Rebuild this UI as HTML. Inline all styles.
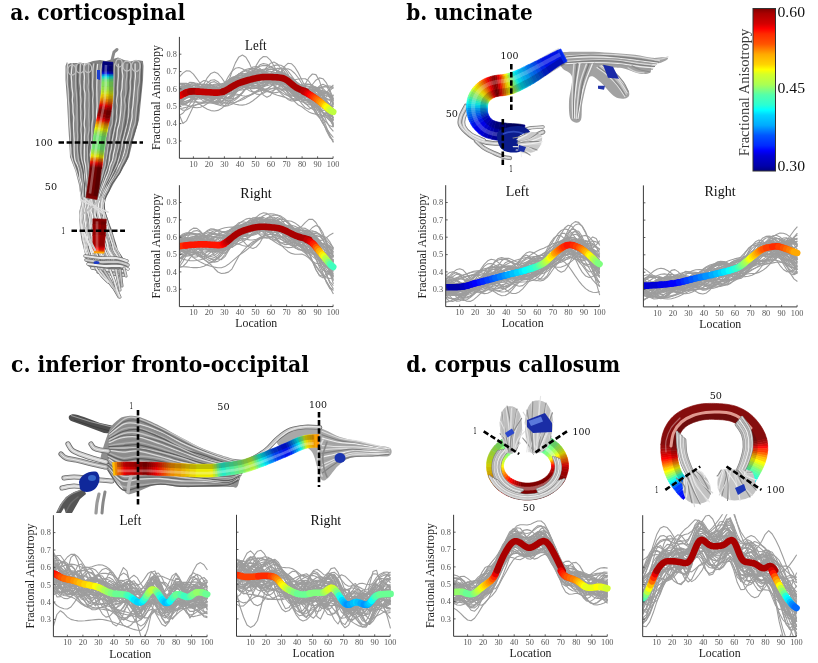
<!DOCTYPE html>
<html><head><meta charset="utf-8"><title>Fiber tract profiles</title>
<style>html,body{margin:0;padding:0;background:#fff;}svg{display:block;}</style></head>
<body><svg width="818" height="663" viewBox="0 0 818 663">
<rect width="818" height="663" fill="#fff"/>
<text x="10.2" y="20.0" font-family="'DejaVu Serif', serif" font-weight="bold" font-size="22" fill="#000" textLength="175.0" lengthAdjust="spacingAndGlyphs">a. corticospinal</text><text x="406.3" y="20.0" font-family="'DejaVu Serif', serif" font-weight="bold" font-size="22" fill="#000" textLength="126.4" lengthAdjust="spacingAndGlyphs">b. uncinate</text><text x="11.0" y="371.5" font-family="'DejaVu Serif', serif" font-weight="bold" font-size="22" fill="#000" textLength="298.0" lengthAdjust="spacingAndGlyphs">c. inferior fronto-occipital</text><text x="406.2" y="371.5" font-family="'DejaVu Serif', serif" font-weight="bold" font-size="22" fill="#000" textLength="214.0" lengthAdjust="spacingAndGlyphs">d. corpus callosum</text>
<path d="M67.0 62.0 L65.5 66.0 L65.5 80.0 L67.0 100.0 L68.0 120.0 L69.3 143.0 L70.0 157.0 L75.4 171.0 L78.8 184.0 L80.8 198.0 L81.0 205.0 L79.4 211.0 L79.4 220.0 L80.0 230.0 L81.5 240.0 L84.0 250.0 L86.0 258.0 L88.0 266.0 L96.0 271.0 L125.0 271.0 L127.0 266.0 L123.0 258.0 L118.0 250.0 L115.0 240.0 L112.0 230.0 L108.0 220.0 L105.2 211.0 L104.5 205.0 L105.9 198.0 L113.4 184.0 L121.5 171.0 L129.0 157.0 L132.4 143.0 L139.0 120.0 L141.0 100.0 L143.0 80.0 L143.5 66.0 L143.0 62.0 L143.0 61.0 L137.0 60.0 L130.0 61.5 L124.0 60.0 L118.0 57.5 L113.0 59.0 L106.0 61.0 L100.0 60.0 L93.0 61.0 L86.0 63.5 L80.0 63.0 L73.0 63.0 L68.0 64.0 Z" fill="#808080" /><path d="M112 60 L114 52 L117 49.5" stroke="#8a8a8a" stroke-width="3" fill="none" stroke-linecap="round"/><g fill="none" stroke-linecap="round"><path d="M67.7 63.7 C67.6 64.7 67.1 68.0 67.1 70.1 C67.1 72.2 67.4 74.1 67.4 76.0 C67.5 78.0 67.1 79.7 67.2 81.8 C67.2 83.9 67.7 86.4 67.9 88.4 C68.1 90.4 68.2 91.7 68.2 93.7 C68.3 95.7 68.3 98.4 68.4 100.4 C68.5 102.4 68.8 103.7 68.9 105.6 C69.1 107.5 69.1 109.7 69.2 111.7 C69.2 113.8 69.2 115.8 69.3 117.9 C69.4 119.9 69.5 122.1 69.6 124.1 C69.7 126.1 69.9 127.8 70.1 129.9 C70.2 131.9 70.5 134.2 70.5 136.2 C70.5 138.2 70.3 140.0 70.3 141.9 C70.3 143.9 70.6 145.9 70.7 148.0 C70.9 150.0 70.6 152.0 70.9 154.0 C71.2 156.0 71.9 157.9 72.5 159.9 C73.1 161.9 73.8 163.9 74.5 165.9 C75.2 167.9 75.9 169.7 76.6 171.7 C77.3 173.6 77.8 175.6 78.4 177.7 C79.0 179.8 79.9 182.1 80.2 184.2 C80.4 186.2 80.0 188.1 80.2 190.1 C80.3 192.0 80.9 194.1 81.2 196.0 C81.5 197.9 81.9 199.5 81.8 201.5 C81.8 203.5 81.3 205.9 81.1 207.9 C80.9 210.0 80.7 211.7 80.6 213.7 C80.5 215.7 80.5 217.7 80.6 219.7 C80.6 221.7 80.5 223.7 80.7 225.8 C80.9 227.9 81.3 230.1 81.7 232.1 C82.1 234.2 82.5 236.1 82.9 238.2 C83.2 240.2 83.4 242.2 83.8 244.2 C84.1 246.2 84.4 248.0 84.9 250.0 C85.4 251.9 86.4 253.9 86.9 255.9 C87.5 257.9 88.0 261.0 88.2 262.0" stroke="#cfcfcf" stroke-width="1.25"/><path d="M70.2 63.9 C70.0 64.9 69.4 68.1 69.3 70.1 C69.1 72.0 69.2 73.8 69.3 75.8 C69.4 77.7 69.6 79.7 69.6 81.7 C69.7 83.7 69.4 85.6 69.5 87.7 C69.7 89.7 70.3 91.9 70.5 93.9 C70.6 95.9 70.3 97.7 70.4 99.7 C70.5 101.7 70.9 103.7 71.0 105.7 C71.1 107.8 70.8 110.1 70.8 112.2 C70.9 114.2 71.0 116.0 71.1 117.9 C71.3 119.9 71.5 121.8 71.7 123.9 C71.8 126.0 71.9 128.4 71.9 130.3 C72.0 132.3 72.0 133.7 72.1 135.7 C72.1 137.6 71.9 139.9 72.0 141.9 C72.1 144.0 72.4 146.1 72.6 148.1 C72.7 150.1 72.6 151.9 72.8 153.9 C73.0 155.8 73.3 157.9 73.9 159.9 C74.4 161.9 75.5 163.8 76.2 165.9 C76.9 168.0 77.6 170.5 78.1 172.5 C78.7 174.4 79.0 175.7 79.6 177.6 C80.1 179.5 80.9 182.0 81.2 184.1 C81.5 186.2 81.1 188.3 81.2 190.2 C81.4 192.2 82.0 193.9 82.2 195.8 C82.3 197.8 82.4 199.7 82.3 201.8 C82.2 203.8 82.0 206.2 81.8 208.3 C81.6 210.3 81.0 212.2 81.0 214.1 C81.0 216.0 81.5 217.7 81.6 219.7 C81.7 221.7 81.6 223.9 81.7 225.9 C81.7 227.9 81.7 229.7 81.9 231.7 C82.2 233.8 82.7 236.1 83.1 238.1 C83.5 240.2 83.8 242.0 84.3 244.0 C84.8 246.0 85.6 248.1 86.1 250.1 C86.7 252.1 87.3 254.1 87.8 256.1 C88.3 258.2 89.0 261.4 89.3 262.5" stroke="#6c6c6c" stroke-width="1.25"/><path d="M72.3 64.0 C72.2 65.0 71.8 67.7 71.6 69.8 C71.4 71.8 71.3 74.1 71.3 76.2 C71.3 78.3 71.6 80.5 71.7 82.4 C71.8 84.3 71.7 85.7 71.9 87.6 C72.1 89.6 72.7 92.2 72.8 94.3 C72.8 96.4 72.4 98.5 72.4 100.3 C72.4 102.2 72.8 103.6 72.9 105.5 C73.0 107.5 72.9 109.8 73.0 111.9 C73.2 113.9 73.7 115.8 73.8 117.8 C73.8 119.8 73.5 121.9 73.5 123.9 C73.5 125.9 73.6 127.7 73.7 129.8 C73.8 131.8 73.9 134.3 74.0 136.3 C74.1 138.3 74.3 139.8 74.3 141.8 C74.3 143.7 74.1 146.0 74.1 148.0 C74.1 150.0 74.2 151.8 74.3 153.8 C74.5 155.9 74.6 158.5 75.2 160.5 C75.7 162.5 77.0 163.8 77.7 165.8 C78.5 167.7 79.2 170.3 79.5 172.3 C79.9 174.4 79.6 175.9 79.9 177.9 C80.3 179.8 81.2 182.1 81.6 184.2 C82.0 186.2 82.1 187.9 82.3 189.9 C82.5 192.0 82.6 194.5 82.9 196.5 C83.1 198.5 83.8 199.8 83.7 201.9 C83.5 203.9 82.6 206.7 82.2 208.7 C81.8 210.7 81.6 211.9 81.5 213.9 C81.5 215.8 81.7 218.1 81.9 220.1 C82.1 222.2 82.5 224.1 82.7 226.1 C82.8 228.1 82.6 230.1 82.8 232.1 C83.1 234.2 83.7 236.5 84.1 238.5 C84.5 240.4 84.9 241.7 85.4 243.7 C85.8 245.6 86.1 248.4 86.6 250.4 C87.1 252.3 87.8 253.5 88.4 255.5 C89.0 257.4 89.7 260.9 90.0 262.0" stroke="#e6e6e6" stroke-width="1.25"/><path d="M74.5 63.7 C74.4 64.8 73.9 68.2 73.7 70.2 C73.5 72.2 73.3 73.9 73.4 76.0 C73.4 78.0 73.9 80.4 74.1 82.4 C74.2 84.5 74.1 86.2 74.2 88.1 C74.3 90.0 74.5 92.0 74.6 94.0 C74.7 95.9 74.6 97.8 74.7 99.8 C74.7 101.8 74.7 104.0 74.9 106.0 C75.1 108.0 75.7 109.9 75.8 112.0 C75.9 114.0 75.7 116.3 75.6 118.3 C75.6 120.4 75.5 122.3 75.4 124.3 C75.3 126.2 75.0 128.2 75.1 130.0 C75.2 131.9 75.9 133.4 76.0 135.4 C76.1 137.4 75.6 140.2 75.6 142.3 C75.6 144.3 75.9 145.8 76.0 147.7 C76.0 149.7 75.8 151.8 76.1 153.9 C76.3 155.9 76.8 158.1 77.3 160.1 C77.7 162.1 78.3 163.8 78.8 165.8 C79.4 167.9 80.0 170.3 80.5 172.3 C81.0 174.4 81.3 176.3 81.7 178.2 C82.0 180.1 82.4 181.7 82.6 183.7 C82.8 185.7 82.8 188.1 82.9 190.2 C83.1 192.2 83.5 193.8 83.6 195.8 C83.7 197.8 83.4 200.0 83.3 202.0 C83.2 204.1 83.2 205.9 83.0 207.9 C82.8 209.9 82.4 212.0 82.4 214.1 C82.4 216.1 82.6 218.2 82.7 220.2 C82.9 222.3 83.2 224.4 83.5 226.3 C83.7 228.3 83.9 230.0 84.1 231.9 C84.4 233.9 84.6 236.1 84.9 238.1 C85.2 240.2 85.7 242.2 86.2 244.1 C86.7 246.1 87.6 247.8 88.1 249.8 C88.6 251.8 88.5 254.2 89.1 256.3 C89.6 258.4 90.8 261.2 91.2 262.2" stroke="#8c8c8c" stroke-width="1.25"/><path d="M76.0 64.4 C76.0 65.4 75.9 68.0 75.9 70.0 C75.8 71.9 75.6 74.0 75.6 76.0 C75.5 78.0 75.7 79.9 75.7 81.9 C75.7 84.0 75.7 86.3 75.8 88.3 C75.9 90.3 76.2 92.2 76.4 94.0 C76.5 95.9 76.6 97.4 76.7 99.4 C76.8 101.4 77.0 103.8 77.0 105.9 C77.1 108.0 77.0 110.0 77.0 112.0 C77.0 114.1 77.0 116.3 77.0 118.2 C77.1 120.2 77.2 121.8 77.2 123.8 C77.2 125.7 77.2 128.0 77.2 130.0 C77.3 132.1 77.7 133.8 77.7 135.9 C77.7 137.9 77.3 140.2 77.2 142.3 C77.2 144.3 77.4 146.4 77.4 148.3 C77.5 150.2 77.6 151.9 77.8 153.8 C77.9 155.8 78.0 158.1 78.5 160.1 C78.9 162.1 79.9 163.9 80.5 166.0 C81.1 168.0 81.6 170.6 82.0 172.5 C82.4 174.5 82.4 175.9 82.6 177.7 C82.8 179.6 83.1 181.6 83.3 183.7 C83.5 185.7 83.7 187.7 83.8 189.8 C83.9 191.9 83.9 194.2 83.9 196.1 C83.9 198.1 83.7 199.6 83.7 201.7 C83.8 203.7 84.3 206.2 84.2 208.3 C84.2 210.3 83.4 212.1 83.3 214.1 C83.3 216.1 83.7 218.2 83.9 220.1 C84.0 222.1 83.9 223.7 84.1 225.7 C84.2 227.6 84.5 229.8 84.8 231.8 C85.0 233.8 85.2 235.8 85.6 237.8 C86.0 239.8 86.6 241.9 87.2 243.9 C87.7 245.9 88.4 247.6 88.9 249.7 C89.5 251.8 89.9 254.4 90.4 256.5 C91.0 258.6 91.9 261.3 92.2 262.3" stroke="#b8b8b8" stroke-width="1.25"/><path d="M78.7 64.3 C78.6 65.2 78.2 67.7 78.0 69.7 C77.8 71.6 77.8 73.9 77.7 75.9 C77.6 77.9 77.4 79.9 77.5 81.9 C77.5 83.8 77.7 85.6 77.8 87.6 C78.0 89.6 78.4 92.0 78.5 94.0 C78.6 96.0 78.5 97.8 78.6 99.8 C78.6 101.7 78.7 103.9 78.7 105.9 C78.8 107.9 78.9 110.0 78.9 112.0 C79.0 114.0 79.0 116.1 79.1 118.1 C79.2 120.1 79.4 122.1 79.4 124.1 C79.4 126.0 79.1 127.9 79.1 129.8 C79.1 131.8 79.4 134.0 79.4 136.0 C79.5 137.9 79.5 139.4 79.3 141.4 C79.2 143.4 78.7 145.9 78.7 148.1 C78.7 150.2 79.2 152.4 79.5 154.3 C79.8 156.3 80.0 158.2 80.3 160.1 C80.7 161.9 81.2 163.7 81.6 165.6 C82.1 167.6 82.8 169.8 83.2 171.8 C83.6 173.9 83.6 176.0 83.9 178.1 C84.1 180.1 84.4 182.2 84.6 184.2 C84.7 186.2 84.6 188.0 84.6 189.9 C84.6 191.9 84.6 193.9 84.8 195.9 C84.9 197.9 85.5 199.9 85.4 201.9 C85.4 204.0 84.9 206.2 84.7 208.2 C84.5 210.3 84.2 212.2 84.1 214.2 C84.0 216.2 83.7 218.2 83.9 220.1 C84.1 222.0 85.0 223.9 85.3 225.8 C85.5 227.8 85.4 229.8 85.6 231.8 C85.9 233.8 86.3 235.7 86.8 237.7 C87.2 239.7 88.1 241.8 88.5 243.9 C88.9 246.0 88.7 248.4 89.2 250.4 C89.8 252.5 91.0 254.2 91.7 256.1 C92.4 258.0 93.1 260.9 93.4 261.9" stroke="#5f5f5f" stroke-width="1.25"/><path d="M80.5 64.2 C80.4 65.2 80.3 68.3 80.2 70.2 C80.1 72.2 80.0 73.9 80.0 75.9 C79.9 77.9 79.8 80.3 79.9 82.3 C80.0 84.3 80.5 85.9 80.6 87.9 C80.7 89.9 80.3 92.3 80.4 94.3 C80.4 96.4 80.9 98.2 80.9 100.2 C81.0 102.1 80.6 103.9 80.6 105.9 C80.5 107.9 80.9 110.0 80.9 112.1 C80.9 114.1 80.7 116.3 80.7 118.3 C80.8 120.3 81.2 122.2 81.3 124.1 C81.3 126.1 80.8 128.1 80.9 130.0 C80.9 131.9 81.4 133.6 81.4 135.6 C81.5 137.6 81.3 140.1 81.2 142.2 C81.1 144.3 80.9 146.2 80.9 148.2 C80.9 150.2 80.8 152.3 81.0 154.3 C81.1 156.3 81.4 158.1 81.8 160.1 C82.3 162.0 83.1 164.3 83.5 166.2 C84.0 168.1 84.3 169.7 84.5 171.7 C84.7 173.7 84.5 176.2 84.7 178.2 C84.8 180.3 85.5 182.1 85.7 184.0 C85.8 185.9 85.7 187.8 85.7 189.7 C85.8 191.7 85.7 193.7 85.7 195.7 C85.7 197.7 85.9 199.8 85.7 201.9 C85.6 203.9 85.0 206.0 84.9 208.0 C84.8 210.0 85.1 211.7 85.1 213.7 C85.1 215.8 84.7 218.2 84.8 220.3 C84.9 222.4 85.3 224.5 85.6 226.4 C85.9 228.4 86.2 230.0 86.6 232.0 C86.9 234.0 87.2 236.4 87.7 238.4 C88.1 240.5 88.6 242.3 89.1 244.1 C89.6 246.0 90.1 247.6 90.6 249.6 C91.1 251.6 91.6 254.3 92.2 256.4 C92.9 258.5 94.1 261.2 94.4 262.1" stroke="#cfcfcf" stroke-width="1.25"/><path d="M82.8 63.9 C82.7 64.8 82.3 67.8 82.2 69.8 C82.0 71.8 82.1 73.8 82.1 75.8 C82.1 77.9 82.0 80.1 82.0 82.1 C82.0 84.2 82.1 86.2 82.2 88.2 C82.3 90.2 82.5 92.2 82.6 94.1 C82.8 96.0 83.1 97.6 83.1 99.6 C83.1 101.6 82.5 104.0 82.5 106.2 C82.5 108.3 83.1 110.5 83.2 112.5 C83.4 114.5 83.4 116.3 83.3 118.2 C83.2 120.2 82.9 122.3 82.9 124.2 C82.8 126.1 83.2 127.8 83.2 129.7 C83.1 131.7 82.7 134.1 82.7 136.0 C82.6 137.9 82.9 139.2 82.9 141.3 C82.9 143.3 82.8 145.9 82.8 148.1 C82.7 150.2 82.5 152.1 82.6 154.1 C82.7 156.0 83.0 157.8 83.3 159.7 C83.6 161.7 84.2 163.9 84.5 165.9 C84.8 168.0 84.9 170.1 85.2 172.1 C85.5 174.0 86.1 175.7 86.3 177.6 C86.4 179.6 85.8 181.5 85.9 183.6 C86.0 185.6 86.8 187.9 86.9 189.9 C86.9 192.0 86.5 193.9 86.4 195.8 C86.2 197.7 86.2 199.4 86.1 201.5 C86.0 203.5 85.9 206.0 85.7 208.1 C85.5 210.1 84.9 211.8 84.8 213.7 C84.8 215.7 85.2 217.9 85.5 220.0 C85.8 222.1 86.2 224.2 86.6 226.3 C86.9 228.3 87.3 230.4 87.7 232.3 C88.1 234.2 88.5 235.7 88.8 237.7 C89.1 239.7 89.3 242.2 89.7 244.3 C90.2 246.3 91.0 248.1 91.5 250.0 C92.0 251.9 92.3 253.5 92.9 255.5 C93.6 257.5 95.0 261.0 95.4 262.1" stroke="#6c6c6c" stroke-width="1.25"/><path d="M84.7 63.9 C84.5 64.9 83.8 68.0 83.8 70.1 C83.7 72.2 84.3 74.4 84.4 76.4 C84.5 78.4 84.2 80.0 84.2 81.9 C84.1 83.9 84.0 86.3 84.1 88.3 C84.2 90.3 84.9 91.9 85.0 93.8 C85.1 95.8 84.9 98.1 84.9 100.0 C84.8 101.9 84.7 103.4 84.7 105.4 C84.7 107.4 84.9 110.1 84.9 112.2 C84.9 114.2 84.8 115.8 84.7 117.8 C84.6 119.8 84.1 122.3 84.2 124.3 C84.2 126.4 84.9 128.1 85.0 130.0 C85.0 131.9 84.7 133.9 84.6 135.8 C84.5 137.8 84.6 139.9 84.5 141.9 C84.5 143.9 84.4 145.9 84.4 148.0 C84.3 150.1 84.3 152.4 84.3 154.4 C84.3 156.4 84.2 158.2 84.4 160.1 C84.6 162.0 85.3 163.7 85.6 165.7 C85.9 167.7 85.9 170.1 86.1 172.2 C86.2 174.2 86.5 175.9 86.7 177.8 C86.9 179.7 87.3 181.7 87.4 183.7 C87.5 185.8 87.2 187.9 87.2 190.0 C87.2 192.1 87.4 194.2 87.3 196.3 C87.2 198.3 86.9 200.3 86.7 202.2 C86.6 204.2 86.4 206.0 86.3 208.0 C86.2 210.0 86.0 212.2 86.0 214.2 C85.9 216.2 85.9 218.1 86.2 220.1 C86.4 222.0 87.2 224.0 87.6 225.9 C88.0 227.9 88.4 229.8 88.7 231.8 C89.0 233.8 89.1 235.9 89.4 237.9 C89.7 239.9 90.1 241.7 90.6 243.7 C91.1 245.7 91.6 247.9 92.2 250.0 C92.8 252.1 93.4 254.3 94.2 256.2 C94.9 258.2 96.3 260.7 96.7 261.6" stroke="#e6e6e6" stroke-width="1.25"/><path d="M87.1 64.0 C86.9 65.1 86.5 68.6 86.4 70.6 C86.3 72.6 86.6 74.3 86.6 76.1 C86.6 77.9 86.3 79.5 86.3 81.5 C86.4 83.4 86.6 85.7 86.7 87.8 C86.7 89.9 86.6 91.9 86.7 94.0 C86.7 96.1 87.0 98.5 87.1 100.5 C87.1 102.6 87.1 104.4 87.1 106.3 C87.1 108.3 86.9 110.2 86.9 112.1 C86.9 114.0 87.1 115.7 87.2 117.6 C87.3 119.6 87.5 121.7 87.4 123.8 C87.3 125.9 86.4 128.4 86.4 130.4 C86.3 132.4 87.0 133.8 87.0 135.8 C87.0 137.9 86.3 140.8 86.1 142.8 C86.0 144.7 86.2 145.6 86.1 147.5 C86.1 149.5 85.7 152.4 85.8 154.5 C85.8 156.6 86.2 158.2 86.4 160.2 C86.7 162.1 87.2 164.3 87.4 166.2 C87.7 168.1 87.7 169.7 87.8 171.6 C87.9 173.5 88.1 175.6 88.2 177.7 C88.2 179.9 88.2 182.4 88.2 184.4 C88.2 186.5 88.2 188.1 88.1 190.0 C88.1 192.0 87.8 194.2 87.8 196.2 C87.7 198.1 87.9 199.6 87.8 201.7 C87.7 203.7 87.2 206.4 87.0 208.4 C86.9 210.5 86.9 212.0 86.9 213.8 C86.9 215.7 86.9 217.4 87.1 219.5 C87.2 221.6 87.6 224.4 87.9 226.4 C88.3 228.5 88.7 229.9 89.1 231.8 C89.5 233.7 89.7 236.0 90.1 238.0 C90.5 240.0 91.2 241.9 91.6 243.9 C92.1 245.9 92.4 248.2 93.1 250.2 C93.7 252.2 95.0 253.8 95.7 255.9 C96.4 257.9 96.9 261.2 97.2 262.3" stroke="#8c8c8c" stroke-width="1.25"/><path d="M88.6 63.9 C88.6 64.9 88.4 68.1 88.4 70.0 C88.3 72.0 88.3 73.8 88.3 75.8 C88.3 77.7 88.5 79.8 88.5 81.7 C88.4 83.7 88.0 85.5 88.1 87.5 C88.2 89.5 88.7 91.5 88.9 93.6 C89.0 95.7 88.9 98.1 88.9 100.2 C89.0 102.2 89.1 104.0 89.1 106.0 C89.0 107.9 88.8 110.1 88.8 112.0 C88.7 114.0 88.7 115.7 88.8 117.7 C88.9 119.6 89.1 121.7 89.1 123.8 C89.1 125.9 89.1 128.1 89.0 130.1 C88.8 132.2 88.3 134.2 88.1 136.1 C88.0 138.0 88.4 139.7 88.3 141.7 C88.2 143.6 87.7 145.7 87.5 147.7 C87.4 149.8 87.6 152.1 87.6 154.1 C87.7 156.1 87.7 157.8 87.8 159.8 C87.9 161.9 88.1 164.3 88.4 166.3 C88.6 168.3 89.3 170.1 89.4 172.0 C89.4 174.0 88.8 176.2 88.8 178.2 C88.8 180.2 89.1 182.1 89.2 184.1 C89.3 186.1 89.4 188.3 89.2 190.2 C89.1 192.2 88.4 193.8 88.2 195.8 C88.1 197.7 88.6 200.0 88.6 202.1 C88.5 204.1 88.1 206.0 87.9 208.0 C87.6 210.0 87.1 212.1 87.2 214.1 C87.3 216.1 88.2 218.1 88.4 220.1 C88.6 222.1 88.4 223.9 88.7 225.9 C88.9 227.9 89.4 230.0 89.9 232.1 C90.3 234.2 90.9 236.5 91.4 238.5 C91.9 240.5 92.2 242.0 92.7 243.9 C93.1 245.8 93.6 248.0 94.2 250.0 C94.8 252.0 95.5 254.1 96.2 256.0 C96.9 258.0 98.0 260.8 98.4 261.7" stroke="#b8b8b8" stroke-width="1.25"/><path d="M91.2 63.9 C91.1 65.0 90.5 68.1 90.4 70.1 C90.2 72.2 90.4 74.5 90.4 76.5 C90.5 78.4 90.6 80.1 90.7 82.0 C90.7 84.0 90.4 86.0 90.5 87.9 C90.5 89.9 90.9 91.9 91.0 93.8 C91.1 95.8 91.1 97.4 91.1 99.5 C91.1 101.6 91.0 104.1 90.9 106.2 C90.9 108.3 90.9 110.1 91.0 112.0 C91.0 113.9 91.3 115.8 91.2 117.8 C91.1 119.8 90.5 122.0 90.5 124.0 C90.4 126.1 90.8 128.1 90.7 130.1 C90.6 132.1 90.2 134.2 90.0 136.1 C89.9 138.0 90.1 139.8 89.9 141.7 C89.6 143.7 88.9 145.7 88.8 147.8 C88.6 149.8 88.8 151.9 88.8 153.9 C88.9 155.9 88.9 157.8 89.1 159.8 C89.3 161.8 89.8 163.9 90.0 166.0 C90.2 168.1 90.3 170.5 90.3 172.4 C90.3 174.4 90.1 176.0 90.1 177.9 C90.1 179.8 90.6 181.7 90.4 183.7 C90.3 185.8 89.4 188.3 89.2 190.3 C89.1 192.4 89.3 194.2 89.3 196.2 C89.3 198.2 89.2 200.3 89.0 202.3 C88.9 204.2 88.4 206.0 88.2 208.0 C88.0 210.0 87.8 212.1 87.9 214.1 C88.0 216.0 88.5 217.8 88.8 219.9 C89.2 222.0 89.7 224.7 90.0 226.8 C90.2 228.8 90.2 230.3 90.6 232.2 C91.0 234.2 91.8 236.3 92.3 238.3 C92.7 240.3 92.8 242.4 93.3 244.3 C93.8 246.3 94.6 248.0 95.3 250.0 C95.9 252.0 96.5 254.1 97.2 256.1 C98.0 258.1 99.2 261.2 99.6 262.3" stroke="#5f5f5f" stroke-width="1.25"/><path d="M93.8 63.9 C93.6 64.9 93.1 67.9 92.9 69.9 C92.8 72.0 92.9 74.1 92.9 76.1 C92.8 78.0 92.6 79.7 92.5 81.7 C92.5 83.7 92.4 86.0 92.6 88.1 C92.7 90.2 93.2 92.3 93.2 94.2 C93.2 96.2 92.7 98.0 92.6 99.9 C92.6 101.9 92.9 104.0 92.9 106.0 C93.0 108.1 92.9 110.2 92.9 112.2 C92.9 114.2 93.0 115.9 92.9 117.8 C92.8 119.8 92.3 121.9 92.1 123.9 C91.9 126.0 91.8 128.0 91.8 130.0 C91.8 131.9 92.0 133.7 91.9 135.7 C91.9 137.7 91.5 139.8 91.4 141.9 C91.4 144.0 91.8 146.1 91.6 148.1 C91.4 150.1 90.5 152.1 90.3 154.1 C90.2 156.1 90.8 157.9 91.0 159.9 C91.1 161.9 91.0 164.1 91.2 166.1 C91.3 168.2 91.7 170.1 91.7 172.1 C91.7 174.1 91.2 176.0 91.0 177.9 C90.8 179.8 90.7 181.6 90.6 183.6 C90.5 185.6 90.4 187.6 90.3 189.7 C90.1 191.9 89.9 194.6 89.8 196.6 C89.6 198.6 89.8 199.9 89.6 201.8 C89.4 203.6 88.6 205.8 88.4 207.8 C88.2 209.7 88.3 211.4 88.5 213.4 C88.7 215.4 89.3 217.6 89.7 219.8 C90.0 222.1 90.3 224.7 90.7 226.7 C91.0 228.8 91.4 230.1 91.7 232.0 C92.1 233.9 92.6 235.9 93.0 237.9 C93.4 239.9 93.6 241.9 94.1 243.9 C94.7 245.9 95.6 247.9 96.2 249.9 C96.9 251.9 97.3 253.6 97.9 255.7 C98.5 257.7 99.7 260.9 100.1 262.0" stroke="#cfcfcf" stroke-width="1.25"/><path d="M95.4 64.1 C95.3 65.1 95.2 67.9 95.1 69.9 C95.0 71.9 95.0 74.1 95.0 76.1 C94.9 78.0 94.9 79.6 94.9 81.5 C94.9 83.4 95.1 85.5 95.1 87.6 C95.0 89.7 94.6 92.0 94.5 94.2 C94.5 96.3 94.7 98.5 94.8 100.4 C94.8 102.4 94.9 103.8 94.9 105.7 C94.9 107.6 94.8 109.8 94.9 111.9 C94.9 114.0 95.2 116.4 95.2 118.4 C95.1 120.4 94.8 121.9 94.7 123.9 C94.5 125.9 94.3 128.3 94.1 130.3 C93.9 132.2 93.5 133.8 93.4 135.8 C93.3 137.8 93.5 140.2 93.4 142.2 C93.3 144.2 93.0 145.9 92.8 147.9 C92.5 149.9 92.0 152.3 92.0 154.3 C91.9 156.2 92.3 157.7 92.4 159.6 C92.4 161.6 92.2 163.7 92.4 165.8 C92.5 167.9 93.2 170.1 93.2 172.2 C93.1 174.3 92.2 176.5 92.0 178.5 C91.9 180.4 92.5 181.8 92.3 183.7 C92.0 185.7 90.9 188.2 90.6 190.2 C90.3 192.3 90.5 194.0 90.4 196.0 C90.3 198.0 90.1 200.3 90.0 202.3 C89.9 204.4 90.0 206.2 90.0 208.2 C89.9 210.2 89.5 212.2 89.5 214.1 C89.6 216.0 90.1 217.6 90.4 219.6 C90.8 221.6 91.3 223.8 91.7 225.9 C92.1 228.0 92.2 230.0 92.6 232.0 C93.0 234.1 93.5 236.3 94.0 238.3 C94.6 240.2 95.4 242.0 95.8 243.9 C96.3 245.9 96.1 248.0 96.7 250.0 C97.2 252.1 98.3 254.2 99.1 256.2 C99.8 258.2 100.8 261.1 101.2 262.0" stroke="#6c6c6c" stroke-width="1.25"/><path d="M97.6 64.3 C97.5 65.3 97.1 68.5 97.0 70.4 C97.0 72.2 97.2 73.6 97.2 75.6 C97.2 77.5 97.0 80.0 96.9 82.1 C96.9 84.1 96.8 85.8 96.8 87.8 C96.8 89.9 96.9 92.0 96.9 94.1 C96.9 96.2 97.0 98.4 97.0 100.3 C97.0 102.3 97.2 103.9 97.1 105.9 C97.1 107.8 96.7 110.2 96.6 112.2 C96.5 114.3 96.6 116.0 96.6 118.1 C96.6 120.1 96.6 122.2 96.5 124.3 C96.4 126.3 96.2 128.4 96.0 130.4 C95.8 132.4 95.5 134.2 95.3 136.2 C95.1 138.1 94.9 140.1 94.8 142.1 C94.6 144.0 94.8 145.7 94.5 147.8 C94.3 149.8 93.5 152.2 93.4 154.2 C93.4 156.3 94.0 158.1 94.0 160.0 C94.1 162.0 93.8 163.9 93.8 165.9 C93.9 167.9 94.1 170.0 94.1 172.0 C94.1 174.0 94.0 176.0 93.7 178.0 C93.5 180.1 93.0 182.2 92.7 184.2 C92.4 186.2 92.2 188.1 91.9 190.1 C91.6 192.0 91.0 194.0 90.8 195.9 C90.7 197.9 91.0 199.8 90.9 201.8 C90.8 203.9 90.3 206.1 90.2 208.2 C90.1 210.3 90.2 212.5 90.3 214.5 C90.4 216.4 90.7 218.1 91.0 220.0 C91.3 221.8 91.8 223.5 92.2 225.5 C92.5 227.5 92.6 230.0 93.0 232.1 C93.5 234.3 94.1 236.4 94.6 238.4 C95.1 240.3 95.6 242.0 96.2 244.0 C96.8 245.9 97.3 248.1 98.1 250.1 C98.8 252.0 99.9 253.7 100.6 255.7 C101.4 257.8 102.2 261.1 102.5 262.2" stroke="#e6e6e6" stroke-width="1.25"/><path d="M99.6 64.3 C99.6 65.2 99.5 68.0 99.4 70.0 C99.2 72.0 98.9 74.2 98.9 76.3 C98.8 78.3 98.9 80.3 99.0 82.3 C99.0 84.2 99.3 86.1 99.3 88.1 C99.3 90.0 98.8 92.0 98.7 94.0 C98.7 95.9 99.1 97.9 99.2 100.0 C99.2 102.0 99.2 104.0 99.2 106.0 C99.1 108.0 98.9 109.8 98.8 111.9 C98.7 113.9 98.8 116.3 98.7 118.3 C98.6 120.3 98.4 122.0 98.2 123.9 C98.0 125.9 97.8 128.2 97.6 130.2 C97.3 132.2 96.9 133.8 96.8 135.9 C96.7 137.9 97.0 140.3 96.9 142.4 C96.8 144.4 96.4 146.3 96.1 148.3 C95.9 150.2 95.3 152.3 95.2 154.2 C95.1 156.1 95.6 157.8 95.5 159.7 C95.5 161.7 95.0 163.8 95.0 165.9 C94.9 168.0 95.4 170.1 95.3 172.1 C95.2 174.2 94.8 176.3 94.5 178.2 C94.3 180.1 94.3 181.7 94.0 183.7 C93.7 185.6 93.1 187.8 92.8 189.9 C92.5 191.9 92.4 193.9 92.3 195.9 C92.1 197.9 91.8 200.0 91.7 202.0 C91.5 204.1 91.6 206.0 91.5 208.0 C91.4 210.0 90.9 211.9 91.0 214.0 C91.1 216.1 91.5 218.7 91.8 220.6 C92.2 222.6 92.5 223.9 92.9 225.8 C93.3 227.7 93.9 230.1 94.3 232.2 C94.7 234.3 94.8 236.2 95.3 238.2 C95.9 240.2 96.7 242.0 97.3 244.0 C97.9 245.9 98.0 247.8 98.7 249.8 C99.3 251.8 100.3 253.7 101.1 255.8 C102.0 257.9 103.3 261.3 103.8 262.4" stroke="#8c8c8c" stroke-width="1.25"/><path d="M101.5 64.0 C101.4 65.0 100.8 67.9 100.8 69.9 C100.7 71.9 101.2 74.0 101.2 76.1 C101.3 78.1 101.1 80.2 101.1 82.2 C101.1 84.2 101.0 86.0 101.1 87.9 C101.1 89.8 101.5 91.5 101.4 93.5 C101.3 95.5 100.8 97.8 100.7 99.8 C100.6 101.9 100.7 103.8 100.7 105.8 C100.7 107.8 100.7 109.8 100.7 111.8 C100.7 113.9 100.7 116.1 100.6 118.2 C100.5 120.2 100.4 122.1 100.2 124.0 C100.0 126.0 99.6 127.7 99.4 129.7 C99.1 131.8 99.1 134.1 98.9 136.2 C98.8 138.3 98.6 140.3 98.5 142.3 C98.3 144.3 98.3 146.3 98.1 148.3 C97.9 150.3 97.3 152.3 97.1 154.3 C97.0 156.4 97.2 158.6 97.2 160.5 C97.1 162.5 97.0 164.2 96.9 166.1 C96.8 168.0 96.7 170.1 96.4 172.0 C96.1 174.0 95.4 175.9 95.2 177.9 C94.9 180.0 95.0 182.2 94.7 184.2 C94.4 186.3 93.8 188.1 93.5 190.0 C93.3 192.0 93.4 193.9 93.1 195.9 C92.9 197.8 92.5 199.8 92.3 201.9 C92.0 203.9 91.6 206.1 91.5 208.1 C91.5 210.1 91.8 211.8 91.9 213.9 C92.1 215.9 92.0 218.3 92.3 220.4 C92.6 222.4 93.4 224.2 93.9 226.2 C94.4 228.2 95.0 230.2 95.4 232.2 C95.8 234.2 96.0 236.0 96.4 238.0 C96.8 239.9 97.1 242.0 97.6 244.0 C98.1 246.1 98.7 248.0 99.5 250.0 C100.4 252.0 101.8 254.2 102.6 256.2 C103.5 258.1 104.2 260.8 104.5 261.7" stroke="#b8b8b8" stroke-width="1.25"/><path d="M103.9 64.4 C103.8 65.3 103.3 68.2 103.2 70.1 C103.0 72.0 103.1 74.0 103.1 76.0 C103.1 77.9 103.1 79.7 103.1 81.6 C103.1 83.5 102.9 85.5 103.0 87.6 C103.0 89.7 103.4 92.2 103.4 94.3 C103.4 96.3 103.1 98.1 103.0 100.1 C102.9 102.0 102.9 104.1 102.9 106.1 C102.8 108.0 102.8 110.0 102.8 111.9 C102.7 113.9 102.7 115.7 102.5 117.7 C102.4 119.7 102.0 121.8 101.8 123.9 C101.7 125.9 101.6 127.9 101.5 129.9 C101.4 131.9 101.5 133.9 101.2 136.0 C101.0 138.0 100.3 140.0 100.0 142.1 C99.8 144.2 99.9 146.5 99.8 148.5 C99.7 150.4 99.4 151.9 99.2 153.9 C99.0 155.8 98.6 158.2 98.5 160.3 C98.3 162.3 98.3 164.2 98.2 166.2 C98.1 168.2 97.8 170.4 97.6 172.4 C97.4 174.4 97.3 176.4 97.0 178.3 C96.7 180.1 96.1 181.6 95.7 183.6 C95.2 185.6 94.5 188.1 94.2 190.1 C93.8 192.0 93.8 193.3 93.6 195.3 C93.3 197.3 92.8 200.2 92.6 202.3 C92.4 204.4 92.4 205.9 92.4 207.9 C92.4 209.8 92.4 211.9 92.6 214.0 C92.7 216.1 92.9 218.3 93.3 220.3 C93.7 222.3 94.5 224.0 95.0 225.9 C95.4 227.8 95.5 229.6 95.8 231.7 C96.1 233.8 96.4 236.3 97.0 238.3 C97.6 240.4 98.7 242.1 99.4 244.1 C100.0 246.0 100.2 247.8 100.8 249.8 C101.4 251.9 102.3 254.2 103.1 256.2 C103.9 258.3 105.2 261.0 105.6 262.0" stroke="#5f5f5f" stroke-width="1.25"/><path d="M105.4 63.7 C105.4 64.7 105.4 67.8 105.4 69.9 C105.4 71.9 105.4 73.8 105.4 75.9 C105.3 77.9 105.2 80.0 105.2 82.0 C105.2 84.1 105.4 86.0 105.3 88.0 C105.3 90.0 105.0 92.0 105.0 93.9 C105.0 95.9 105.3 98.0 105.2 100.0 C105.2 101.9 104.7 103.7 104.6 105.8 C104.5 107.8 104.7 110.1 104.8 112.1 C104.8 114.2 104.9 116.0 104.8 117.9 C104.8 119.9 104.6 121.9 104.3 123.9 C104.1 125.9 103.5 127.8 103.2 129.9 C102.9 131.9 102.9 134.3 102.7 136.3 C102.5 138.3 102.1 139.9 101.8 141.9 C101.5 143.8 101.1 146.0 100.8 148.0 C100.6 150.1 100.7 152.0 100.5 154.0 C100.4 155.9 100.1 157.8 99.9 159.8 C99.7 161.8 99.5 164.1 99.4 166.1 C99.3 168.1 99.4 170.0 99.1 172.0 C98.9 174.0 98.2 176.0 97.8 178.0 C97.4 179.9 96.9 181.6 96.5 183.7 C96.2 185.7 95.9 188.1 95.5 190.1 C95.2 192.2 94.8 193.9 94.5 195.9 C94.1 197.8 93.6 199.8 93.4 201.8 C93.1 203.8 92.9 205.9 92.9 208.0 C92.9 210.0 93.1 212.0 93.3 214.0 C93.5 216.0 93.9 217.9 94.2 219.9 C94.6 221.9 95.2 223.9 95.6 225.9 C96.1 228.0 96.3 230.1 96.8 232.0 C97.2 234.0 97.9 235.7 98.3 237.7 C98.8 239.7 98.9 242.1 99.4 244.1 C100.0 246.0 100.7 247.6 101.4 249.5 C102.2 251.5 102.8 253.7 103.7 255.8 C104.6 257.9 106.1 261.0 106.6 262.1" stroke="#cfcfcf" stroke-width="1.25"/><path d="M108.2 64.3 C108.2 65.2 108.3 67.7 108.2 69.7 C108.1 71.7 107.7 74.3 107.5 76.3 C107.3 78.3 107.1 79.7 107.1 81.7 C107.1 83.7 107.3 86.3 107.3 88.3 C107.4 90.3 107.6 91.6 107.5 93.6 C107.4 95.5 106.9 97.9 106.7 100.0 C106.6 102.1 106.7 104.0 106.7 106.1 C106.7 108.2 106.7 110.4 106.7 112.4 C106.7 114.4 106.6 116.1 106.5 118.1 C106.3 120.0 106.2 122.3 105.9 124.3 C105.6 126.3 105.1 128.2 104.9 130.1 C104.6 132.0 104.3 133.7 104.2 135.7 C104.0 137.7 104.0 140.1 103.9 142.1 C103.7 144.2 103.5 146.1 103.2 148.1 C103.0 150.1 102.7 152.1 102.4 154.0 C102.1 156.0 101.9 158.0 101.7 159.9 C101.5 161.9 101.5 163.8 101.3 165.8 C101.1 167.8 100.9 169.9 100.5 172.0 C100.1 174.0 99.5 176.0 99.0 178.0 C98.5 180.1 98.1 182.4 97.6 184.4 C97.1 186.3 96.6 187.8 96.2 189.8 C95.7 191.7 95.3 194.1 94.9 196.2 C94.4 198.2 93.6 200.3 93.4 202.3 C93.2 204.2 93.7 205.6 93.8 207.6 C93.9 209.6 93.7 212.2 93.8 214.2 C93.9 216.3 94.2 217.9 94.6 219.9 C95.0 221.9 95.7 224.1 96.2 226.2 C96.8 228.2 97.5 230.0 98.0 232.0 C98.5 234.0 98.7 236.2 99.2 238.2 C99.6 240.2 100.3 242.1 100.9 244.0 C101.4 245.9 102.0 247.7 102.7 249.7 C103.4 251.7 104.3 253.8 105.1 255.9 C105.9 258.0 107.0 261.0 107.4 262.1" stroke="#6c6c6c" stroke-width="1.25"/><path d="M110.0 64.6 C110.0 65.5 109.9 68.2 109.9 70.1 C109.9 72.0 110.2 74.3 110.0 76.3 C109.9 78.3 109.1 80.1 109.1 82.0 C109.0 84.0 109.5 85.9 109.5 87.9 C109.6 89.8 109.4 91.9 109.3 93.9 C109.2 95.9 109.3 97.6 109.2 99.6 C109.0 101.6 108.5 103.8 108.4 105.9 C108.3 108.0 108.7 110.3 108.7 112.3 C108.7 114.3 108.5 115.9 108.4 117.8 C108.2 119.8 108.2 122.0 108.0 124.0 C107.9 126.0 107.8 128.0 107.4 130.0 C107.0 132.0 106.0 133.9 105.7 135.8 C105.3 137.8 105.3 139.7 105.1 141.7 C104.8 143.7 104.6 145.8 104.4 147.8 C104.2 149.9 104.0 151.8 103.8 153.9 C103.6 155.9 103.5 158.1 103.2 160.1 C103.0 162.1 102.7 164.1 102.3 166.1 C101.9 168.0 101.3 169.6 100.9 171.6 C100.4 173.6 100.1 176.0 99.7 178.1 C99.2 180.1 98.5 181.8 98.1 183.9 C97.6 186.0 97.4 188.5 97.0 190.5 C96.6 192.5 95.9 193.9 95.6 195.9 C95.2 197.8 95.1 200.0 94.9 202.1 C94.6 204.1 94.2 206.3 94.1 208.3 C94.0 210.3 94.1 212.1 94.3 214.1 C94.6 216.0 95.2 218.3 95.6 220.2 C96.0 222.2 96.4 223.7 96.8 225.7 C97.3 227.6 98.0 229.9 98.5 231.9 C99.0 234.0 99.5 235.9 100.0 237.9 C100.6 239.9 101.2 242.2 101.7 244.2 C102.3 246.1 102.6 247.8 103.3 249.7 C104.1 251.6 105.5 253.5 106.3 255.6 C107.2 257.7 108.1 261.1 108.5 262.2" stroke="#e6e6e6" stroke-width="1.25"/><path d="M112.0 64.3 C112.0 65.3 112.4 68.4 112.4 70.4 C112.3 72.4 112.0 74.3 111.9 76.2 C111.7 78.2 111.5 80.1 111.5 82.1 C111.4 84.1 111.6 86.0 111.5 88.0 C111.5 90.0 111.5 91.9 111.3 93.9 C111.1 96.0 110.7 98.0 110.6 100.1 C110.5 102.2 110.9 104.5 110.9 106.5 C110.9 108.5 110.8 110.1 110.8 112.0 C110.7 114.0 110.8 116.2 110.6 118.2 C110.4 120.1 110.0 121.9 109.7 123.9 C109.3 125.9 108.7 128.1 108.4 130.0 C108.2 132.0 108.6 133.5 108.3 135.5 C108.0 137.6 107.1 140.1 106.8 142.2 C106.4 144.3 106.6 146.2 106.3 148.1 C106.0 150.0 105.3 151.8 105.0 153.9 C104.8 155.9 105.0 158.2 104.7 160.1 C104.5 162.1 104.1 163.9 103.7 165.8 C103.4 167.7 103.2 169.7 102.7 171.7 C102.2 173.7 101.2 175.7 100.7 177.7 C100.2 179.7 100.2 181.9 99.7 183.9 C99.2 185.9 98.3 187.4 97.8 189.5 C97.2 191.5 97.0 194.1 96.5 196.1 C96.0 198.1 95.0 199.7 94.8 201.6 C94.6 203.5 95.1 205.7 95.2 207.8 C95.4 209.8 95.6 211.8 95.7 213.9 C95.8 216.0 95.3 218.2 95.7 220.3 C96.1 222.3 97.5 224.2 98.1 226.2 C98.7 228.1 98.8 230.0 99.3 231.9 C99.9 233.9 100.7 235.7 101.1 237.8 C101.6 239.8 101.5 242.1 102.0 244.2 C102.5 246.3 103.2 248.4 104.0 250.3 C104.8 252.3 106.0 254.0 106.9 255.9 C107.8 257.7 109.1 260.5 109.5 261.4" stroke="#8c8c8c" stroke-width="1.25"/><path d="M114.5 63.8 C114.4 64.9 114.1 68.3 114.0 70.4 C113.9 72.4 113.9 74.2 113.9 76.2 C113.9 78.2 113.9 80.2 113.8 82.2 C113.7 84.2 113.7 86.3 113.6 88.3 C113.5 90.3 113.4 92.1 113.3 94.1 C113.1 96.1 113.1 98.3 112.9 100.3 C112.8 102.3 112.3 104.1 112.3 106.0 C112.2 108.0 112.7 110.0 112.7 112.1 C112.7 114.1 112.4 116.4 112.3 118.3 C112.2 120.3 112.5 121.9 112.1 123.8 C111.8 125.7 110.6 127.7 110.2 129.7 C109.7 131.7 109.7 133.9 109.5 136.0 C109.2 138.1 109.0 140.3 108.7 142.3 C108.4 144.3 108.1 146.1 107.8 148.0 C107.5 149.9 107.4 151.7 107.1 153.8 C106.9 155.9 106.4 158.7 106.1 160.7 C105.7 162.7 105.5 163.8 105.0 165.8 C104.5 167.7 103.7 170.2 103.2 172.3 C102.7 174.3 102.3 175.8 101.9 177.8 C101.5 179.9 101.5 182.3 100.9 184.4 C100.3 186.4 98.8 187.9 98.2 189.9 C97.5 191.9 97.6 194.1 97.1 196.2 C96.7 198.3 95.8 200.5 95.6 202.4 C95.4 204.4 95.9 205.9 95.9 207.7 C95.9 209.6 95.3 211.6 95.5 213.6 C95.7 215.7 96.7 218.2 97.3 220.3 C97.8 222.3 98.3 223.9 98.8 225.8 C99.3 227.8 99.9 230.2 100.3 232.1 C100.8 234.1 101.0 235.5 101.5 237.6 C102.0 239.6 102.8 242.2 103.4 244.3 C104.0 246.4 104.4 248.1 105.1 250.0 C105.9 252.0 107.0 254.2 107.8 256.2 C108.7 258.2 109.8 261.0 110.2 262.0" stroke="#b8b8b8" stroke-width="1.25"/><path d="M116.2 64.0 C116.1 65.0 115.9 68.2 115.9 70.2 C115.9 72.2 116.0 73.9 116.0 75.8 C116.0 77.8 116.0 80.0 115.9 82.0 C115.9 84.0 115.5 85.9 115.5 87.8 C115.4 89.8 115.6 91.7 115.5 93.8 C115.5 95.8 115.2 97.9 115.1 99.9 C115.0 102.0 114.9 104.0 114.9 105.9 C114.9 107.9 115.2 109.5 115.1 111.6 C115.0 113.6 114.6 116.0 114.4 118.0 C114.2 120.0 114.0 121.6 113.8 123.6 C113.5 125.5 113.1 127.6 112.8 129.6 C112.4 131.7 112.0 134.1 111.6 136.1 C111.3 138.1 110.8 139.8 110.5 141.8 C110.1 143.8 109.7 146.1 109.4 148.0 C109.1 150.0 108.9 151.5 108.6 153.5 C108.2 155.5 107.6 158.1 107.2 160.2 C106.9 162.3 107.0 164.1 106.6 166.1 C106.2 168.1 105.6 170.1 105.0 172.1 C104.4 174.1 103.9 176.1 103.2 178.1 C102.5 180.0 101.7 181.8 101.0 183.8 C100.3 185.8 99.7 188.0 99.1 190.0 C98.5 192.1 97.7 194.0 97.3 196.0 C97.0 197.9 97.0 199.8 96.8 201.9 C96.7 204.0 96.5 206.4 96.3 208.4 C96.2 210.3 95.9 211.7 96.2 213.6 C96.5 215.5 97.4 217.7 98.0 219.8 C98.6 221.9 99.2 224.1 99.7 226.2 C100.2 228.2 100.5 230.2 101.1 232.2 C101.6 234.2 102.6 236.3 103.1 238.2 C103.6 240.2 103.6 241.9 104.1 244.0 C104.6 246.0 105.1 248.4 105.9 250.4 C106.7 252.4 108.0 253.9 108.9 255.8 C109.9 257.8 111.2 261.1 111.6 262.1" stroke="#5f5f5f" stroke-width="1.25"/><path d="M118.3 64.0 C118.3 65.1 118.3 68.2 118.3 70.2 C118.3 72.2 118.4 74.1 118.4 76.1 C118.3 78.1 118.0 80.1 117.8 82.1 C117.7 84.1 117.5 86.3 117.5 88.3 C117.4 90.3 117.7 92.0 117.5 94.1 C117.3 96.1 116.6 98.6 116.5 100.6 C116.5 102.6 117.2 104.4 117.2 106.3 C117.2 108.3 116.6 110.3 116.6 112.2 C116.5 114.1 117.1 115.8 116.9 117.8 C116.8 119.8 116.0 122.1 115.6 124.2 C115.2 126.2 114.8 128.1 114.4 130.1 C113.9 132.1 113.4 134.1 113.0 136.2 C112.6 138.2 112.1 140.5 111.9 142.5 C111.6 144.4 111.8 145.9 111.5 147.8 C111.2 149.7 110.2 152.0 109.9 154.0 C109.5 156.0 109.6 157.8 109.4 159.8 C109.1 161.8 108.7 164.1 108.2 166.1 C107.7 168.1 106.8 169.7 106.1 171.7 C105.4 173.6 104.8 175.9 104.2 178.0 C103.5 180.1 103.0 182.3 102.3 184.3 C101.7 186.3 100.8 188.2 100.2 190.1 C99.6 192.1 99.2 194.2 98.7 196.2 C98.2 198.2 97.5 200.2 97.1 202.2 C96.8 204.2 96.6 206.2 96.6 208.1 C96.7 210.1 97.0 211.8 97.4 213.7 C97.8 215.7 98.3 218.1 98.8 220.0 C99.3 222.0 100.0 223.6 100.6 225.7 C101.2 227.7 101.9 230.3 102.4 232.3 C102.8 234.4 103.0 236.0 103.5 238.0 C104.0 239.9 104.6 242.0 105.2 244.0 C105.9 246.0 106.4 247.8 107.1 249.8 C107.9 251.8 108.7 253.9 109.7 256.0 C110.7 258.0 112.6 260.9 113.1 261.9" stroke="#cfcfcf" stroke-width="1.25"/><path d="M120.3 63.8 C120.3 64.9 120.5 68.3 120.5 70.3 C120.4 72.4 120.1 74.1 120.1 76.1 C120.0 78.0 120.2 80.1 120.1 82.1 C120.1 84.2 119.9 86.3 119.8 88.3 C119.7 90.2 119.6 92.0 119.6 93.9 C119.6 95.8 120.0 97.6 119.8 99.7 C119.6 101.7 118.7 104.2 118.5 106.3 C118.3 108.3 118.6 110.0 118.5 111.9 C118.5 113.9 118.4 116.2 118.2 118.2 C118.0 120.2 117.6 121.9 117.2 123.9 C116.8 125.8 116.3 127.7 115.9 129.8 C115.5 131.9 115.2 134.2 114.9 136.3 C114.5 138.4 114.3 140.1 114.0 142.1 C113.7 144.1 113.2 146.3 112.8 148.3 C112.4 150.3 111.9 152.2 111.6 154.1 C111.3 156.1 111.4 157.9 110.9 159.9 C110.5 161.9 109.5 164.1 108.9 166.1 C108.3 168.1 107.9 169.9 107.3 171.8 C106.7 173.7 106.0 175.6 105.2 177.7 C104.5 179.8 103.8 182.4 103.0 184.5 C102.3 186.6 101.6 188.3 100.9 190.2 C100.2 192.2 99.3 194.1 98.7 196.0 C98.2 198.0 97.9 199.9 97.7 202.0 C97.5 204.0 97.6 206.5 97.6 208.5 C97.7 210.6 97.7 212.4 98.1 214.3 C98.4 216.3 99.0 218.3 99.5 220.2 C100.0 222.1 100.5 223.9 101.1 225.8 C101.7 227.8 102.3 229.8 102.9 231.8 C103.4 233.8 103.9 235.7 104.5 237.7 C105.0 239.8 105.5 241.9 106.1 244.0 C106.8 246.2 107.5 248.5 108.3 250.4 C109.1 252.4 110.1 253.9 111.1 255.9 C112.0 257.8 113.4 261.2 113.8 262.2" stroke="#6c6c6c" stroke-width="1.25"/><path d="M122.6 63.8 C122.5 64.8 122.0 68.0 122.1 70.0 C122.1 72.0 122.8 73.9 122.9 76.0 C122.9 78.0 122.4 80.1 122.3 82.1 C122.1 84.1 122.2 86.2 122.0 88.2 C121.8 90.2 121.1 92.0 121.0 94.0 C120.9 95.9 121.3 98.0 121.3 100.0 C121.3 102.0 121.2 103.8 121.1 105.9 C121.0 108.0 120.9 110.4 120.7 112.4 C120.5 114.5 120.3 116.1 120.0 118.0 C119.8 120.0 119.6 122.3 119.1 124.2 C118.7 126.1 117.9 127.6 117.5 129.6 C117.1 131.6 117.1 134.2 116.8 136.2 C116.5 138.3 116.1 139.8 115.8 141.8 C115.5 143.8 115.4 146.0 115.0 148.0 C114.7 150.1 113.9 152.2 113.5 154.1 C113.1 156.1 113.2 158.0 112.6 160.0 C112.0 161.9 110.8 163.8 110.1 165.9 C109.5 167.9 109.4 170.2 108.7 172.2 C108.0 174.3 106.9 176.1 106.1 178.1 C105.3 180.0 104.5 182.1 103.7 184.0 C102.9 186.0 102.3 187.9 101.5 189.9 C100.8 191.9 99.9 193.8 99.3 195.8 C98.8 197.7 98.2 199.4 98.0 201.5 C97.9 203.6 98.2 206.2 98.4 208.3 C98.5 210.4 98.6 212.0 98.9 213.9 C99.3 215.9 100.0 217.9 100.6 219.9 C101.1 222.0 101.6 224.2 102.2 226.3 C102.7 228.4 103.3 230.4 103.9 232.4 C104.4 234.3 104.8 236.1 105.3 238.0 C105.9 239.9 106.5 241.7 107.1 243.7 C107.6 245.8 107.8 248.1 108.5 250.2 C109.2 252.3 110.4 254.3 111.5 256.3 C112.5 258.3 114.2 261.3 114.8 262.3" stroke="#e6e6e6" stroke-width="1.25"/><path d="M125.0 64.2 C125.0 65.1 125.2 68.0 125.1 70.0 C125.0 72.0 124.7 74.2 124.5 76.3 C124.3 78.4 124.2 80.4 124.1 82.3 C124.1 84.2 124.2 86.0 124.1 87.9 C124.0 89.8 123.3 91.6 123.3 93.5 C123.2 95.5 123.8 97.5 123.7 99.6 C123.6 101.8 122.7 104.2 122.5 106.2 C122.4 108.3 122.6 110.1 122.6 112.1 C122.5 114.0 122.4 115.9 122.1 117.9 C121.8 119.9 121.2 121.8 120.9 123.8 C120.5 125.9 120.3 128.3 120.0 130.3 C119.7 132.3 119.5 134.0 118.9 136.0 C118.4 138.0 117.3 140.3 116.8 142.1 C116.4 144.0 116.5 145.4 116.3 147.3 C116.1 149.3 116.0 151.9 115.6 154.1 C115.2 156.2 114.4 158.1 113.8 160.1 C113.2 162.1 112.6 164.1 111.9 166.1 C111.3 168.1 110.7 170.0 109.9 172.0 C109.2 174.0 108.3 176.1 107.6 178.1 C106.8 180.1 106.4 182.1 105.5 184.1 C104.7 186.0 103.4 187.9 102.5 189.9 C101.7 191.9 101.1 194.0 100.5 196.0 C100.0 198.1 99.5 199.9 99.2 202.0 C98.8 204.0 98.6 206.2 98.7 208.2 C98.8 210.2 99.5 212.2 99.9 214.1 C100.2 216.0 100.5 217.7 100.9 219.7 C101.4 221.7 102.0 224.0 102.6 226.0 C103.2 228.1 104.0 230.0 104.6 232.0 C105.2 234.0 105.5 236.0 106.0 238.0 C106.5 239.9 106.9 241.7 107.5 243.7 C108.0 245.7 108.6 248.1 109.5 250.2 C110.3 252.2 111.7 253.8 112.7 255.8 C113.8 257.7 115.3 260.9 115.8 262.0" stroke="#8c8c8c" stroke-width="1.25"/><path d="M127.1 64.1 C127.1 65.1 126.9 68.0 126.8 70.0 C126.8 71.9 126.9 73.8 126.8 75.8 C126.6 77.9 126.1 80.2 126.0 82.2 C125.8 84.3 125.9 86.0 125.9 88.0 C125.8 90.0 126.0 92.3 125.8 94.3 C125.5 96.2 124.6 97.9 124.5 99.7 C124.4 101.6 125.1 103.5 125.1 105.6 C125.1 107.6 124.8 109.8 124.5 111.9 C124.3 114.0 124.1 115.9 123.8 118.0 C123.4 120.0 122.9 122.2 122.6 124.1 C122.3 126.0 122.4 127.6 122.0 129.6 C121.6 131.7 120.7 134.3 120.2 136.3 C119.8 138.3 119.5 140.0 119.2 141.9 C118.9 143.8 118.8 145.6 118.4 147.6 C118.0 149.6 117.4 151.9 116.8 154.0 C116.3 156.1 115.9 158.2 115.2 160.2 C114.6 162.2 113.6 164.0 112.8 166.0 C112.1 168.0 111.6 170.3 110.9 172.3 C110.2 174.3 109.6 175.9 108.7 177.8 C107.8 179.8 106.5 182.0 105.6 184.0 C104.7 186.0 104.0 187.9 103.3 189.9 C102.5 191.8 101.7 193.9 101.2 195.9 C100.7 197.9 100.5 200.0 100.2 202.0 C99.8 204.0 99.2 205.7 99.2 207.7 C99.2 209.8 99.6 212.2 100.1 214.3 C100.5 216.4 101.2 218.4 101.8 220.4 C102.5 222.3 103.4 224.2 104.0 226.1 C104.6 228.1 104.8 230.1 105.3 232.0 C105.9 233.9 106.6 235.6 107.1 237.6 C107.7 239.5 108.3 241.7 108.9 243.7 C109.5 245.8 109.7 247.7 110.5 249.9 C111.4 252.0 113.0 254.6 114.0 256.7 C115.0 258.7 116.0 261.1 116.4 262.0" stroke="#b8b8b8" stroke-width="1.25"/><path d="M129.5 63.8 C129.4 64.8 129.0 68.0 128.9 70.0 C128.7 71.9 128.9 73.6 128.8 75.6 C128.8 77.6 128.6 80.1 128.6 82.2 C128.5 84.2 128.9 86.0 128.7 88.0 C128.5 90.0 127.9 92.0 127.5 94.0 C127.2 96.1 126.7 98.1 126.6 100.1 C126.5 102.1 127.2 104.0 127.2 106.0 C127.2 108.0 126.6 110.0 126.4 111.9 C126.2 113.9 126.2 115.7 126.0 117.7 C125.8 119.7 125.7 121.8 125.3 123.9 C124.9 126.0 123.9 128.4 123.4 130.4 C122.9 132.4 122.6 134.0 122.2 135.9 C121.8 137.8 121.6 140.1 121.3 142.0 C120.9 144.0 120.4 145.9 119.9 147.9 C119.4 149.9 118.5 152.0 118.1 154.0 C117.6 156.1 117.8 157.9 117.2 159.9 C116.7 161.9 115.5 164.2 114.7 166.2 C113.9 168.2 113.2 170.0 112.4 172.0 C111.6 174.0 110.7 176.0 109.8 178.1 C108.8 180.1 107.5 182.3 106.6 184.3 C105.8 186.3 105.3 188.3 104.5 190.1 C103.7 191.9 102.7 193.4 102.0 195.3 C101.3 197.3 100.8 199.8 100.4 202.0 C100.0 204.2 99.4 206.6 99.5 208.5 C99.6 210.5 100.5 212.0 101.0 213.9 C101.5 215.8 101.8 218.1 102.4 220.1 C102.9 222.0 103.8 223.6 104.5 225.6 C105.1 227.6 105.7 230.0 106.3 232.1 C106.9 234.2 107.7 236.3 108.2 238.2 C108.7 240.2 108.9 241.9 109.5 243.9 C110.0 245.8 110.7 247.9 111.6 249.9 C112.5 251.9 113.8 253.8 114.9 255.8 C115.9 257.8 117.4 261.0 117.9 262.0" stroke="#5f5f5f" stroke-width="1.25"/><path d="M131.2 64.0 C131.2 65.0 130.9 67.7 130.9 69.7 C130.8 71.7 131.0 73.8 130.9 75.9 C130.8 77.9 130.3 79.8 130.2 81.9 C130.2 84.0 130.4 86.2 130.4 88.3 C130.3 90.4 130.1 92.4 129.9 94.4 C129.7 96.3 129.4 98.1 129.2 100.0 C129.0 101.9 128.7 103.8 128.6 105.8 C128.5 107.9 128.9 110.0 128.8 112.1 C128.7 114.3 128.3 116.7 128.1 118.7 C127.8 120.6 127.7 121.9 127.3 123.8 C126.9 125.7 126.2 127.9 125.7 129.8 C125.2 131.8 124.8 133.6 124.3 135.5 C123.7 137.5 122.8 139.8 122.4 141.8 C122.0 143.8 122.2 145.5 121.9 147.6 C121.6 149.7 121.0 152.2 120.5 154.3 C119.9 156.4 119.1 158.3 118.4 160.2 C117.8 162.2 117.5 164.1 116.7 166.1 C115.9 168.1 114.5 170.4 113.5 172.4 C112.5 174.3 111.8 175.8 110.8 177.7 C109.9 179.7 108.8 182.1 107.8 184.1 C106.8 186.1 105.7 187.8 104.8 189.8 C103.9 191.7 103.0 193.7 102.4 195.7 C101.8 197.8 101.5 200.1 101.1 202.1 C100.8 204.1 100.0 206.0 100.1 207.9 C100.2 209.8 101.2 211.6 101.7 213.7 C102.2 215.7 102.6 218.0 103.2 220.1 C103.7 222.1 104.3 223.9 104.9 225.9 C105.5 228.0 106.0 230.3 106.7 232.2 C107.3 234.2 108.2 235.7 108.7 237.6 C109.3 239.5 109.5 241.6 110.2 243.6 C110.8 245.6 111.8 247.7 112.7 249.8 C113.6 251.9 114.7 253.8 115.7 255.9 C116.6 258.0 117.9 261.2 118.4 262.2" stroke="#cfcfcf" stroke-width="1.25"/><path d="M132.5 64.2 C132.6 65.2 132.9 68.0 133.0 70.0 C133.1 72.0 133.2 74.2 133.1 76.2 C133.0 78.2 132.5 80.2 132.4 82.2 C132.3 84.1 132.3 85.9 132.2 88.0 C132.1 90.0 131.8 92.2 131.7 94.3 C131.6 96.3 131.5 98.5 131.4 100.3 C131.3 102.2 131.2 103.5 131.0 105.5 C130.9 107.5 130.5 110.2 130.3 112.3 C130.1 114.3 130.0 115.5 129.6 117.6 C129.2 119.6 128.6 122.4 128.1 124.5 C127.7 126.6 127.4 128.1 127.0 130.0 C126.6 132.0 125.9 134.2 125.5 136.1 C125.1 138.0 125.1 139.7 124.7 141.6 C124.3 143.6 123.6 145.8 123.0 147.8 C122.4 149.8 121.8 151.7 121.3 153.8 C120.8 155.9 120.5 158.3 119.9 160.3 C119.3 162.4 118.6 164.0 117.7 166.0 C116.8 168.0 115.4 170.2 114.4 172.2 C113.3 174.2 112.7 176.0 111.7 178.0 C110.7 180.0 109.2 181.9 108.3 184.0 C107.5 186.0 107.2 188.3 106.4 190.4 C105.6 192.4 104.4 194.2 103.5 196.2 C102.7 198.1 101.9 200.0 101.5 202.0 C101.2 204.0 101.2 206.1 101.4 208.1 C101.5 210.1 101.8 211.8 102.3 213.8 C102.7 215.7 103.6 217.9 104.3 219.9 C104.9 221.9 105.7 223.9 106.3 226.0 C107.0 228.0 107.7 230.1 108.3 232.1 C108.9 234.2 109.5 236.3 110.0 238.2 C110.5 240.1 110.7 241.6 111.3 243.7 C111.8 245.7 112.4 248.4 113.3 250.4 C114.2 252.4 115.4 253.9 116.6 255.8 C117.7 257.6 119.7 260.6 120.4 261.6" stroke="#6c6c6c" stroke-width="1.25"/><path d="M135.1 63.9 C135.1 64.9 135.1 67.8 135.1 69.8 C135.2 71.9 135.4 74.1 135.4 76.1 C135.3 78.0 135.0 79.6 134.9 81.6 C134.7 83.6 134.7 85.9 134.5 88.0 C134.4 90.1 134.0 92.2 133.9 94.2 C133.7 96.2 133.6 98.1 133.4 100.0 C133.2 101.9 133.1 103.9 132.9 105.8 C132.7 107.8 132.2 109.7 132.1 111.7 C131.9 113.7 132.3 115.7 132.0 117.8 C131.8 119.9 131.1 122.3 130.6 124.3 C130.2 126.3 130.0 128.0 129.5 129.9 C129.0 131.9 128.2 134.0 127.6 136.0 C127.0 138.0 126.1 139.9 125.7 141.9 C125.3 143.9 125.7 145.9 125.4 148.0 C125.1 150.0 124.5 152.1 123.9 154.2 C123.3 156.3 122.7 158.4 121.9 160.3 C121.1 162.3 119.7 163.7 118.8 165.7 C117.9 167.7 117.4 170.1 116.4 172.2 C115.4 174.3 114.1 176.2 112.9 178.2 C111.7 180.2 110.4 182.1 109.4 184.0 C108.3 185.9 107.7 187.6 106.7 189.6 C105.8 191.6 104.5 193.9 103.6 196.0 C102.8 198.1 101.9 200.2 101.7 202.2 C101.5 204.2 101.9 206.1 102.2 208.0 C102.4 209.9 102.7 211.5 103.1 213.5 C103.6 215.6 104.1 218.1 104.8 220.2 C105.4 222.3 106.4 224.2 107.1 226.2 C107.8 228.3 108.3 230.5 109.0 232.5 C109.6 234.5 110.2 236.3 110.8 238.2 C111.4 240.1 112.2 241.8 112.7 243.8 C113.2 245.8 113.1 248.2 113.9 250.2 C114.7 252.2 116.2 253.9 117.4 255.8 C118.6 257.8 120.5 260.7 121.1 261.7" stroke="#e6e6e6" stroke-width="1.25"/><path d="M137.1 63.7 C137.1 64.8 137.1 68.4 137.2 70.5 C137.2 72.6 137.5 74.4 137.4 76.2 C137.2 78.1 136.6 79.4 136.4 81.4 C136.2 83.4 136.1 86.2 136.1 88.3 C136.1 90.3 136.4 91.5 136.2 93.5 C136.0 95.5 135.1 98.1 134.9 100.2 C134.7 102.3 134.9 104.2 134.9 106.1 C134.8 108.0 134.6 109.8 134.4 111.7 C134.2 113.7 134.0 115.9 133.8 117.9 C133.5 120.0 133.4 121.9 132.8 123.9 C132.3 126.0 130.9 128.3 130.4 130.3 C129.9 132.4 130.3 134.3 129.8 136.2 C129.3 138.1 128.2 139.8 127.7 141.8 C127.1 143.7 127.1 145.8 126.6 147.9 C126.2 149.9 125.8 152.3 125.2 154.2 C124.6 156.1 123.7 157.6 122.9 159.5 C122.1 161.4 121.3 163.7 120.3 165.7 C119.2 167.8 117.9 169.9 116.8 172.0 C115.8 174.0 114.9 176.0 113.9 178.0 C112.8 179.9 111.7 181.4 110.6 183.5 C109.6 185.6 108.7 188.3 107.7 190.4 C106.7 192.5 105.4 193.9 104.6 195.9 C103.8 197.8 103.2 200.3 102.9 202.3 C102.5 204.3 102.5 205.8 102.6 207.8 C102.6 209.8 102.8 212.3 103.3 214.4 C103.9 216.4 105.0 218.1 105.9 220.0 C106.7 221.9 107.6 223.9 108.3 225.9 C109.0 227.8 109.5 229.6 110.0 231.7 C110.5 233.7 110.7 235.9 111.3 238.0 C111.9 240.1 112.9 242.2 113.5 244.2 C114.1 246.1 114.0 247.9 114.9 249.9 C115.8 251.8 117.5 253.9 118.7 255.9 C119.8 258.0 121.3 261.2 121.8 262.2" stroke="#8c8c8c" stroke-width="1.25"/><path d="M139.8 63.5 C139.8 64.6 140.0 67.9 139.9 70.0 C139.8 72.1 139.5 74.1 139.4 76.1 C139.3 78.1 139.5 80.2 139.3 82.2 C139.0 84.2 138.4 86.2 138.1 88.2 C137.8 90.2 137.7 92.2 137.6 94.1 C137.5 96.0 137.6 97.6 137.4 99.6 C137.3 101.6 137.0 103.8 136.8 105.9 C136.6 108.1 136.3 110.5 136.1 112.5 C135.9 114.5 135.9 116.0 135.7 117.9 C135.5 119.8 135.3 122.1 134.8 124.0 C134.3 125.9 133.3 127.4 132.7 129.5 C132.1 131.5 131.7 134.2 131.3 136.3 C130.8 138.3 130.5 139.7 130.0 141.7 C129.5 143.8 128.9 146.3 128.3 148.4 C127.8 150.4 127.6 152.1 126.9 154.0 C126.2 155.9 125.0 158.1 124.1 160.0 C123.2 162.0 122.3 163.6 121.4 165.6 C120.5 167.5 119.7 169.8 118.6 172.0 C117.5 174.1 116.1 176.6 114.9 178.5 C113.6 180.4 112.4 181.5 111.3 183.5 C110.1 185.4 108.8 188.1 107.8 190.1 C106.8 192.2 106.1 193.9 105.3 195.8 C104.5 197.7 103.4 199.8 103.0 201.8 C102.6 203.8 102.8 206.0 103.0 208.0 C103.2 210.0 103.7 211.8 104.2 213.8 C104.8 215.7 105.5 217.9 106.2 219.8 C107.0 221.7 108.0 223.0 108.7 225.1 C109.3 227.2 109.7 230.2 110.4 232.3 C111.0 234.4 111.9 235.8 112.5 237.7 C113.1 239.6 113.6 241.7 114.2 243.8 C114.8 246.0 115.0 248.3 115.9 250.4 C116.8 252.4 118.5 254.1 119.6 256.0 C120.7 258.0 122.1 260.8 122.6 261.8" stroke="#b8b8b8" stroke-width="1.25"/><path d="M141.2 63.8 C141.3 64.8 141.5 67.9 141.6 69.9 C141.6 71.9 141.5 74.0 141.5 76.0 C141.4 78.0 141.4 79.9 141.3 81.9 C141.2 84.0 141.0 86.1 140.9 88.1 C140.7 90.2 140.5 92.0 140.3 94.0 C140.1 96.0 140.0 98.0 139.7 100.0 C139.4 102.0 138.6 104.1 138.4 106.0 C138.1 107.9 138.3 109.6 138.2 111.6 C138.0 113.6 137.6 115.8 137.4 117.8 C137.2 119.9 137.3 122.0 136.9 124.1 C136.5 126.1 135.7 128.2 135.1 130.2 C134.4 132.3 133.9 134.2 133.2 136.2 C132.5 138.2 131.5 140.3 130.8 142.3 C130.2 144.3 129.9 146.1 129.5 148.1 C129.1 150.1 128.8 152.3 128.3 154.4 C127.8 156.5 127.2 158.5 126.3 160.5 C125.4 162.4 124.1 164.0 123.0 166.0 C121.9 168.0 121.0 170.6 119.9 172.6 C118.7 174.6 117.4 176.1 116.1 178.0 C114.8 179.9 113.2 181.8 112.0 183.8 C110.9 185.8 110.1 188.1 109.2 190.2 C108.2 192.2 107.0 193.9 106.2 196.0 C105.4 198.0 104.5 200.3 104.2 202.4 C103.9 204.4 104.2 206.3 104.4 208.3 C104.6 210.3 105.0 212.4 105.6 214.3 C106.1 216.2 106.9 217.7 107.5 219.7 C108.1 221.6 108.6 224.0 109.3 226.1 C110.0 228.2 111.1 230.3 111.7 232.3 C112.3 234.3 112.3 236.1 112.9 238.0 C113.5 240.0 114.5 241.8 115.2 243.8 C115.9 245.9 116.0 248.2 116.9 250.3 C117.8 252.3 119.6 254.0 120.8 256.0 C122.0 257.9 123.4 261.0 123.9 262.0" stroke="#5f5f5f" stroke-width="1.25"/></g><g fill="none" stroke-linecap="round"><path d="M81.7 199.7 C81.8 200.5 82.5 203.0 82.4 204.8 C82.4 206.6 81.6 208.5 81.2 210.3 C80.9 212.0 80.4 213.6 80.3 215.4 C80.2 217.1 80.5 219.2 80.7 220.7 C80.9 222.3 81.3 223.3 81.5 224.8 C81.7 226.4 81.5 228.3 81.7 230.1 C81.8 231.9 82.2 233.7 82.5 235.5 C82.8 237.2 83.0 239.0 83.3 240.6 C83.7 242.2 84.3 243.5 84.6 244.9 C84.9 246.4 84.7 247.7 85.1 249.5 C85.5 251.2 86.5 253.5 87.1 255.2 C87.7 257.0 88.5 259.0 88.8 259.8" stroke="#e8e8e8" stroke-width="1.30"/><path d="M83.9 199.7 C83.9 200.5 83.9 202.5 83.8 204.2 C83.6 205.9 83.2 207.9 83.0 209.7 C82.9 211.6 82.7 213.5 82.7 215.2 C82.7 216.8 82.8 217.9 83.0 219.5 C83.2 221.2 83.7 223.6 83.9 225.3 C84.0 227.0 84.0 228.2 84.0 229.8 C84.0 231.3 83.9 232.7 84.1 234.4 C84.3 236.1 85.0 238.2 85.4 240.1 C85.8 241.9 86.1 243.9 86.5 245.6 C87.0 247.4 87.6 248.9 88.1 250.3 C88.7 251.8 89.3 253.0 89.8 254.6 C90.3 256.3 91.0 259.2 91.3 260.2" stroke="#d0d0d0" stroke-width="1.30"/><path d="M85.1 200.3 C85.3 201.1 85.9 203.8 85.9 205.3 C85.9 206.9 85.1 207.9 84.9 209.5 C84.7 211.1 84.5 213.1 84.5 214.8 C84.5 216.6 84.6 218.3 84.8 220.0 C85.1 221.8 85.7 223.6 85.8 225.3 C86.0 227.0 85.5 228.7 85.7 230.3 C86.0 232.0 87.2 233.5 87.5 235.1 C87.7 236.7 87.0 238.2 87.3 239.8 C87.5 241.3 88.5 242.8 89.0 244.4 C89.5 246.1 89.8 247.8 90.3 249.6 C90.9 251.4 91.7 253.6 92.3 255.2 C92.8 256.9 93.3 258.8 93.5 259.6" stroke="#f4f4f4" stroke-width="1.30"/><path d="M87.4 199.8 C87.3 200.7 87.1 203.8 86.9 205.4 C86.7 207.0 86.0 207.8 86.0 209.5 C86.0 211.2 86.5 213.8 86.7 215.6 C86.9 217.4 87.1 218.7 87.4 220.3 C87.6 221.8 88.0 223.1 88.3 224.9 C88.5 226.6 88.9 229.0 89.0 230.7 C89.1 232.4 89.0 233.7 89.1 235.1 C89.2 236.6 89.2 238.1 89.7 239.6 C90.1 241.2 91.1 242.8 91.6 244.6 C92.2 246.3 92.3 248.4 92.8 250.2 C93.3 252.0 93.9 253.7 94.5 255.3 C95.2 257.0 96.4 259.3 96.8 260.1" stroke="#a8a8a8" stroke-width="1.30"/><path d="M89.3 200.5 C89.2 201.2 88.9 203.2 88.6 204.8 C88.2 206.4 87.2 208.4 87.2 210.2 C87.2 211.9 88.3 213.4 88.6 215.2 C89.0 216.9 89.3 218.9 89.5 220.5 C89.7 222.2 89.8 223.4 89.9 225.0 C90.0 226.6 89.9 228.4 90.2 230.0 C90.5 231.7 91.3 233.3 91.6 235.0 C92.0 236.6 92.0 238.3 92.4 239.9 C92.7 241.4 93.6 242.7 94.0 244.4 C94.5 246.1 94.5 248.2 95.0 250.0 C95.5 251.8 96.6 253.6 97.2 255.3 C97.8 256.9 98.4 259.0 98.7 259.8" stroke="#e8e8e8" stroke-width="1.30"/><path d="M90.2 200.4 C90.3 201.2 90.7 203.6 90.6 205.1 C90.4 206.6 89.5 208.0 89.5 209.6 C89.5 211.3 90.3 213.2 90.6 215.0 C90.8 216.8 90.8 219.0 90.9 220.6 C91.0 222.3 90.9 223.1 91.2 224.7 C91.5 226.3 92.5 228.5 92.8 230.2 C93.2 231.9 93.1 233.4 93.4 235.0 C93.7 236.6 94.1 238.1 94.6 239.8 C95.0 241.5 95.7 243.3 96.3 245.1 C96.8 246.8 97.3 248.6 97.9 250.2 C98.5 251.8 99.4 253.2 100.0 254.7 C100.6 256.3 101.2 258.7 101.5 259.5" stroke="#d0d0d0" stroke-width="1.30"/><path d="M91.8 199.5 C91.8 200.4 92.3 203.3 92.2 205.1 C92.1 206.9 90.9 208.8 90.9 210.5 C91.0 212.1 92.1 213.3 92.3 214.9 C92.6 216.5 92.5 218.2 92.6 220.0 C92.8 221.8 93.0 224.2 93.4 225.8 C93.7 227.5 94.3 228.4 94.7 229.9 C95.1 231.4 95.5 233.1 95.9 234.8 C96.2 236.5 96.4 238.5 96.8 240.1 C97.1 241.8 97.6 242.9 98.0 244.6 C98.5 246.3 98.9 248.6 99.5 250.3 C100.1 251.9 100.8 253.1 101.6 254.6 C102.3 256.2 103.6 258.8 104.1 259.6" stroke="#f4f4f4" stroke-width="1.30"/><path d="M93.9 200.3 C93.9 201.1 93.7 203.4 93.7 205.0 C93.7 206.6 93.8 208.3 93.8 209.8 C93.8 211.4 93.5 212.7 93.6 214.4 C93.8 216.1 94.4 218.3 94.7 220.2 C95.0 222.1 95.2 224.0 95.7 225.7 C96.1 227.3 97.1 228.7 97.5 230.3 C97.8 231.9 97.5 233.6 97.8 235.1 C98.2 236.6 99.0 237.6 99.5 239.3 C100.0 240.9 100.4 243.1 100.8 244.9 C101.1 246.7 100.8 248.4 101.6 250.2 C102.3 251.9 104.4 253.6 105.1 255.3 C105.9 256.9 106.1 259.1 106.2 259.9" stroke="#a8a8a8" stroke-width="1.30"/><path d="M96.1 199.7 C96.0 200.6 95.5 203.2 95.3 205.0 C95.1 206.8 95.1 208.8 95.1 210.6 C95.0 212.3 94.9 213.8 95.2 215.4 C95.5 217.0 96.4 218.3 96.7 220.0 C97.1 221.6 97.0 223.6 97.4 225.1 C97.8 226.6 98.7 227.4 99.2 229.0 C99.6 230.5 99.7 232.8 100.0 234.6 C100.4 236.4 100.9 238.0 101.4 239.8 C101.8 241.6 102.2 243.8 102.8 245.5 C103.4 247.2 104.1 248.3 104.9 250.0 C105.7 251.7 106.7 254.2 107.4 255.7 C108.1 257.3 109.0 258.9 109.3 259.5" stroke="#e8e8e8" stroke-width="1.30"/><path d="M97.5 200.5 C97.3 201.2 96.5 203.3 96.4 205.0 C96.3 206.6 96.8 208.7 97.1 210.4 C97.3 212.1 97.6 213.6 97.9 215.1 C98.1 216.7 98.2 218.1 98.6 219.8 C99.0 221.5 100.0 223.7 100.4 225.3 C100.9 227.0 100.9 228.1 101.4 229.8 C101.8 231.4 102.8 233.7 103.2 235.4 C103.6 237.0 103.4 237.8 103.8 239.4 C104.2 241.1 104.9 243.5 105.5 245.3 C106.1 247.1 106.7 248.7 107.2 250.3 C107.8 251.9 108.1 253.4 108.9 255.0 C109.6 256.6 111.2 259.0 111.6 259.7" stroke="#d0d0d0" stroke-width="1.30"/><path d="M100.0 200.0 C99.8 200.8 98.7 203.2 98.5 204.9 C98.2 206.6 98.6 208.7 98.7 210.4 C98.9 212.1 99.0 213.4 99.3 215.0 C99.6 216.5 100.0 218.0 100.4 219.6 C100.9 221.3 101.6 223.4 102.1 225.1 C102.7 226.8 103.4 228.2 103.8 229.9 C104.1 231.6 104.0 233.3 104.4 235.1 C104.8 236.9 105.9 239.0 106.4 240.5 C107.0 242.1 107.2 243.0 107.6 244.5 C107.9 246.0 107.9 248.0 108.6 249.8 C109.3 251.5 111.0 253.4 111.9 255.1 C112.7 256.8 113.5 259.0 113.8 259.8" stroke="#f4f4f4" stroke-width="1.30"/><path d="M101.1 200.0 C100.9 200.8 100.1 203.3 99.9 204.9 C99.6 206.4 99.5 207.7 99.7 209.5 C99.9 211.3 100.5 213.7 101.1 215.4 C101.7 217.2 102.4 218.3 103.0 219.9 C103.5 221.6 103.9 223.5 104.5 225.1 C105.0 226.8 105.9 228.0 106.4 229.7 C106.9 231.4 107.1 233.6 107.4 235.3 C107.7 237.0 107.8 238.3 108.2 240.0 C108.7 241.6 109.6 243.4 110.2 245.1 C110.8 246.8 111.0 248.5 111.8 250.2 C112.5 251.9 113.9 253.7 114.7 255.5 C115.6 257.2 116.7 259.9 117.1 260.8" stroke="#a8a8a8" stroke-width="1.30"/><path d="M102.3 199.9 C102.2 200.7 101.8 203.1 101.7 204.7 C101.6 206.3 101.1 207.9 101.4 209.5 C101.8 211.2 103.1 212.9 103.6 214.8 C104.0 216.6 103.6 218.9 104.1 220.7 C104.6 222.4 105.9 223.5 106.5 225.1 C107.1 226.6 107.4 228.4 107.8 230.1 C108.3 231.8 108.9 233.4 109.4 235.1 C109.9 236.7 110.5 238.3 111.0 239.9 C111.5 241.5 112.1 243.0 112.6 244.7 C113.0 246.3 113.1 248.0 113.8 249.7 C114.6 251.5 116.0 253.6 117.0 255.2 C118.0 256.8 119.4 258.6 119.9 259.3" stroke="#e8e8e8" stroke-width="1.30"/><path d="M104.8 199.9 C104.5 200.8 103.3 203.2 103.1 205.0 C103.0 206.7 103.4 208.7 103.7 210.4 C104.0 212.1 104.5 213.4 105.1 215.1 C105.6 216.8 106.3 218.9 106.8 220.5 C107.3 222.0 107.6 223.1 108.1 224.6 C108.6 226.0 109.1 227.6 109.7 229.3 C110.4 231.1 111.4 233.2 112.0 235.0 C112.6 236.8 112.8 238.4 113.3 240.1 C113.8 241.8 114.3 243.8 114.9 245.4 C115.5 247.0 116.1 248.1 116.9 249.7 C117.7 251.4 119.1 253.6 119.9 255.4 C120.7 257.1 121.6 259.3 121.9 260.1" stroke="#d0d0d0" stroke-width="1.30"/></g><ellipse cx="72.0" cy="70.0" rx="4.0" ry="5.0" fill="none" stroke="#bdbdbd" stroke-width="1.3"/><ellipse cx="80.0" cy="68.0" rx="4.0" ry="5.0" fill="none" stroke="#bdbdbd" stroke-width="1.3"/><ellipse cx="88.0" cy="68.0" rx="3.6" ry="4.5" fill="none" stroke="#bdbdbd" stroke-width="1.3"/><ellipse cx="127.0" cy="66.0" rx="4.0" ry="5.0" fill="none" stroke="#bdbdbd" stroke-width="1.3"/><ellipse cx="136.0" cy="66.0" rx="4.4" ry="5.5" fill="none" stroke="#bdbdbd" stroke-width="1.3"/><ellipse cx="119.0" cy="63.0" rx="3.2" ry="4.0" fill="none" stroke="#bdbdbd" stroke-width="1.3"/><path d="M85.0 256.0 C87.5 256.3 94.8 257.7 100.0 258.0 C105.2 258.3 111.5 257.5 116.0 258.0 C120.5 258.5 125.2 260.5 127.0 261.0" fill="none" stroke="#6e6e6e" stroke-width="3.40" stroke-linecap="round"/><path d="M86.0 260.0 C88.3 260.3 94.7 261.7 100.0 262.0 C105.3 262.3 113.3 261.5 118.0 262.0 C122.7 262.5 126.3 264.5 128.0 265.0" fill="none" stroke="#6e6e6e" stroke-width="3.40" stroke-linecap="round"/><path d="M88.0 264.0 C90.7 264.3 98.7 265.7 104.0 266.0 C109.3 266.3 116.0 265.5 120.0 266.0 C124.0 266.5 126.7 268.5 128.0 269.0" fill="none" stroke="#6e6e6e" stroke-width="3.40" stroke-linecap="round"/><path d="M92.0 268.0 C94.7 268.3 102.7 269.5 108.0 270.0 C113.3 270.5 121.3 270.8 124.0 271.0" fill="none" stroke="#6e6e6e" stroke-width="3.40" stroke-linecap="round"/><path d="M98.0 272.0 C100.3 272.3 107.7 273.5 112.0 274.0 C116.3 274.5 122.0 274.8 124.0 275.0" fill="none" stroke="#6e6e6e" stroke-width="3.40" stroke-linecap="round"/><path d="M85.0 256.0 C87.5 256.3 94.8 257.7 100.0 258.0 C105.2 258.3 111.5 257.5 116.0 258.0 C120.5 258.5 125.2 260.5 127.0 261.0" fill="none" stroke="#e4e4e4" stroke-width="2.20" stroke-linecap="round"/><path d="M86.0 260.0 C88.3 260.3 94.7 261.7 100.0 262.0 C105.3 262.3 113.3 261.5 118.0 262.0 C122.7 262.5 126.3 264.5 128.0 265.0" fill="none" stroke="#cccccc" stroke-width="2.20" stroke-linecap="round"/><path d="M88.0 264.0 C90.7 264.3 98.7 265.7 104.0 266.0 C109.3 266.3 116.0 265.5 120.0 266.0 C124.0 266.5 126.7 268.5 128.0 269.0" fill="none" stroke="#f0f0f0" stroke-width="2.20" stroke-linecap="round"/><path d="M92.0 268.0 C94.7 268.3 102.7 269.5 108.0 270.0 C113.3 270.5 121.3 270.8 124.0 271.0" fill="none" stroke="#e4e4e4" stroke-width="2.20" stroke-linecap="round"/><path d="M98.0 272.0 C100.3 272.3 107.7 273.5 112.0 274.0 C116.3 274.5 122.0 274.8 124.0 275.0" fill="none" stroke="#cccccc" stroke-width="2.20" stroke-linecap="round"/><path d="M100.0 270.0 C101.0 271.3 104.0 275.3 106.0 278.0 C108.0 280.7 110.2 283.7 112.0 286.0 C113.8 288.3 116.2 291.0 117.0 292.0" fill="none" stroke="#6a6a6a" stroke-width="3.00" stroke-linecap="round"/><path d="M104.0 270.0 C105.0 271.7 108.2 276.7 110.0 280.0 C111.8 283.3 113.5 287.2 115.0 290.0 C116.5 292.8 118.3 295.8 119.0 297.0" fill="none" stroke="#6a6a6a" stroke-width="3.00" stroke-linecap="round"/><path d="M110.0 270.0 C110.7 271.7 112.8 276.7 114.0 280.0 C115.2 283.3 116.0 287.2 117.0 290.0 C118.0 292.8 119.5 295.8 120.0 297.0" fill="none" stroke="#6a6a6a" stroke-width="3.00" stroke-linecap="round"/><path d="M116.0 270.0 C116.3 271.7 117.3 276.7 118.0 280.0 C118.7 283.3 119.7 288.3 120.0 290.0" fill="none" stroke="#6a6a6a" stroke-width="3.00" stroke-linecap="round"/><path d="M120.0 270.0 C120.2 271.3 120.7 275.3 121.0 278.0 C121.3 280.7 121.8 284.7 122.0 286.0" fill="none" stroke="#6a6a6a" stroke-width="3.00" stroke-linecap="round"/><path d="M96.0 268.0 C97.0 269.3 100.0 273.7 102.0 276.0 C104.0 278.3 107.0 281.0 108.0 282.0" fill="none" stroke="#6a6a6a" stroke-width="3.00" stroke-linecap="round"/><path d="M124.0 268.0 C124.3 269.3 125.7 274.7 126.0 276.0" fill="none" stroke="#6a6a6a" stroke-width="3.00" stroke-linecap="round"/><path d="M100.0 270.0 C101.0 271.3 104.0 275.3 106.0 278.0 C108.0 280.7 110.2 283.7 112.0 286.0 C113.8 288.3 116.2 291.0 117.0 292.0" fill="none" stroke="#d8d8d8" stroke-width="1.80" stroke-linecap="round"/><path d="M104.0 270.0 C105.0 271.7 108.2 276.7 110.0 280.0 C111.8 283.3 113.5 287.2 115.0 290.0 C116.5 292.8 118.3 295.8 119.0 297.0" fill="none" stroke="#bdbdbd" stroke-width="1.80" stroke-linecap="round"/><path d="M110.0 270.0 C110.7 271.7 112.8 276.7 114.0 280.0 C115.2 283.3 116.0 287.2 117.0 290.0 C118.0 292.8 119.5 295.8 120.0 297.0" fill="none" stroke="#e8e8e8" stroke-width="1.80" stroke-linecap="round"/><path d="M116.0 270.0 C116.3 271.7 117.3 276.7 118.0 280.0 C118.7 283.3 119.7 288.3 120.0 290.0" fill="none" stroke="#d8d8d8" stroke-width="1.80" stroke-linecap="round"/><path d="M120.0 270.0 C120.2 271.3 120.7 275.3 121.0 278.0 C121.3 280.7 121.8 284.7 122.0 286.0" fill="none" stroke="#bdbdbd" stroke-width="1.80" stroke-linecap="round"/><path d="M96.0 268.0 C97.0 269.3 100.0 273.7 102.0 276.0 C104.0 278.3 107.0 281.0 108.0 282.0" fill="none" stroke="#e8e8e8" stroke-width="1.80" stroke-linecap="round"/><path d="M124.0 268.0 C124.3 269.3 125.7 274.7 126.0 276.0" fill="none" stroke="#d8d8d8" stroke-width="1.80" stroke-linecap="round"/><g stroke-width="0.6" stroke-linejoin="round"><path d="M103.0 61.6l-0.2 1.6l-0.1 1.6l10.2 0.5l0 -1.5l0.1 -1.5z" fill="#00007f" stroke="#00007f"/><path d="M102.7 64.8l-0.1 1.6l-0.1 1.6l-0.1 1.6l-0.1 1.6l10.5 0.2l-0 -1.5l-0 -1.5l0 -1.5l0 -1.5z" fill="#000094" stroke="#000094"/><path d="M102.3 71.2l-0.1 1.6l10.6 0.2l-0 -1.5z" fill="#0000bf" stroke="#0000bf"/><path d="M102.3 72.8l-0.1 1.6l10.7 0.1l-0 -1.5z" fill="#0015ff" stroke="#0015ff"/><path d="M102.2 74.3l-0.1 1.6l10.8 0.1l-0 -1.5z" fill="#0094ff" stroke="#0094ff"/><path d="M102.2 75.9l-0.1 1.6l10.9 0.1l-0 -1.6z" fill="#00e9ff" stroke="#00e9ff"/><path d="M102.1 77.5l-0.1 1.5l10.9 0.1l-0 -1.6z" fill="#2affd4" stroke="#2affd4"/><path d="M102.0 79.0l-0.1 1.5l11 0.1l-0 -1.6z" fill="#6aff94" stroke="#6aff94"/><path d="M102.0 80.6l-0.1 1.5l11.1 0.2l-0 -1.6z" fill="#7fff7f" stroke="#7fff7f"/><path d="M101.9 82.1l-0.1 1.5l-0.1 1.5l-0.1 1.5l11.3 0.3l0 -1.6l-0 -1.6l-0 -1.6z" fill="#94ff6a" stroke="#94ff6a"/><path d="M101.7 86.7l-0.1 1.5l-0.1 1.5l11.5 0.5l0 -1.6l0 -1.6z" fill="#a9ff55" stroke="#a9ff55"/><path d="M101.5 89.7l-0.1 1.5l11.6 0.6l0 -1.6z" fill="#bfff3f" stroke="#bfff3f"/><path d="M101.4 91.2l-0.1 1.5l11.6 0.7l0.1 -1.6z" fill="#d4ff2a" stroke="#d4ff2a"/><path d="M101.3 92.7l-0.1 1.5l11.7 0.8l0.1 -1.6z" fill="#e9ff15" stroke="#e9ff15"/><path d="M101.1 94.2l-0.2 1.5l11.8 1l0.1 -1.6z" fill="#ffe900" stroke="#ffe900"/><path d="M101.0 95.7l-0.2 1.5l11.8 1.1l0.1 -1.6z" fill="#ffd400" stroke="#ffd400"/><path d="M100.8 97.1l-0.2 1.5l11.9 1.3l0.1 -1.6z" fill="#ffbf00" stroke="#ffbf00"/><path d="M100.6 98.6l-0.2 1.5l11.9 1.4l0.2 -1.6z" fill="#ff9400" stroke="#ff9400"/><path d="M100.4 100.1l-0.2 1.5l12 1.6l0.2 -1.6z" fill="#ff7f00" stroke="#ff7f00"/><path d="M100.2 101.5l-0.2 1.5l12 1.7l0.2 -1.6z" fill="#ff5500" stroke="#ff5500"/><path d="M100.0 103.0l-0.2 1.5l12 1.9l0.2 -1.6z" fill="#ff2a00" stroke="#ff2a00"/><path d="M99.8 104.5l-0.3 1.5l12 2l0.2 -1.6z" fill="#ff0000" stroke="#ff0000"/><path d="M99.5 105.9l-0.3 1.5l12 2.1l0.3 -1.6z" fill="#d40000" stroke="#d40000"/><path d="M99.2 107.4l-0.3 1.5l12 2.2l0.3 -1.6z" fill="#bf0000" stroke="#bf0000"/><path d="M99.0 108.9l-0.3 1.5l-0.3 1.5l-0.3 1.5l12.1 2.4l0.3 -1.6l0.3 -1.6l0.3 -1.6z" fill="#940000" stroke="#940000"/><path d="M98.0 113.3l-0.3 1.5l-0.3 1.5l12.2 2.5l0.3 -1.5l0.3 -1.5z" fill="#a90000" stroke="#a90000"/><path d="M97.4 116.4l-0.3 1.5l12.2 2.5l0.3 -1.5z" fill="#d40000" stroke="#d40000"/><path d="M97.1 117.9l-0.3 1.5l12.2 2.5l0.3 -1.5z" fill="#ff0000" stroke="#ff0000"/><path d="M96.7 119.4l-0.3 1.5l12.2 2.5l0.3 -1.5z" fill="#ff2a00" stroke="#ff2a00"/><path d="M96.4 120.9l-0.3 1.5l12.3 2.5l0.3 -1.5z" fill="#ff6a00" stroke="#ff6a00"/><path d="M96.1 122.4l-0.3 1.5l12.3 2.5l0.3 -1.5z" fill="#ff9400" stroke="#ff9400"/><path d="M95.8 124.0l-0.3 1.5l12.3 2.4l0.3 -1.5z" fill="#ffbf00" stroke="#ffbf00"/><path d="M95.5 125.5l-0.3 1.5l12.3 2.4l0.3 -1.5z" fill="#ffd400" stroke="#ffd400"/><path d="M95.2 127.1l-0.3 1.6l12.3 2.3l0.3 -1.5z" fill="#ffff00" stroke="#ffff00"/><path d="M94.9 128.6l-0.3 1.6l12.3 2.3l0.3 -1.5z" fill="#e9ff15" stroke="#e9ff15"/><path d="M94.6 130.2l-0.3 1.6l12.3 2.2l0.3 -1.5z" fill="#bfff3f" stroke="#bfff3f"/><path d="M94.3 131.7l-0.3 1.6l12.3 2.1l0.3 -1.5z" fill="#a9ff55" stroke="#a9ff55"/><path d="M94.1 133.3l-0.3 1.6l12.3 2.1l0.3 -1.5z" fill="#94ff6a" stroke="#94ff6a"/><path d="M93.8 134.9l-0.3 1.6l-0.2 1.6l-0.2 1.6l-0.2 1.6l-0.2 1.6l-0.2 1.6l-0.2 1.6l-0.2 1.6l-0.2 1.6l12.3 1.5l0.2 -1.5l0.2 -1.5l0.2 -1.5l0.2 -1.5l0.2 -1.5l0.2 -1.5l0.2 -1.5l0.2 -1.5l0.2 -1.5z" fill="#7fff7f" stroke="#7fff7f"/><path d="M91.8 149.0l-0.2 1.6l12.2 1.5l0.2 -1.5z" fill="#94ff6a" stroke="#94ff6a"/><path d="M91.7 150.5l-0.2 1.6l12.2 1.4l0.2 -1.5z" fill="#a9ff55" stroke="#a9ff55"/><path d="M91.5 152.1l-0.2 1.6l12.2 1.4l0.2 -1.5z" fill="#bfff3f" stroke="#bfff3f"/><path d="M91.3 153.7l-0.2 1.6l12.2 1.4l0.2 -1.5z" fill="#e9ff15" stroke="#e9ff15"/><path d="M91.2 155.2l-0.2 1.6l12.1 1.4l0.2 -1.5z" fill="#ffff00" stroke="#ffff00"/><path d="M91.0 156.8l-0.2 1.6l12.1 1.3l0.2 -1.5z" fill="#ffbf00" stroke="#ffbf00"/><path d="M90.9 158.3l-0.2 1.5l12.1 1.3l0.2 -1.5z" fill="#ff7f00" stroke="#ff7f00"/><path d="M90.7 159.9l-0.2 1.5l12.1 1.3l0.2 -1.5z" fill="#ff5500" stroke="#ff5500"/><path d="M90.5 161.4l-0.2 1.5l12 1.3l0.2 -1.5z" fill="#ff1500" stroke="#ff1500"/><path d="M90.4 163.0l-0.2 1.5l12 1.3l0.2 -1.5z" fill="#e90000" stroke="#e90000"/><path d="M90.2 164.5l-0.2 1.5l12 1.3l0.2 -1.5z" fill="#bf0000" stroke="#bf0000"/><path d="M90.1 166.0l-0.2 1.5l12 1.3l0.2 -1.5z" fill="#940000" stroke="#940000"/><path d="M89.9 167.6l-0.2 1.5l-0.1 1.5l-0.1 1.5l-0.2 1.5l-0.2 1.5l-0.2 1.5l-0.2 1.5l-0.2 1.5l-0.2 1.5l-0.2 1.5l-0.2 1.5l-0.2 1.5l-0.2 1.5l-0.2 1.5l-0.2 1.5l-0.2 1.5l-0.2 1.5l-0.2 1.5l-0.2 1.5l-0.3 1.5l10.8 2l0.3 -1.5l0.3 -1.6l0.3 -1.6l0.3 -1.6l0.3 -1.6l0.3 -1.6l0.3 -1.6l0.3 -1.6l0.2 -1.6l0.2 -1.6l0.2 -1.6l0.2 -1.6l0.2 -1.6l0.2 -1.6l0.2 -1.6l0.2 -1.6l0.2 -1.6l0.2 -1.5l0.2 -1.5l0.2 -1.5z" fill="#7f0000" stroke="#7f0000"/></g><path d="M107.9 63.5l-0.1 1.6l-0.1 1.6l-0.1 1.6l-0 1.6l-0 1.6l-0 1.6l-0 1.6l-0 1.6l-0 1.6l-0 1.6l-0 1.6l-0 1.6l-0 1.6l-0 1.6l-0 1.6l-0.1 1.6l-0.1 1.6l-0.1 1.6l-0.1 1.6l-0.1 1.5l-0.1 1.5l-0.1 1.5l-0.2 1.5l-0.2 1.5l-0.2 1.5l-0.2 1.5l-0.2 1.5l-0.2 1.5l-0.3 1.5l-0.3 1.5l-0.3 1.5l-0.3 1.5l-0.3 1.5l-0.3 1.5l-0.3 1.5l-0.3 1.5l-0.3 1.5l-0.3 1.5l-0.3 1.5l-0.3 1.5l-0.3 1.5l-0.3 1.5l-0.3 1.5l-0.3 1.5l-0.3 1.5l-0.3 1.5l-0.3 1.5l-0.3 1.5l-0.2 1.5l-0.2 1.5l-0.2 1.5l-0.2 1.5l-0.2 1.5l-0.2 1.5l-0.2 1.5l-0.2 1.5l-0.2 1.5l-0.2 1.5l-0.2 1.5l-0.2 1.5l-0.2 1.5l-0.2 1.5l-0.2 1.5l-0.2 1.5l-0.2 1.5l-0.2 1.5l-0.2 1.5l-0.2 1.5l-0.2 1.5l-0.2 1.5l-0.2 1.5l-0.2 1.5l-0.2 1.5l-0.2 1.5l-0.2 1.5l-0.2 1.5l-0.2 1.5l-0.2 1.5l-0.2 1.5l-0.2 1.5l-0.2 1.5l-0.2 1.5l-0.2 1.5l-0.2 1.5l-0.3 1.5l-0.3 1.5l-0.3 1.5" fill="none" stroke="#000" stroke-opacity="0.12" stroke-width="11.2"/><path d="M111.1 65.3l-0 1.5l-0 1.5l-0 1.5l-0 1.5l0 1.5l0 1.5l0 1.5l0 1.6l0 1.6l0 1.6l0 1.6l-0 1.6l-0 1.6l-0 1.6l-0 1.6l-0 1.6l-0.1 1.6l-0.1 1.6l-0.1 1.6l-0.1 1.6l-0.1 1.6l-0.1 1.6l-0.2 1.6l-0.2 1.6l-0.2 1.6l-0.2 1.6l-0.2 1.6l-0.3 1.6l-0.3 1.6l-0.3 1.6l-0.3 1.5l-0.3 1.5l-0.3 1.5l-0.3 1.5l-0.3 1.5l-0.3 1.5l-0.3 1.5l-0.3 1.5l-0.3 1.5l-0.3 1.5l-0.3 1.5l-0.3 1.5l-0.3 1.5l-0.3 1.5l-0.3 1.5l-0.3 1.5l-0.2 1.5l-0.2 1.5l-0.2 1.5l-0.2 1.5l-0.2 1.5l-0.2 1.5l-0.2 1.5l-0.2 1.5l-0.2 1.5l-0.2 1.5l-0.2 1.5l-0.2 1.5l-0.2 1.5l-0.2 1.5l-0.2 1.5l-0.2 1.5l-0.2 1.5l-0.2 1.5l-0.2 1.5l-0.2 1.5l-0.2 1.5l-0.2 1.5l-0.2 1.5l-0.2 1.5l-0.2 1.5l-0.2 1.5l-0.2 1.5l-0.2 1.5l-0.2 1.5l-0.2 1.5l-0.2 1.6l-0.2 1.6l-0.2 1.6l-0.2 1.6l-0.2 1.6l-0.3 1.6l-0.3 1.6l-0.3 1.6l-0.3 1.6" fill="none" stroke="#000" stroke-opacity="0.20" stroke-width="4.5"/><path d="M106.0 65.0l-0.1 1.6l-0.1 1.6l-0.1 1.6l-0 1.6l-0 1.6l-0 1.6l-0 1.6l-0 1.6l-0 1.6l-0 1.5l-0 1.5l-0 1.5l-0 1.5l-0.1 1.5l-0.1 1.5l-0.1 1.5l-0.1 1.5l-0.1 1.5l-0.1 1.5l-0.1 1.5l-0.1 1.5l-0.2 1.5l-0.2 1.5l-0.2 1.5l-0.2 1.5l-0.2 1.5l-0.3 1.5l-0.3 1.5l-0.3 1.5l-0.3 1.5l-0.3 1.5l-0.3 1.5l-0.3 1.5l-0.3 1.5l-0.3 1.5l-0.3 1.5l-0.3 1.5l-0.3 1.5l-0.3 1.5l-0.3 1.5l-0.3 1.5l-0.3 1.5l-0.3 1.5l-0.3 1.5l-0.3 1.5l-0.3 1.5l-0.3 1.5l-0.2 1.5l-0.2 1.5l-0.2 1.5l-0.2 1.6l-0.2 1.6l-0.2 1.5l-0.2 1.5l-0.2 1.5l-0.2 1.5l-0.2 1.5l-0.2 1.5l-0.2 1.5l-0.2 1.5l-0.2 1.5l-0.2 1.5l-0.2 1.5l-0.2 1.5l-0.2 1.5l-0.2 1.5l-0.2 1.5l-0.2 1.5l-0.2 1.5l-0.2 1.5l-0.2 1.5l-0.2 1.5l-0.2 1.5l-0.2 1.5l-0.2 1.5l-0.2 1.5l-0.2 1.5l-0.2 1.5l-0.2 1.5l-0.2 1.5l-0.2 1.5l-0.2 1.5l-0.2 1.5l-0.2 1.5l-0.3 1.5" fill="none" stroke="#fff" stroke-opacity="0.30" stroke-width="2.6"/><path d="M97 70 L100 70 L100 80 L97 79Z" fill="#1a3fd0"/><g stroke-width="0.6" stroke-linejoin="round"><path d="M92.8 218.8l-0 1.2l-0 1.2l-0 1.2l-0 1.2l-0 1.2l13.1 0.4l0.1 -1.2l0.1 -1.2l0.1 -1.2l0.1 -1.2l0.1 -1.2z" fill="#7f0000" stroke="#7f0000"/><path d="M92.8 224.7l-0 1.2l-0 1.2l-0 1.2l-0 1.2l-0 1.2l-0 1.2l-0 1.2l-0 1.2l-0 1.2l12.5 0.4l0.1 -1.2l0.1 -1.2l0.1 -1.2l0.1 -1.2l0.1 -1.2l0.1 -1.2l0.1 -1.2l0.1 -1.2l0.1 -1.2z" fill="#940000" stroke="#940000"/><path d="M92.8 235.2l0 1.2l0 1.2l0 1.2l0 1.2l0 1.2l0 1.2l0 1.2l0 1.2l0 1.2l11.6 0.3l0.1 -1.2l0.1 -1.2l0.1 -1.2l0.1 -1.2l0.1 -1.2l0.1 -1.2l0.1 -1.2l0.1 -1.2l0.1 -1.2z" fill="#a90000" stroke="#a90000"/><path d="M92.9 245.8l0 1.2l11.5 0.3l0.1 -1.2z" fill="#bf0000" stroke="#bf0000"/><path d="M92.9 247.0l0 1.2l11.4 0.3l0.1 -1.2z" fill="#d40000" stroke="#d40000"/><path d="M92.9 248.1l0 1.2l11.3 0.3l0.1 -1.2z" fill="#ff0000" stroke="#ff0000"/><path d="M93.0 249.3l0 1.2l11.2 0.3l0.1 -1.2z" fill="#ff1500" stroke="#ff1500"/><path d="M93.0 250.5l0 1.2l11.1 0.3l0.1 -1.2z" fill="#ff5500" stroke="#ff5500"/><path d="M93.0 251.7l0 1.2l11 0.3l0.1 -1.2z" fill="#ffa900" stroke="#ffa900"/></g><path d="M103.7 221.5l-0.1 1.2l-0.1 1.2l-0.1 1.2l-0.1 1.2l-0.1 1.2l-0.1 1.2l-0.1 1.2l-0.1 1.2l-0.1 1.2l-0.1 1.2l-0.1 1.2l-0.1 1.2l-0.1 1.2l-0.1 1.2l-0.1 1.2l-0.1 1.2l-0.1 1.2l-0.1 1.2l-0.1 1.2l-0.1 1.2l-0.1 1.2l-0.1 1.2l-0.1 1.2l-0.1 1.2l-0.1 1.2" fill="none" stroke="#000" stroke-opacity="0.15" stroke-width="4.7"/><path d="M97.0 221.3l-0 1.2l-0 1.2l-0 1.2l-0 1.2l-0 1.2l-0 1.2l-0 1.2l-0 1.2l-0 1.2l-0 1.2l-0 1.2l-0 1.2l-0 1.2l-0 1.2l-0 1.2l-0 1.2l-0 1.2l-0 1.2l-0 1.2l-0 1.2l-0 1.2l-0 1.2l-0 1.2l-0 1.2l-0 1.2" fill="none" stroke="#fff" stroke-opacity="0.25" stroke-width="2.7"/><path d="M84.0 232.0 C84.7 233.7 86.5 238.7 88.0 242.0 C89.5 245.3 92.2 250.3 93.0 252.0" fill="none" stroke="#e6e6e6" stroke-width="2.20" stroke-linecap="round"/><path d="M86.0 228.0 C86.7 230.0 88.5 236.3 90.0 240.0 C91.5 243.7 94.2 248.3 95.0 250.0" fill="none" stroke="#c8c8c8" stroke-width="2.20" stroke-linecap="round"/><ellipse cx="96.5" cy="262.5" rx="3" ry="1.6" fill="#1d3bc8"/><path d="M81.0 200.0 C82.8 201.0 88.2 203.7 92.0 206.0 C95.8 208.3 102.0 212.7 104.0 214.0" fill="none" stroke="#dcdcdc" stroke-width="1.80" stroke-linecap="round"/><path d="M103.0 196.0 C101.7 197.3 98.3 201.0 95.0 204.0 C91.7 207.0 85.0 212.3 83.0 214.0" fill="none" stroke="#bcbcbc" stroke-width="1.80" stroke-linecap="round"/><path d="M84.0 198.0 C86.0 199.5 92.0 204.7 96.0 207.0 C100.0 209.3 106.0 211.2 108.0 212.0" fill="none" stroke="#dcdcdc" stroke-width="1.80" stroke-linecap="round"/>
<path d="M466.0 106.0 C465.2 107.7 462.0 113.0 461.0 116.0 C460.0 119.0 459.2 121.3 460.0 124.0 C460.8 126.7 463.0 129.3 466.0 132.0 C469.0 134.7 473.2 138.1 478.0 140.0 C482.8 141.9 488.8 143.3 495.0 143.5 C501.2 143.7 508.7 142.2 515.0 141.0 C521.3 139.8 528.3 137.5 533.0 136.0 C537.7 134.5 541.3 132.7 543.0 132.0" fill="none" stroke="#7a7a7a" stroke-width="4.60" stroke-linecap="round"/><path d="M469.0 108.0 C468.2 109.7 464.8 115.0 464.0 118.0 C463.2 121.0 462.8 123.3 464.0 126.0 C465.2 128.7 467.7 131.7 471.0 134.0 C474.3 136.3 481.8 139.0 484.0 140.0" fill="none" stroke="#7a7a7a" stroke-width="3.60" stroke-linecap="round"/><path d="M476.0 141.0 C477.3 142.2 481.0 146.0 484.0 148.0 C487.0 150.0 490.7 151.5 494.0 153.0 C497.3 154.5 501.3 156.2 504.0 157.0 C506.7 157.8 509.0 157.8 510.0 158.0" fill="none" stroke="#7a7a7a" stroke-width="4.20" stroke-linecap="round"/><path d="M518.0 132.0 C520.0 131.3 525.8 128.8 530.0 128.0 C534.2 127.2 540.8 127.2 543.0 127.0" fill="none" stroke="#7a7a7a" stroke-width="3.40" stroke-linecap="round"/><path d="M466.0 106.0 C465.2 107.7 462.0 113.0 461.0 116.0 C460.0 119.0 459.2 121.3 460.0 124.0 C460.8 126.7 463.0 129.3 466.0 132.0 C469.0 134.7 473.2 138.1 478.0 140.0 C482.8 141.9 488.8 143.3 495.0 143.5 C501.2 143.7 508.7 142.2 515.0 141.0 C521.3 139.8 528.3 137.5 533.0 136.0 C537.7 134.5 541.3 132.7 543.0 132.0" fill="none" stroke="#c6c6c6" stroke-width="3.00" stroke-linecap="round"/><path d="M469.0 108.0 C468.2 109.7 464.8 115.0 464.0 118.0 C463.2 121.0 462.8 123.3 464.0 126.0 C465.2 128.7 467.7 131.7 471.0 134.0 C474.3 136.3 481.8 139.0 484.0 140.0" fill="none" stroke="#d4d4d4" stroke-width="2.20" stroke-linecap="round"/><path d="M476.0 141.0 C477.3 142.2 481.0 146.0 484.0 148.0 C487.0 150.0 490.7 151.5 494.0 153.0 C497.3 154.5 501.3 156.2 504.0 157.0 C506.7 157.8 509.0 157.8 510.0 158.0" fill="none" stroke="#bcbcbc" stroke-width="2.80" stroke-linecap="round"/><path d="M518.0 132.0 C520.0 131.3 525.8 128.8 530.0 128.0 C534.2 127.2 540.8 127.2 543.0 127.0" fill="none" stroke="#cfcfcf" stroke-width="2.00" stroke-linecap="round"/><path d="M466.0 106.0 C465.2 107.7 462.0 113.0 461.0 116.0 C460.0 119.0 459.2 121.3 460.0 124.0 C460.8 126.7 463.0 129.3 466.0 132.0 C469.0 134.7 473.2 138.1 478.0 140.0 C482.8 141.9 488.8 143.3 495.0 143.5 C501.2 143.7 508.7 142.2 515.0 141.0 C521.3 139.8 528.3 137.5 533.0 136.0 C537.7 134.5 541.3 132.7 543.0 132.0" fill="none" stroke="#f2f2f2" stroke-width="0.80" stroke-linecap="round"/><path d="M469.0 108.0 C468.2 109.7 464.8 115.0 464.0 118.0 C463.2 121.0 462.8 123.3 464.0 126.0 C465.2 128.7 467.7 131.7 471.0 134.0 C474.3 136.3 481.8 139.0 484.0 140.0" fill="none" stroke="#f2f2f2" stroke-width="0.80" stroke-linecap="round"/><path d="M476.0 141.0 C477.3 142.2 481.0 146.0 484.0 148.0 C487.0 150.0 490.7 151.5 494.0 153.0 C497.3 154.5 501.3 156.2 504.0 157.0 C506.7 157.8 509.0 157.8 510.0 158.0" fill="none" stroke="#f2f2f2" stroke-width="0.80" stroke-linecap="round"/><path d="M518.0 132.0 C520.0 131.3 525.8 128.8 530.0 128.0 C534.2 127.2 540.8 127.2 543.0 127.0" fill="none" stroke="#f2f2f2" stroke-width="0.80" stroke-linecap="round"/><g transform="translate(0 1.8)"><path d="M558.0 52.0 C561.8 49.3 576.3 50.2 585.0 50.0 C593.7 49.8 601.7 50.5 610.0 51.0 C618.3 51.5 628.0 52.2 635.0 53.0 C642.0 53.8 647.2 55.6 652.0 56.0 C656.8 56.4 661.3 55.3 664.0 55.5 C666.7 55.7 668.5 56.1 668.0 57.0 C667.5 57.9 663.7 60.0 661.0 61.0 C658.3 62.0 653.8 61.3 652.0 63.0 C650.2 64.7 652.0 69.5 650.0 71.0 C648.0 72.5 643.7 72.5 640.0 72.0 C636.3 71.5 631.3 69.0 628.0 68.0 C624.7 67.0 622.7 66.0 620.0 66.0 C617.3 66.0 610.7 64.3 612.0 68.0 C613.3 71.7 625.5 83.3 628.0 88.0 C630.5 92.7 629.2 94.8 627.0 96.0 C624.8 97.2 619.5 97.7 615.0 95.0 C610.5 92.3 604.2 83.3 600.0 80.0 C595.8 76.7 593.0 73.3 590.0 75.0 C587.0 76.7 583.5 82.8 582.0 90.0 C580.5 97.2 582.8 113.3 581.0 118.0 C579.2 122.7 573.0 121.0 571.0 118.0 C569.0 115.0 568.8 107.2 569.0 100.0 C569.2 92.8 573.2 80.7 572.0 75.0 C570.8 69.3 564.3 69.8 562.0 66.0 C559.7 62.2 554.2 54.7 558.0 52.0Z" fill="#a2a2a2"/><g fill="none" stroke-linecap="round"><path d="M566.1 54.1 C570.0 53.9 581.4 52.9 589.6 52.7 C597.8 52.5 606.8 52.5 615.2 52.9 C623.5 53.4 632.4 54.4 639.8 55.4 C647.1 56.4 656.2 58.3 659.4 58.9" stroke="#d8d8d8" stroke-width="1.20"/><path d="M566.2 55.3 C570.1 54.9 581.6 53.3 589.9 53.2 C598.2 53.1 607.6 54.1 616.0 54.9 C624.5 55.6 633.6 56.7 640.7 57.6 C647.7 58.5 655.3 59.8 658.2 60.3" stroke="#7e7e7e" stroke-width="1.20"/><path d="M566.2 56.5 C570.2 56.3 582.1 55.1 590.4 55.1 C598.7 55.0 607.6 55.5 615.9 56.2 C624.2 56.9 633.1 58.4 640.0 59.2 C646.9 60.1 654.4 60.9 657.3 61.3" stroke="#ececec" stroke-width="1.20"/><path d="M566.1 57.6 C570.2 57.4 582.1 56.9 590.5 56.8 C598.9 56.8 608.2 56.7 616.5 57.3 C624.7 57.8 633.4 59.2 640.1 60.0 C646.8 60.9 653.8 61.8 656.6 62.2" stroke="#9a9a9a" stroke-width="1.20"/><path d="M566.1 59.5 C570.2 59.3 582.6 58.4 591.0 58.2 C599.4 58.1 608.3 58.0 616.4 58.6 C624.5 59.2 633.1 60.9 639.6 61.7 C646.1 62.5 652.9 63.3 655.5 63.6" stroke="#d8d8d8" stroke-width="1.20"/><path d="M565.9 61.0 C570.2 60.6 583.2 59.3 591.8 59.0 C600.4 58.8 609.4 58.9 617.4 59.5 C625.4 60.2 633.6 62.4 639.8 63.2 C646.0 64.0 652.1 64.3 654.5 64.6" stroke="#7e7e7e" stroke-width="1.20"/><path d="M565.8 62.0 C570.1 61.7 582.8 60.7 591.4 60.7 C600.1 60.6 609.5 61.0 617.6 61.7 C625.7 62.4 634.0 64.0 640.0 64.8 C646.0 65.5 651.2 65.8 653.5 66.0" stroke="#ececec" stroke-width="1.20"/><path d="M565.8 63.0 C570.2 62.9 583.4 62.3 592.1 62.3 C600.7 62.2 609.8 62.1 617.8 62.9 C625.8 63.6 634.4 65.9 640.2 66.7 C645.9 67.4 650.4 67.2 652.4 67.3" stroke="#9a9a9a" stroke-width="1.20"/></g><g fill="none" stroke-linecap="round"><path d="M574.0 61.6 C573.8 64.7 572.9 73.5 572.6 79.8 C572.3 86.1 572.2 93.4 572.2 99.5 C572.2 105.6 572.7 113.6 572.8 116.4" stroke="#dcdcdc" stroke-width="1.30"/><path d="M577.2 61.8 C576.9 64.9 575.7 74.0 575.1 80.4 C574.6 86.8 574.1 94.3 573.9 100.3 C573.7 106.2 574.0 113.4 574.0 116.1" stroke="#7a7a7a" stroke-width="1.30"/><path d="M579.9 61.5 C579.4 64.6 577.5 73.5 576.7 79.9 C575.8 86.2 575.1 93.5 574.8 99.6 C574.5 105.7 574.8 113.5 574.7 116.3" stroke="#eeeeee" stroke-width="1.30"/><path d="M582.9 61.8 C582.3 64.8 580.8 73.7 579.6 80.1 C578.5 86.4 576.6 93.7 576.0 99.7 C575.4 105.7 576.0 113.5 576.1 116.3" stroke="#9e9e9e" stroke-width="1.30"/><path d="M586.3 62.4 C585.3 65.4 581.7 74.2 580.3 80.4 C578.9 86.6 578.3 93.6 577.7 99.7 C577.0 105.7 576.6 113.9 576.3 116.7" stroke="#dcdcdc" stroke-width="1.30"/><path d="M588.9 62.1 C587.9 65.2 584.3 74.0 582.8 80.4 C581.2 86.8 580.5 94.4 579.7 100.6 C578.9 106.7 578.1 114.5 577.8 117.3" stroke="#7a7a7a" stroke-width="1.30"/><path d="M592.3 62.2 C591.1 65.2 587.2 73.8 585.3 80.2 C583.4 86.5 582.1 94.2 580.9 100.3 C579.7 106.3 578.5 114.0 578.0 116.7" stroke="#eeeeee" stroke-width="1.30"/><path d="M594.7 61.4 C593.4 64.6 588.7 74.1 586.6 80.5 C584.4 86.9 583.1 93.8 581.9 99.9 C580.8 105.9 580.0 114.0 579.6 116.8" stroke="#9e9e9e" stroke-width="1.30"/></g><g fill="none" stroke-linecap="round"><path d="M597.0 65.8 C598.6 67.0 603.5 70.0 606.8 72.9 C610.1 75.8 613.9 79.3 616.9 83.0 C619.9 86.6 623.5 92.7 624.8 94.7" stroke="#e0e0e0" stroke-width="1.20"/><path d="M598.6 65.3 C600.3 66.6 605.2 69.7 608.5 72.6 C611.8 75.6 615.5 79.8 618.3 83.3 C621.1 86.7 624.2 91.7 625.3 93.4" stroke="#8a8a8a" stroke-width="1.20"/><path d="M599.8 64.3 C601.5 65.6 606.6 69.2 609.9 72.1 C613.3 75.0 617.2 78.5 619.9 81.9 C622.6 85.3 625.2 90.8 626.3 92.5" stroke="#c8c8c8" stroke-width="1.20"/><path d="M601.2 63.9 C603.0 65.1 608.6 67.9 612.0 71.0 C615.4 74.0 619.1 78.7 621.6 82.0 C624.1 85.4 626.3 89.5 627.2 91.0" stroke="#e0e0e0" stroke-width="1.20"/><path d="M603.1 63.8 C604.9 64.9 610.4 67.3 613.8 70.0 C617.2 72.8 621.0 77.1 623.4 80.4 C625.8 83.7 627.5 88.3 628.3 89.9" stroke="#8a8a8a" stroke-width="1.20"/></g><path d="M628.0 66.0 C629.3 66.7 633.3 69.2 636.0 70.0 C638.7 70.8 642.7 70.8 644.0 71.0" fill="none" stroke="#d0d0d0" stroke-width="1.20" stroke-linecap="round"/><path d="M632.0 64.0 C633.3 64.7 637.0 67.0 640.0 68.0 C643.0 69.0 648.3 69.7 650.0 70.0" fill="none" stroke="#8c8c8c" stroke-width="1.20" stroke-linecap="round"/><path d="M655.0 58.0 C656.2 57.8 659.8 57.5 662.0 57.0 C664.2 56.5 667.0 55.3 668.0 55.0" fill="none" stroke="#d0d0d0" stroke-width="1.20" stroke-linecap="round"/><path d="M603 63 L613 65 L619 77 L608 76Z" fill="#1a2aa8"/><path d="M598 84 L605 84 L604 88 L598 87Z" fill="#2233aa"/></g><g stroke-width="0.6" stroke-linejoin="round"><path d="M525.0 125.1l-1.8 -0.3l-1.8 -0.3l-1.8 -0.2l-1.8 -0.2l-1.8 -0.2l-1.8 -0.1l-1.7 -0.1l-1.7 -0.1l-1.7 -0.1l-1.7 -0.1l-1.6 -0.1l-0.9 17.3l1.8 0l1.7 0l1.7 0l1.7 0l1.7 0l1.6 0l1.6 0l1.6 0.1l1.6 0.1l1.5 0.1l1.6 0.1z" fill="#00007f" stroke="#00007f"/><path d="M505.8 123.1l-1.6 -0.2l-1.5 -0.2l-1.5 -0.2l-1.5 -0.2l-2.3 17.7l1.9 0.2l1.9 0.1l1.8 0.1l1.8 0z" fill="#000094" stroke="#000094"/><path d="M499.7 122.4l-1.4 -0.3l-1.3 -0.3l-1.2 -0.3l-4.4 17.8l2.1 0.4l2 0.3l2 0.2z" fill="#0000aa" stroke="#0000aa"/><path d="M495.8 121.4l-1.1 -0.4l-1 -0.4l-6.7 17.3l2.2 0.7l2.2 0.5z" fill="#0000bf" stroke="#0000bf"/><path d="M493.7 120.7l-0.9 -0.4l-0.7 -0.5l-9.7 16.2l2.3 1.1l2.3 0.9z" fill="#0000d4" stroke="#0000d4"/><path d="M492.1 119.8l-0.6 -0.5l-0.6 -0.6l-12.8 14.3l2.1 1.6l2.2 1.4z" fill="#0000e9" stroke="#0000e9"/><path d="M491.0 118.7l-0.6 -0.7l-0.6 -0.8l-0.5 -0.8l-16.1 11.1l1.5 1.9l1.7 1.8l1.9 1.7z" fill="#0000ff" stroke="#0000ff"/><path d="M489.3 116.5l-0.5 -0.9l-0.4 -0.9l-17.8 8.9l1.2 2.1l1.3 2z" fill="#0015ff" stroke="#0015ff"/><path d="M488.4 114.6l-0.3 -0.9l-18.5 7.7l1.1 2.2z" fill="#002aff" stroke="#002aff"/><path d="M488.1 113.7l-0.3 -0.9l-19.2 6.4l0.9 2.3z" fill="#003fff" stroke="#003fff"/><path d="M487.8 112.8l-0.2 -0.9l-19.8 5l0.8 2.3z" fill="#0055ff" stroke="#0055ff"/><path d="M487.6 111.9l-0.1 -1l-20.2 3.6l0.6 2.4z" fill="#006aff" stroke="#006aff"/><path d="M487.5 110.9l-0.1 -1l-20.6 2.2l0.4 2.4z" fill="#007fff" stroke="#007fff"/><path d="M487.5 109.9l0 -1.1l-20.9 0.9l0.3 2.3z" fill="#0094ff" stroke="#0094ff"/><path d="M487.5 108.8l0 -1.1l-21 -0.2l0.1 2.3z" fill="#00aaff" stroke="#00aaff"/><path d="M487.5 107.7l0 -1.1l-21 -1.4l-0.1 2.3z" fill="#00d4ff" stroke="#00d4ff"/><path d="M487.5 106.6l0.1 -1l-20.8 -2.7l-0.2 2.4z" fill="#00e9ff" stroke="#00e9ff"/><path d="M487.6 105.6l0.2 -0.9l-20.6 -4.2l-0.4 2.4z" fill="#15ffe9" stroke="#15ffe9"/><path d="M487.8 104.6l0.2 -0.8l-20.2 -5.8l-0.6 2.5z" fill="#2affd4" stroke="#2affd4"/><path d="M488.0 103.8l0.2 -0.7l-19.6 -7.6l-0.8 2.5z" fill="#54ffaa" stroke="#54ffaa"/><path d="M488.2 103.1l0.3 -0.7l-18.8 -9.4l-1.1 2.5z" fill="#7fff7f" stroke="#7fff7f"/><path d="M488.5 102.4l0.4 -0.6l-17.8 -11.1l-1.3 2.3z" fill="#94ff6a" stroke="#94ff6a"/><path d="M488.9 101.8l0.4 -0.7l-16.8 -12.6l-1.5 2.1z" fill="#bfff3f" stroke="#bfff3f"/><path d="M489.3 101.1l0.5 -0.7l-15.7 -13.9l-1.6 2z" fill="#e9ff15" stroke="#e9ff15"/><path d="M489.9 100.5l0.6 -0.6l-14.6 -15.1l-1.7 1.8z" fill="#ffe900" stroke="#ffe900"/><path d="M490.5 99.9l0.7 -0.6l-13.4 -16.2l-1.9 1.7z" fill="#ffd400" stroke="#ffd400"/><path d="M491.1 99.3l0.7 -0.5l-12.1 -17.2l-2 1.5z" fill="#ffa900" stroke="#ffa900"/><path d="M491.8 98.7l0.8 -0.5l-10.8 -18l-2.1 1.4z" fill="#ff7f00" stroke="#ff7f00"/><path d="M492.6 98.2l0.8 -0.4l-9.4 -18.8l-2.2 1.2z" fill="#ff5500" stroke="#ff5500"/><path d="M493.4 97.8l0.9 -0.4l-8.1 -19.4l-2.2 1z" fill="#ff2a00" stroke="#ff2a00"/><path d="M494.3 97.4l1 -0.4l-6.9 -19.8l-2.2 0.8z" fill="#ff0000" stroke="#ff0000"/><path d="M495.3 97.0l1 -0.3l-5.6 -20.2l-2.2 0.7z" fill="#d40000" stroke="#d40000"/><path d="M496.3 96.7l1.1 -0.3l-4.5 -20.5l-2.2 0.6z" fill="#a90000" stroke="#a90000"/><path d="M497.3 96.4l1.2 -0.2l-3.5 -20.7l-2.2 0.4z" fill="#940000" stroke="#940000"/><path d="M498.5 96.2l1.3 -0.2l-2.7 -20.8l-2.1 0.3z" fill="#a90000" stroke="#a90000"/><path d="M499.8 96.0l1.5 -0.2l-2.3 -20.9l-1.9 0.2z" fill="#e90000" stroke="#e90000"/><path d="M501.3 95.9l1.7 -0.2l-2.3 -20.9l-1.7 0.2z" fill="#ff1500" stroke="#ff1500"/><path d="M503.0 95.7l1.8 -0.2l-2.6 -20.8l-1.5 0.2z" fill="#ff5500" stroke="#ff5500"/><path d="M504.8 95.5l2 -0.3l-3.3 -20.7l-1.3 0.2z" fill="#ff7f00" stroke="#ff7f00"/><path d="M506.8 95.2l2.2 -0.4l-4.3 -20.6l-1.2 0.2z" fill="#ffbf00" stroke="#ffbf00"/><path d="M509.0 94.8l2.2 -0.6l-5.3 -20.2l-1.1 0.2z" fill="#ffe900" stroke="#ffe900"/><path d="M511.2 94.2l2.1 -0.7l-6.2 -19.8l-1.2 0.3z" fill="#e9ff15" stroke="#e9ff15"/><path d="M513.2 93.6l2 -0.7l-6.9 -19.4l-1.2 0.3z" fill="#bfff3f" stroke="#bfff3f"/><path d="M515.2 92.8l1.9 -0.8l-7.5 -19l-1.3 0.4z" fill="#94ff6a" stroke="#94ff6a"/><path d="M517.1 92.0l1.8 -0.8l-7.9 -18.7l-1.4 0.5z" fill="#6aff94" stroke="#6aff94"/><path d="M518.9 91.2l1.7 -0.8l-8.2 -18.4l-1.4 0.5z" fill="#3fffbf" stroke="#3fffbf"/><path d="M520.5 90.4l1.6 -0.8l-8.3 -18.2l-1.5 0.6z" fill="#15ffe9" stroke="#15ffe9"/><path d="M522.2 89.6l1.6 -0.8l1.6 -0.8l-8.5 -17.8l-1.5 0.6l-1.5 0.6z" fill="#00e9ff" stroke="#00e9ff"/><path d="M525.3 88.0l1.6 -0.8l-8.6 -17.6l-1.5 0.6z" fill="#00d4ff" stroke="#00d4ff"/><path d="M526.9 87.1l1.6 -0.8l1.6 -0.9l-8.8 -17.2l-1.5 0.7l-1.5 0.7z" fill="#00bfff" stroke="#00bfff"/><path d="M530.0 85.4l1.6 -0.9l1.6 -0.9l-9 -16.9l-1.4 0.7l-1.5 0.7z" fill="#00aaff" stroke="#00aaff"/><path d="M533.2 83.7l1.5 -0.9l-9.1 -16.6l-1.4 0.7z" fill="#0094ff" stroke="#0094ff"/><path d="M534.7 82.7l1.5 -1l1.5 -1l-9.2 -16.1l-1.5 0.7l-1.5 0.7z" fill="#007fff" stroke="#007fff"/><path d="M537.7 80.8l1.5 -1l1.4 -1l-9.1 -15.5l-1.5 0.7l-1.5 0.7z" fill="#006aff" stroke="#006aff"/><path d="M540.6 78.8l1.4 -1l1.4 -1l-9 -15l-1.5 0.8l-1.5 0.7z" fill="#0055ff" stroke="#0055ff"/><path d="M543.4 76.8l1.4 -1l-8.9 -14.8l-1.5 0.8z" fill="#003fff" stroke="#003fff"/><path d="M544.9 75.9l1.4 -1l1.4 -1l1.4 -1l-8.5 -14.2l-1.5 0.8l-1.5 0.8l-1.5 0.8z" fill="#002aff" stroke="#002aff"/><path d="M549.0 72.9l1.4 -1l1.4 -1l1.4 -1l1.4 -1l1.4 -1l1.4 -0.9l1.4 -0.9l1.4 -0.9l1.4 -0.9l1.4 -0.8l1.4 -0.8l-6.7 -12.6l-1.6 0.8l-1.6 0.8l-1.6 0.8l-1.6 0.8l-1.5 0.8l-1.6 0.8l-1.6 0.8l-1.6 0.8l-1.5 0.8l-1.5 0.8l-1.5 0.8z" fill="#0015ff" stroke="#0015ff"/><path d="M564.3 62.9l1.4 -0.8l1.5 -0.8l-6.4 -12.4l-1.6 0.7l-1.6 0.8z" fill="#002aff" stroke="#002aff"/></g><path d="M522.3 132.8l-1.7 -0.2l-1.7 -0.1l-1.7 -0.1l-1.7 -0.1l-1.7 -0.1l-1.7 -0.1l-1.7 -0.1l-1.7 -0.1l-1.7 -0.1l-1.7 -0.1l-1.7 -0.1l-1.7 -0.1l-1.7 -0.2l-1.7 -0.2l-1.7 -0.2l-1.7 -0.3l-1.7 -0.4l-1.6 -0.5l-1.6 -0.6l-1.6 -0.7l-1.5 -0.8l-1.4 -0.9l-1.3 -1.1l-1.2 -1.2l-1.1 -1.3l-1 -1.4l-0.9 -1.4l-0.8 -1.5l-0.7 -1.5l-0.6 -1.6l-0.5 -1.6l-0.4 -1.7l-0.2 -1.7l-0.1 -1.7l-0 -1.7l0.1 -1.7l0.2 -1.7l0.3 -1.7l0.4 -1.6l0.5 -1.6l0.7 -1.6l0.8 -1.5l1 -1.4l1.1 -1.3l1.2 -1.2l1.3 -1.1l1.3 -1l1.4 -0.9l1.5 -0.8l1.5 -0.7l1.6 -0.6l1.6 -0.5l1.6 -0.4l1.7 -0.3l1.7 -0.2l1.7 -0.2l1.7 -0.2l1.7 -0.2l1.7 -0.2l1.7 -0.3l1.7 -0.4l1.6 -0.5l1.6 -0.5l1.6 -0.6l1.6 -0.6l1.6 -0.7l1.5 -0.7l1.5 -0.7l1.5 -0.7l1.5 -0.7l1.5 -0.8l1.5 -0.8l1.5 -0.8l1.5 -0.8l1.5 -0.8l1.5 -0.8l1.5 -0.8l1.5 -0.8l1.5 -0.9l1.5 -0.9l1.5 -0.9l1.5 -0.9l1.5 -0.9l1.5 -0.9l1.5 -0.9l1.5 -0.9l1.5 -0.9l1.5 -0.9l1.5 -0.9l1.5 -0.9l1.5 -0.8l1.5 -0.8l1.5 -0.8l1.5 -0.8l1.5 -0.8l1.5 -0.8l1.5 -0.8" fill="none" stroke="#000" stroke-opacity="0.10" stroke-width="17.8"/><path d="M521.1 127.4l-1.8 -0.2l-1.8 -0.2l-1.7 -0.1l-1.7 -0.1l-1.7 -0.1l-1.7 -0.1l-1.7 -0.1l-1.7 -0.1l-1.6 -0.1l-1.6 -0.1l-1.6 -0.2l-1.6 -0.2l-1.5 -0.2l-1.5 -0.3l-1.4 -0.3l-1.4 -0.4l-1.3 -0.4l-1.2 -0.5l-1.1 -0.5l-1 -0.6l-0.9 -0.6l-0.8 -0.7l-0.8 -0.9l-0.8 -0.9l-0.7 -1l-0.6 -1.1l-0.6 -1.1l-0.5 -1.2l-0.4 -1.2l-0.3 -1.2l-0.2 -1.2l-0.1 -1.2l-0 -1.3l0 -1.3l0 -1.3l0.1 -1.3l0.2 -1.2l0.3 -1.1l0.4 -1l0.4 -1l0.5 -0.9l0.6 -0.9l0.7 -0.9l0.8 -0.8l0.9 -0.8l0.9 -0.7l1 -0.6l1.1 -0.6l1.1 -0.5l1.2 -0.4l1.2 -0.4l1.3 -0.3l1.3 -0.3l1.4 -0.2l1.6 -0.2l1.7 -0.2l1.8 -0.2l1.9 -0.3l2 -0.4l2 -0.5l1.9 -0.6l1.8 -0.7l1.8 -0.7l1.7 -0.7l1.6 -0.8l1.6 -0.8l1.6 -0.8l1.6 -0.8l1.6 -0.8l1.6 -0.8l1.5 -0.8l1.5 -0.8l1.5 -0.9l1.5 -0.9l1.5 -0.9l1.5 -0.9l1.5 -0.9l1.5 -0.9l1.4 -0.9l1.4 -0.9l1.4 -0.9l1.4 -0.9l1.4 -0.9l1.4 -0.9l1.4 -0.9l1.4 -0.9l1.4 -0.9l1.4 -0.9l1.4 -0.9l1.4 -0.9l1.4 -0.9l1.4 -0.9l1.4 -0.8l1.4 -0.8l1.4 -0.8" fill="none" stroke="#000" stroke-opacity="0.20" stroke-width="7.1"/><path d="M520.3 135.5l-1.6 -0.1l-1.7 -0.1l-1.7 -0.1l-1.7 -0.1l-1.7 -0.1l-1.7 -0l-1.7 -0l-1.7 -0l-1.7 -0.1l-1.7 -0.1l-1.7 -0.1l-1.8 -0.1l-1.8 -0.2l-1.8 -0.2l-1.8 -0.3l-1.8 -0.4l-1.8 -0.5l-1.8 -0.6l-1.8 -0.8l-1.8 -0.9l-1.7 -1.1l-1.6 -1.3l-1.4 -1.4l-1.3 -1.5l-1.2 -1.6l-1.1 -1.6l-1 -1.7l-0.8 -1.8l-0.7 -1.8l-0.6 -1.9l-0.4 -1.9l-0.3 -1.9l-0.2 -1.9l-0.1 -1.9l0.1 -1.9l0.2 -1.9l0.3 -1.9l0.5 -1.9l0.6 -1.9l0.8 -1.9l1 -1.8l1.1 -1.7l1.3 -1.6l1.4 -1.4l1.5 -1.3l1.6 -1.2l1.7 -1.1l1.7 -0.9l1.8 -0.8l1.8 -0.7l1.8 -0.6l1.9 -0.5l1.9 -0.4l1.8 -0.3l1.8 -0.2l1.7 -0.2l1.6 -0.2l1.6 -0.2l1.5 -0.3l1.5 -0.3l1.5 -0.4l1.5 -0.5l1.5 -0.5l1.5 -0.6l1.5 -0.6l1.5 -0.7l1.5 -0.7l1.5 -0.7l1.5 -0.7l1.5 -0.7l1.5 -0.7l1.5 -0.7l1.5 -0.8l1.5 -0.8l1.5 -0.8l1.5 -0.8l1.5 -0.8l1.5 -0.8l1.5 -0.8l1.5 -0.8l1.5 -0.8l1.5 -0.8l1.5 -0.8l1.5 -0.8l1.5 -0.8l1.5 -0.8l1.5 -0.8l1.5 -0.8l1.5 -0.8l1.5 -0.8l1.5 -0.8l1.5 -0.8l1.5 -0.8l1.5 -0.8l1.5 -0.8" fill="none" stroke="#fff" stroke-opacity="0.22" stroke-width="4.1"/><path d="M498.0 132.0 C500.2 128.9 507.7 127.3 512.0 126.5 C516.3 125.7 520.8 125.8 524.0 127.0 C527.2 128.2 530.2 130.8 531.0 134.0 C531.8 137.2 531.0 143.0 529.0 146.0 C527.0 149.0 522.8 151.1 519.0 152.0 C515.2 152.9 509.3 152.7 506.0 151.5 C502.7 150.3 500.3 148.2 499.0 145.0 C497.7 141.8 495.8 135.1 498.0 132.0Z" fill="#0b1c8c"/><path d="M503 134 C510 131 518 131 524 134" fill="none" stroke="#3a55c8" stroke-width="1.6" stroke-opacity="0.8"/><path d="M518.0 138.0 C518.8 135.3 521.8 135.0 524.0 134.0 C526.2 133.0 528.7 132.2 531.0 132.0 C533.3 131.8 536.2 132.2 538.0 133.0 C539.8 133.8 541.5 135.2 542.0 137.0 C542.5 138.8 541.8 141.8 541.0 144.0 C540.2 146.2 538.8 148.5 537.0 150.0 C535.2 151.5 532.3 152.5 530.0 153.0 C527.7 153.5 524.8 153.5 523.0 153.0 C521.2 152.5 519.8 152.5 519.0 150.0 C518.2 147.5 517.2 140.7 518.0 138.0Z" fill="#c9c9c9"/><path d="M518.0 138.0 C518.4 137.7 519.2 136.9 520.2 136.2 C521.2 135.6 523.4 134.4 524.0 134.0" fill="none" stroke="#f0f0f0" stroke-width="1.10" stroke-linecap="round"/><path d="M513.0 138.0 C514.4 137.7 519.0 137.1 521.2 136.2 C523.4 135.4 525.4 133.6 526.3 133.1" fill="none" stroke="#8a8a8a" stroke-width="1.10" stroke-linecap="round"/><path d="M518.1 139.7 C519.3 139.1 522.9 137.4 525.0 136.1 C527.1 134.8 530.0 132.7 531.0 132.0" fill="none" stroke="#dcdcdc" stroke-width="1.10" stroke-linecap="round"/><path d="M517.0 139.7 C518.1 139.1 522.0 136.9 523.7 136.1 C525.4 135.3 526.4 135.0 526.9 134.8" fill="none" stroke="#f0f0f0" stroke-width="1.10" stroke-linecap="round"/><path d="M518.3 141.4 C519.9 141.1 524.8 141.1 528.1 139.7 C531.4 138.3 536.3 134.1 538.0 133.0" fill="none" stroke="#8a8a8a" stroke-width="1.10" stroke-linecap="round"/><path d="M520.8 141.4 C522.1 141.1 525.9 140.7 528.5 139.7 C531.2 138.8 535.3 136.4 536.7 135.8" fill="none" stroke="#dcdcdc" stroke-width="1.10" stroke-linecap="round"/><path d="M518.4 143.1 C520.3 142.9 525.8 142.7 529.7 141.6 C533.6 140.6 540.0 137.8 542.0 137.0" fill="none" stroke="#f0f0f0" stroke-width="1.10" stroke-linecap="round"/><path d="M517.2 143.1 C519.4 142.9 526.4 141.9 530.0 141.6 C533.6 141.4 537.5 141.7 539.0 141.7" fill="none" stroke="#8a8a8a" stroke-width="1.10" stroke-linecap="round"/><path d="M518.6 144.9 C520.4 144.7 526.0 144.2 529.7 144.0 C533.4 143.9 539.1 144.0 541.0 144.0" fill="none" stroke="#dcdcdc" stroke-width="1.10" stroke-linecap="round"/><path d="M521.0 144.9 C522.2 144.7 524.8 144.6 528.4 144.0 C531.9 143.5 540.2 142.1 542.5 141.7" fill="none" stroke="#f0f0f0" stroke-width="1.10" stroke-linecap="round"/><path d="M518.7 146.6 C520.3 146.7 525.4 146.7 528.4 147.2 C531.5 147.8 535.6 149.5 537.0 150.0" fill="none" stroke="#8a8a8a" stroke-width="1.10" stroke-linecap="round"/><path d="M513.2 146.6 C515.6 146.7 524.0 146.5 527.5 147.2 C531.0 148.0 533.0 150.5 534.1 151.1" fill="none" stroke="#dcdcdc" stroke-width="1.10" stroke-linecap="round"/><path d="M518.9 148.3 C519.8 148.8 522.6 150.4 524.5 151.2 C526.3 151.9 529.1 152.7 530.0 153.0" fill="none" stroke="#f0f0f0" stroke-width="1.10" stroke-linecap="round"/><path d="M519.1 148.3 C519.9 148.8 522.1 150.0 523.9 151.2 C525.7 152.3 529.0 154.4 530.1 155.1" fill="none" stroke="#8a8a8a" stroke-width="1.10" stroke-linecap="round"/><path d="M519.0 150.0 C519.3 150.1 520.2 150.2 520.8 150.7 C521.5 151.2 522.6 152.6 523.0 153.0" fill="none" stroke="#dcdcdc" stroke-width="1.10" stroke-linecap="round"/><path d="M516.1 150.0 C516.8 150.1 519.6 149.6 520.5 150.7 C521.4 151.9 521.3 155.8 521.5 156.8" fill="none" stroke="#f0f0f0" stroke-width="1.10" stroke-linecap="round"/><path d="M519 145 L526 147 L524 152 L518 151Z" fill="#1c2fa8"/>
<path d="M69 416 C72 413 76 414 84 417 L100 423 L114 426 L116 434 L104 433 L88 427 L74 422 C70 421 68 419 69 416Z" fill="#4e4e4e"/><path d="M71 415.5 L90 421.5 L112 427" stroke="#9a9a9a" stroke-width="1.1" fill="none"/><path d="M74 420 L92 426 L110 431" stroke="#3a3a3a" stroke-width="0.8" fill="none"/><path d="M109.0 431.0 C112.0 424.0 115.3 422.4 118.0 420.0 C120.7 417.6 121.7 417.1 125.0 416.5 C128.3 415.9 132.2 414.9 138.0 416.5 C143.8 418.1 152.7 422.4 160.0 426.0 C167.3 429.6 174.7 434.2 182.0 438.0 C189.3 441.8 196.0 445.7 204.0 449.0 C212.0 452.3 223.0 455.8 230.0 458.0 C237.0 460.2 244.3 458.7 246.0 462.0 C247.7 465.3 241.5 473.8 240.0 478.0 C238.5 482.2 238.7 485.5 237.0 487.0 C235.3 488.5 236.2 487.0 230.0 487.0 C223.8 487.0 208.0 487.0 200.0 487.0 C192.0 487.0 189.3 487.3 182.0 487.0 C174.7 486.7 164.0 484.0 156.0 485.0 C148.0 486.0 139.0 491.7 134.0 493.0 C129.0 494.3 128.7 495.2 126.0 493.0 C123.3 490.8 121.0 483.8 118.0 480.0 C115.0 476.2 111.0 473.0 108.0 470.0 C105.0 467.0 99.8 468.5 100.0 462.0 C100.2 455.5 106.0 438.0 109.0 431.0Z" fill="#8f8f8f"/><g fill="none" stroke-linecap="round"><path d="M110.0 432.4 C112.4 430.1 119.9 421.3 124.6 418.9 C129.2 416.6 131.9 416.9 137.9 418.4 C143.8 419.9 152.9 424.5 160.3 428.0 C167.7 431.4 175.0 435.1 182.4 438.9 C189.8 442.6 196.8 447.1 204.8 450.6 C212.8 454.0 223.5 457.3 230.3 459.4 C237.1 461.5 243.1 462.4 245.7 463.0" stroke="#c6c6c6" stroke-width="1.30"/><path d="M110.3 432.9 C112.6 431.1 119.3 424.1 123.8 421.9 C128.4 419.8 131.6 419.0 137.7 420.3 C143.7 421.5 153.0 426.2 160.2 429.6 C167.4 433.1 173.8 437.4 181.0 441.0 C188.3 444.6 195.7 448.0 203.8 451.2 C211.8 454.5 222.1 458.4 229.2 460.4 C236.2 462.4 243.2 462.8 246.0 463.3" stroke="#6e6e6e" stroke-width="1.30"/><path d="M109.5 434.6 C111.9 432.8 119.4 425.6 124.2 423.8 C129.0 422.1 132.5 422.6 138.4 423.9 C144.4 425.2 152.6 428.3 159.9 431.5 C167.2 434.7 174.7 439.6 182.2 443.1 C189.6 446.6 196.7 449.4 204.5 452.4 C212.4 455.4 222.8 458.9 229.5 460.8 C236.2 462.8 242.0 463.5 244.5 464.0" stroke="#dadada" stroke-width="1.30"/><path d="M110.0 435.4 C112.4 434.0 119.7 428.4 124.5 426.8 C129.2 425.2 132.5 424.9 138.5 425.9 C144.6 427.0 153.2 430.1 160.5 433.2 C167.8 436.4 175.2 441.3 182.3 444.8 C189.4 448.4 195.2 451.5 203.1 454.4 C211.0 457.4 222.7 460.9 229.6 462.5 C236.6 464.2 242.3 464.2 244.8 464.5" stroke="#8a8a8a" stroke-width="1.30"/><path d="M109.9 436.7 C112.2 435.4 119.2 430.2 124.0 428.7 C128.8 427.3 132.5 426.6 138.5 427.8 C144.6 429.0 153.3 433.0 160.5 436.2 C167.8 439.3 174.6 443.1 181.9 446.4 C189.3 449.8 196.8 453.5 204.6 456.4 C212.5 459.2 222.2 462.0 228.9 463.5 C235.6 464.9 242.3 464.8 245.0 465.1" stroke="#b0b0b0" stroke-width="1.30"/><path d="M109.1 439.1 C111.4 437.9 118.0 433.1 123.0 431.5 C128.0 429.9 132.9 428.7 139.0 429.6 C145.2 430.6 152.7 434.0 159.8 437.2 C167.0 440.3 174.6 445.4 182.1 448.5 C189.6 451.6 197.1 453.2 205.0 455.8 C212.9 458.4 222.6 462.6 229.3 464.3 C236.1 466.0 242.7 465.6 245.3 465.9" stroke="#5e5e5e" stroke-width="1.30"/><path d="M109.2 440.0 C111.6 438.9 118.7 434.7 123.6 433.5 C128.4 432.3 132.0 431.9 138.1 433.0 C144.2 434.0 152.9 437.1 160.2 439.7 C167.5 442.4 174.6 445.5 181.9 448.6 C189.2 451.8 195.8 455.9 203.8 458.5 C211.7 461.1 222.6 462.8 229.5 464.1 C236.3 465.5 242.4 466.2 244.9 466.6" stroke="#c6c6c6" stroke-width="1.30"/><path d="M110.6 441.3 C112.7 440.3 118.5 436.1 123.3 435.3 C128.0 434.5 133.1 435.4 139.2 436.4 C145.2 437.4 152.4 439.1 159.6 441.4 C166.8 443.8 174.9 447.5 182.3 450.5 C189.7 453.4 196.0 456.3 203.9 459.0 C211.7 461.6 222.9 464.9 229.6 466.3 C236.3 467.7 241.6 467.2 244.0 467.3" stroke="#6e6e6e" stroke-width="1.30"/><path d="M109.2 442.8 C111.4 441.9 117.4 438.6 122.4 437.7 C127.3 436.7 132.6 436.1 139.0 437.2 C145.3 438.2 153.0 441.4 160.3 444.0 C167.6 446.6 175.3 450.1 182.7 452.9 C190.0 455.6 196.8 458.0 204.5 460.3 C212.2 462.5 222.6 465.2 229.1 466.3 C235.6 467.4 241.1 466.8 243.5 466.9" stroke="#dadada" stroke-width="1.30"/><path d="M109.1 443.9 C111.5 443.4 118.7 441.3 123.5 440.6 C128.3 439.9 131.6 438.9 137.7 439.8 C143.8 440.7 152.7 443.9 160.1 446.2 C167.5 448.5 175.0 451.0 182.3 453.7 C189.5 456.4 195.7 460.1 203.6 462.6 C211.5 465.0 222.9 467.6 229.7 468.5 C236.6 469.3 242.1 467.8 244.5 467.6" stroke="#8a8a8a" stroke-width="1.30"/><path d="M109.5 445.6 C111.8 445.2 118.7 444.0 123.6 443.5 C128.5 442.9 132.9 441.6 138.8 442.3 C144.7 442.9 152.1 445.3 159.2 447.6 C166.4 449.8 174.2 453.1 181.6 455.7 C189.0 458.3 195.8 460.9 203.8 463.1 C211.8 465.2 223.1 467.7 229.7 468.6 C236.3 469.5 241.1 468.7 243.4 468.7" stroke="#b0b0b0" stroke-width="1.30"/><path d="M109.0 446.6 C111.3 446.5 118.0 446.1 123.0 445.8 C127.9 445.5 132.7 444.1 138.8 444.8 C144.8 445.5 152.2 448.1 159.3 450.1 C166.5 452.1 174.2 454.6 181.6 456.8 C189.0 459.1 195.9 461.7 203.9 463.7 C211.9 465.7 223.0 468.2 229.4 469.1 C235.8 469.9 240.2 468.8 242.4 468.8" stroke="#5e5e5e" stroke-width="1.30"/><path d="M109.8 448.1 C111.9 448.1 117.9 448.1 122.6 448.0 C127.3 447.9 131.9 447.1 138.1 447.8 C144.2 448.4 151.9 450.1 159.2 451.8 C166.6 453.5 174.8 455.8 182.3 458.1 C189.8 460.4 196.3 463.7 204.2 465.7 C212.0 467.8 222.9 469.7 229.4 470.4 C235.9 471.1 240.9 470.0 243.1 469.9" stroke="#c6c6c6" stroke-width="1.30"/><path d="M109.3 449.4 C111.6 449.5 118.4 450.0 123.4 449.9 C128.4 449.9 133.3 448.3 139.3 449.0 C145.3 449.6 152.2 451.8 159.5 453.7 C166.7 455.7 175.5 458.7 182.8 460.9 C190.2 463.0 196.1 465.1 203.7 466.8 C211.4 468.5 222.4 470.7 228.9 471.1 C235.3 471.5 240.2 469.5 242.4 469.2" stroke="#6e6e6e" stroke-width="1.30"/><path d="M109.1 450.3 C111.4 450.6 117.8 451.9 122.7 452.1 C127.5 452.2 131.9 450.4 138.2 451.1 C144.5 451.8 153.1 454.4 160.4 456.3 C167.7 458.2 174.7 460.8 182.0 462.5 C189.2 464.2 196.0 465.1 203.9 466.7 C211.7 468.3 222.8 471.5 229.1 472.3 C235.5 473.0 239.8 471.3 241.9 471.1" stroke="#dadada" stroke-width="1.30"/><path d="M109.3 451.8 C111.4 452.3 117.3 454.8 122.2 455.1 C127.2 455.4 132.6 453.2 138.9 453.7 C145.3 454.3 153.3 456.7 160.5 458.3 C167.6 460.0 174.5 462.1 181.8 463.9 C189.1 465.7 196.5 467.7 204.5 469.2 C212.4 470.7 223.2 472.2 229.5 472.8 C235.8 473.3 240.1 472.6 242.2 472.6" stroke="#8a8a8a" stroke-width="1.30"/><path d="M109.3 453.2 C111.6 454.1 118.2 457.8 123.2 458.2 C128.2 458.7 133.0 455.9 139.3 456.0 C145.5 456.1 153.6 457.3 160.8 458.8 C167.9 460.3 175.1 463.1 182.3 465.1 C189.4 467.1 195.6 469.3 203.4 470.7 C211.2 472.0 222.7 473.1 229.1 473.3 C235.5 473.5 239.8 472.1 241.9 471.9" stroke="#b0b0b0" stroke-width="1.30"/><path d="M107.9 454.6 C110.4 455.5 117.7 459.6 123.0 460.3 C128.2 461.0 133.0 458.5 139.2 458.6 C145.5 458.8 153.0 460.0 160.2 461.3 C167.5 462.7 175.3 465.1 182.6 466.8 C189.9 468.5 196.5 470.3 204.1 471.6 C211.8 472.8 222.0 474.2 228.3 474.4 C234.6 474.6 239.8 473.1 242.1 472.9" stroke="#5e5e5e" stroke-width="1.30"/><path d="M108.6 456.5 C110.9 457.5 117.5 461.8 122.5 462.5 C127.6 463.3 132.8 460.9 138.9 461.1 C145.0 461.4 152.1 463.0 159.2 464.0 C166.4 465.1 174.3 466.1 181.7 467.5 C189.2 468.9 196.0 471.1 203.9 472.3 C211.7 473.6 222.6 474.6 228.8 475.1 C235.1 475.5 239.2 475.1 241.3 475.1" stroke="#c6c6c6" stroke-width="1.30"/><path d="M108.1 457.8 C110.5 459.0 117.5 464.1 122.5 464.9 C127.6 465.7 132.1 462.7 138.4 462.7 C144.7 462.8 152.8 464.2 160.2 465.3 C167.6 466.5 175.5 467.9 182.8 469.5 C190.1 471.2 196.5 474.1 204.1 475.2 C211.7 476.3 222.2 476.3 228.3 476.1 C234.4 475.9 238.7 474.2 240.8 473.9" stroke="#6e6e6e" stroke-width="1.30"/><path d="M109.1 459.1 C111.3 460.5 117.0 466.1 122.3 467.3 C127.5 468.5 134.6 466.3 140.7 466.3 C146.7 466.3 151.8 466.3 158.6 467.2 C165.4 468.2 174.0 470.3 181.6 471.8 C189.1 473.2 196.0 474.9 203.9 475.9 C211.8 476.9 223.0 478.1 229.1 477.9 C235.2 477.7 238.7 475.0 240.6 474.4" stroke="#dadada" stroke-width="1.30"/><path d="M108.7 461.0 C111.1 462.4 117.6 468.2 122.8 469.4 C128.1 470.6 133.9 468.2 140.1 468.1 C146.3 468.0 153.0 468.1 160.0 468.9 C166.9 469.7 174.6 471.4 181.7 472.7 C188.8 474.0 194.7 475.7 202.6 476.7 C210.5 477.6 222.5 478.5 228.8 478.2 C235.2 478.0 238.8 475.8 240.8 475.3" stroke="#8a8a8a" stroke-width="1.30"/><path d="M108.7 460.5 C111.0 462.5 117.1 470.5 122.4 472.3 C127.7 474.1 133.9 471.6 140.3 471.3 C146.7 471.0 153.9 470.1 160.7 470.7 C167.5 471.3 173.7 473.7 180.9 474.9 C188.1 476.1 196.1 477.1 204.0 477.9 C211.9 478.6 222.6 479.7 228.4 479.4 C234.3 479.0 237.4 476.4 239.3 475.8" stroke="#b0b0b0" stroke-width="1.30"/><path d="M108.2 463.3 C110.6 465.1 117.4 472.8 122.7 474.3 C127.9 475.9 133.4 472.9 139.7 472.7 C146.0 472.6 153.4 472.9 160.4 473.5 C167.4 474.0 174.3 475.1 181.7 475.9 C189.1 476.8 197.0 477.8 204.9 478.5 C212.7 479.3 223.2 480.8 228.9 480.3 C234.7 479.9 237.7 476.6 239.5 475.8" stroke="#5e5e5e" stroke-width="1.30"/><path d="M108.4 464.6 C110.8 466.5 117.5 474.4 122.7 476.2 C127.8 477.9 133.0 475.4 139.3 475.0 C145.7 474.7 153.7 473.6 160.8 474.0 C167.9 474.4 175.0 476.6 182.2 477.5 C189.5 478.4 196.5 478.8 204.2 479.6 C211.9 480.3 222.6 482.3 228.5 481.8 C234.5 481.4 237.8 477.8 239.6 477.0" stroke="#c6c6c6" stroke-width="1.30"/><path d="M108.5 465.5 C110.8 467.7 117.4 477.1 122.6 479.1 C127.7 481.1 133.1 477.7 139.3 477.4 C145.5 477.1 152.8 477.2 159.9 477.5 C167.0 477.8 174.5 478.4 182.0 479.1 C189.5 479.8 196.9 481.0 204.7 481.5 C212.6 482.0 223.2 483.0 228.9 482.3 C234.7 481.5 237.4 478.0 239.1 477.2" stroke="#6e6e6e" stroke-width="1.30"/><path d="M108.1 467.7 C110.5 469.9 117.0 479.0 122.3 480.9 C127.6 482.8 133.4 479.5 139.7 479.1 C146.0 478.7 153.1 478.2 160.1 478.5 C167.0 478.8 174.1 480.5 181.4 481.0 C188.7 481.5 196.1 480.9 204.0 481.4 C211.8 481.9 222.9 484.4 228.6 483.9 C234.3 483.5 236.6 479.7 238.2 478.9" stroke="#dadada" stroke-width="1.30"/><path d="M107.8 468.3 C110.2 470.8 116.6 480.9 122.1 483.3 C127.5 485.6 134.2 482.8 140.5 482.4 C146.7 482.0 152.8 480.9 159.6 480.9 C166.4 480.9 173.8 482.1 181.2 482.4 C188.7 482.6 196.7 482.4 204.5 482.6 C212.3 482.8 222.2 484.4 227.9 483.8 C233.7 483.3 237.3 480.0 239.2 479.2" stroke="#8a8a8a" stroke-width="1.30"/><path d="M107.9 469.6 C110.3 472.4 117.0 483.6 122.3 486.2 C127.6 488.8 133.3 485.5 139.7 485.0 C146.2 484.5 153.8 483.3 160.8 483.2 C167.9 483.1 174.9 484.2 181.9 484.4 C188.9 484.7 195.4 484.4 203.1 484.7 C210.7 484.9 221.6 486.8 227.6 485.8 C233.5 484.9 236.9 480.3 238.8 479.2" stroke="#b0b0b0" stroke-width="1.30"/><path d="M107.9 470.1 C110.3 473.3 117.1 486.8 122.4 489.6 C127.7 492.5 133.3 488.1 139.6 487.2 C145.9 486.3 153.2 484.4 160.4 484.2 C167.5 484.1 175.2 486.1 182.5 486.4 C189.8 486.7 196.5 486.1 204.1 485.9 C211.8 485.6 222.7 485.7 228.4 484.8 C234.1 483.8 236.6 481.0 238.2 480.2" stroke="#5e5e5e" stroke-width="1.30"/></g><path d="M91.0 444.0 C91.5 444.7 92.5 447.0 94.0 448.0 C95.5 449.0 97.7 449.5 100.0 450.0 C102.3 450.5 106.7 450.8 108.0 451.0" fill="none" stroke="#6a6a6a" stroke-width="5.20" stroke-linecap="round"/><path d="M68.0 444.0 C68.7 445.0 70.0 448.3 72.0 450.0 C74.0 451.7 76.7 452.7 80.0 454.0 C83.3 455.3 87.7 456.7 92.0 458.0 C96.3 459.3 103.7 461.3 106.0 462.0" fill="none" stroke="#6a6a6a" stroke-width="5.20" stroke-linecap="round"/><path d="M61.0 454.0 C61.8 454.7 63.5 457.0 66.0 458.0 C68.5 459.0 71.7 459.0 76.0 460.0 C80.3 461.0 87.0 462.8 92.0 464.0 C97.0 465.2 103.7 466.5 106.0 467.0" fill="none" stroke="#6a6a6a" stroke-width="5.20" stroke-linecap="round"/><path d="M64.0 478.0 C65.7 477.8 70.3 477.0 74.0 477.0 C77.7 477.0 81.7 477.5 86.0 478.0 C90.3 478.5 95.7 479.5 100.0 480.0 C104.3 480.5 110.0 480.8 112.0 481.0" fill="none" stroke="#6a6a6a" stroke-width="5.20" stroke-linecap="round"/><path d="M62.0 488.0 C64.0 487.7 69.7 486.0 74.0 486.0 C78.3 486.0 85.7 487.7 88.0 488.0" fill="none" stroke="#6a6a6a" stroke-width="5.20" stroke-linecap="round"/><path d="M91.0 444.0 C91.5 444.7 92.5 447.0 94.0 448.0 C95.5 449.0 97.7 449.5 100.0 450.0 C102.3 450.5 106.7 450.8 108.0 451.0" fill="none" stroke="#c4c4c4" stroke-width="3.60" stroke-linecap="round"/><path d="M68.0 444.0 C68.7 445.0 70.0 448.3 72.0 450.0 C74.0 451.7 76.7 452.7 80.0 454.0 C83.3 455.3 87.7 456.7 92.0 458.0 C96.3 459.3 103.7 461.3 106.0 462.0" fill="none" stroke="#d2d2d2" stroke-width="3.60" stroke-linecap="round"/><path d="M61.0 454.0 C61.8 454.7 63.5 457.0 66.0 458.0 C68.5 459.0 71.7 459.0 76.0 460.0 C80.3 461.0 87.0 462.8 92.0 464.0 C97.0 465.2 103.7 466.5 106.0 467.0" fill="none" stroke="#b8b8b8" stroke-width="3.60" stroke-linecap="round"/><path d="M64.0 478.0 C65.7 477.8 70.3 477.0 74.0 477.0 C77.7 477.0 81.7 477.5 86.0 478.0 C90.3 478.5 95.7 479.5 100.0 480.0 C104.3 480.5 110.0 480.8 112.0 481.0" fill="none" stroke="#c4c4c4" stroke-width="3.60" stroke-linecap="round"/><path d="M62.0 488.0 C64.0 487.7 69.7 486.0 74.0 486.0 C78.3 486.0 85.7 487.7 88.0 488.0" fill="none" stroke="#d2d2d2" stroke-width="3.60" stroke-linecap="round"/><path d="M91.0 444.0 C91.5 444.7 92.5 447.0 94.0 448.0 C95.5 449.0 97.7 449.5 100.0 450.0 C102.3 450.5 106.7 450.8 108.0 451.0" fill="none" stroke="#efefef" stroke-width="0.90" stroke-linecap="round"/><path d="M68.0 444.0 C68.7 445.0 70.0 448.3 72.0 450.0 C74.0 451.7 76.7 452.7 80.0 454.0 C83.3 455.3 87.7 456.7 92.0 458.0 C96.3 459.3 103.7 461.3 106.0 462.0" fill="none" stroke="#efefef" stroke-width="0.90" stroke-linecap="round"/><path d="M61.0 454.0 C61.8 454.7 63.5 457.0 66.0 458.0 C68.5 459.0 71.7 459.0 76.0 460.0 C80.3 461.0 87.0 462.8 92.0 464.0 C97.0 465.2 103.7 466.5 106.0 467.0" fill="none" stroke="#efefef" stroke-width="0.90" stroke-linecap="round"/><path d="M64.0 478.0 C65.7 477.8 70.3 477.0 74.0 477.0 C77.7 477.0 81.7 477.5 86.0 478.0 C90.3 478.5 95.7 479.5 100.0 480.0 C104.3 480.5 110.0 480.8 112.0 481.0" fill="none" stroke="#efefef" stroke-width="0.90" stroke-linecap="round"/><path d="M62.0 488.0 C64.0 487.7 69.7 486.0 74.0 486.0 C78.3 486.0 85.7 487.7 88.0 488.0" fill="none" stroke="#efefef" stroke-width="0.90" stroke-linecap="round"/><path d="M56 513 L60 505 L66 497 L74 492 L84 489 L86 494 L80 499 L76 506 L72 513 L66 513 L64 508 L61 513Z" fill="#555"/><path d="M58.0 511.0 C58.8 509.5 61.0 504.7 63.0 502.0 C65.0 499.3 67.0 497.0 70.0 495.0 C73.0 493.0 79.2 490.8 81.0 490.0" fill="none" stroke="#8a8a8a" stroke-width="1.40" stroke-linecap="round"/><path d="M66.0 512.0 C66.8 510.5 69.0 505.5 71.0 503.0 C73.0 500.5 76.8 498.0 78.0 497.0" fill="none" stroke="#6a6a6a" stroke-width="1.40" stroke-linecap="round"/><path d="M96.0 513.0 C96.2 511.3 96.5 506.2 97.0 503.0 C97.5 499.8 98.7 495.5 99.0 494.0" fill="none" stroke="#9a9a9a" stroke-width="3.20" stroke-linecap="round"/><path d="M102.0 513.0 C102.2 511.3 102.5 506.5 103.0 503.0 C103.5 499.5 104.7 493.8 105.0 492.0" fill="none" stroke="#888" stroke-width="3.00" stroke-linecap="round"/><path d="M128.0 492.0 C128.2 490.7 128.5 486.7 129.0 484.0 C129.5 481.3 130.7 477.3 131.0 476.0" fill="none" stroke="#bbb" stroke-width="3.40" stroke-linecap="round"/><path d="M79 482 C80 475 90 470 97 472 C101 476 100 484 95 489 C90 493 83 493 80 489Z" fill="#10289a"/><ellipse cx="92" cy="478" rx="4" ry="3" fill="#3d74d6" opacity="0.8"/><path d="M276.0 440.0 C276.2 436.8 282.0 433.2 286.0 431.0 C290.0 428.8 295.2 427.8 300.0 427.0 C304.8 426.2 310.8 425.5 315.0 426.0 C319.2 426.5 320.8 428.2 325.0 430.0 C329.2 431.8 335.0 435.2 340.0 437.0 C345.0 438.8 349.3 439.2 355.0 440.5 C360.7 441.8 368.2 443.8 374.0 445.0 C379.8 446.2 387.5 446.2 390.0 448.0 C392.5 449.8 392.3 454.7 389.0 456.0 C385.7 457.3 376.5 455.7 370.0 456.0 C363.5 456.3 355.3 456.3 350.0 458.0 C344.7 459.7 341.7 462.7 338.0 466.0 C334.3 469.3 330.7 475.7 328.0 478.0 C325.3 480.3 323.7 481.3 322.0 480.0 C320.3 478.7 319.7 474.7 318.0 470.0 C316.3 465.3 315.0 456.2 312.0 452.0 C309.0 447.8 304.5 445.3 300.0 445.0 C295.5 444.7 289.0 450.8 285.0 450.0 C281.0 449.2 275.8 443.2 276.0 440.0Z" fill="#a8a8a8"/><g fill="none" stroke-linecap="round"><path d="M322.0 431.3 C325.0 432.5 334.6 436.8 340.2 438.4 C345.8 439.9 349.9 439.6 355.5 440.7 C361.1 441.8 368.1 443.6 373.7 444.9 C379.2 446.3 386.4 448.1 389.0 448.7" stroke="#dadada" stroke-width="1.20"/><path d="M322.0 434.8 C324.8 435.7 333.6 438.9 339.0 440.3 C344.4 441.7 348.4 442.2 354.3 443.3 C360.1 444.3 368.3 445.8 374.1 446.8 C379.9 447.7 386.5 448.7 389.0 449.1" stroke="#808080" stroke-width="1.20"/><path d="M322.3 438.2 C325.1 438.9 334.1 441.5 339.4 442.4 C344.7 443.3 348.5 442.9 354.1 443.7 C359.8 444.5 367.6 446.1 373.5 447.0 C379.3 447.9 386.7 448.5 389.3 448.8" stroke="#efefef" stroke-width="1.20"/><path d="M322.3 441.9 C325.1 442.2 333.9 443.5 339.2 444.0 C344.5 444.6 348.4 444.6 354.1 445.2 C359.8 445.9 367.7 447.1 373.5 448.0 C379.3 448.9 386.4 450.3 389.0 450.8" stroke="#a0a0a0" stroke-width="1.20"/><path d="M322.2 445.6 C325.1 445.8 334.3 446.5 339.6 446.7 C345.0 446.9 348.5 446.7 354.1 446.9 C359.7 447.2 367.3 447.7 373.1 448.4 C378.9 449.0 386.2 450.4 388.9 450.8" stroke="#e2e2e2" stroke-width="1.20"/><path d="M321.8 449.8 C324.8 449.6 334.1 448.9 339.5 448.7 C344.9 448.5 348.4 448.4 354.1 448.7 C359.8 449.0 367.6 449.9 373.5 450.5 C379.4 451.1 386.8 451.8 389.4 452.1" stroke="#dadada" stroke-width="1.20"/><path d="M322.1 453.4 C324.9 452.9 334.0 451.4 339.2 450.7 C344.3 450.0 347.1 449.0 352.8 449.1 C358.4 449.2 367.1 450.8 373.1 451.1 C379.0 451.5 385.8 451.1 388.4 451.0" stroke="#808080" stroke-width="1.20"/><path d="M321.9 457.0 C324.7 456.5 333.4 454.5 338.7 453.5 C344.0 452.5 347.9 451.3 353.6 450.9 C359.3 450.6 367.2 451.2 373.0 451.4 C378.8 451.7 385.9 452.3 388.5 452.5" stroke="#efefef" stroke-width="1.20"/><path d="M322.3 461.2 C325.0 460.3 333.7 457.3 338.8 455.7 C344.0 454.1 347.6 451.9 353.2 451.5 C358.8 451.0 366.3 452.8 372.3 453.0 C378.3 453.1 386.4 452.5 389.2 452.4" stroke="#a0a0a0" stroke-width="1.20"/><path d="M322.5 464.4 C325.1 463.3 333.2 459.6 338.3 457.7 C343.4 455.8 347.2 453.6 352.9 453.0 C358.7 452.3 366.9 453.7 372.8 453.7 C378.8 453.8 386.0 453.5 388.7 453.4" stroke="#e2e2e2" stroke-width="1.20"/><path d="M321.1 468.1 C324.0 466.7 333.1 461.7 338.3 459.5 C343.5 457.3 346.6 455.6 352.2 454.9 C357.9 454.1 366.1 455.2 372.3 455.0 C378.4 454.9 386.2 454.2 389.0 454.0" stroke="#dadada" stroke-width="1.20"/><path d="M322.2 473.0 C324.8 471.2 333.1 464.8 337.9 462.1 C342.8 459.4 345.8 457.9 351.5 456.9 C357.2 455.8 366.1 456.5 372.3 456.1 C378.6 455.6 386.2 454.6 389.0 454.3" stroke="#808080" stroke-width="1.20"/></g><path d="M238.0 466.0 C240.3 464.8 247.3 461.7 252.0 459.0 C256.7 456.3 261.7 453.5 266.0 450.0 C270.3 446.5 274.0 441.3 278.0 438.0 C282.0 434.7 285.5 431.8 290.0 430.0 C294.5 428.2 300.0 427.4 305.0 427.0 C310.0 426.6 317.5 427.4 320.0 427.5" fill="none" stroke="#6a6a6a" stroke-width="4.60" stroke-linecap="round"/><path d="M238.0 466.0 C240.3 464.8 247.3 461.7 252.0 459.0 C256.7 456.3 261.7 453.5 266.0 450.0 C270.3 446.5 274.0 441.3 278.0 438.0 C282.0 434.7 285.5 431.8 290.0 430.0 C294.5 428.2 300.0 427.4 305.0 427.0 C310.0 426.6 317.5 427.4 320.0 427.5" fill="none" stroke="#c8c8c8" stroke-width="3.00" stroke-linecap="round"/><path d="M240.0 465.5 C242.3 464.2 249.3 460.8 254.0 458.0 C258.7 455.2 263.7 452.4 268.0 449.0 C272.3 445.6 276.0 440.8 280.0 437.5 C284.0 434.2 287.7 431.3 292.0 429.5 C296.3 427.7 301.3 426.9 306.0 426.5 C310.7 426.1 317.7 426.9 320.0 427.0" fill="none" stroke="#f0f0f0" stroke-width="0.90" stroke-linecap="round"/><path d="M323.0 440.0 C322.2 442.0 318.8 447.7 318.0 452.0 C317.2 456.3 317.3 462.0 318.0 466.0 C318.7 470.0 321.3 474.3 322.0 476.0" fill="none" stroke="#d8d8d8" stroke-width="1.60" stroke-linecap="round"/><path d="M327.0 442.0 C326.3 444.2 323.5 450.7 323.0 455.0 C322.5 459.3 323.3 464.3 324.0 468.0 C324.7 471.7 326.5 475.5 327.0 477.0" fill="none" stroke="#888" stroke-width="1.60" stroke-linecap="round"/><ellipse cx="340" cy="458" rx="5.5" ry="5" fill="#1a34b0"/><g stroke-width="0.6" stroke-linejoin="round"><path d="M113.6 475.3l2 -0.2l-0.9 -12.7l-2.3 0.2z" fill="#ffbf00" stroke="#ffbf00"/><path d="M115.6 475.1l1.9 -0.1l-0.5 -12.7l-2.3 0.1z" fill="#ff9400" stroke="#ff9400"/><path d="M117.5 475.0l2.1 -0.1l-0.4 -12.7l-2.2 0.1z" fill="#ff6a00" stroke="#ff6a00"/><path d="M119.6 475.0l2.1 -0.1l-0.3 -12.7l-2.2 0.1z" fill="#ff5500" stroke="#ff5500"/><path d="M121.7 474.9l2.1 -0l-0.2 -12.7l-2.2 0z" fill="#ff2a00" stroke="#ff2a00"/><path d="M123.8 474.9l2.1 -0l-0.2 -12.7l-2.2 0z" fill="#ff0000" stroke="#ff0000"/><path d="M125.9 474.8l2.1 -0l2.1 -0l-0.1 -12.7l-2.2 0l-2.2 0z" fill="#e90000" stroke="#e90000"/><path d="M130.1 474.8l2.1 -0l2.1 -0l-0 -12.7l-2.2 0l-2.2 0z" fill="#d40000" stroke="#d40000"/><path d="M134.3 474.8l2.1 0l2.1 0l0.1 -12.7l-2.2 -0l-2.2 -0z" fill="#bf0000" stroke="#bf0000"/><path d="M138.5 474.8l2.1 0l2.1 0l0.2 -12.7l-2.2 -0l-2.2 -0z" fill="#a90000" stroke="#a90000"/><path d="M142.8 474.8l2.1 0l2.1 0l0.3 -12.7l-2.2 -0l-2.2 -0z" fill="#940000" stroke="#940000"/><path d="M147.0 474.9l2.1 0.1l0.4 -12.7l-2.2 -0.1z" fill="#a90000" stroke="#a90000"/><path d="M149.1 474.9l2.1 0.1l0.4 -12.7l-2.2 -0.1z" fill="#bf0000" stroke="#bf0000"/><path d="M151.2 475.0l2.1 0.1l0.5 -12.7l-2.2 -0.1z" fill="#d40000" stroke="#d40000"/><path d="M153.3 475.1l2.1 0.1l0.5 -12.7l-2.2 -0.1z" fill="#e90000" stroke="#e90000"/><path d="M155.4 475.2l2.1 0.1l0.5 -12.7l-2.1 -0.1z" fill="#ff0000" stroke="#ff0000"/><path d="M157.5 475.3l2.1 0.1l0.5 -12.7l-2.1 -0.1z" fill="#ff1500" stroke="#ff1500"/><path d="M159.6 475.3l2.1 0.1l0.5 -12.7l-2.1 -0.1z" fill="#ff2a00" stroke="#ff2a00"/><path d="M161.8 475.4l2.1 0.1l0.5 -12.7l-2.1 -0.1z" fill="#ff3f00" stroke="#ff3f00"/><path d="M163.9 475.5l2.1 0.1l0.5 -12.7l-2.1 -0.1z" fill="#ff5500" stroke="#ff5500"/><path d="M166.0 475.6l2.1 0.1l0.6 -12.7l-2.1 -0.1z" fill="#ff6a00" stroke="#ff6a00"/><path d="M168.1 475.7l2.1 0.1l0.6 -12.7l-2.1 -0.1z" fill="#ff7f00" stroke="#ff7f00"/><path d="M170.2 475.8l2.1 0.1l2.1 0.1l0.6 -12.7l-2.1 -0.1l-2.1 -0.1z" fill="#ff9400" stroke="#ff9400"/><path d="M174.5 476.0l2.1 0.1l2.1 0.1l2.1 0.1l0.6 -12.7l-2.1 -0.1l-2.1 -0.1l-2.1 -0.1z" fill="#ffa900" stroke="#ffa900"/><path d="M180.9 476.3l2.1 0.1l2.1 0.1l0.6 -12.7l-2.1 -0.1l-2.1 -0.1z" fill="#ffbf00" stroke="#ffbf00"/><path d="M185.2 476.5l2.1 0.1l2.1 0.1l0.5 -12.7l-2.1 -0.1l-2.1 -0.1z" fill="#ffd400" stroke="#ffd400"/><path d="M189.5 476.7l2.2 0.1l2.2 0.1l2.2 0.1l0.3 -12.7l-2.1 -0.1l-2.1 -0.1l-2.1 -0.1z" fill="#ffe900" stroke="#ffe900"/><path d="M195.9 476.9l2.2 0.1l2.2 0l2.2 0l2.2 0l2.2 -0l2.2 -0l2.2 -0.1l2.3 -0.1l-0.8 -12.7l-2 0.1l-2 0.1l-2.1 0l-2.1 0l-2.1 -0l-2.1 -0l-2.1 -0l-2.1 -0z" fill="#ffff00" stroke="#ffff00"/><path d="M213.5 476.8l2.3 -0.2l-1.1 -12.7l-1.9 0.1z" fill="#d4ff2a" stroke="#d4ff2a"/><path d="M215.8 476.6l2.3 -0.2l-1.4 -12.6l-2 0.2z" fill="#a9ff55" stroke="#a9ff55"/><path d="M218.1 476.4l2.2 -0.3l-1.5 -12.6l-2.1 0.3z" fill="#6aff94" stroke="#6aff94"/><path d="M220.3 476.1l2.1 -0.3l-1.5 -12.6l-2.1 0.3z" fill="#3fffbf" stroke="#3fffbf"/><path d="M222.4 475.8l2.1 -0.3l2.1 -0.3l-1.5 -12.6l-2.1 0.3l-2.1 0.3z" fill="#2affd4" stroke="#2affd4"/><path d="M226.6 475.3l2.1 -0.3l2.1 -0.3l-1.6 -12.6l-2.1 0.3l-2.1 0.3z" fill="#3fffbf" stroke="#3fffbf"/><path d="M230.9 474.8l2.2 -0.3l2.2 -0.3l-1.8 -12.6l-2.1 0.3l-2.1 0.3z" fill="#54ffaa" stroke="#54ffaa"/><path d="M235.2 474.2l2.2 -0.3l2.2 -0.4l-2.2 -12.5l-2 0.3l-2 0.3z" fill="#6aff94" stroke="#6aff94"/><path d="M239.6 473.5l2.3 -0.4l2.3 -0.5l-2.9 -12.4l-1.9 0.4l-1.9 0.4z" fill="#7fff7f" stroke="#7fff7f"/><path d="M244.2 472.6l2.3 -0.6l-3.3 -12.3l-1.8 0.5z" fill="#94ff6a" stroke="#94ff6a"/><path d="M246.5 472.0l2.3 -0.7l2.2 -0.7l-4.1 -12l-1.8 0.6l-1.8 0.5z" fill="#a9ff55" stroke="#a9ff55"/><path d="M250.9 470.6l2.1 -0.7l2 -0.7l-4.3 -12l-2 0.7l-1.9 0.7z" fill="#bfff3f" stroke="#bfff3f"/><path d="M255.0 469.2l2 -0.7l-4.3 -12l-2 0.7z" fill="#a9ff55" stroke="#a9ff55"/><path d="M257.0 468.5l2 -0.7l-4.3 -12l-2 0.7z" fill="#7fff7f" stroke="#7fff7f"/><path d="M259.0 467.7l2 -0.7l-4.3 -11.9l-2 0.7z" fill="#54ffaa" stroke="#54ffaa"/><path d="M261.1 467.0l2.1 -0.8l-4.5 -11.9l-1.9 0.7z" fill="#2affd4" stroke="#2affd4"/><path d="M263.1 466.2l2.1 -0.8l-4.6 -11.8l-1.9 0.7z" fill="#15ffe9" stroke="#15ffe9"/><path d="M265.2 465.5l2.1 -0.8l-4.8 -11.8l-1.9 0.8z" fill="#00e9ff" stroke="#00e9ff"/><path d="M267.2 464.6l2 -0.8l-4.9 -11.7l-1.9 0.8z" fill="#00d4ff" stroke="#00d4ff"/><path d="M269.3 463.8l2 -0.8l-4.9 -11.7l-1.9 0.8z" fill="#00aaff" stroke="#00aaff"/><path d="M271.3 463.0l2 -0.8l-5 -11.7l-1.9 0.8z" fill="#0094ff" stroke="#0094ff"/><path d="M273.3 462.1l2 -0.8l-5 -11.7l-2 0.8z" fill="#007fff" stroke="#007fff"/><path d="M275.2 461.3l1.9 -0.8l-4.9 -11.7l-2 0.8z" fill="#0055ff" stroke="#0055ff"/><path d="M277.2 460.5l1.9 -0.8l2 -0.8l-4.9 -11.7l-2 0.8l-2 0.8z" fill="#003fff" stroke="#003fff"/><path d="M281.1 458.8l2 -0.8l2 -0.8l-4.9 -11.7l-1.9 0.8l-2 0.8z" fill="#002aff" stroke="#002aff"/><path d="M285.0 457.2l2 -0.8l2 -0.9l2 -0.9l-5.2 -11.6l-1.9 0.8l-1.9 0.8l-1.9 0.8z" fill="#0015ff" stroke="#0015ff"/><path d="M291.1 454.6l2 -0.9l-5.3 -11.5l-1.9 0.9z" fill="#002aff" stroke="#002aff"/><path d="M293.0 453.7l2 -0.9l-5.4 -11.5l-1.9 0.9z" fill="#0055ff" stroke="#0055ff"/><path d="M295.0 452.8l1.9 -0.9l-5.3 -11.5l-1.9 0.9z" fill="#007fff" stroke="#007fff"/><path d="M296.9 451.9l1.9 -0.9l-5.2 -11.6l-2 0.9z" fill="#00aaff" stroke="#00aaff"/><path d="M298.8 451.0l1.8 -0.8l-4.9 -11.7l-2.1 0.9z" fill="#00d4ff" stroke="#00d4ff"/><path d="M300.6 450.2l1.8 -0.7l-4.5 -11.9l-2.2 0.9z" fill="#00ffff" stroke="#00ffff"/><path d="M302.4 449.5l1.7 -0.6l-3.9 -12.1l-2.3 0.8z" fill="#3fffbf" stroke="#3fffbf"/><path d="M304.1 448.9l1.7 -0.5l-3.2 -12.3l-2.4 0.7z" fill="#7fff7f" stroke="#7fff7f"/><path d="M305.8 448.4l1.7 -0.4l-2.4 -12.5l-2.5 0.6z" fill="#d4ff2a" stroke="#d4ff2a"/><path d="M307.4 448.0l1.7 -0.3l-1.7 -12.6l-2.5 0.4z" fill="#ffe900" stroke="#ffe900"/><path d="M309.2 447.7l1.8 -0.2l-1.1 -12.7l-2.4 0.3z" fill="#ffd400" stroke="#ffd400"/><path d="M311.0 447.6l1.9 -0.1l-0.6 -12.7l-2.4 0.2z" fill="#ffbf00" stroke="#ffbf00"/><path d="M312.9 447.4l2 -0.1l2 -0l-0.1 -12.7l-2.2 0l-2.3 0.1z" fill="#ffa900" stroke="#ffa900"/><path d="M316.9 447.3l2.1 0l0 -12.7l-2.2 -0z" fill="#ff9400" stroke="#ff9400"/></g><path d="M115.1 468.8l2.1 -0.1l2.1 -0.1l2.1 -0.1l2.1 -0l2.1 -0l2.1 -0l2.1 -0l2.1 -0l2.1 -0l2.1 0l2.1 0l2.1 0l2.1 0l2.1 0l2.1 0l2.1 0.1l2.1 0.1l2.1 0.1l2.1 0.1l2.1 0.1l2.1 0.1l2.1 0.1l2.1 0.1l2.1 0.1l2.1 0.1l2.1 0.1l2.1 0.1l2.1 0.1l2.1 0.1l2.1 0.1l2.1 0.1l2.1 0.1l2.1 0.1l2.1 0.1l2.1 0.1l2.1 0.1l2.1 0.1l2.1 0.1l2.1 0l2.1 0l2.1 0l2.1 0l2.1 -0l2.1 -0l2.1 -0.1l2.1 -0.1l2.1 -0.2l2.1 -0.2l2.1 -0.3l2.1 -0.3l2.1 -0.3l2.1 -0.3l2.1 -0.3l2.1 -0.3l2.1 -0.3l2.1 -0.3l2.1 -0.3l2.1 -0.3l2.1 -0.4l2.1 -0.5l2.1 -0.5l2 -0.6l2 -0.7l2 -0.7l2 -0.7l2 -0.7l2 -0.7l2 -0.7l2 -0.7l2 -0.8l2 -0.8l2 -0.8l2 -0.8l2 -0.8l2 -0.8l2 -0.8l2 -0.8l2 -0.8l2 -0.8l2 -0.8l2 -0.8l2 -0.8l1.9 -0.9l1.9 -0.9l1.9 -0.9l1.9 -0.9l1.9 -0.9l2 -0.9l2 -0.8l2 -0.7l2 -0.6l2.1 -0.5l2.1 -0.3l2.1 -0.2l2.1 -0.1l2.1 -0.1l2.1 -0" fill="none" stroke="#000" stroke-opacity="0.08" stroke-width="12.1"/><path d="M117.1 464.6l2.2 -0.1l2.2 -0.1l2.2 -0l2.1 -0l2.1 -0l2.1 -0l2.1 -0l2.1 -0l2.1 0l2.1 0l2.1 0l2.1 0l2.2 0l2.2 0l2.2 0.1l2.2 0.1l2.1 0.1l2.1 0.1l2.1 0.1l2.1 0.1l2.1 0.1l2.1 0.1l2.1 0.1l2.1 0.1l2.1 0.1l2.1 0.1l2.1 0.1l2.1 0.1l2.1 0.1l2.1 0.1l2.1 0.1l2.1 0.1l2.1 0.1l2.1 0.1l2.1 0.1l2.1 0.1l2.1 0.1l2.1 0l2.1 0l2.1 0l2.1 0l2.1 -0l2.1 -0l2.1 -0.1l2 -0.1l2 -0.1l2 -0.2l2.1 -0.3l2.1 -0.3l2.1 -0.3l2.1 -0.3l2.1 -0.3l2.1 -0.3l2.1 -0.3l2.1 -0.3l2.1 -0.3l2 -0.3l2 -0.4l2 -0.4l1.9 -0.5l1.9 -0.6l1.9 -0.6l2 -0.7l2 -0.7l2 -0.7l2 -0.7l2 -0.7l2 -0.7l1.9 -0.7l1.9 -0.8l1.9 -0.8l1.9 -0.8l2 -0.8l2 -0.8l2 -0.8l2 -0.8l2 -0.8l2 -0.8l2 -0.8l1.9 -0.8l1.9 -0.8l1.9 -0.8l1.9 -0.9l1.9 -0.9l1.9 -0.9l2 -0.9l2 -0.9l2.1 -0.9l2.2 -0.8l2.3 -0.7l2.3 -0.5l2.3 -0.4l2.3 -0.2l2.3 -0.1l2.2 -0.1" fill="none" stroke="#000" stroke-opacity="0.20" stroke-width="4.8"/><path d="M117.3 471.0l2.1 -0.1l2.1 -0.1l2.1 -0l2.1 -0l2.1 -0l2.1 -0l2.1 -0l2.1 -0l2.1 0l2.1 0l2.1 0l2.1 0l2.1 0l2.1 0l2.1 0.1l2.1 0.1l2.1 0.1l2.1 0.1l2.1 0.1l2.1 0.1l2.1 0.1l2.1 0.1l2.1 0.1l2.1 0.1l2.1 0.1l2.1 0.1l2.1 0.1l2.1 0.1l2.1 0.1l2.1 0.1l2.1 0.1l2.1 0.1l2.1 0.1l2.1 0.1l2.1 0.1l2.1 0.1l2.1 0.1l2.1 0l2.1 0l2.1 0l2.2 0l2.2 -0l2.2 -0l2.2 -0.1l2.2 -0.1l2.2 -0.2l2.2 -0.2l2.1 -0.3l2.1 -0.3l2.1 -0.3l2.1 -0.3l2.1 -0.3l2.1 -0.3l2.1 -0.3l2.1 -0.3l2.1 -0.3l2.1 -0.4l2.2 -0.4l2.2 -0.5l2.1 -0.5l2.1 -0.6l2.1 -0.7l2 -0.7l2 -0.7l2 -0.7l2 -0.7l2 -0.7l2 -0.7l2 -0.8l2 -0.8l2 -0.8l2 -0.8l2 -0.8l2 -0.8l2 -0.8l2 -0.8l2 -0.8l2 -0.8l2 -0.8l2 -0.8l2 -0.9l2 -0.9l2 -0.9l1.9 -0.9l1.9 -0.9l1.9 -0.9l1.9 -0.8l1.9 -0.8l1.9 -0.7l1.9 -0.6l1.9 -0.4l2 -0.3l2 -0.2l2 -0.1l2.1 -0.1" fill="none" stroke="#fff" stroke-opacity="0.30" stroke-width="2.8"/>
<g stroke-width="0.6" stroke-linejoin="round"><path d="M539.3 451.3l1 0.4l7.1 -15.4l-1.3 -0.6z" fill="#54ffaa" stroke="#54ffaa"/><path d="M540.4 451.7l0.9 0.4l0.8 0.4l0.8 0.5l0.8 0.5l0.8 0.5l9.9 -13.8l-1.3 -0.9l-1.4 -0.9l-1.4 -0.8l-1.4 -0.7l-1.4 -0.7z" fill="#6aff94" stroke="#6aff94"/><path d="M544.5 454.1l0.7 0.6l0.7 0.6l0.7 0.6l11.6 -12.4l-1.2 -1.1l-1.3 -1l-1.3 -1z" fill="#7fff7f" stroke="#7fff7f"/><path d="M546.6 455.8l0.6 0.6l12.2 -11.9l-1.2 -1.2z" fill="#94ff6a" stroke="#94ff6a"/><path d="M547.2 456.4l0.6 0.6l0.6 0.7l13.3 -10.7l-1.1 -1.3l-1.1 -1.2z" fill="#a9ff55" stroke="#a9ff55"/><path d="M548.4 457.7l0.5 0.7l13.8 -10l-1 -1.4z" fill="#bfff3f" stroke="#bfff3f"/><path d="M548.9 458.4l0.5 0.7l14.3 -9.2l-1 -1.4z" fill="#d4ff2a" stroke="#d4ff2a"/><path d="M549.3 459.1l0.4 0.7l14.8 -8.4l-0.9 -1.5z" fill="#e9ff15" stroke="#e9ff15"/><path d="M549.8 459.8l0.4 0.7l15.2 -7.6l-0.8 -1.5z" fill="#ffff00" stroke="#ffff00"/><path d="M550.1 460.5l0.3 0.7l15.6 -6.7l-0.7 -1.6z" fill="#ffd400" stroke="#ffd400"/><path d="M550.5 461.2l0.3 0.7l16 -5.8l-0.7 -1.6z" fill="#ffa900" stroke="#ffa900"/><path d="M550.8 461.9l0.2 0.7l16.3 -4.8l-0.6 -1.7z" fill="#ff9400" stroke="#ff9400"/><path d="M551.0 462.6l0.2 0.7l16.6 -3.8l-0.5 -1.7z" fill="#ff6a00" stroke="#ff6a00"/><path d="M551.2 463.4l0.1 0.7l16.8 -2.8l-0.4 -1.8z" fill="#ff5500" stroke="#ff5500"/><path d="M551.3 464.1l0.1 0.7l16.9 -1.7l-0.2 -1.8z" fill="#ff3f00" stroke="#ff3f00"/><path d="M551.4 464.8l0.1 0.7l17 -0.7l-0.1 -1.8z" fill="#ff1500" stroke="#ff1500"/><path d="M551.5 465.6l0 0.7l17 0.4l-0 -1.8z" fill="#ff0000" stroke="#ff0000"/><path d="M551.5 466.3l-0 0.7l16.9 1.5l0.1 -1.8z" fill="#e90000" stroke="#e90000"/><path d="M551.5 467.0l-0.1 0.7l-0.1 0.7l16.6 3.6l0.3 -1.8l0.2 -1.8z" fill="#d40000" stroke="#d40000"/><path d="M551.2 468.5l-0.2 0.7l-0.2 0.7l-0.3 0.7l15.7 6.5l0.6 -1.7l0.5 -1.7l0.4 -1.7z" fill="#bf0000" stroke="#bf0000"/><path d="M550.5 470.7l-0.3 0.7l-0.4 0.7l14.9 8.3l0.8 -1.6l0.7 -1.6z" fill="#a90000" stroke="#a90000"/><path d="M549.9 472.1l-0.4 0.7l-0.5 0.7l-0.5 0.7l13.4 10.5l1 -1.4l1 -1.4l0.9 -1.5z" fill="#940000" stroke="#940000"/><path d="M548.5 474.1l-0.5 0.7l-0.6 0.6l-0.6 0.6l-0.7 0.6l-0.7 0.6l-0.7 0.6l-0.8 0.5l-0.8 0.5l-0.8 0.5l-0.8 0.5l-0.9 0.4l-0.9 0.4l-0.9 0.4l-0.9 0.3l-0.9 0.3l-1 0.3l-1 0.2l-1 0.2l-1 0.2l-1 0.2l-1 0.1l-1 0.1l-1 0.1l-1 0l-1 0l-1 -0l-1 -0.1l-1 -0.1l-1 -0.1l-1 -0.2l-1 -0.2l-3.4 16.7l1.5 0.3l1.5 0.2l1.5 0.2l1.5 0.1l1.5 0.1l1.5 0l1.5 -0l1.5 -0l1.5 -0.1l1.5 -0.1l1.5 -0.2l1.5 -0.2l1.5 -0.3l1.5 -0.3l1.5 -0.4l1.5 -0.4l1.5 -0.5l1.5 -0.5l1.5 -0.6l1.4 -0.6l1.4 -0.7l1.4 -0.8l1.4 -0.8l1.4 -0.9l1.3 -0.9l1.3 -1l1.3 -1.1l1.2 -1.1l1.2 -1.2l1.1 -1.2l1.1 -1.3z" fill="#7f0000" stroke="#7f0000"/><path d="M521.0 482.3l-1 -0.2l-1 -0.2l-4.5 16.4l1.5 0.4l1.5 0.3z" fill="#940000" stroke="#940000"/><path d="M519.0 481.9l-1 -0.3l-0.9 -0.3l-5.6 16.1l1.5 0.5l1.5 0.4z" fill="#a90000" stroke="#a90000"/><path d="M517.2 481.3l-0.9 -0.3l-0.9 -0.4l-6.7 15.6l1.5 0.6l1.5 0.5z" fill="#bf0000" stroke="#bf0000"/><path d="M515.3 480.6l-0.9 -0.4l-0.9 -0.4l-7.8 15.1l1.4 0.7l1.4 0.6z" fill="#d40000" stroke="#d40000"/><path d="M513.6 479.8l-0.8 -0.5l-8.3 14.8l1.4 0.8z" fill="#e90000" stroke="#e90000"/><path d="M512.7 479.3l-0.8 -0.5l-0.8 -0.5l-9.5 14.1l1.4 0.9l1.4 0.8z" fill="#ff0000" stroke="#ff0000"/><path d="M511.1 478.3l-0.8 -0.5l-0.7 -0.6l-10.6 13.3l1.3 1l1.3 0.9z" fill="#ff1500" stroke="#ff1500"/><path d="M509.6 477.2l-0.7 -0.6l-11.2 12.8l1.3 1.1z" fill="#ff2a00" stroke="#ff2a00"/><path d="M508.9 476.7l-0.7 -0.6l-0.6 -0.6l-12.3 11.8l1.2 1.2l1.2 1.1z" fill="#ff3f00" stroke="#ff3f00"/><path d="M507.7 475.4l-0.6 -0.6l-12.8 11.2l1.1 1.2z" fill="#ff5500" stroke="#ff5500"/><path d="M507.1 474.8l-0.5 -0.7l-0.5 -0.7l-13.9 9.8l1 1.4l1.1 1.3z" fill="#ff6a00" stroke="#ff6a00"/><path d="M506.0 473.5l-0.5 -0.7l-14.4 9.1l1 1.4z" fill="#ff7f00" stroke="#ff7f00"/><path d="M505.6 472.8l-0.4 -0.7l-0.4 -0.7l-15.3 7.4l0.8 1.6l0.9 1.5z" fill="#ff9400" stroke="#ff9400"/><path d="M504.8 471.4l-0.3 -0.7l-0.3 -0.7l-16.1 5.6l0.6 1.7l0.7 1.6z" fill="#ffa900" stroke="#ffa900"/><path d="M504.2 469.9l-0.2 -0.7l-16.4 4.6l0.5 1.7z" fill="#ffbf00" stroke="#ffbf00"/><path d="M504.0 469.2l-0.2 -0.7l-0.1 -0.7l-16.8 2.6l0.3 1.8l0.4 1.7z" fill="#ffd400" stroke="#ffd400"/><path d="M503.6 467.8l-0.1 -0.7l-0 -0.7l-17 0.4l0.1 1.8l0.2 1.8z" fill="#ffe900" stroke="#ffe900"/><path d="M503.5 466.3l0 -0.7l0.1 -0.7l-16.9 -1.7l-0.1 1.8l-0 1.8z" fill="#ffff00" stroke="#ffff00"/><path d="M503.6 464.8l0.1 -0.7l0.1 -0.7l-16.6 -3.8l-0.4 1.8l-0.2 1.8z" fill="#e9ff15" stroke="#e9ff15"/><path d="M503.8 463.4l0.2 -0.7l0.2 -0.7l0.3 -0.7l-15.6 -6.7l-0.7 1.6l-0.6 1.7l-0.5 1.7z" fill="#d4ff2a" stroke="#d4ff2a"/><path d="M504.5 461.2l0.3 -0.7l0.4 -0.7l0.4 -0.7l-14.3 -9.2l-0.9 1.5l-0.8 1.5l-0.7 1.6z" fill="#bfff3f" stroke="#bfff3f"/><path d="M505.7 459.1l0.5 -0.7l0.5 -0.7l0.6 -0.7l-12.7 -11.3l-1.1 1.3l-1 1.4l-1 1.4z" fill="#a9ff55" stroke="#a9ff55"/><path d="M507.2 457.1l0.6 -0.6l0.6 -0.6l0.7 -0.6l-11 -12.9l-1.2 1.1l-1.2 1.2l-1.1 1.2z" fill="#94ff6a" stroke="#94ff6a"/><path d="M509.1 455.2l0.7 -0.6l0.7 -0.6l0.8 -0.5l-9.3 -14.2l-1.3 0.9l-1.3 1l-1.3 1z" fill="#7fff7f" stroke="#7fff7f"/><path d="M511.3 453.6l0.8 -0.5l0.8 -0.5l0.8 -0.4l0.9 -0.4l1 -0.4l-6.8 -15.6l-1.3 0.6l-1.4 0.7l-1.4 0.7l-1.4 0.8l-1.4 0.9z" fill="#6aff94" stroke="#6aff94"/></g><path d="M547.5 439.7l1.3 0.7l1.3 0.7l1.3 0.8l1.2 0.8l1.2 0.9l1.2 1l1.1 1l1.1 1.1l1 1.1l1 1.2l0.9 1.2l0.9 1.3l0.8 1.3l0.7 1.4l0.7 1.4l0.6 1.5l0.5 1.5l0.4 1.6l0.3 1.6l0.2 1.6l0.1 1.6l0 1.6l-0.1 1.6l-0.2 1.6l-0.3 1.6l-0.4 1.6l-0.5 1.5l-0.6 1.5l-0.7 1.4l-0.7 1.4l-0.8 1.3l-0.9 1.3l-0.9 1.2l-1 1.2l-1 1.1l-1.1 1.1l-1.1 1l-1.2 1l-1.2 0.9l-1.2 0.9l-1.3 0.8l-1.3 0.8l-1.3 0.7l-1.3 0.6l-1.3 0.6l-1.4 0.6l-1.4 0.5l-1.4 0.5l-1.4 0.4l-1.4 0.4l-1.4 0.3l-1.4 0.3l-1.4 0.2l-1.4 0.2l-1.4 0.1l-1.4 0.1l-1.4 0l-1.4 0l-1.4 -0l-1.4 -0.1l-1.4 -0.1l-1.4 -0.2l-1.4 -0.2l-1.4 -0.3l-1.4 -0.3l-1.4 -0.4l-1.4 -0.4l-1.4 -0.5l-1.4 -0.5l-1.4 -0.6l-1.3 -0.6l-1.3 -0.6l-1.3 -0.7l-1.3 -0.8l-1.3 -0.8l-1.2 -0.9l-1.2 -0.9l-1.2 -1l-1.1 -1l-1.1 -1.1l-1 -1.1l-1 -1.2l-0.9 -1.2l-0.9 -1.3l-0.8 -1.3l-0.7 -1.4l-0.7 -1.4l-0.6 -1.5l-0.5 -1.5l-0.4 -1.6l-0.3 -1.6l-0.2 -1.6l-0.1 -1.6l0 -1.6l0.1 -1.6l0.2 -1.6l0.3 -1.6l0.4 -1.6l0.5 -1.5l0.6 -1.5l0.7 -1.4l0.7 -1.4l0.8 -1.3l0.9 -1.3l0.9 -1.2l1 -1.2l1 -1.1l1.1 -1.1l1.1 -1l1.2 -1l1.2 -0.9l1.2 -0.8l1.3 -0.8l1.3 -0.7l1.3 -0.7" fill="none" stroke="#000" stroke-opacity="0.20" stroke-width="6.5"/><path d="M543.7 447.3l1 0.5l1 0.6l1 0.6l0.9 0.7l0.9 0.7l0.9 0.7l0.8 0.8l0.8 0.8l0.8 0.8l0.7 0.9l0.7 0.9l0.6 0.9l0.6 0.9l0.5 1l0.5 1l0.4 1l0.3 1l0.3 1l0.2 1.1l0.1 1.1l0.1 1.1l0 1.1l-0.1 1.1l-0.1 1.1l-0.2 1.1l-0.3 1.1l-0.3 1l-0.4 1l-0.5 1l-0.5 1l-0.6 1l-0.6 0.9l-0.7 0.9l-0.7 0.9l-0.8 0.8l-0.8 0.8l-0.8 0.8l-0.9 0.7l-0.9 0.7l-0.9 0.7l-1 0.6l-1 0.6l-1 0.5l-1 0.5l-1.1 0.5l-1.1 0.4l-1.1 0.4l-1.1 0.4l-1.1 0.3l-1.1 0.3l-1.1 0.3l-1.2 0.2l-1.2 0.2l-1.2 0.1l-1.2 0.1l-1.2 0.1l-1.2 0l-1.2 0l-1.2 -0l-1.2 -0.1l-1.2 -0.1l-1.2 -0.1l-1.2 -0.2l-1.2 -0.2l-1.1 -0.3l-1.1 -0.3l-1.1 -0.3l-1.1 -0.4l-1.1 -0.4l-1.1 -0.4l-1.1 -0.5l-1 -0.5l-1 -0.5l-1 -0.6l-1 -0.6l-0.9 -0.7l-0.9 -0.7l-0.9 -0.7l-0.8 -0.8l-0.8 -0.8l-0.8 -0.8l-0.7 -0.9l-0.7 -0.9l-0.6 -0.9l-0.6 -1l-0.5 -1l-0.5 -1l-0.4 -1l-0.3 -1l-0.3 -1.1l-0.2 -1.1l-0.1 -1.1l-0.1 -1.1l0 -1.1l0.1 -1.1l0.1 -1.1l0.2 -1.1l0.3 -1l0.3 -1l0.4 -1l0.5 -1l0.5 -1l0.6 -0.9l0.6 -0.9l0.7 -0.9l0.7 -0.9l0.8 -0.8l0.8 -0.8l0.8 -0.8l0.9 -0.7l0.9 -0.7l0.9 -0.7l1 -0.6l1 -0.6l1 -0.5" fill="none" stroke="#fff" stroke-opacity="0.35" stroke-width="3.7"/><path d="M522.7 489.8 C521.5 489.4 517.7 488.7 515.4 487.8 C513.1 486.8 510.9 485.6 509.0 484.2 C507.1 482.8 505.4 481.1 504.1 479.3 C502.8 477.5 501.7 475.4 501.0 473.4 C500.3 471.3 499.9 469.1 499.9 467.0 C499.9 464.9 500.3 462.7 501.0 460.6 C501.7 458.6 502.8 456.5 504.1 454.7 C505.4 452.9 508.2 450.6 509.0 449.8" fill="none" stroke="#7c7c7c" stroke-width="2.60" stroke-linecap="round"/><path d="M521.5 490.8 C520.2 490.4 516.4 489.6 514.1 488.6 C511.9 487.6 509.7 486.3 507.8 484.8 C505.9 483.4 504.2 481.7 502.8 479.8 C501.5 478.0 500.4 476.0 499.7 473.9 C498.9 471.8 498.5 469.6 498.5 467.5 C498.4 465.3 498.7 463.1 499.4 461.0 C500.0 458.9 501.0 456.9 502.3 455.0 C503.5 453.1 506.2 450.7 507.0 449.8" fill="none" stroke="#7c7c7c" stroke-width="2.60" stroke-linecap="round"/><path d="M520.1 491.7 C518.9 491.3 515.1 490.4 512.8 489.4 C510.6 488.3 508.4 487.0 506.5 485.5 C504.6 484.0 502.9 482.3 501.6 480.4 C500.2 478.6 499.1 476.5 498.4 474.5 C497.6 472.4 497.1 470.2 497.0 468.0 C496.9 465.8 497.2 463.6 497.7 461.5 C498.3 459.4 499.2 457.2 500.4 455.3 C501.6 453.4 504.1 450.8 504.8 449.9" fill="none" stroke="#7c7c7c" stroke-width="2.60" stroke-linecap="round"/><path d="M518.7 492.7 C517.5 492.2 513.7 491.2 511.5 490.1 C509.2 489.0 507.1 487.6 505.2 486.1 C503.4 484.6 501.7 482.8 500.3 481.0 C499.0 479.1 497.8 477.1 497.1 475.0 C496.3 473.0 495.8 470.7 495.6 468.6 C495.5 466.4 495.7 464.2 496.1 462.0 C496.6 459.9 497.4 457.7 498.5 455.8 C499.6 453.8 502.0 451.1 502.7 450.2" fill="none" stroke="#7c7c7c" stroke-width="2.60" stroke-linecap="round"/><path d="M517.2 493.5 C516.0 493.1 512.3 491.9 510.1 490.8 C507.9 489.6 505.7 488.2 503.9 486.7 C502.1 485.2 500.4 483.4 499.1 481.6 C497.7 479.7 496.6 477.7 495.8 475.6 C495.0 473.6 494.4 471.3 494.2 469.2 C494.0 467.0 494.1 464.8 494.6 462.6 C495.0 460.5 495.7 458.3 496.7 456.3 C497.7 454.3 499.9 451.6 500.5 450.6" fill="none" stroke="#7c7c7c" stroke-width="2.60" stroke-linecap="round"/><path d="M515.6 494.3 C514.4 493.8 510.8 492.6 508.6 491.4 C506.4 490.2 504.4 488.8 502.6 487.3 C500.8 485.7 499.1 484.0 497.8 482.1 C496.4 480.3 495.3 478.3 494.5 476.2 C493.7 474.2 493.1 472.0 492.9 469.8 C492.6 467.7 492.7 465.5 493.0 463.3 C493.3 461.2 493.9 459.0 494.8 457.0 C495.7 455.0 497.7 452.1 498.3 451.2" fill="none" stroke="#7c7c7c" stroke-width="2.60" stroke-linecap="round"/><path d="M522.7 489.8 C521.5 489.4 517.7 488.7 515.4 487.8 C513.1 486.8 510.9 485.6 509.0 484.2 C507.1 482.8 505.4 481.1 504.1 479.3 C502.8 477.5 501.7 475.4 501.0 473.4 C500.3 471.3 499.9 469.1 499.9 467.0 C499.9 464.9 500.3 462.7 501.0 460.6 C501.7 458.6 502.8 456.5 504.1 454.7 C505.4 452.9 508.2 450.6 509.0 449.8" fill="none" stroke="#d2d2d2" stroke-width="1.60" stroke-linecap="round"/><path d="M521.5 490.8 C520.2 490.4 516.4 489.6 514.1 488.6 C511.9 487.6 509.7 486.3 507.8 484.8 C505.9 483.4 504.2 481.7 502.8 479.8 C501.5 478.0 500.4 476.0 499.7 473.9 C498.9 471.8 498.5 469.6 498.5 467.5 C498.4 465.3 498.7 463.1 499.4 461.0 C500.0 458.9 501.0 456.9 502.3 455.0 C503.5 453.1 506.2 450.7 507.0 449.8" fill="none" stroke="#b4b4b4" stroke-width="1.60" stroke-linecap="round"/><path d="M520.1 491.7 C518.9 491.3 515.1 490.4 512.8 489.4 C510.6 488.3 508.4 487.0 506.5 485.5 C504.6 484.0 502.9 482.3 501.6 480.4 C500.2 478.6 499.1 476.5 498.4 474.5 C497.6 472.4 497.1 470.2 497.0 468.0 C496.9 465.8 497.2 463.6 497.7 461.5 C498.3 459.4 499.2 457.2 500.4 455.3 C501.6 453.4 504.1 450.8 504.8 449.9" fill="none" stroke="#e8e8e8" stroke-width="1.60" stroke-linecap="round"/><path d="M518.7 492.7 C517.5 492.2 513.7 491.2 511.5 490.1 C509.2 489.0 507.1 487.6 505.2 486.1 C503.4 484.6 501.7 482.8 500.3 481.0 C499.0 479.1 497.8 477.1 497.1 475.0 C496.3 473.0 495.8 470.7 495.6 468.6 C495.5 466.4 495.7 464.2 496.1 462.0 C496.6 459.9 497.4 457.7 498.5 455.8 C499.6 453.8 502.0 451.1 502.7 450.2" fill="none" stroke="#c0c0c0" stroke-width="1.60" stroke-linecap="round"/><path d="M517.2 493.5 C516.0 493.1 512.3 491.9 510.1 490.8 C507.9 489.6 505.7 488.2 503.9 486.7 C502.1 485.2 500.4 483.4 499.1 481.6 C497.7 479.7 496.6 477.7 495.8 475.6 C495.0 473.6 494.4 471.3 494.2 469.2 C494.0 467.0 494.1 464.8 494.6 462.6 C495.0 460.5 495.7 458.3 496.7 456.3 C497.7 454.3 499.9 451.6 500.5 450.6" fill="none" stroke="#d2d2d2" stroke-width="1.60" stroke-linecap="round"/><path d="M515.6 494.3 C514.4 493.8 510.8 492.6 508.6 491.4 C506.4 490.2 504.4 488.8 502.6 487.3 C500.8 485.7 499.1 484.0 497.8 482.1 C496.4 480.3 495.3 478.3 494.5 476.2 C493.7 474.2 493.1 472.0 492.9 469.8 C492.6 467.7 492.7 465.5 493.0 463.3 C493.3 461.2 493.9 459.0 494.8 457.0 C495.7 455.0 497.7 452.1 498.3 451.2" fill="none" stroke="#b4b4b4" stroke-width="1.60" stroke-linecap="round"/><path d="M557.4 481.4 C556.5 482.3 554.2 485.0 552.3 486.6 C550.5 488.1 548.3 489.5 546.0 490.7 C543.8 491.8 541.3 492.8 538.8 493.5 C536.2 494.2 533.6 494.7 530.9 494.9 C528.3 495.1 525.5 495.1 522.9 494.8 C520.2 494.5 517.6 493.9 515.1 493.2 C512.6 492.4 510.1 491.4 507.9 490.1 C505.7 488.9 503.6 487.4 501.8 485.8 C500.0 484.2 497.8 481.4 497.0 480.5" fill="none" stroke="#7c7c7c" stroke-width="2.60" stroke-linecap="round"/><path d="M559.0 481.0 C558.2 482.0 555.8 485.0 553.8 486.7 C551.9 488.4 549.6 490.0 547.1 491.3 C544.7 492.6 542.1 493.6 539.4 494.4 C536.6 495.2 533.7 495.7 530.9 495.9 C528.0 496.1 525.1 496.1 522.2 495.7 C519.4 495.4 516.5 494.7 513.9 493.8 C511.2 493.0 508.6 491.8 506.3 490.4 C503.9 489.0 501.8 487.4 499.9 485.6 C498.0 483.8 495.9 480.6 495.1 479.6" fill="none" stroke="#7c7c7c" stroke-width="2.60" stroke-linecap="round"/><path d="M560.7 480.6 C559.8 481.6 557.4 485.0 555.3 486.8 C553.3 488.7 550.8 490.4 548.3 491.9 C545.7 493.3 542.9 494.4 539.9 495.3 C537.0 496.1 533.9 496.7 530.8 496.9 C527.8 497.1 524.6 497.0 521.5 496.6 C518.5 496.2 515.4 495.5 512.6 494.5 C509.8 493.5 507.0 492.1 504.6 490.6 C502.1 489.0 499.9 487.2 498.0 485.2 C496.1 483.2 494.0 479.7 493.2 478.6" fill="none" stroke="#7c7c7c" stroke-width="2.60" stroke-linecap="round"/><path d="M562.4 480.0 C561.5 481.2 559.0 484.8 556.9 486.9 C554.7 489.0 552.2 490.9 549.4 492.4 C546.7 493.9 543.7 495.2 540.6 496.1 C537.5 497.1 534.1 497.7 530.8 497.9 C527.5 498.1 524.1 498.0 520.8 497.5 C517.6 497.1 514.3 496.2 511.3 495.1 C508.3 494.0 505.4 492.4 502.8 490.7 C500.3 489.0 498.0 486.9 496.0 484.7 C494.1 482.5 492.1 478.7 491.3 477.5" fill="none" stroke="#7c7c7c" stroke-width="2.60" stroke-linecap="round"/><path d="M564.0 479.4 C563.1 480.7 560.7 484.7 558.4 486.9 C556.2 489.2 553.5 491.2 550.6 492.9 C547.8 494.6 544.5 496.0 541.2 497.0 C537.9 498.0 534.3 498.7 530.8 498.9 C527.2 499.1 523.6 499.0 520.1 498.4 C516.6 497.9 513.1 496.9 510.0 495.7 C506.8 494.4 503.7 492.7 501.1 490.8 C498.4 488.9 496.0 486.6 494.1 484.1 C492.1 481.7 490.2 477.5 489.5 476.2" fill="none" stroke="#7c7c7c" stroke-width="2.60" stroke-linecap="round"/><path d="M557.4 481.4 C556.5 482.3 554.2 485.0 552.3 486.6 C550.5 488.1 548.3 489.5 546.0 490.7 C543.8 491.8 541.3 492.8 538.8 493.5 C536.2 494.2 533.6 494.7 530.9 494.9 C528.3 495.1 525.5 495.1 522.9 494.8 C520.2 494.5 517.6 493.9 515.1 493.2 C512.6 492.4 510.1 491.4 507.9 490.1 C505.7 488.9 503.6 487.4 501.8 485.8 C500.0 484.2 497.8 481.4 497.0 480.5" fill="none" stroke="#d8d8d8" stroke-width="1.60" stroke-linecap="round"/><path d="M559.0 481.0 C558.2 482.0 555.8 485.0 553.8 486.7 C551.9 488.4 549.6 490.0 547.1 491.3 C544.7 492.6 542.1 493.6 539.4 494.4 C536.6 495.2 533.7 495.7 530.9 495.9 C528.0 496.1 525.1 496.1 522.2 495.7 C519.4 495.4 516.5 494.7 513.9 493.8 C511.2 493.0 508.6 491.8 506.3 490.4 C503.9 489.0 501.8 487.4 499.9 485.6 C498.0 483.8 495.9 480.6 495.1 479.6" fill="none" stroke="#b8b8b8" stroke-width="1.60" stroke-linecap="round"/><path d="M560.7 480.6 C559.8 481.6 557.4 485.0 555.3 486.8 C553.3 488.7 550.8 490.4 548.3 491.9 C545.7 493.3 542.9 494.4 539.9 495.3 C537.0 496.1 533.9 496.7 530.8 496.9 C527.8 497.1 524.6 497.0 521.5 496.6 C518.5 496.2 515.4 495.5 512.6 494.5 C509.8 493.5 507.0 492.1 504.6 490.6 C502.1 489.0 499.9 487.2 498.0 485.2 C496.1 483.2 494.0 479.7 493.2 478.6" fill="none" stroke="#ececec" stroke-width="1.60" stroke-linecap="round"/><path d="M562.4 480.0 C561.5 481.2 559.0 484.8 556.9 486.9 C554.7 489.0 552.2 490.9 549.4 492.4 C546.7 493.9 543.7 495.2 540.6 496.1 C537.5 497.1 534.1 497.7 530.8 497.9 C527.5 498.1 524.1 498.0 520.8 497.5 C517.6 497.1 514.3 496.2 511.3 495.1 C508.3 494.0 505.4 492.4 502.8 490.7 C500.3 489.0 498.0 486.9 496.0 484.7 C494.1 482.5 492.1 478.7 491.3 477.5" fill="none" stroke="#c4c4c4" stroke-width="1.60" stroke-linecap="round"/><path d="M564.0 479.4 C563.1 480.7 560.7 484.7 558.4 486.9 C556.2 489.2 553.5 491.2 550.6 492.9 C547.8 494.6 544.5 496.0 541.2 497.0 C537.9 498.0 534.3 498.7 530.8 498.9 C527.2 499.1 523.6 499.0 520.1 498.4 C516.6 497.9 513.1 496.9 510.0 495.7 C506.8 494.4 503.7 492.7 501.1 490.8 C498.4 488.9 496.0 486.6 494.1 484.1 C492.1 481.7 490.2 477.5 489.5 476.2" fill="none" stroke="#d8d8d8" stroke-width="1.60" stroke-linecap="round"/><path d="M553.2 457.0 C553.6 458.0 555.1 461.1 555.5 463.2 C555.9 465.3 556.0 467.6 555.7 469.8 C555.4 471.9 554.7 474.1 553.7 476.1 C552.7 478.1 551.4 480.1 549.8 481.7 C548.2 483.4 546.2 485.0 544.1 486.3 C542.0 487.5 538.4 488.8 537.2 489.3" fill="none" stroke="#7c7c7c" stroke-width="2.40" stroke-linecap="round"/><path d="M555.3 457.6 C555.6 458.7 557.0 461.9 557.3 464.1 C557.6 466.3 557.6 468.6 557.2 470.8 C556.8 473.0 556.0 475.2 554.9 477.2 C553.8 479.2 552.4 481.2 550.7 482.9 C549.0 484.6 547.0 486.2 544.8 487.5 C542.7 488.8 538.9 490.1 537.8 490.6" fill="none" stroke="#7c7c7c" stroke-width="2.40" stroke-linecap="round"/><path d="M557.4 458.4 C557.7 459.5 558.8 462.8 559.0 465.1 C559.2 467.3 559.1 469.7 558.6 471.9 C558.1 474.1 557.2 476.3 556.0 478.4 C554.9 480.4 553.3 482.4 551.6 484.1 C549.8 485.8 547.8 487.4 545.5 488.7 C543.3 490.0 539.5 491.3 538.3 491.8" fill="none" stroke="#7c7c7c" stroke-width="2.40" stroke-linecap="round"/><path d="M559.4 459.4 C559.6 460.5 560.6 463.9 560.7 466.2 C560.8 468.5 560.5 470.8 559.9 473.1 C559.3 475.3 558.3 477.6 557.1 479.6 C555.8 481.6 554.2 483.6 552.4 485.3 C550.6 487.0 548.5 488.6 546.2 489.9 C544.0 491.2 540.1 492.5 538.9 493.1" fill="none" stroke="#7c7c7c" stroke-width="2.40" stroke-linecap="round"/><path d="M553.2 457.0 C553.6 458.0 555.1 461.1 555.5 463.2 C555.9 465.3 556.0 467.6 555.7 469.8 C555.4 471.9 554.7 474.1 553.7 476.1 C552.7 478.1 551.4 480.1 549.8 481.7 C548.2 483.4 546.2 485.0 544.1 486.3 C542.0 487.5 538.4 488.8 537.2 489.3" fill="none" stroke="#d4d4d4" stroke-width="1.50" stroke-linecap="round"/><path d="M555.3 457.6 C555.6 458.7 557.0 461.9 557.3 464.1 C557.6 466.3 557.6 468.6 557.2 470.8 C556.8 473.0 556.0 475.2 554.9 477.2 C553.8 479.2 552.4 481.2 550.7 482.9 C549.0 484.6 547.0 486.2 544.8 487.5 C542.7 488.8 538.9 490.1 537.8 490.6" fill="none" stroke="#b6b6b6" stroke-width="1.50" stroke-linecap="round"/><path d="M557.4 458.4 C557.7 459.5 558.8 462.8 559.0 465.1 C559.2 467.3 559.1 469.7 558.6 471.9 C558.1 474.1 557.2 476.3 556.0 478.4 C554.9 480.4 553.3 482.4 551.6 484.1 C549.8 485.8 547.8 487.4 545.5 488.7 C543.3 490.0 539.5 491.3 538.3 491.8" fill="none" stroke="#e6e6e6" stroke-width="1.50" stroke-linecap="round"/><path d="M559.4 459.4 C559.6 460.5 560.6 463.9 560.7 466.2 C560.8 468.5 560.5 470.8 559.9 473.1 C559.3 475.3 558.3 477.6 557.1 479.6 C555.8 481.6 554.2 483.6 552.4 485.3 C550.6 487.0 548.5 488.6 546.2 489.9 C544.0 491.2 540.1 492.5 538.9 493.1" fill="none" stroke="#d4d4d4" stroke-width="1.50" stroke-linecap="round"/><path d="M507.0 452.0 C504.7 449.0 502.2 439.0 501.0 434.0 C499.8 429.0 499.8 425.7 500.0 422.0 C500.2 418.3 501.0 414.5 502.0 412.0 C503.0 409.5 504.3 407.9 506.0 407.0 C507.7 406.1 510.2 406.2 512.0 406.5 C513.8 406.8 515.5 407.2 517.0 409.0 C518.5 410.8 520.2 413.5 521.0 417.0 C521.8 420.5 522.3 425.8 522.0 430.0 C521.7 434.2 520.2 438.3 519.0 442.0 C517.8 445.7 517.0 450.3 515.0 452.0 C513.0 453.7 509.3 455.0 507.0 452.0Z" fill="#bdbdbd"/><path d="M507.0 452.0 C506.8 450.1 507.0 443.4 506.0 440.4 C505.0 437.4 501.8 435.1 501.0 434.0" fill="none" stroke="#e2e2e2" stroke-width="1.10" stroke-linecap="round"/><path d="M508.3 452.0 C507.7 450.1 506.5 443.5 505.2 440.4 C503.8 437.4 500.9 434.7 500.1 433.6" fill="none" stroke="#8e8e8e" stroke-width="1.10" stroke-linecap="round"/><path d="M508.0 452.0 C507.0 449.5 503.3 441.8 502.0 436.8 C500.6 431.8 500.3 424.5 500.0 422.0" fill="none" stroke="#d0d0d0" stroke-width="1.10" stroke-linecap="round"/><path d="M505.4 452.0 C505.7 449.5 507.8 441.9 507.0 436.8 C506.1 431.7 501.5 423.9 500.5 421.3" fill="none" stroke="#e2e2e2" stroke-width="1.10" stroke-linecap="round"/><path d="M509.0 452.0 C508.4 448.6 506.4 438.0 505.2 431.3 C504.1 424.7 502.5 415.2 502.0 412.0" fill="none" stroke="#8e8e8e" stroke-width="1.10" stroke-linecap="round"/><path d="M505.8 452.0 C505.6 448.6 505.1 438.1 504.6 431.3 C504.2 424.6 503.2 414.8 503.0 411.5" fill="none" stroke="#d0d0d0" stroke-width="1.10" stroke-linecap="round"/><path d="M510.0 452.0 C509.8 448.2 509.6 436.8 509.0 429.3 C508.3 421.8 506.5 410.7 506.0 407.0" fill="none" stroke="#e2e2e2" stroke-width="1.10" stroke-linecap="round"/><path d="M510.1 452.0 C510.3 448.2 511.8 437.0 511.3 429.3 C510.8 421.6 507.8 409.9 507.1 406.0" fill="none" stroke="#8e8e8e" stroke-width="1.10" stroke-linecap="round"/><path d="M511.0 452.0 C511.1 448.3 511.2 437.4 511.3 429.8 C511.5 422.2 511.9 410.4 512.0 406.5" fill="none" stroke="#d0d0d0" stroke-width="1.10" stroke-linecap="round"/><path d="M516.8 452.0 C515.8 448.3 511.8 437.0 510.9 429.8 C510.0 422.5 511.4 412.1 511.5 408.5" fill="none" stroke="#e2e2e2" stroke-width="1.10" stroke-linecap="round"/><path d="M512.0 452.0 C512.3 448.4 512.8 437.4 513.6 430.2 C514.4 423.0 516.4 412.5 517.0 409.0" fill="none" stroke="#8e8e8e" stroke-width="1.10" stroke-linecap="round"/><path d="M514.6 452.0 C514.6 448.4 514.1 437.2 514.5 430.2 C514.9 423.3 516.7 413.7 517.2 410.3" fill="none" stroke="#d0d0d0" stroke-width="1.10" stroke-linecap="round"/><path d="M513.0 452.0 C513.2 449.3 512.8 441.4 514.2 435.5 C515.5 429.7 519.9 420.1 521.0 417.0" fill="none" stroke="#e2e2e2" stroke-width="1.10" stroke-linecap="round"/><path d="M510.1 452.0 C510.4 449.3 509.8 441.1 511.7 435.5 C513.6 429.9 519.9 421.3 521.6 418.4" fill="none" stroke="#8e8e8e" stroke-width="1.10" stroke-linecap="round"/><path d="M514.0 452.0 C514.6 450.0 516.2 443.6 517.6 439.9 C518.9 436.3 521.3 431.7 522.0 430.0" fill="none" stroke="#d0d0d0" stroke-width="1.10" stroke-linecap="round"/><path d="M514.1 452.0 C514.6 450.0 515.7 443.3 517.5 439.9 C519.3 436.5 523.6 432.9 524.8 431.5" fill="none" stroke="#e2e2e2" stroke-width="1.10" stroke-linecap="round"/><path d="M515.0 452.0 C515.4 451.4 516.5 449.8 517.2 448.1 C517.9 446.4 518.7 443.0 519.0 442.0" fill="none" stroke="#8e8e8e" stroke-width="1.10" stroke-linecap="round"/><path d="M514.4 452.0 C514.6 451.4 514.8 449.6 515.8 448.1 C516.8 446.6 519.4 444.0 520.2 443.2" fill="none" stroke="#d0d0d0" stroke-width="1.10" stroke-linecap="round"/><path d="M530.0 452.0 C527.2 449.8 526.8 443.0 526.0 438.0 C525.2 433.0 524.8 426.7 525.0 422.0 C525.2 417.3 525.8 413.3 527.0 410.0 C528.2 406.7 530.0 403.6 532.0 402.0 C534.0 400.4 536.7 400.3 539.0 400.5 C541.3 400.7 544.0 401.2 546.0 403.0 C548.0 404.8 549.8 407.8 551.0 411.0 C552.2 414.2 553.0 417.8 553.0 422.0 C553.0 426.2 552.7 431.2 551.0 436.0 C549.3 440.8 546.5 448.3 543.0 451.0 C539.5 453.7 532.8 454.2 530.0 452.0Z" fill="#c0c0c0"/><path d="M530.0 452.0 C529.6 450.8 528.0 447.2 527.3 444.8 C526.7 442.5 526.2 439.1 526.0 438.0" fill="none" stroke="#e6e6e6" stroke-width="1.10" stroke-linecap="round"/><path d="M535.0 452.0 C533.9 450.8 530.4 447.2 528.3 444.8 C526.3 442.5 523.7 439.1 522.7 438.0" fill="none" stroke="#909090" stroke-width="1.10" stroke-linecap="round"/><path d="M531.6 451.9 C531.0 449.4 528.8 442.1 527.7 437.1 C526.6 432.1 525.4 424.5 525.0 422.0" fill="none" stroke="#d4d4d4" stroke-width="1.10" stroke-linecap="round"/><path d="M526.8 451.9 C527.0 449.4 528.3 441.5 528.1 437.1 C527.8 432.6 525.9 427.1 525.5 425.2" fill="none" stroke="#e6e6e6" stroke-width="1.10" stroke-linecap="round"/><path d="M533.2 451.8 C532.8 448.4 531.5 438.3 530.4 431.4 C529.4 424.4 527.6 413.6 527.0 410.0" fill="none" stroke="#909090" stroke-width="1.10" stroke-linecap="round"/><path d="M528.8 451.8 C529.6 448.4 534.8 438.0 533.8 431.4 C532.9 424.8 524.9 415.4 523.2 412.2" fill="none" stroke="#d4d4d4" stroke-width="1.10" stroke-linecap="round"/><path d="M534.9 451.6 C534.6 447.3 533.6 434.2 533.1 425.9 C532.6 417.7 532.2 406.0 532.0 402.0" fill="none" stroke="#e6e6e6" stroke-width="1.10" stroke-linecap="round"/><path d="M532.9 451.6 C532.8 447.3 532.1 434.2 532.1 425.9 C532.1 417.6 532.7 405.8 532.8 401.8" fill="none" stroke="#909090" stroke-width="1.10" stroke-linecap="round"/><path d="M536.5 451.5 C537.0 446.9 538.8 432.7 539.2 424.2 C539.6 415.7 539.0 404.4 539.0 400.5" fill="none" stroke="#d4d4d4" stroke-width="1.10" stroke-linecap="round"/><path d="M536.5 451.5 C536.7 446.9 537.2 433.4 537.9 424.2 C538.6 415.0 540.1 400.9 540.6 396.3" fill="none" stroke="#e6e6e6" stroke-width="1.10" stroke-linecap="round"/><path d="M538.1 451.4 C538.7 447.4 540.4 435.5 541.7 427.4 C543.0 419.3 545.3 407.1 546.0 403.0" fill="none" stroke="#909090" stroke-width="1.10" stroke-linecap="round"/><path d="M533.7 451.4 C535.3 447.4 541.1 435.1 543.2 427.4 C545.3 419.7 545.8 408.7 546.4 405.0" fill="none" stroke="#d4d4d4" stroke-width="1.10" stroke-linecap="round"/><path d="M539.8 451.2 C540.8 447.7 544.5 436.9 546.3 430.1 C548.2 423.4 550.2 414.2 551.0 411.0" fill="none" stroke="#e6e6e6" stroke-width="1.10" stroke-linecap="round"/><path d="M537.4 451.2 C538.8 447.7 543.5 436.6 546.0 430.1 C548.6 423.7 551.4 415.6 552.5 412.7" fill="none" stroke="#909090" stroke-width="1.10" stroke-linecap="round"/><path d="M541.4 451.1 C542.2 448.6 544.5 440.8 546.5 436.0 C548.4 431.1 551.9 424.3 553.0 422.0" fill="none" stroke="#d4d4d4" stroke-width="1.10" stroke-linecap="round"/><path d="M539.0 451.1 C540.1 448.6 543.3 440.9 545.6 436.0 C547.9 431.1 551.4 424.1 552.5 421.7" fill="none" stroke="#e6e6e6" stroke-width="1.10" stroke-linecap="round"/><path d="M543.0 451.0 C544.0 449.7 547.7 445.5 549.1 443.0 C550.4 440.5 550.7 437.2 551.0 436.0" fill="none" stroke="#909090" stroke-width="1.10" stroke-linecap="round"/><path d="M542.1 451.0 C543.4 449.7 548.6 445.6 549.7 443.0 C550.9 440.4 549.2 436.6 549.1 435.3" fill="none" stroke="#d4d4d4" stroke-width="1.10" stroke-linecap="round"/><path d="M505 433 L512 428.5 L514.5 433 L507.5 437.5Z" fill="#2c48cc"/><path d="M527 420 L545 413 L552 423 L552 432 L533 433 L527 427Z" fill="#1a2da6"/><path d="M528.5 421 L541 416.5 L543 421.5 L531 426Z" fill="#6686e4" opacity="0.85"/><g stroke-width="0.6" stroke-linejoin="round"><path d="M694.7 488.4l-1.3 -1.4l-11.5 11.2l1.4 1.4z" fill="#0000e9" stroke="#0000e9"/><path d="M693.4 487.0l-1.3 -1.3l-11.6 11l1.4 1.5z" fill="#0000ff" stroke="#0000ff"/><path d="M692.1 485.7l-1.3 -1.3l-1.2 -1.3l-11.9 10.6l1.4 1.6l1.4 1.5z" fill="#0015ff" stroke="#0015ff"/><path d="M689.6 483.0l-1.2 -1.3l-12.2 10.4l1.4 1.6z" fill="#002aff" stroke="#002aff"/><path d="M688.4 481.7l-1.1 -1.4l-1.1 -1.4l-12.7 9.7l1.4 1.7l1.4 1.7z" fill="#003fff" stroke="#003fff"/><path d="M686.2 478.9l-1 -1.4l-13 9.3l1.3 1.8z" fill="#006aff" stroke="#006aff"/><path d="M685.2 477.6l-1 -1.4l-13.3 8.9l1.3 1.8z" fill="#00aaff" stroke="#00aaff"/><path d="M684.2 476.2l-0.9 -1.4l-13.6 8.4l1.2 1.9z" fill="#00d4ff" stroke="#00d4ff"/><path d="M683.3 474.8l-0.8 -1.4l-14 7.8l1.2 2z" fill="#15ffe9" stroke="#15ffe9"/><path d="M682.5 473.4l-0.8 -1.4l-14.3 7.2l1.1 2z" fill="#3fffbf" stroke="#3fffbf"/><path d="M681.7 471.9l-0.7 -1.4l-14.6 6.6l1 2.1z" fill="#7fff7f" stroke="#7fff7f"/><path d="M681.1 470.5l-0.6 -1.5l-14.9 5.9l0.9 2.1z" fill="#a9ff55" stroke="#a9ff55"/><path d="M680.4 469.0l-0.6 -1.5l-15.1 5.2l0.8 2.2z" fill="#d4ff2a" stroke="#d4ff2a"/><path d="M679.9 467.5l-0.5 -1.6l-15.3 4.7l0.7 2.2z" fill="#ffff00" stroke="#ffff00"/><path d="M679.4 466.0l-0.5 -1.6l-15.5 4.1l0.6 2.2z" fill="#ffd400" stroke="#ffd400"/><path d="M678.9 464.3l-0.4 -1.7l-15.6 3.6l0.5 2.1z" fill="#ffa900" stroke="#ffa900"/><path d="M678.5 462.7l-0.4 -1.7l-15.7 3.2l0.5 2.1z" fill="#ff7f00" stroke="#ff7f00"/><path d="M678.1 461.0l-0.3 -1.7l-15.8 2.8l0.4 2.1z" fill="#ff5500" stroke="#ff5500"/><path d="M677.8 459.3l-0.3 -1.7l-15.8 2.4l0.3 2.1z" fill="#ff2a00" stroke="#ff2a00"/><path d="M677.5 457.5l-0.2 -1.7l-15.9 2l0.3 2.1z" fill="#ff0000" stroke="#ff0000"/><path d="M677.3 455.8l-0.2 -1.7l-15.9 1.5l0.2 2.2z" fill="#e90000" stroke="#e90000"/><path d="M677.1 454.1l-0.1 -1.7l-16 1l0.2 2.2z" fill="#d40000" stroke="#d40000"/><path d="M676.9 452.4l-0.1 -1.7l-16 0.5l0.1 2.2z" fill="#bf0000" stroke="#bf0000"/><path d="M676.9 450.7l-0 -1.7l-16 -0.1l0 2.2z" fill="#a90000" stroke="#a90000"/><path d="M676.8 449.0l0 -1.7l0.1 -1.7l-16 -1.2l-0.1 2.2l-0 2.2z" fill="#940000" stroke="#940000"/><path d="M677.0 445.7l0.2 -1.6l0.2 -1.6l0.3 -1.6l0.3 -1.5l0.4 -1.5l0.5 -1.4l0.6 -1.4l0.6 -1.3l0.7 -1.3l0.8 -1.2l0.8 -1.2l0.9 -1.1l1 -1l1 -0.9l1.1 -0.9l1.2 -0.8l1.3 -0.8l1.4 -0.7l1.5 -0.7l1.5 -0.6l1.6 -0.6l1.6 -0.5l1.6 -0.5l1.6 -0.4l1.6 -0.4l1.6 -0.3l1.6 -0.2l1.6 -0.2l1.7 -0.1l1.7 -0.1l1.8 -0l1.8 0l1.9 0.1l1.9 0.1l1.9 0.1l1.9 0.1l1.8 0.1l1.7 0.2l1.7 0.2l1.6 0.3l1.5 0.3l1.5 0.4l1.4 0.5l1.4 0.6l1.4 0.6l1.3 0.7l1.3 0.8l1.3 0.9l1.2 0.9l1.2 1l1.2 1.1l1.1 1.1l1.1 1.2l1 1.3l1 1.3l0.9 1.3l0.9 1.3l0.8 1.3l0.7 1.3l0.6 1.4l0.5 1.4l0.4 1.4l15.5 -3.8l-0.7 -2.4l-0.8 -2.3l-1 -2.2l-1.1 -2.2l-1.2 -2.1l-1.3 -2l-1.3 -1.9l-1.4 -1.8l-1.5 -1.8l-1.5 -1.7l-1.6 -1.6l-1.7 -1.6l-1.8 -1.5l-1.9 -1.4l-2 -1.3l-2 -1.2l-2.1 -1.1l-2.2 -1l-2.2 -0.9l-2.3 -0.8l-2.3 -0.6l-2.3 -0.5l-2.3 -0.4l-2.2 -0.3l-2.2 -0.2l-2.1 -0.2l-2 -0.1l-2 -0.1l-2 -0.1l-2.1 -0.1l-2.1 -0l-2.2 0l-2.2 0.1l-2.3 0.1l-2.3 0.2l-2.3 0.3l-2.2 0.4l-2.2 0.5l-2.2 0.6l-2.1 0.6l-2.1 0.7l-2.1 0.8l-2.1 0.9l-2.1 1l-2.1 1.1l-2.1 1.2l-2 1.4l-2 1.5l-1.9 1.7l-1.8 1.8l-1.6 1.9l-1.5 2l-1.3 2.1l-1.2 2.1l-1.1 2.2l-0.9 2.3l-0.8 2.3l-0.6 2.3l-0.5 2.3l-0.4 2.3l-0.3 2.3l-0.2 2.3z" fill="#7f0000" stroke="#7f0000"/><path d="M751.1 442.5l0.3 1.4l15.8 -2.8l-0.5 -2.5z" fill="#940000" stroke="#940000"/><path d="M751.4 443.9l0.2 1.4l15.9 -1.7l-0.3 -2.5z" fill="#a90000" stroke="#a90000"/><path d="M751.6 445.3l0.1 1.5l16 -0.7l-0.2 -2.5z" fill="#d40000" stroke="#d40000"/><path d="M751.7 446.8l0 1.5l16 0.2l-0 -2.4z" fill="#ff0000" stroke="#ff0000"/><path d="M751.8 448.3l-0.1 1.5l16 1.2l0.1 -2.4z" fill="#ff2a00" stroke="#ff2a00"/><path d="M751.7 449.7l-0.2 1.5l15.9 2.1l0.2 -2.4z" fill="#ff3f00" stroke="#ff3f00"/><path d="M751.5 451.2l-0.2 1.5l15.7 3l0.4 -2.4z" fill="#ff6a00" stroke="#ff6a00"/><path d="M751.3 452.7l-0.3 1.5l15.5 3.8l0.5 -2.3z" fill="#ff9400" stroke="#ff9400"/><path d="M751.0 454.2l-0.4 1.5l15.3 4.6l0.6 -2.3z" fill="#ffbf00" stroke="#ffbf00"/><path d="M750.6 455.7l-0.5 1.5l15.1 5.3l0.7 -2.2z" fill="#ffd400" stroke="#ffd400"/><path d="M750.1 457.2l-0.6 1.5l14.9 5.9l0.8 -2.1z" fill="#ffff00" stroke="#ffff00"/><path d="M749.5 458.7l-0.7 1.6l14.7 6.4l0.9 -2.1z" fill="#e9ff15" stroke="#e9ff15"/><path d="M748.8 460.3l-0.7 1.6l14.5 6.8l0.9 -2z" fill="#bfff3f" stroke="#bfff3f"/><path d="M748.1 461.9l-0.8 1.6l14.3 7.2l0.9 -1.9z" fill="#a9ff55" stroke="#a9ff55"/><path d="M747.3 463.5l-0.8 1.6l14.2 7.4l1 -1.9z" fill="#7fff7f" stroke="#7fff7f"/><path d="M746.5 465.1l-0.9 1.6l14 7.7l1 -1.8z" fill="#6aff94" stroke="#6aff94"/><path d="M745.6 466.7l-0.9 1.6l13.9 7.9l1 -1.8z" fill="#54ffaa" stroke="#54ffaa"/><path d="M744.7 468.3l-0.9 1.6l13.8 8.1l1 -1.8z" fill="#3fffbf" stroke="#3fffbf"/><path d="M743.8 469.9l-0.9 1.6l13.7 8.3l1.1 -1.8z" fill="#2affd4" stroke="#2affd4"/><path d="M742.9 471.5l-1 1.6l13.6 8.4l1.1 -1.7z" fill="#00ffff" stroke="#00ffff"/><path d="M741.9 473.1l-1 1.6l13.5 8.5l1.1 -1.7z" fill="#00e9ff" stroke="#00e9ff"/><path d="M740.9 474.7l-1 1.6l13.5 8.7l1.1 -1.7z" fill="#00d4ff" stroke="#00d4ff"/><path d="M739.9 476.3l-1 1.6l13.4 8.8l1.1 -1.7z" fill="#00bfff" stroke="#00bfff"/><path d="M738.9 477.9l-1.1 1.6l13.3 8.8l1.1 -1.7z" fill="#00aaff" stroke="#00aaff"/><path d="M737.8 479.5l-1.1 1.6l13.3 8.9l1.1 -1.7z" fill="#007fff" stroke="#007fff"/><path d="M736.7 481.1l-1.1 1.6l13.3 8.9l1.1 -1.6z" fill="#006aff" stroke="#006aff"/><path d="M735.7 482.7l-1.1 1.6l13.3 9l1.1 -1.6z" fill="#0055ff" stroke="#0055ff"/><path d="M734.6 484.3l-1.1 1.6l13.2 9l1.1 -1.6z" fill="#002aff" stroke="#002aff"/><path d="M733.5 485.9l-1.1 1.6l13.2 9l1.1 -1.6z" fill="#0015ff" stroke="#0015ff"/></g><path d="M690.0 487.7l-1.3 -1.4l-1.3 -1.4l-1.2 -1.4l-1.2 -1.4l-1.1 -1.4l-1.1 -1.4l-1 -1.5l-1 -1.5l-0.9 -1.5l-0.8 -1.5l-0.7 -1.6l-0.7 -1.6l-0.6 -1.6l-0.5 -1.7l-0.5 -1.7l-0.4 -1.7l-0.4 -1.8l-0.3 -1.8l-0.3 -1.8l-0.2 -1.8l-0.2 -1.8l-0.1 -1.8l-0.1 -1.8l-0 -1.8l0 -1.8l0.1 -1.8l0.2 -1.8l0.2 -1.7l0.3 -1.7l0.4 -1.7l0.5 -1.6l0.5 -1.6l0.6 -1.5l0.7 -1.5l0.8 -1.4l0.9 -1.4l1 -1.3l1 -1.2l1.1 -1.1l1.2 -1.1l1.3 -1l1.4 -0.9l1.4 -0.8l1.5 -0.8l1.6 -0.7l1.6 -0.7l1.7 -0.6l1.7 -0.6l1.7 -0.5l1.7 -0.5l1.7 -0.4l1.7 -0.3l1.7 -0.3l1.7 -0.2l1.8 -0.1l1.8 -0.1l1.8 -0l1.9 0l1.9 0.1l1.9 0.1l1.9 0.1l1.9 0.1l1.9 0.1l1.8 0.2l1.8 0.2l1.7 0.3l1.7 0.4l1.6 0.4l1.6 0.5l1.6 0.6l1.5 0.7l1.5 0.8l1.4 0.9l1.4 1l1.4 1l1.3 1.1l1.3 1.2l1.2 1.2l1.2 1.3l1.1 1.3l1.1 1.4l1 1.4l0.9 1.4l0.8 1.5l0.7 1.5l0.7 1.5l0.5 1.5l0.4 1.5l0.3 1.6l0.2 1.6l0.1 1.6l0 1.7l-0.1 1.7l-0.2 1.7l-0.3 1.6l-0.4 1.6l-0.5 1.6l-0.5 1.6l-0.6 1.6l-0.7 1.6l-0.8 1.6l-0.8 1.7l-0.9 1.7l-0.9 1.7l-0.9 1.6l-0.9 1.6l-1 1.6l-1 1.6l-1 1.6l-1 1.6l-1 1.6l-1.1 1.6l-1.1 1.6l-1.1 1.6l-1.1 1.6" fill="none" stroke="#000" stroke-opacity="0.18" stroke-width="6.1"/><path d="M670.0 452.0 C669.8 450.8 668.7 448.3 669.0 445.0 C669.3 441.7 670.2 436.0 672.0 432.0 C673.8 428.0 676.7 423.9 680.0 421.0 C683.3 418.1 687.8 416.1 692.0 414.5 C696.2 412.9 700.7 412.0 705.0 411.5 C709.3 411.0 713.7 411.2 718.0 411.5 C722.3 411.8 726.8 411.8 731.0 413.0 C735.2 414.2 739.3 415.9 743.0 418.5 C746.7 421.1 750.3 424.8 753.0 428.5 C755.7 432.2 758.0 437.4 759.0 441.0 C760.0 444.6 759.0 448.5 759.0 450.0" fill="none" stroke="#ffffff" stroke-opacity="0.05" stroke-width="16" /><path d="M671.0 446.0 C671.4 443.8 671.8 437.0 673.5 433.0 C675.2 429.0 678.2 424.9 681.5 422.0 C684.8 419.1 688.9 417.1 693.0 415.5 C697.1 413.9 701.8 413.1 706.0 412.5 C710.2 411.9 713.8 411.8 718.0 412.0 C722.2 412.2 727.0 412.3 731.0 413.5 C735.0 414.7 738.7 416.6 742.0 419.0 C745.3 421.4 749.5 426.5 751.0 428.0" fill="none" stroke="#eaa89e" stroke-opacity="0.9" stroke-width="3" stroke-linecap="round"/><path d="M666.0 452.0 C666.0 450.2 665.2 445.0 666.0 441.0 C666.8 437.0 668.7 431.8 671.0 428.0 C673.3 424.2 678.5 419.7 680.0 418.0" fill="none" stroke="#ffffff" stroke-opacity="0.35" stroke-width="1.2" stroke-linecap="round"/><path d="M677.0 432.0 C677.2 434.7 677.2 442.7 678.0 448.0 C678.8 453.3 680.0 458.8 682.0 464.0 C684.0 469.2 687.0 474.3 690.0 479.0 C693.0 483.7 698.3 489.8 700.0 492.0" fill="none" stroke="#7a7a7a" stroke-width="2.60" stroke-linecap="round"/><path d="M678.6 433.5 C678.8 436.1 678.8 443.9 679.6 449.0 C680.4 454.1 681.6 459.0 683.5 464.0 C685.4 469.0 688.3 474.3 691.2 479.0 C694.1 483.7 699.4 489.8 701.0 492.0" fill="none" stroke="#7a7a7a" stroke-width="2.60" stroke-linecap="round"/><path d="M680.2 435.0 C680.4 437.5 680.4 445.2 681.2 450.0 C682.0 454.8 683.1 459.2 685.0 464.0 C686.9 468.8 689.6 474.3 692.4 479.0 C695.2 483.7 700.4 489.8 702.0 492.0" fill="none" stroke="#7a7a7a" stroke-width="2.60" stroke-linecap="round"/><path d="M681.8 436.5 C682.0 438.9 682.0 446.4 682.8 451.0 C683.6 455.6 684.7 459.3 686.5 464.0 C688.3 468.7 690.9 474.3 693.6 479.0 C696.4 483.7 701.4 489.8 703.0 492.0" fill="none" stroke="#7a7a7a" stroke-width="2.60" stroke-linecap="round"/><path d="M683.4 438.0 C683.6 440.3 683.6 447.7 684.4 452.0 C685.2 456.3 686.3 459.5 688.0 464.0 C689.7 468.5 692.1 474.3 694.8 479.0 C697.5 483.7 702.5 489.8 704.0 492.0" fill="none" stroke="#7a7a7a" stroke-width="2.60" stroke-linecap="round"/><path d="M685.0 439.5 C685.2 441.8 685.2 448.9 686.0 453.0 C686.8 457.1 687.8 459.7 689.5 464.0 C691.2 468.3 693.4 474.3 696.0 479.0 C698.6 483.7 703.5 489.8 705.0 492.0" fill="none" stroke="#7a7a7a" stroke-width="2.60" stroke-linecap="round"/><path d="M677.0 432.0 C677.2 434.7 677.2 442.7 678.0 448.0 C678.8 453.3 680.0 458.8 682.0 464.0 C684.0 469.2 687.0 474.3 690.0 479.0 C693.0 483.7 698.3 489.8 700.0 492.0" fill="none" stroke="#d6d6d6" stroke-width="1.60" stroke-linecap="round"/><path d="M678.6 433.5 C678.8 436.1 678.8 443.9 679.6 449.0 C680.4 454.1 681.6 459.0 683.5 464.0 C685.4 469.0 688.3 474.3 691.2 479.0 C694.1 483.7 699.4 489.8 701.0 492.0" fill="none" stroke="#b2b2b2" stroke-width="1.60" stroke-linecap="round"/><path d="M680.2 435.0 C680.4 437.5 680.4 445.2 681.2 450.0 C682.0 454.8 683.1 459.2 685.0 464.0 C686.9 468.8 689.6 474.3 692.4 479.0 C695.2 483.7 700.4 489.8 702.0 492.0" fill="none" stroke="#eaeaea" stroke-width="1.60" stroke-linecap="round"/><path d="M681.8 436.5 C682.0 438.9 682.0 446.4 682.8 451.0 C683.6 455.6 684.7 459.3 686.5 464.0 C688.3 468.7 690.9 474.3 693.6 479.0 C696.4 483.7 701.4 489.8 703.0 492.0" fill="none" stroke="#c4c4c4" stroke-width="1.60" stroke-linecap="round"/><path d="M683.4 438.0 C683.6 440.3 683.6 447.7 684.4 452.0 C685.2 456.3 686.3 459.5 688.0 464.0 C689.7 468.5 692.1 474.3 694.8 479.0 C697.5 483.7 702.5 489.8 704.0 492.0" fill="none" stroke="#d6d6d6" stroke-width="1.60" stroke-linecap="round"/><path d="M685.0 439.5 C685.2 441.8 685.2 448.9 686.0 453.0 C686.8 457.1 687.8 459.7 689.5 464.0 C691.2 468.3 693.4 474.3 696.0 479.0 C698.6 483.7 703.5 489.8 705.0 492.0" fill="none" stroke="#b2b2b2" stroke-width="1.60" stroke-linecap="round"/><path d="M742.0 417.0 C743.3 419.2 748.3 425.0 750.0 430.0 C751.7 435.0 752.3 441.7 752.0 447.0 C751.7 452.3 749.8 457.2 748.0 462.0 C746.2 466.8 743.3 471.7 741.0 476.0 C738.7 480.3 735.2 486.0 734.0 488.0" fill="none" stroke="#7a7a7a" stroke-width="2.60" stroke-linecap="round"/><path d="M740.8 418.5 C742.1 420.6 746.9 426.2 748.5 431.0 C750.1 435.8 750.7 441.8 750.4 447.0 C750.1 452.2 748.3 457.2 746.5 462.0 C744.7 466.8 742.0 471.7 739.7 476.0 C737.5 480.3 734.1 486.0 733.0 488.0" fill="none" stroke="#7a7a7a" stroke-width="2.60" stroke-linecap="round"/><path d="M739.6 420.0 C740.8 422.0 745.5 427.5 747.0 432.0 C748.5 436.5 749.1 442.0 748.8 447.0 C748.5 452.0 746.7 457.2 745.0 462.0 C743.3 466.8 740.6 471.7 738.4 476.0 C736.2 480.3 733.1 486.0 732.0 488.0" fill="none" stroke="#7a7a7a" stroke-width="2.60" stroke-linecap="round"/><path d="M738.4 421.5 C739.6 423.4 744.0 428.8 745.5 433.0 C747.0 437.2 747.5 442.2 747.2 447.0 C746.9 451.8 745.2 457.2 743.5 462.0 C741.8 466.8 739.2 471.7 737.1 476.0 C735.0 480.3 732.0 486.0 731.0 488.0" fill="none" stroke="#7a7a7a" stroke-width="2.60" stroke-linecap="round"/><path d="M737.2 423.0 C738.3 424.8 742.6 430.0 744.0 434.0 C745.4 438.0 745.9 442.3 745.6 447.0 C745.3 451.7 743.6 457.2 742.0 462.0 C740.4 466.8 737.8 471.7 735.8 476.0 C733.8 480.3 731.0 486.0 730.0 488.0" fill="none" stroke="#7a7a7a" stroke-width="2.60" stroke-linecap="round"/><path d="M736.0 424.5 C737.1 426.2 741.2 431.2 742.5 435.0 C743.8 438.8 744.3 442.5 744.0 447.0 C743.7 451.5 742.1 457.2 740.5 462.0 C738.9 466.8 736.4 471.7 734.5 476.0 C732.6 480.3 729.9 486.0 729.0 488.0" fill="none" stroke="#7a7a7a" stroke-width="2.60" stroke-linecap="round"/><path d="M742.0 417.0 C743.3 419.2 748.3 425.0 750.0 430.0 C751.7 435.0 752.3 441.7 752.0 447.0 C751.7 452.3 749.8 457.2 748.0 462.0 C746.2 466.8 743.3 471.7 741.0 476.0 C738.7 480.3 735.2 486.0 734.0 488.0" fill="none" stroke="#d6d6d6" stroke-width="1.60" stroke-linecap="round"/><path d="M740.8 418.5 C742.1 420.6 746.9 426.2 748.5 431.0 C750.1 435.8 750.7 441.8 750.4 447.0 C750.1 452.2 748.3 457.2 746.5 462.0 C744.7 466.8 742.0 471.7 739.7 476.0 C737.5 480.3 734.1 486.0 733.0 488.0" fill="none" stroke="#b2b2b2" stroke-width="1.60" stroke-linecap="round"/><path d="M739.6 420.0 C740.8 422.0 745.5 427.5 747.0 432.0 C748.5 436.5 749.1 442.0 748.8 447.0 C748.5 452.0 746.7 457.2 745.0 462.0 C743.3 466.8 740.6 471.7 738.4 476.0 C736.2 480.3 733.1 486.0 732.0 488.0" fill="none" stroke="#eaeaea" stroke-width="1.60" stroke-linecap="round"/><path d="M738.4 421.5 C739.6 423.4 744.0 428.8 745.5 433.0 C747.0 437.2 747.5 442.2 747.2 447.0 C746.9 451.8 745.2 457.2 743.5 462.0 C741.8 466.8 739.2 471.7 737.1 476.0 C735.0 480.3 732.0 486.0 731.0 488.0" fill="none" stroke="#c4c4c4" stroke-width="1.60" stroke-linecap="round"/><path d="M737.2 423.0 C738.3 424.8 742.6 430.0 744.0 434.0 C745.4 438.0 745.9 442.3 745.6 447.0 C745.3 451.7 743.6 457.2 742.0 462.0 C740.4 466.8 737.8 471.7 735.8 476.0 C733.8 480.3 731.0 486.0 730.0 488.0" fill="none" stroke="#d6d6d6" stroke-width="1.60" stroke-linecap="round"/><path d="M736.0 424.5 C737.1 426.2 741.2 431.2 742.5 435.0 C743.8 438.8 744.3 442.5 744.0 447.0 C743.7 451.5 742.1 457.2 740.5 462.0 C738.9 466.8 736.4 471.7 734.5 476.0 C732.6 480.3 729.9 486.0 729.0 488.0" fill="none" stroke="#b2b2b2" stroke-width="1.60" stroke-linecap="round"/><path d="M684.0 478.0 C681.8 481.3 682.7 486.5 683.0 490.0 C683.3 493.5 684.5 496.8 686.0 499.0 C687.5 501.2 689.7 502.2 692.0 503.0 C694.3 503.8 697.5 503.8 700.0 503.5 C702.5 503.2 705.2 502.6 707.0 501.0 C708.8 499.4 710.0 496.7 710.5 494.0 C711.0 491.3 710.9 488.0 710.0 485.0 C709.1 482.0 707.3 478.5 705.0 476.0 C702.7 473.5 699.5 469.7 696.0 470.0 C692.5 470.3 686.2 474.7 684.0 478.0Z" fill="#c2c2c2"/><path d="M684.0 478.0 C684.1 479.3 684.7 483.8 684.6 485.8 C684.4 487.8 683.3 489.3 683.0 490.0" fill="none" stroke="#e8e8e8" stroke-width="1.10" stroke-linecap="round"/><path d="M676.3 478.0 C677.7 479.3 682.9 483.3 684.3 485.8 C685.8 488.2 684.9 491.5 685.0 492.7" fill="none" stroke="#8a8a8a" stroke-width="1.10" stroke-linecap="round"/><path d="M685.7 476.9 C685.8 479.0 686.5 485.7 686.5 489.4 C686.6 493.1 686.1 497.4 686.0 499.0" fill="none" stroke="#d6d6d6" stroke-width="1.10" stroke-linecap="round"/><path d="M686.6 476.9 C686.7 479.0 687.4 486.1 687.3 489.4 C687.3 492.8 686.5 495.6 686.4 496.9" fill="none" stroke="#e8e8e8" stroke-width="1.10" stroke-linecap="round"/><path d="M687.4 475.7 C687.7 478.1 688.1 485.2 688.9 489.7 C689.6 494.3 691.5 500.8 692.0 503.0" fill="none" stroke="#8a8a8a" stroke-width="1.10" stroke-linecap="round"/><path d="M685.7 475.7 C686.5 478.1 689.3 484.6 690.8 489.7 C692.3 494.9 693.9 503.8 694.6 506.6" fill="none" stroke="#d6d6d6" stroke-width="1.10" stroke-linecap="round"/><path d="M689.1 474.6 C690.0 477.2 692.7 485.6 694.5 490.4 C696.4 495.2 699.1 501.3 700.0 503.5" fill="none" stroke="#e8e8e8" stroke-width="1.10" stroke-linecap="round"/><path d="M686.4 474.6 C687.6 477.2 691.0 485.5 693.3 490.4 C695.6 495.3 699.0 501.8 700.2 504.1" fill="none" stroke="#8a8a8a" stroke-width="1.10" stroke-linecap="round"/><path d="M690.9 473.4 C691.9 475.4 694.6 480.9 697.3 485.5 C700.0 490.1 705.4 498.4 707.0 501.0" fill="none" stroke="#d6d6d6" stroke-width="1.10" stroke-linecap="round"/><path d="M691.9 473.4 C692.6 475.4 693.1 480.8 696.0 485.5 C699.0 490.2 707.2 499.1 709.4 501.8" fill="none" stroke="#e8e8e8" stroke-width="1.10" stroke-linecap="round"/><path d="M692.6 472.3 C694.1 474.1 698.9 479.7 701.8 483.4 C704.8 487.0 709.1 492.2 710.5 494.0" fill="none" stroke="#8a8a8a" stroke-width="1.10" stroke-linecap="round"/><path d="M695.3 472.3 C696.3 474.1 698.7 479.9 701.6 483.4 C704.5 486.8 710.8 491.3 712.7 492.9" fill="none" stroke="#d6d6d6" stroke-width="1.10" stroke-linecap="round"/><path d="M694.3 471.1 C695.6 472.2 699.3 475.1 701.9 477.4 C704.5 479.7 708.7 483.7 710.0 485.0" fill="none" stroke="#e8e8e8" stroke-width="1.10" stroke-linecap="round"/><path d="M696.1 471.1 C697.1 472.2 699.9 474.4 702.0 477.4 C704.0 480.4 707.2 487.1 708.3 489.0" fill="none" stroke="#8a8a8a" stroke-width="1.10" stroke-linecap="round"/><path d="M696.0 470.0 C696.7 470.5 698.6 471.9 700.1 472.9 C701.6 473.9 704.2 475.5 705.0 476.0" fill="none" stroke="#d6d6d6" stroke-width="1.10" stroke-linecap="round"/><path d="M697.2 470.0 C698.1 470.5 701.5 471.6 702.8 472.9 C704.0 474.1 704.4 476.7 704.7 477.4" fill="none" stroke="#e8e8e8" stroke-width="1.10" stroke-linecap="round"/><path d="M722.0 470.0 C717.5 471.3 718.7 475.0 718.0 478.0 C717.3 481.0 717.3 485.0 718.0 488.0 C718.7 491.0 720.0 494.0 722.0 496.0 C724.0 498.0 727.0 499.3 730.0 500.0 C733.0 500.7 736.7 500.5 740.0 500.0 C743.3 499.5 747.3 498.7 750.0 497.0 C752.7 495.3 755.2 492.8 756.0 490.0 C756.8 487.2 755.7 483.0 755.0 480.0 C754.3 477.0 753.7 473.7 752.0 472.0 C750.3 470.3 750.0 470.3 745.0 470.0 C740.0 469.7 726.5 468.7 722.0 470.0Z" fill="#c4c4c4"/><path d="M722.0 470.0 C721.7 470.7 720.7 473.0 720.0 474.3 C719.3 475.6 718.3 477.4 718.0 478.0" fill="none" stroke="#eaeaea" stroke-width="1.10" stroke-linecap="round"/><path d="M721.2 470.0 C720.8 470.7 719.3 473.3 718.7 474.3 C718.0 475.3 717.4 475.7 717.1 476.0" fill="none" stroke="#8c8c8c" stroke-width="1.10" stroke-linecap="round"/><path d="M724.9 470.0 C724.3 471.7 722.6 477.3 721.5 480.3 C720.4 483.3 718.6 486.7 718.0 488.0" fill="none" stroke="#d8d8d8" stroke-width="1.10" stroke-linecap="round"/><path d="M723.4 470.0 C722.9 471.7 721.3 477.2 720.6 480.3 C719.8 483.5 719.2 487.3 719.0 488.7" fill="none" stroke="#eaeaea" stroke-width="1.10" stroke-linecap="round"/><path d="M727.8 470.0 C727.3 472.0 725.9 477.7 725.0 482.1 C724.0 486.4 722.5 493.7 722.0 496.0" fill="none" stroke="#8c8c8c" stroke-width="1.10" stroke-linecap="round"/><path d="M727.7 470.0 C727.4 472.0 727.4 477.9 726.0 482.1 C724.6 486.3 720.4 492.9 719.3 495.1" fill="none" stroke="#d8d8d8" stroke-width="1.10" stroke-linecap="round"/><path d="M730.6 470.0 C730.3 472.3 728.5 478.7 728.4 483.7 C728.3 488.7 729.7 497.3 730.0 500.0" fill="none" stroke="#eaeaea" stroke-width="1.10" stroke-linecap="round"/><path d="M725.1 470.0 C725.6 472.3 727.7 478.6 728.1 483.7 C728.5 488.8 727.6 497.7 727.5 500.5" fill="none" stroke="#8c8c8c" stroke-width="1.10" stroke-linecap="round"/><path d="M733.5 470.0 C734.1 472.5 735.8 479.8 736.9 484.8 C738.0 489.8 739.5 497.5 740.0 500.0" fill="none" stroke="#d8d8d8" stroke-width="1.10" stroke-linecap="round"/><path d="M725.9 470.0 C727.6 472.5 733.8 479.8 736.1 484.8 C738.4 489.9 739.3 497.7 739.9 500.2" fill="none" stroke="#eaeaea" stroke-width="1.10" stroke-linecap="round"/><path d="M736.4 470.0 C737.3 472.2 739.4 478.5 741.7 483.0 C743.9 487.5 748.6 494.7 750.0 497.0" fill="none" stroke="#8c8c8c" stroke-width="1.10" stroke-linecap="round"/><path d="M733.4 470.0 C734.6 472.2 737.3 478.8 740.4 483.0 C743.6 487.3 750.2 493.3 752.1 495.4" fill="none" stroke="#d8d8d8" stroke-width="1.10" stroke-linecap="round"/><path d="M739.2 470.0 C740.6 471.8 744.8 477.6 747.6 480.9 C750.4 484.2 754.6 488.5 756.0 490.0" fill="none" stroke="#eaeaea" stroke-width="1.10" stroke-linecap="round"/><path d="M737.5 470.0 C739.2 471.8 744.3 477.5 747.4 480.9 C750.5 484.2 754.8 488.6 756.2 490.1" fill="none" stroke="#8c8c8c" stroke-width="1.10" stroke-linecap="round"/><path d="M742.1 470.0 C743.0 470.8 745.2 473.4 747.3 475.1 C749.5 476.7 753.7 479.2 755.0 480.0" fill="none" stroke="#d8d8d8" stroke-width="1.10" stroke-linecap="round"/><path d="M746.2 470.0 C746.0 470.8 743.3 473.4 745.0 475.1 C746.8 476.8 754.8 479.4 756.7 480.2" fill="none" stroke="#eaeaea" stroke-width="1.10" stroke-linecap="round"/><path d="M745.0 470.0 C745.5 470.5 746.7 472.7 747.9 473.0 C749.0 473.3 751.3 472.2 752.0 472.0" fill="none" stroke="#8c8c8c" stroke-width="1.10" stroke-linecap="round"/><path d="M747.3 470.0 C747.1 470.5 745.2 472.5 746.1 473.0 C746.9 473.5 751.1 473.1 752.1 473.2" fill="none" stroke="#d8d8d8" stroke-width="1.10" stroke-linecap="round"/><path d="M735 488 L744 484 L746 490 L738 495Z" fill="#1d38b8"/>
<line x1="58.5" y1="142.5" x2="143.0" y2="142.5" stroke="#000" stroke-width="2.6" stroke-dasharray="5.5 2.6"/><line x1="71.5" y1="230.8" x2="125.0" y2="230.8" stroke="#000" stroke-width="2.6" stroke-dasharray="5.5 2.6"/><text x="34.7" y="145.8" font-family="'DejaVu Serif', serif" font-size="8.6" fill="#111" textLength="18.0" lengthAdjust="spacingAndGlyphs">100</text><text x="44.8" y="189.8" font-family="'DejaVu Serif', serif" font-size="8.6" fill="#111" textLength="12.3" lengthAdjust="spacingAndGlyphs">50</text><text x="61.5" y="233.6" font-family="'DejaVu Serif', serif" font-size="8.6" fill="#111" textLength="3.6" lengthAdjust="spacingAndGlyphs">1</text><line x1="511.3" y1="64.0" x2="511.3" y2="110.0" stroke="#000" stroke-width="2.6" stroke-dasharray="5.5 2.6"/><line x1="502.8" y1="119.0" x2="502.8" y2="165.0" stroke="#000" stroke-width="2.6" stroke-dasharray="5.5 2.6"/><text x="500.4" y="58.6" font-family="'DejaVu Serif', serif" font-size="8.6" fill="#111" textLength="18.0" lengthAdjust="spacingAndGlyphs">100</text><text x="445.7" y="117.2" font-family="'DejaVu Serif', serif" font-size="8.6" fill="#111" textLength="12.3" lengthAdjust="spacingAndGlyphs">50</text><text x="509.2" y="171.6" font-family="'DejaVu Serif', serif" font-size="8.6" fill="#111" textLength="3.6" lengthAdjust="spacingAndGlyphs">1</text><line x1="138.0" y1="410.0" x2="138.0" y2="506.0" stroke="#000" stroke-width="2.6" stroke-dasharray="5.5 2.6"/><line x1="319.0" y1="412.0" x2="319.0" y2="487.0" stroke="#000" stroke-width="2.6" stroke-dasharray="5.5 2.6"/><text x="129.6" y="409.4" font-family="'DejaVu Serif', serif" font-size="8.6" fill="#111" textLength="3.6" lengthAdjust="spacingAndGlyphs">1</text><text x="217.3" y="409.6" font-family="'DejaVu Serif', serif" font-size="8.6" fill="#111" textLength="12.3" lengthAdjust="spacingAndGlyphs">50</text><text x="309.1" y="407.7" font-family="'DejaVu Serif', serif" font-size="8.6" fill="#111" textLength="18.0" lengthAdjust="spacingAndGlyphs">100</text><line x1="483.7" y1="431.4" x2="519.2" y2="454.0" stroke="#000" stroke-width="2.6" stroke-dasharray="5.5 2.6"/><line x1="567.0" y1="431.4" x2="533.1" y2="454.0" stroke="#000" stroke-width="2.6" stroke-dasharray="5.5 2.6"/><text x="473.3" y="433.9" font-family="'DejaVu Serif', serif" font-size="8.6" fill="#111" textLength="3.6" lengthAdjust="spacingAndGlyphs">1</text><text x="572.4" y="434.6" font-family="'DejaVu Serif', serif" font-size="8.6" fill="#111" textLength="18.0" lengthAdjust="spacingAndGlyphs">100</text><text x="522.8" y="511.2" font-family="'DejaVu Serif', serif" font-size="8.6" fill="#111" textLength="12.3" lengthAdjust="spacingAndGlyphs">50</text><line x1="665.3" y1="489.8" x2="700.2" y2="466.5" stroke="#000" stroke-width="2.6" stroke-dasharray="5.5 2.6"/><line x1="726.5" y1="466.5" x2="761.4" y2="489.8" stroke="#000" stroke-width="2.6" stroke-dasharray="5.5 2.6"/><text x="654.9" y="493.2" font-family="'DejaVu Serif', serif" font-size="8.6" fill="#111" textLength="3.6" lengthAdjust="spacingAndGlyphs">1</text><text x="766.6" y="493.2" font-family="'DejaVu Serif', serif" font-size="8.6" fill="#111" textLength="18.0" lengthAdjust="spacingAndGlyphs">100</text><text x="709.7" y="399.2" font-family="'DejaVu Serif', serif" font-size="8.6" fill="#111" textLength="12.3" lengthAdjust="spacingAndGlyphs">50</text>
<defs><linearGradient id="cb" x1="0" y1="0" x2="0" y2="1"><stop offset="0.000" stop-color="#7f0000"/><stop offset="0.031" stop-color="#a90000"/><stop offset="0.062" stop-color="#bf0000"/><stop offset="0.094" stop-color="#d40000"/><stop offset="0.125" stop-color="#ff0000"/><stop offset="0.156" stop-color="#ff2a00"/><stop offset="0.188" stop-color="#ff3f00"/><stop offset="0.219" stop-color="#ff5500"/><stop offset="0.250" stop-color="#ff7f00"/><stop offset="0.281" stop-color="#ffa900"/><stop offset="0.312" stop-color="#ffbf00"/><stop offset="0.344" stop-color="#ffd400"/><stop offset="0.375" stop-color="#ffff00"/><stop offset="0.406" stop-color="#d4ff2a"/><stop offset="0.438" stop-color="#bfff3f"/><stop offset="0.469" stop-color="#a9ff55"/><stop offset="0.500" stop-color="#7fff7f"/><stop offset="0.531" stop-color="#54ffaa"/><stop offset="0.562" stop-color="#3fffbf"/><stop offset="0.594" stop-color="#2affd4"/><stop offset="0.625" stop-color="#00ffff"/><stop offset="0.656" stop-color="#00d4ff"/><stop offset="0.688" stop-color="#00bfff"/><stop offset="0.719" stop-color="#00aaff"/><stop offset="0.750" stop-color="#007fff"/><stop offset="0.781" stop-color="#0055ff"/><stop offset="0.812" stop-color="#003fff"/><stop offset="0.844" stop-color="#002aff"/><stop offset="0.875" stop-color="#0000ff"/><stop offset="0.906" stop-color="#0000d4"/><stop offset="0.938" stop-color="#0000bf"/><stop offset="0.969" stop-color="#0000aa"/><stop offset="1.000" stop-color="#00007f"/></linearGradient></defs><rect x="753" y="8.5" width="22.5" height="162.5" fill="url(#cb)" stroke="#333" stroke-width="1"/><text x="777.5" y="17" font-family="'Liberation Serif', serif" font-size="15" fill="#111" textLength="27.5" lengthAdjust="spacingAndGlyphs">0.60</text><text x="777.5" y="93" font-family="'Liberation Serif', serif" font-size="15" fill="#111" textLength="27.5" lengthAdjust="spacingAndGlyphs">0.45</text><text x="777.5" y="171" font-family="'Liberation Serif', serif" font-size="15" fill="#111" textLength="27.5" lengthAdjust="spacingAndGlyphs">0.30</text><text transform="translate(748.5 92.5) rotate(-90)" text-anchor="middle" font-family="'Liberation Serif', serif" font-size="14.6" fill="#3a3a3a">Fractional Anisotropy</text>
<clipPath id="g179_158"><rect x="179.4" y="35.9" width="160" height="121.9"/></clipPath>
<g clip-path="url(#g179_158)" fill="none" stroke="#9d9d9d" stroke-width="1.1" stroke-linejoin="round"><path d="M179.4 94.0l3.5 -2.8l3.5 -2.4l3.5 -0.9l3.5 0.4l3.5 1l3.5 1.1l3.5 0.8l3.5 0.2l3.5 -0.4l3.5 -0.8l3.5 -1l3.5 -1.2l3.5 -1.4l3.5 -1.2l3.5 -0.9l3.5 -0.5l3.5 -0.2l3.5 -0.2l3.5 -0.8l3.5 -1.6l3.5 -2.1l3.5 -2.2l3.5 -1.9l3.5 -1.2l3.5 -0.3l3.5 0.5l3.5 1.1l3.5 1.3l3.5 1.5l3.5 2.1l3.5 2.7l3.5 2.6l3.5 1.8l3.5 0.9l3.5 0.5l3.5 0.5l3.5 1.1l3.5 1.8l3.5 2.4l3.5 3l3.5 3.5l3.5 3.6l3.5 3.6l3.5 2.8"/><path d="M179.4 91.2l3.5 0l3.5 1.8l3.5 3l3.5 2.5l3.5 0.1l3.5 -2.7l3.5 -4.7l3.5 -5.1l3.5 -3.6l3.5 -0.9l3.5 2.1l3.5 4l3.5 4.1l3.5 2.5l3.5 -0.2l3.5 -3l3.5 -4.8l3.5 -5.2l3.5 -4.1l3.5 -1.8l3.5 0.8l3.5 2.8l3.5 3.3l3.5 2.2l3.5 -0.2l3.5 -3l3.5 -4.9l3.5 -5.1l3.5 -3.2l3.5 0.7l3.5 5.2l3.5 8.1l3.5 8.5l3.5 6.4l3.5 3.2l3.5 0.9l3.5 -2.3l3.5 -4.5l3.5 -4.2l3.5 -1l3.5 4.3l3.5 9.7l3.5 12.7l3.5 11.4"/><path d="M179.4 103.0l3.5 -4.9l3.5 -4.7l3.5 -2.8l3.5 -0.6l3.5 1.2l3.5 2.5l3.5 3.1l3.5 2.9l3.5 1.9l3.5 0.5l3.5 -1.2l3.5 -3l3.5 -4.4l3.5 -4.9l3.5 -4.3l3.5 -2.8l3.5 -0.8l3.5 1l3.5 1.9l3.5 2l3.5 1.4l3.5 0.2l3.5 -1.2l3.5 -2.4l3.5 -3l3.5 -3l3.5 -2.3l3.5 -0.9l3.5 1.1l3.5 3.6l3.5 5.8l3.5 6.5l3.5 5.5l3.5 3.5l3.5 1.4l3.5 1.1l3.5 -0.2l3.5 -1.2l3.5 -1.3l3.5 -0.1l3.5 2.4l3.5 5.4l3.5 8.3l3.5 9.7"/><path d="M179.4 100.2l3.5 -3.7l3.5 -4.8l3.5 -4l3.5 -2.2l3.5 -0.1l3.5 2l3.5 3.6l3.5 4.5l3.5 4.2l3.5 2.9l3.5 0.9l3.5 -1.6l3.5 -3.7l3.5 -4.8l3.5 -4.5l3.5 -3.1l3.5 -0.9l3.5 1.2l3.5 2.3l3.5 2.3l3.5 1.3l3.5 -0.2l3.5 -2l3.5 -3.3l3.5 -3.9l3.5 -3.6l3.5 -2.4l3.5 -0.6l3.5 1.4l3.5 3.6l3.5 5.1l3.5 4.9l3.5 3.2l3.5 0.7l3.5 -1.3l3.5 -2.2l3.5 -2.6l3.5 -1.9l3.5 -0l3.5 2.8l3.5 5.8l3.5 7.8l3.5 8.2l3.5 6.3"/><path d="M179.4 103.0l3.5 0.9l3.5 -0.8l3.5 -2.1l3.5 -3.2l3.5 -4.1l3.5 -3.9l3.5 -2.5l3.5 -0.1l3.5 2.5l3.5 4.6l3.5 5.4l3.5 4.5l3.5 1.8l3.5 -1.5l3.5 -4.6l3.5 -6.5l3.5 -6.8l3.5 -5.6l3.5 -3.3l3.5 -0.6l3.5 1.9l3.5 3.5l3.5 3.7l3.5 2.5l3.5 0.3l3.5 -2.1l3.5 -4l3.5 -4.5l3.5 -3.3l3.5 -0.2l3.5 3.6l3.5 6.5l3.5 7.5l3.5 6.6l3.5 4.7l3.5 4l3.5 1.4l3.5 -1.7l3.5 -3.9l3.5 -4.1l3.5 -1.7l3.5 2.7l3.5 7.8l3.5 11.5"/><path d="M179.4 98.3l3.5 -1.7l3.5 -2l3.5 -1.3l3.5 -0.4l3.5 0.1l3.5 0.4l3.5 0.6l3.5 0.5l3.5 0.3l3.5 -0l3.5 -0.5l3.5 -1.2l3.5 -1.9l3.5 -2.2l3.5 -2.1l3.5 -1.4l3.5 -0.6l3.5 -0.1l3.5 -0.1l3.5 -0.5l3.5 -1.2l3.5 -1.8l3.5 -2.2l3.5 -2.2l3.5 -1.8l3.5 -1l3.5 0.1l3.5 1.2l3.5 2.3l3.5 3.7l3.5 4.7l3.5 4.4l3.5 2.9l3.5 0.9l3.5 -0.6l3.5 -0.9l3.5 -1l3.5 -0.2l3.5 1.3l3.5 3.6l3.5 6l3.5 7.9l3.5 8.7l3.5 7.4"/><path d="M179.4 103.4l3.5 0.9l3.5 0.8l3.5 1.2l3.5 1.1l3.5 0.4l3.5 -0.6l3.5 -1.5l3.5 -2.2l3.5 -2.5l3.5 -2.3l3.5 -1.9l3.5 -1.5l3.5 -1.2l3.5 -0.7l3.5 -0.1l3.5 0.5l3.5 1l3.5 1l3.5 0.4l3.5 -0.5l3.5 -1.5l3.5 -2.3l3.5 -2.8l3.5 -2.8l3.5 -2.4l3.5 -1.7l3.5 -0.8l3.5 0.3l3.5 1.6l3.5 3.4l3.5 5l3.5 5.4l3.5 4.7l3.5 3.2l3.5 1.8l3.5 2.8l3.5 2.3l3.5 1.5l3.5 0.8l3.5 0.5l3.5 0.9l3.5 1.8l3.5 3.1l3.5 4.1"/><path d="M179.4 96.3l3.5 -6.2l3.5 -5.2l3.5 -2.6l3.5 0.2l3.5 2.2l3.5 3.5l3.5 3.9l3.5 3.3l3.5 2l3.5 0.3l3.5 -1.5l3.5 -3.3l3.5 -4.5l3.5 -4.7l3.5 -3.8l3.5 -2.2l3.5 -0.1l3.5 1.7l3.5 2.5l3.5 2.4l3.5 1.5l3.5 0.1l3.5 -1.5l3.5 -2.9l3.5 -3.8l3.5 -4l3.5 -3.4l3.5 -1.9l3.5 0.2l3.5 3l3.5 5.6l3.5 6.9l3.5 6.5l3.5 4.9l3.5 3l3.5 2.2l3.5 0.6l3.5 -1.2l3.5 -2.7l3.5 -3.1l3.5 -2.1l3.5 0l3.5 2.9l3.5 5.5"/><path d="M179.4 86.9l3.5 -0.7l3.5 -0.2l3.5 0.8l3.5 1.2l3.5 0.9l3.5 0.3l3.5 0l3.5 0l3.5 0.4l3.5 0.9l3.5 1.3l3.5 1l3.5 0l3.5 -1.3l3.5 -2.5l3.5 -3.5l3.5 -3.9l3.5 -3.8l3.5 -3.4l3.5 -2.6l3.5 -1.5l3.5 -0.2l3.5 1l3.5 1.8l3.5 2.1l3.5 2l3.5 1.5l3.5 0.9l3.5 0.5l3.5 0.8l3.5 1.4l3.5 1.5l3.5 0.9l3.5 0l3.5 -0.2l3.5 -0.5l3.5 0.5l3.5 1.9l3.5 3.5l3.5 5.1l3.5 6.4l3.5 6.8l3.5 6.1l3.5 4.1"/><path d="M179.4 91.2l3.5 -2.4l3.5 -2.3l3.5 -1.3l3.5 -0.5l3.5 -0.1l3.5 0l3.5 0.1l3.5 0.3l3.5 0.6l3.5 0.9l3.5 1.2l3.5 1.2l3.5 0.8l3.5 0.4l3.5 0.1l3.5 -0l3.5 -0.1l3.5 -0.2l3.5 -0.7l3.5 -1.2l3.5 -1.5l3.5 -1.5l3.5 -1.3l3.5 -0.9l3.5 -0.4l3.5 -0.1l3.5 0.1l3.5 0.1l3.5 0.3l3.5 1l3.5 1.8l3.5 2l3.5 1.4l3.5 0.7l3.5 0.5l3.5 0.8l3.5 1.5l3.5 2.3l3.5 2.8l3.5 3.1l3.5 2.9l3.5 2.3l3.5 1.2l3.5 -0.6"/><path d="M179.4 94.1l3.5 -3.4l3.5 -2.6l3.5 -0.7l3.5 1.1l3.5 1.9l3.5 1.9l3.5 1.4l3.5 0.5l3.5 -0.5l3.5 -1.2l3.5 -1.5l3.5 -1.6l3.5 -1.6l3.5 -1.2l3.5 -0.8l3.5 -0.4l3.5 -0.3l3.5 -0.7l3.5 -1.6l3.5 -2.4l3.5 -2.8l3.5 -2.7l3.5 -1.9l3.5 -0.6l3.5 0.7l3.5 1.6l3.5 2.1l3.5 2.1l3.5 1.9l3.5 2.1l3.5 2.4l3.5 2.1l3.5 1.4l3.5 0.6l3.5 0.4l3.5 0.6l3.5 1.1l3.5 1.5l3.5 1.7l3.5 1.9l3.5 2.2l3.5 2.7l3.5 3.6l3.5 4.1"/><path d="M179.4 88.5l3.5 -1.2l3.5 -0.2l3.5 1.4l3.5 2.6l3.5 2.7l3.5 2.2l3.5 1.3l3.5 0.2l3.5 -0.8l3.5 -1.6l3.5 -2.1l3.5 -2.6l3.5 -3.1l3.5 -3.1l3.5 -2.7l3.5 -1.9l3.5 -1l3.5 -0.2l3.5 0.1l3.5 0.2l3.5 0.2l3.5 0.2l3.5 0.2l3.5 0.1l3.5 0l3.5 -0.1l3.5 -0.4l3.5 -0.5l3.5 -0.4l3.5 0.5l3.5 1.7l3.5 2.2l3.5 2l3.5 1.5l3.5 1.4l3.5 1.5l3.5 2.3l3.5 3.2l3.5 3.8l3.5 4.3l3.5 4.6l3.5 4.4l3.5 3.8l3.5 2.2"/><path d="M179.4 108.2l3.5 -0.1l3.5 -0.9l3.5 -0.9l3.5 -0.9l3.5 -1.1l3.5 -1.4l3.5 -1.5l3.5 -1.4l3.5 -1.2l3.5 -0.9l3.5 -0.7l3.5 -1l3.5 -1.7l3.5 -2.2l3.5 -2.4l3.5 -2.2l3.5 -1.7l3.5 -0.9l3.5 -0.3l3.5 0.4l3.5 1l3.5 1.4l3.5 1.6l3.5 1.5l3.5 0.9l3.5 -0.1l3.5 -1.2l3.5 -2.3l3.5 -2.8l3.5 -2.1l3.5 -0.8l3.5 0.4l3.5 1.2l3.5 1.7l3.5 2.6l3.5 3.7l3.5 5.4l3.5 6.6l3.5 6.9l3.5 6.7l3.5 6l3.5 5.2l3.5 4.6l3.5 4.2"/><path d="M179.4 101.5l3.5 -1.3l3.5 -1.9l3.5 -1.4l3.5 -0.7l3.5 -0.4l3.5 -0.2l3.5 0l3.5 0.3l3.5 0.6l3.5 0.8l3.5 0.9l3.5 0.5l3.5 -0.4l3.5 -1.4l3.5 -2.4l3.5 -3.2l3.5 -3.7l3.5 -4l3.5 -4.1l3.5 -3.8l3.5 -2.9l3.5 -1.5l3.5 0.1l3.5 1.7l3.5 2.8l3.5 3.3l3.5 3l3.5 2.2l3.5 1.4l3.5 1.2l3.5 1.4l3.5 1.4l3.5 1l3.5 0.6l3.5 0.9l3.5 2.1l3.5 3.4l3.5 4.6l3.5 5.3l3.5 5.5l3.5 5.2l3.5 4.3l3.5 3.1l3.5 1.1"/><path d="M179.4 99.8l3.5 -0.8l3.5 -1.3l3.5 -0.9l3.5 -0.3l3.5 -0.1l3.5 -0l3.5 -0l3.5 -0.2l3.5 -0.5l3.5 -0.9l3.5 -1.3l3.5 -1.8l3.5 -2.3l3.5 -2.3l3.5 -1.8l3.5 -0.9l3.5 0.1l3.5 0.7l3.5 0.5l3.5 -0.1l3.5 -1l3.5 -1.8l3.5 -2.2l3.5 -2.2l3.5 -1.8l3.5 -1.1l3.5 -0.3l3.5 0.4l3.5 1.1l3.5 2.1l3.5 2.9l3.5 3l3.5 2.3l3.5 1.4l3.5 1.3l3.5 1.8l3.5 3.1l3.5 4.3l3.5 5l3.5 4.8l3.5 3.6l3.5 1.5l3.5 -0.9l3.5 -3.4"/><path d="M179.4 105.5l3.5 -1.4l3.5 -1.5l3.5 -0.7l3.5 -0l3.5 0.2l3.5 0.2l3.5 0.2l3.5 0.2l3.5 0.1l3.5 -0.1l3.5 -0.3l3.5 -0.9l3.5 -1.7l3.5 -2.3l3.5 -2.6l3.5 -2.5l3.5 -2.2l3.5 -1.8l3.5 -1.8l3.5 -1.8l3.5 -1.9l3.5 -1.9l3.5 -1.7l3.5 -1.5l3.5 -1.2l3.5 -0.8l3.5 -0.5l3.5 0l3.5 0.8l3.5 2.2l3.5 3.7l3.5 4.3l3.5 4l3.5 3.1l3.5 2.5l3.5 3l3.5 3.2l3.5 3.1l3.5 2.8l3.5 2.5l3.5 2.4l3.5 2.5l3.5 2.8l3.5 2.9"/><path d="M179.4 91.5l3.5 -1.1l3.5 -1.1l3.5 -0.3l3.5 0.5l3.5 0.8l3.5 0.9l3.5 0.9l3.5 0.9l3.5 0.9l3.5 0.7l3.5 0.5l3.5 -0l3.5 -0.9l3.5 -1.5l3.5 -1.8l3.5 -1.7l3.5 -1.4l3.5 -1l3.5 -0.9l3.5 -0.9l3.5 -0.8l3.5 -0.8l3.5 -0.6l3.5 -0.5l3.5 -0.3l3.5 -0.3l3.5 -0.3l3.5 -0.3l3.5 -0l3.5 0.8l3.5 1.9l3.5 2.2l3.5 1.7l3.5 0.8l3.5 0.4l3.5 0.2l3.5 0.4l3.5 0.7l3.5 0.8l3.5 0.9l3.5 1.1l3.5 1.1l3.5 1l3.5 0.4"/><path d="M179.4 102.4l3.5 2.9l3.5 -1.1l3.5 -4.1l3.5 -5.9l3.5 -6.4l3.5 -5l3.5 -2.3l3.5 0.8l3.5 3.3l3.5 4.5l3.5 4l3.5 1.8l3.5 -1.2l3.5 -3.8l3.5 -5l3.5 -4.6l3.5 -2.9l3.5 -0.8l3.5 0.8l3.5 1.3l3.5 0.7l3.5 -0.9l3.5 -2.8l3.5 -4.3l3.5 -4.6l3.5 -3.5l3.5 -1.2l3.5 1.8l3.5 4.8l3.5 7.3l3.5 8.2l3.5 6.7l3.5 3.3l3.5 -0.9l3.5 -3.9l3.5 -5.7l3.5 -6l3.5 -3.7l3.5 0.6l3.5 6l3.5 10.7l3.5 12.9l3.5 11.9l3.5 7.4"/><path d="M179.4 92.6l3.5 -2.6l3.5 -3.3l3.5 -2.5l3.5 -1.1l3.5 0.1l3.5 1.2l3.5 1.9l3.5 1.9l3.5 1.2l3.5 0.2l3.5 -1.1l3.5 -2.4l3.5 -3.2l3.5 -3.1l3.5 -2.1l3.5 -0.6l3.5 1l3.5 2.1l3.5 2l3.5 1.1l3.5 -0.3l3.5 -1.5l3.5 -2.3l3.5 -2.4l3.5 -1.7l3.5 -0.7l3.5 0.5l3.5 1.5l3.5 2.3l3.5 3.1l3.5 3.7l3.5 3.4l3.5 2.3l3.5 1.3l3.5 1l3.5 1.9l3.5 3l3.5 3.8l3.5 3.9l3.5 3l3.5 1.4l3.5 -0.7l3.5 -2.5l3.5 -3.6"/><path d="M179.4 98.7l3.5 -1.6l3.5 -1.4l3.5 -0.3l3.5 0.5l3.5 0.7l3.5 0.5l3.5 0.1l3.5 -0.3l3.5 -0.6l3.5 -0.7l3.5 -0.8l3.5 -1l3.5 -1.4l3.5 -1.7l3.5 -1.9l3.5 -1.8l3.5 -1.7l3.5 -1.5l3.5 -1.6l3.5 -1.7l3.5 -1.5l3.5 -1.2l3.5 -0.7l3.5 -0.2l3.5 0.1l3.5 0.2l3.5 0.1l3.5 -0.1l3.5 -0l3.5 0.9l3.5 2.1l3.5 2.8l3.5 2.8l3.5 2.3l3.5 2l3.5 2.1l3.5 2.4l3.5 2.4l3.5 2.2l3.5 1.9l3.5 2l3.5 2.2l3.5 2.7l3.5 2.9"/><path d="M179.4 103.1l3.5 -2.3l3.5 -2.9l3.5 -2.4l3.5 -1.8l3.5 -1.4l3.5 -1.1l3.5 -0.7l3.5 -0.3l3.5 0.1l3.5 0.4l3.5 0.5l3.5 0.1l3.5 -0.7l3.5 -1.3l3.5 -1.8l3.5 -2l3.5 -1.8l3.5 -1.7l3.5 -1.6l3.5 -1.6l3.5 -1.4l3.5 -0.9l3.5 -0.4l3.5 0.3l3.5 0.9l3.5 1.2l3.5 1.4l3.5 1.3l3.5 1.3l3.5 1.8l3.5 2.3l3.5 2.2l3.5 1.3l3.5 0.2l3.5 -0.4l3.5 -0.5l3.5 -0.2l3.5 0.4l3.5 1.1l3.5 2.2l3.5 3.4l3.5 4.5l3.5 5.4l3.5 5.5"/><path d="M179.4 94.8l3.5 -0l3.5 -0.7l3.5 -0.3l3.5 0.2l3.5 0.4l3.5 0.6l3.5 0.8l3.5 0.9l3.5 0.7l3.5 0.1l3.5 -0.8l3.5 -2.3l3.5 -3.9l3.5 -4.9l3.5 -5l3.5 -4.2l3.5 -2.5l3.5 -0.5l3.5 1.2l3.5 2.4l3.5 3l3.5 2.9l3.5 2.1l3.5 0.7l3.5 -0.9l3.5 -2.4l3.5 -3.3l3.5 -3.5l3.5 -2.6l3.5 -0.3l3.5 2.4l3.5 4.5l3.5 5.4l3.5 5.2l3.5 4.6l3.5 4.6l3.5 4.1l3.5 2.8l3.5 1l3.5 -0.5l3.5 -1.3l3.5 -1.3l3.5 -0.4l3.5 0.4"/><path d="M179.4 96.3l3.5 -1.1l3.5 -1.2l3.5 -0.4l3.5 0.5l3.5 1l3.5 1.3l3.5 1.6l3.5 1.8l3.5 1.8l3.5 1.6l3.5 1l3.5 -0.2l3.5 -1.7l3.5 -3.1l3.5 -3.9l3.5 -4.1l3.5 -3.6l3.5 -2.7l3.5 -1.9l3.5 -1.1l3.5 -0.3l3.5 0.2l3.5 0.4l3.5 0.2l3.5 -0.3l3.5 -1l3.5 -1.7l3.5 -2.1l3.5 -1.9l3.5 -0.6l3.5 1.3l3.5 2.7l3.5 3.3l3.5 3.4l3.5 3.5l3.5 3.8l3.5 4.5l3.5 4.6l3.5 4.1l3.5 3.5l3.5 2.9l3.5 2.5l3.5 2.6l3.5 2.8"/><path d="M179.4 83.6l3.5 1l3.5 1.6l3.5 2.2l3.5 2.2l3.5 1.2l3.5 0.1l3.5 -0.7l3.5 -1l3.5 -0.6l3.5 0.2l3.5 1.1l3.5 1.5l3.5 1.2l3.5 0.4l3.5 -0.8l3.5 -1.9l3.5 -2.9l3.5 -3.6l3.5 -3.9l3.5 -3.6l3.5 -2.5l3.5 -0.9l3.5 0.8l3.5 2.3l3.5 3.2l3.5 3.3l3.5 2.6l3.5 1.5l3.5 0.4l3.5 0.2l3.5 0.6l3.5 0.9l3.5 0.9l3.5 0.8l3.5 1l3.5 1.9l3.5 2.4l3.5 2.1l3.5 1l3.5 -0.7l3.5 -2.5l3.5 -3.9l3.5 -4.2l3.5 -3.7"/><path d="M179.4 84.8l3.5 0.2l3.5 0.5l3.5 1.5l3.5 2.4l3.5 2.5l3.5 2.2l3.5 1.8l3.5 1.2l3.5 0.5l3.5 -0.3l3.5 -1.1l3.5 -2.2l3.5 -3.4l3.5 -4.2l3.5 -4.5l3.5 -4.3l3.5 -3.6l3.5 -2.6l3.5 -1.8l3.5 -1.1l3.5 -0.2l3.5 0.6l3.5 1.4l3.5 2.2l3.5 2.7l3.5 2.9l3.5 2.9l3.5 2.7l3.5 2.5l3.5 2.9l3.5 3.2l3.5 2.9l3.5 1.6l3.5 0.1l3.5 -0.9l3.5 -0.9l3.5 -1.3l3.5 -1.7l3.5 -1.9l3.5 -1.8l3.5 -1.2l3.5 -0.5l3.5 0.5l3.5 1.2"/><path d="M179.4 101.6l3.5 -4.2l3.5 -4.2l3.5 -3.1l3.5 -1.8l3.5 -0.8l3.5 0.1l3.5 0.9l3.5 1.7l3.5 2.4l3.5 2.9l3.5 3l3.5 2.5l3.5 1.6l3.5 0.6l3.5 -0.2l3.5 -0.8l3.5 -1.1l3.5 -1.4l3.5 -1.8l3.5 -2.2l3.5 -2.4l3.5 -2.4l3.5 -2.2l3.5 -1.8l3.5 -1.3l3.5 -0.9l3.5 -0.5l3.5 -0.1l3.5 0.4l3.5 1.5l3.5 2.7l3.5 3.1l3.5 2.6l3.5 1.6l3.5 1l3.5 1.7l3.5 1.8l3.5 1.8l3.5 1.5l3.5 1.2l3.5 0.9l3.5 0.6l3.5 0.4l3.5 -0.2"/><path d="M179.4 94.4l3.5 -1.7l3.5 -1.9l3.5 -1.1l3.5 -0.5l3.5 -0.5l3.5 -0.7l3.5 -0.8l3.5 -0.9l3.5 -0.8l3.5 -0.5l3.5 -0.1l3.5 -0l3.5 -0.3l3.5 -0.4l3.5 -0.5l3.5 -0.5l3.5 -0.4l3.5 -0.5l3.5 -0.8l3.5 -1.2l3.5 -1.5l3.5 -1.5l3.5 -1.3l3.5 -1l3.5 -0.7l3.5 -0.5l3.5 -0.4l3.5 -0.4l3.5 -0.2l3.5 0.8l3.5 2l3.5 2.7l3.5 2.7l3.5 2.3l3.5 2.3l3.5 2.3l3.5 3.1l3.5 3.7l3.5 3.7l3.5 3.3l3.5 2.6l3.5 1.7l3.5 0.8l3.5 -0.2"/><path d="M179.4 92.4l3.5 -1.4l3.5 -1.4l3.5 -0.4l3.5 0.6l3.5 1.1l3.5 1.3l3.5 1.4l3.5 1.4l3.5 1.2l3.5 0.9l3.5 0.4l3.5 -0.5l3.5 -1.6l3.5 -2.5l3.5 -2.9l3.5 -2.9l3.5 -2.4l3.5 -1.7l3.5 -1.3l3.5 -0.9l3.5 -0.4l3.5 0l3.5 0.4l3.5 0.6l3.5 0.7l3.5 0.6l3.5 0.4l3.5 0.1l3.5 0l3.5 0.7l3.5 1.7l3.5 2.1l3.5 1.8l3.5 1.2l3.5 1l3.5 1.7l3.5 2.5l3.5 3.3l3.5 3.9l3.5 4.4l3.5 4.6l3.5 4.5l3.5 4l3.5 2.9"/><path d="M179.4 83.4l3.5 -0.1l3.5 0.1l3.5 0.8l3.5 1.2l3.5 0.9l3.5 0.3l3.5 -0.1l3.5 -0.4l3.5 -0.3l3.5 -0.1l3.5 0.3l3.5 0.3l3.5 -0l3.5 -0.5l3.5 -0.9l3.5 -1.3l3.5 -1.7l3.5 -2.1l3.5 -2.6l3.5 -3.1l3.5 -3.1l3.5 -2.7l3.5 -2l3.5 -0.9l3.5 0.2l3.5 1.1l3.5 1.6l3.5 1.9l3.5 2.1l3.5 2.8l3.5 3.4l3.5 3.4l3.5 2.7l3.5 1.8l3.5 1.5l3.5 1.6l3.5 2.5l3.5 3.3l3.5 3.7l3.5 3.7l3.5 3l3.5 1.5l3.5 -0.4l3.5 -3"/><path d="M179.4 87.7l3.5 -0.8l3.5 -0.7l3.5 0.4l3.5 1.3l3.5 1.5l3.5 1.2l3.5 0.8l3.5 0.2l3.5 -0.4l3.5 -0.9l3.5 -1.3l3.5 -1.9l3.5 -2.5l3.5 -2.9l3.5 -2.9l3.5 -2.7l3.5 -2.2l3.5 -1.7l3.5 -1.4l3.5 -1.1l3.5 -0.7l3.5 -0l3.5 0.7l3.5 1.4l3.5 1.8l3.5 1.9l3.5 1.6l3.5 1l3.5 0.6l3.5 0.9l3.5 1.5l3.5 1.7l3.5 1.4l3.5 0.9l3.5 0.8l3.5 0.4l3.5 0.8l3.5 0.8l3.5 0.4l3.5 -0.2l3.5 -0.7l3.5 -0.7l3.5 -0l3.5 1"/><path d="M179.4 92.7l3.5 1l3.5 -0.1l3.5 -0.6l3.5 -1.1l3.5 -1.6l3.5 -1.7l3.5 -1.2l3.5 -0.2l3.5 0.9l3.5 1.8l3.5 2.1l3.5 1.4l3.5 -0.2l3.5 -1.8l3.5 -3.2l3.5 -3.9l3.5 -3.8l3.5 -3.2l3.5 -2.3l3.5 -1.4l3.5 -0.4l3.5 0.3l3.5 0.6l3.5 0.7l3.5 0.4l3.5 -0l3.5 -0.4l3.5 -0.4l3.5 0.1l3.5 1.5l3.5 3.1l3.5 3.9l3.5 3.5l3.5 2.6l3.5 1.7l3.5 1.3l3.5 1.3l3.5 1.3l3.5 1.4l3.5 1.9l3.5 2.6l3.5 3.1l3.5 3.2l3.5 2.2"/><path d="M179.4 87.7l3.5 -2.8l3.5 -1.2l3.5 1.2l3.5 3.2l3.5 4l3.5 3.9l3.5 3l3.5 1.6l3.5 -0l3.5 -1.5l3.5 -2.6l3.5 -3.4l3.5 -3.8l3.5 -3.5l3.5 -2.5l3.5 -1.3l3.5 -0.1l3.5 0.6l3.5 0.4l3.5 -0.4l3.5 -1.4l3.5 -2.4l3.5 -3l3.5 -3l3.5 -2.4l3.5 -1.2l3.5 0.2l3.5 1.8l3.5 3.3l3.5 5l3.5 6.2l3.5 5.9l3.5 4.1l3.5 1.7l3.5 -0.4l3.5 -1.2l3.5 -2.3l3.5 -2.8l3.5 -2.5l3.5 -1l3.5 1.3l3.5 3.8l3.5 5.9l3.5 6.5"/><path d="M179.4 101.1l3.5 -1.5l3.5 -1.7l3.5 -0.9l3.5 -0.1l3.5 0.3l3.5 0.3l3.5 0.1l3.5 -0.2l3.5 -0.6l3.5 -1l3.5 -1.3l3.5 -1.9l3.5 -2.4l3.5 -2.5l3.5 -2l3.5 -1.1l3.5 0.1l3.5 1l3.5 1.3l3.5 1.1l3.5 0.5l3.5 -0.3l3.5 -1.2l3.5 -2l3.5 -2.5l3.5 -2.8l3.5 -2.5l3.5 -1.8l3.5 -0.5l3.5 1.7l3.5 3.9l3.5 5.3l3.5 5.3l3.5 4.5l3.5 3.6l3.5 4l3.5 3.5l3.5 2.3l3.5 0.9l3.5 -0.3l3.5 -0.9l3.5 -0.8l3.5 0.1l3.5 1.2"/><path d="M179.4 115.2l3.5 -2l3.5 -4.2l3.5 -5l3.5 -5.1l3.5 -4.6l3.5 -3.3l3.5 -1.5l3.5 0.4l3.5 1.6l3.5 1.8l3.5 1l3.5 -0.8l3.5 -2.9l3.5 -4.3l3.5 -4.3l3.5 -3l3.5 -0.6l3.5 1.9l3.5 3.6l3.5 4.2l3.5 3.7l3.5 2.3l3.5 0.4l3.5 -1.2l3.5 -2.1l3.5 -2.1l3.5 -1.3l3.5 -0l3.5 1.4l3.5 2.8l3.5 3.5l3.5 2.7l3.5 0.7l3.5 -1.4l3.5 -2.4l3.5 -1.6l3.5 -0l3.5 2.7l3.5 6l3.5 8.8l3.5 10.2l3.5 9.5l3.5 6.9l3.5 2.7"/><path d="M179.4 89.1l3.5 -0.9l3.5 -0.5l3.5 0.8l3.5 1.7l3.5 1.8l3.5 1.4l3.5 0.8l3.5 0.1l3.5 -0.7l3.5 -1.4l3.5 -1.9l3.5 -2.5l3.5 -3.1l3.5 -3.2l3.5 -2.8l3.5 -2.1l3.5 -1.2l3.5 -0.4l3.5 -0.1l3.5 -0.2l3.5 -0.6l3.5 -1l3.5 -1.3l3.5 -1.6l3.5 -1.7l3.5 -1.6l3.5 -1.3l3.5 -0.7l3.5 0.3l3.5 2l3.5 3.8l3.5 4.7l3.5 4.6l3.5 3.8l3.5 3.1l3.5 2.5l3.5 2.4l3.5 2.1l3.5 1.5l3.5 1l3.5 0.8l3.5 0.9l3.5 1.4l3.5 1.8"/><path d="M179.4 96.4l3.5 -2.1l3.5 -3.3l3.5 -2.6l3.5 -1.1l3.5 0.5l3.5 2l3.5 2.8l3.5 2.6l3.5 1.5l3.5 -0.3l3.5 -2.2l3.5 -4l3.5 -5l3.5 -4.7l3.5 -3.2l3.5 -1l3.5 1.2l3.5 2.5l3.5 2.4l3.5 1.1l3.5 -0.7l3.5 -2.5l3.5 -3.6l3.5 -3.6l3.5 -2.7l3.5 -1.2l3.5 0.4l3.5 1.5l3.5 2.1l3.5 2.5l3.5 2.4l3.5 1.5l3.5 0.1l3.5 -0.7l3.5 -0.3l3.5 -0l3.5 2.5l3.5 5.4l3.5 7.3l3.5 7.6l3.5 5.9l3.5 2.4l3.5 -1.6l3.5 -5.4"/><path d="M179.4 103.8l3.5 -1.2l3.5 -1.4l3.5 -0.9l3.5 -0.5l3.5 -0.5l3.5 -0.6l3.5 -0.5l3.5 -0.2l3.5 0.4l3.5 1l3.5 1.6l3.5 1.5l3.5 0.8l3.5 -0.1l3.5 -1.1l3.5 -2.2l3.5 -3.1l3.5 -3.8l3.5 -4.5l3.5 -4.8l3.5 -4.3l3.5 -3.2l3.5 -1.5l3.5 0.4l3.5 2.3l3.5 3.6l3.5 4.3l3.5 4.3l3.5 3.7l3.5 3.3l3.5 2.8l3.5 1.6l3.5 -0.1l3.5 -1.6l3.5 -2l3.5 -0.8l3.5 0.4l3.5 2.2l3.5 4.3l3.5 6.5l3.5 8.2l3.5 8.9l3.5 8.5l3.5 6.5"/><path d="M179.4 103.5l3.5 -4.5l3.5 -5.7l3.5 -4.8l3.5 -2.9l3.5 -0.7l3.5 1.6l3.5 3.5l3.5 4.5l3.5 4.2l3.5 2.7l3.5 0.1l3.5 -3.4l3.5 -6.9l3.5 -9.3l3.5 -10.1l3.5 -8.9l3.5 -6l3.5 -1.9l3.5 2.2l3.5 5.9l3.5 8.4l3.5 9.3l3.5 8.4l3.5 5.9l3.5 2.2l3.5 -1.8l3.5 -5.5l3.5 -8l3.5 -8.6l3.5 -6.8l3.5 -3.3l3.5 0.4l3.5 3.5l3.5 5.7l3.5 7.1l3.5 7.2l3.5 7.9l3.5 6.8l3.5 3.9l3.5 0l3.5 -3.6l3.5 -5.8l3.5 -5.8l3.5 -3.5"/><path d="M179.4 89.1l3.5 -1.9l3.5 -1.2l3.5 0.3l3.5 1.5l3.5 1.9l3.5 1.6l3.5 1l3.5 0.2l3.5 -0.6l3.5 -1.3l3.5 -1.6l3.5 -1.8l3.5 -1.9l3.5 -1.6l3.5 -1l3.5 -0.3l3.5 0.3l3.5 0.4l3.5 -0.2l3.5 -1.2l3.5 -2.1l3.5 -2.6l3.5 -2.6l3.5 -2.1l3.5 -1.1l3.5 0l3.5 1.1l3.5 1.9l3.5 2.4l3.5 3.1l3.5 3.4l3.5 2.8l3.5 1.4l3.5 -0.2l3.5 -0.9l3.5 -1.3l3.5 -0.6l3.5 0.8l3.5 2.5l3.5 4.1l3.5 5.3l3.5 5.5l3.5 4.6l3.5 2.3"/><path d="M179.4 91.7l3.5 2.5l3.5 1.7l3.5 1.2l3.5 0.2l3.5 -1.2l3.5 -2.4l3.5 -3l3.5 -2.9l3.5 -2.3l3.5 -1.3l3.5 -0.3l3.5 0.1l3.5 -0.1l3.5 -0.6l3.5 -1.1l3.5 -1.4l3.5 -1.5l3.5 -1.3l3.5 -1l3.5 -0.5l3.5 0.2l3.5 0.9l3.5 1.3l3.5 1.3l3.5 0.7l3.5 -0.5l3.5 -1.9l3.5 -3.1l3.5 -3.5l3.5 -2.5l3.5 -0.6l3.5 1.5l3.5 3.2l3.5 4.5l3.5 5.8l3.5 6.7l3.5 8.3l3.5 8.5l3.5 6.7l3.5 3.5l3.5 -0.6l3.5 -4.8l3.5 -7.9l3.5 -9.6"/><path d="M179.4 92.3l3.5 -1.1l3.5 -1l3.5 -0.3l3.5 0l3.5 -0.2l3.5 -0.5l3.5 -0.4l3.5 0.1l3.5 1l3.5 2.1l3.5 2.9l3.5 3l3.5 2.2l3.5 0.9l3.5 -0.6l3.5 -1.9l3.5 -2.7l3.5 -3.2l3.5 -3.4l3.5 -3.2l3.5 -2.7l3.5 -2.1l3.5 -1.6l3.5 -1.2l3.5 -1l3.5 -0.9l3.5 -0.7l3.5 -0.2l3.5 0.6l3.5 2.2l3.5 3.8l3.5 4.3l3.5 3.5l3.5 1.9l3.5 0.5l3.5 -0.3l3.5 -0.9l3.5 -1l3.5 -0.2l3.5 1.6l3.5 4.2l3.5 6.8l3.5 8.8l3.5 9.1"/><path d="M179.4 90.5l3.5 -0.7l3.5 -0.8l3.5 -0.2l3.5 0.3l3.5 0.3l3.5 0l3.5 -0.2l3.5 -0.4l3.5 -0.5l3.5 -0.5l3.5 -0.5l3.5 -0.8l3.5 -1.3l3.5 -1.7l3.5 -1.8l3.5 -1.7l3.5 -1.4l3.5 -1.2l3.5 -1.3l3.5 -1.5l3.5 -1.6l3.5 -1.5l3.5 -1.3l3.5 -0.9l3.5 -0.3l3.5 0.2l3.5 0.7l3.5 1.2l3.5 1.8l3.5 2.9l3.5 4l3.5 4.2l3.5 3.4l3.5 2.1l3.5 1.2l3.5 0.9l3.5 0.8l3.5 0.8l3.5 0.8l3.5 1.1l3.5 1.5l3.5 1.9l3.5 2.4l3.5 2.1"/><path d="M179.4 93.2l3.5 1.5l3.5 1l3.5 0.4l3.5 -0.8l3.5 -2.3l3.5 -3.3l3.5 -3.2l3.5 -1.9l3.5 0.1l3.5 2.3l3.5 3.8l3.5 4.1l3.5 2.8l3.5 0.6l3.5 -1.9l3.5 -4.1l3.5 -5.3l3.5 -5.5l3.5 -4.8l3.5 -3.4l3.5 -1.5l3.5 0.2l3.5 1.3l3.5 1.6l3.5 1.1l3.5 0.2l3.5 -0.8l3.5 -1.1l3.5 -0.5l3.5 1.5l3.5 4.1l3.5 5.9l3.5 6.3l3.5 5.3l3.5 3.7l3.5 3.2l3.5 1.2l3.5 -1.3l3.5 -3.5l3.5 -4.3l3.5 -3.3l3.5 -0.8l3.5 2.5l3.5 5"/><path d="M179.4 91.3l3.5 -0.8l3.5 -0.5l3.5 0.9l3.5 2.3l3.5 2.9l3.5 2.8l3.5 2.2l3.5 1l3.5 -0.6l3.5 -2.4l3.5 -4.1l3.5 -5.6l3.5 -6.5l3.5 -6.4l3.5 -5.1l3.5 -3.1l3.5 -0.8l3.5 1.2l3.5 2.2l3.5 2.3l3.5 1.6l3.5 0.6l3.5 -0.5l3.5 -1.2l3.5 -1.3l3.5 -0.7l3.5 0.3l3.5 1.7l3.5 3.3l3.5 5l3.5 6.1l3.5 5.7l3.5 3.6l3.5 0.8l3.5 -1.6l3.5 -2.8l3.5 -4.3l3.5 -5l3.5 -4.3l3.5 -2.3l3.5 0.8l3.5 4.2l3.5 7.2l3.5 8.7"/><path d="M179.4 104.7l3.5 -4.5l3.5 -5l3.5 -4.2l3.5 -3.1l3.5 -2.2l3.5 -1.3l3.5 -0.3l3.5 0.8l3.5 1.9l3.5 2.8l3.5 3.4l3.5 3.4l3.5 2.9l3.5 2.2l3.5 1.6l3.5 1.1l3.5 0.7l3.5 0.2l3.5 -0.6l3.5 -1.5l3.5 -2.2l3.5 -2.8l3.5 -3l3.5 -3.1l3.5 -2.9l3.5 -2.6l3.5 -2.2l3.5 -1.7l3.5 -0.9l3.5 0.5l3.5 2l3.5 2.7l3.5 2.5l3.5 1.8l3.5 1.4l3.5 1.8l3.5 2.2l3.5 2.5l3.5 2.7l3.5 2.9l3.5 3.1l3.5 3.3l3.5 3.5l3.5 3.2"/><path d="M179.4 99.8l3.5 -2.6l3.5 -2.7l3.5 -1.8l3.5 -0.9l3.5 -0.5l3.5 -0.3l3.5 -0.2l3.5 -0.2l3.5 -0.3l3.5 -0.5l3.5 -0.7l3.5 -1.3l3.5 -2.1l3.5 -2.7l3.5 -2.8l3.5 -2.6l3.5 -2l3.5 -1.3l3.5 -0.9l3.5 -0.6l3.5 -0.2l3.5 0.2l3.5 0.7l3.5 1.1l3.5 1.5l3.5 1.8l3.5 1.9l3.5 1.9l3.5 2l3.5 2.7l3.5 3.5l3.5 3.4l3.5 2.4l3.5 1l3.5 0l3.5 0.2l3.5 -0.1l3.5 -0.4l3.5 -0.6l3.5 -0.5l3.5 -0.1l3.5 0.5l3.5 1.2l3.5 1.5"/><path d="M179.4 89.0l3.5 0.6l3.5 1.3l3.5 1.8l3.5 1.2l3.5 -0.6l3.5 -2.6l3.5 -3.9l3.5 -3.9l3.5 -2.7l3.5 -0.5l3.5 2l3.5 3.6l3.5 3.8l3.5 2.7l3.5 0.6l3.5 -1.9l3.5 -4.1l3.5 -5.6l3.5 -5.9l3.5 -5l3.5 -2.9l3.5 -0.4l3.5 1.9l3.5 3.3l3.5 3.4l3.5 2.4l3.5 0.7l3.5 -0.9l3.5 -1.6l3.5 -0.7l3.5 1.2l3.5 3l3.5 3.9l3.5 3.8l3.5 3.2l3.5 2.3l3.5 0.9l3.5 -1.1l3.5 -2.9l3.5 -3.3l3.5 -1.8l3.5 1.6l3.5 6l3.5 9.5"/><path d="M179.4 92.8l3.5 -1.2l3.5 -1.3l3.5 -0.4l3.5 0.5l3.5 0.8l3.5 0.7l3.5 0.5l3.5 0.1l3.5 -0.4l3.5 -0.9l3.5 -1.3l3.5 -1.9l3.5 -2.6l3.5 -2.9l3.5 -2.7l3.5 -2.2l3.5 -1.4l3.5 -0.7l3.5 -0.3l3.5 -0.1l3.5 0l3.5 0.2l3.5 0.4l3.5 0.7l3.5 0.8l3.5 0.8l3.5 0.7l3.5 0.5l3.5 0.4l3.5 1l3.5 1.7l3.5 1.9l3.5 1.3l3.5 0.6l3.5 0.3l3.5 0.1l3.5 0.7l3.5 1.4l3.5 2l3.5 2.7l3.5 3.3l3.5 3.9l3.5 4.4l3.5 4.3"/><path d="M179.4 105.0l3.5 -3.9l3.5 -4l3.5 -2.6l3.5 -1.2l3.5 -0.4l3.5 -0.2l3.5 -0.4l3.5 -1l3.5 -1.6l3.5 -2l3.5 -2l3.5 -1.8l3.5 -1.4l3.5 -0.7l3.5 0.2l3.5 1l3.5 1.5l3.5 1.6l3.5 1.1l3.5 0.5l3.5 0.2l3.5 0.2l3.5 0.6l3.5 1.1l3.5 1.4l3.5 1.2l3.5 0.5l3.5 -0.5l3.5 -1.3l3.5 -1.3l3.5 -0.8l3.5 -0.4l3.5 -0.3l3.5 -0.4l3.5 -0l3.5 0.2l3.5 0.6l3.5 0.7l3.5 0.4l3.5 0.3l3.5 0.7l3.5 1.9l3.5 4.1l3.5 6.4"/><path d="M179.4 97.5l3.5 -1l3.5 -0.4l3.5 1l3.5 2.2l3.5 2.7l3.5 2.8l3.5 2.5l3.5 2l3.5 1.3l3.5 0.4l3.5 -0.6l3.5 -1.8l3.5 -3.1l3.5 -4l3.5 -4.3l3.5 -4l3.5 -3.2l3.5 -2.3l3.5 -1.5l3.5 -0.8l3.5 -0.1l3.5 0.6l3.5 1.2l3.5 1.6l3.5 1.9l3.5 1.9l3.5 1.6l3.5 1.2l3.5 0.8l3.5 1l3.5 1.4l3.5 1.2l3.5 0.2l3.5 -0.9l3.5 -1.3l3.5 -0.4l3.5 0l3.5 0.7l3.5 1.7l3.5 2.9l3.5 4.2l3.5 5.3l3.5 6.1l3.5 6.2"/><path d="M179.4 77.0l3.5 -3.9l3.5 -2.4l3.5 0.4l3.5 3.1l3.5 4.6l3.5 4.9l3.5 4.2l3.5 2.7l3.5 1.1l3.5 -0.2l3.5 -0.9l3.5 -1.1l3.5 -0.9l3.5 -0.4l3.5 0l3.5 0.1l3.5 -0.4l3.5 -1.6l3.5 -3.3l3.5 -4.8l3.5 -5.3l3.5 -4.8l3.5 -3.3l3.5 -1.3l3.5 0.8l3.5 2.1l3.5 2.6l3.5 2.2l3.5 1.4l3.5 1.3l3.5 1.7l3.5 2.2l3.5 2.7l3.5 3.3l3.5 4.3l3.5 5.5l3.5 7l3.5 7.1l3.5 5.6l3.5 2.8l3.5 -0.3l3.5 -2.9l3.5 -4.1l3.5 -4"/><path d="M179.4 102.0l3.5 0.1l3.5 -1l3.5 -1.3l3.5 -1.8l3.5 -2.5l3.5 -2.9l3.5 -2.7l3.5 -1.9l3.5 -0.6l3.5 0.9l3.5 2.3l3.5 2.9l3.5 2.7l3.5 1.9l3.5 0.7l3.5 -0.8l3.5 -2.1l3.5 -3.4l3.5 -4.4l3.5 -4.8l3.5 -4.4l3.5 -3.2l3.5 -1.4l3.5 0.7l3.5 2.5l3.5 3.7l3.5 4.1l3.5 3.8l3.5 2.9l3.5 2.2l3.5 1.6l3.5 0.5l3.5 -0.9l3.5 -2l3.5 -2l3.5 -1l3.5 0.6l3.5 2.7l3.5 4.9l3.5 6.8l3.5 7.8l3.5 7.7l3.5 6.5l3.5 4"/><path d="M179.4 92.7l3.5 -1.8l3.5 -1.8l3.5 -0.6l3.5 0.6l3.5 1.4l3.5 1.9l3.5 2.1l3.5 1.9l3.5 1.5l3.5 0.8l3.5 -0.1l3.5 -1.1l3.5 -2.2l3.5 -2.9l3.5 -2.9l3.5 -2.4l3.5 -1.7l3.5 -1l3.5 -0.8l3.5 -0.9l3.5 -1.2l3.5 -1.4l3.5 -1.5l3.5 -1.3l3.5 -0.8l3.5 -0.2l3.5 0.5l3.5 1.2l3.5 1.9l3.5 3l3.5 3.9l3.5 3.9l3.5 2.8l3.5 1.4l3.5 0.5l3.5 0.9l3.5 1.3l3.5 1.8l3.5 2.4l3.5 2.9l3.5 3.2l3.5 2.9l3.5 2l3.5 0.2"/><path d="M179.4 94.5l3.5 -0.2l3.5 0.1l3.5 0.6l3.5 0.4l3.5 -0.6l3.5 -1.6l3.5 -2.2l3.5 -2.1l3.5 -1.3l3.5 -0.1l3.5 0.9l3.5 1.2l3.5 0.5l3.5 -0.7l3.5 -2.1l3.5 -3.3l3.5 -3.8l3.5 -3.6l3.5 -2.9l3.5 -1.6l3.5 -0l3.5 1.5l3.5 2.5l3.5 2.7l3.5 2.2l3.5 1.1l3.5 0l3.5 -0.7l3.5 -0.5l3.5 0.9l3.5 2.9l3.5 4.2l3.5 4.3l3.5 3.3l3.5 2l3.5 1.6l3.5 0.1l3.5 -1.7l3.5 -3l3.5 -3.1l3.5 -1.6l3.5 0.8l3.5 3.6l3.5 5.2"/><path d="M179.4 108.1l3.5 2.1l3.5 -0.2l3.5 -2l3.5 -3.9l3.5 -5.8l3.5 -7.1l3.5 -7.3l3.5 -6.3l3.5 -4.2l3.5 -1.4l3.5 1.6l3.5 3.9l3.5 5.1l3.5 5.3l3.5 4.4l3.5 2.7l3.5 0.3l3.5 -2.4l3.5 -5.1l3.5 -7.2l3.5 -8l3.5 -7.5l3.5 -5.7l3.5 -2.9l3.5 0.3l3.5 3.3l3.5 5.6l3.5 6.9l3.5 7.3l3.5 7.3l3.5 6.6l3.5 4.8l3.5 2.1l3.5 -0.6l3.5 -2.3l3.5 -2.2l3.5 -2.5l3.5 -2l3.5 -0.7l3.5 1.1l3.5 3.1l3.5 5l3.5 6.4l3.5 6.8"/><path d="M179.4 114.9l3.5 8.6l3.5 -2.6l3.5 -7.1l3.5 -7.6l3.5 -1.4l3.5 -1l3.5 -0.7l3.5 -0.3l3.5 0.1l3.5 0.8l3.5 1.1l3.5 1l3.5 0.4l3.5 -0.6l3.5 -1.3l3.5 -1.8l3.5 -2.1l3.5 -2.1l3.5 -1.8l3.5 -1.4l3.5 -1.4l3.5 -1.4l3.5 -1.3l3.5 -1.1l3.5 -0.8l3.5 -0.4l3.5 0l3.5 0.2l3.5 0.4l3.5 0.6l3.5 0.7l3.5 0.8l3.5 0.9l3.5 1.4l3.5 2.1l3.5 2.6l3.5 3.1l3.5 3.9l3.5 5.6l3.5 6.3l3.5 6l3.5 6.2l3.5 6.4l3.5 6.6"/></g>
<clipPath id="c179_158"><rect x="179.4" y="31.9" width="170" height="140"/></clipPath>
<g clip-path="url(#c179_158)"><g fill="none" stroke-width="6.6" stroke-linecap="round" stroke-linejoin="round"><path d="M179.4 95.8l1.6 -0.6" stroke="#ff0000"/><path d="M181.0 95.2l1.6 -0.8l1.6 -0.8" stroke="#e90000"/><path d="M184.1 93.6l1.6 -0.8" stroke="#d40000"/><path d="M185.6 92.8l1.6 -0.6l1.6 -0.4l1.6 -0.2" stroke="#bf0000"/><path d="M190.3 91.5l1.6 -0.1l1.6 -0l1.6 0l1.6 0.1l1.6 0.1" stroke="#a90000"/><path d="M198.0 91.6l1.6 0.1l1.6 0.1l1.6 0.1l1.6 0.1l1.6 0.1l1.6 0.1l1.6 0.1l1.6 0.1l1.6 0.1l1.6 0.1l1.6 0l1.6 0l1.6 -0.1l1.6 -0.2l1.6 -0.3l1.6 -0.5" stroke="#bf0000"/><path d="M222.9 91.6l1.6 -0.6l1.6 -0.8l1.6 -0.9l1.6 -0.9l1.6 -1l1.6 -1l1.6 -0.9l1.6 -0.9l1.6 -0.8l1.6 -0.7l1.6 -0.6l1.6 -0.5l1.6 -0.5l1.6 -0.5l1.6 -0.5l1.6 -0.5l1.6 -0.4l1.6 -0.4l1.6 -0.4l1.6 -0.4l1.6 -0.3l1.6 -0.3l1.6 -0.3l1.6 -0.2l1.6 -0.2l1.6 -0.1l1.6 -0l1.6 -0l1.6 0l1.6 0l1.6 0.1l1.6 0.1l1.6 0.1l1.6 0.1l1.6 0.1l1.6 0.2l1.6 0.3l1.6 0.5l1.6 0.7l1.6 1l1.6 1.2l1.6 1.3l1.6 1.4l1.6 1.3l1.6 1.2l1.6 1.1l1.6 0.9l1.6 0.7l1.6 0.6l1.6 0.5l1.6 0.5l1.6 0.6" stroke="#a90000"/><path d="M303.6 91.7l1.6 0.6l1.6 0.7" stroke="#bf0000"/><path d="M306.7 93.0l1.6 0.8" stroke="#d40000"/><path d="M308.3 93.9l1.6 0.9" stroke="#e90000"/><path d="M309.9 94.7l1.6 1" stroke="#ff0000"/><path d="M311.4 95.7l1.6 1" stroke="#ff1500"/><path d="M313.0 96.7l1.6 1" stroke="#ff2a00"/><path d="M314.5 97.8l1.6 1.1" stroke="#ff3f00"/><path d="M316.1 98.8l1.6 1.1" stroke="#ff5500"/><path d="M317.6 100.0l1.6 1.2" stroke="#ff6a00"/><path d="M319.2 101.2l1.6 1.2" stroke="#ff7f00"/><path d="M320.7 102.4l1.6 1.3" stroke="#ff9400"/><path d="M322.3 103.7l1.6 1.3" stroke="#ffa900"/><path d="M323.8 105.0l1.6 1.3" stroke="#ffbf00"/><path d="M325.4 106.2l1.6 1.3" stroke="#ffe900"/><path d="M326.9 107.5l1.6 1.3" stroke="#ffff00"/><path d="M328.5 108.8l1.6 1.2" stroke="#e9ff15"/><path d="M330.0 110.0l1.6 1.1" stroke="#d4ff2a"/><path d="M331.6 111.1l1.6 0.8" stroke="#bfff3f"/></g></g>
<path d="M179.4 36.9V158.3H333.1" fill="none" stroke="#3a3a3a" stroke-width="1"/><path d="M193.4 158.3v-2M208.9 158.3v-2M224.4 158.3v-2M240 158.3v-2M255.5 158.3v-2M271 158.3v-2M286.6 158.3v-2M302.1 158.3v-2M317.6 158.3v-2M333.1 158.3v-2M179.4 141h2M179.4 123.6h2M179.4 106.3h2M179.4 88.9h2M179.4 71.6h2M179.4 54.2h2" stroke="#3a3a3a" stroke-width="0.8"/>
<g font-family="'Liberation Serif', serif" font-size="8.3" fill="#555" text-anchor="middle"><text x="193.4" y="167">10</text><text x="208.9" y="167">20</text><text x="224.4" y="167">30</text><text x="240" y="167">40</text><text x="255.5" y="167">50</text><text x="271" y="167">60</text><text x="286.6" y="167">70</text><text x="302.1" y="167">80</text><text x="317.6" y="167">90</text><text x="333.1" y="167">100</text></g>
<g font-family="'Liberation Serif', serif" font-size="8.3" fill="#555" text-anchor="end"><text x="176.8" y="143.8">0.3</text><text x="176.8" y="126.4">0.4</text><text x="176.8" y="109.1">0.5</text><text x="176.8" y="91.7">0.6</text><text x="176.8" y="74.4">0.7</text><text x="176.8" y="57">0.8</text></g>
<text transform="translate(159.9 97.6) rotate(-90)" text-anchor="middle" font-family="'Liberation Serif', serif" font-size="12" fill="#222">Fractional Anisotropy</text>
<text x="245.1" y="49.8" font-family="'Liberation Serif', serif" font-size="14.6" fill="#111" textLength="21.6" lengthAdjust="spacingAndGlyphs">Left</text>
<clipPath id="g179_306"><rect x="179.4" y="184.2" width="160" height="121.9"/></clipPath>
<g clip-path="url(#g179_306)" fill="none" stroke="#9d9d9d" stroke-width="1.1" stroke-linejoin="round"><path d="M179.4 244.2l3.5 -0.2l3.5 0.1l3.5 0.4l3.5 0.6l3.5 0.8l3.5 0.8l3.5 0.6l3.5 0.4l3.5 0.1l3.5 -0.3l3.5 -0.8l3.5 -1.5l3.5 -2.7l3.5 -3.7l3.5 -4l3.5 -3.6l3.5 -2.6l3.5 -1.5l3.5 -0.8l3.5 -0.3l3.5 0.2l3.5 0.6l3.5 0.9l3.5 0.9l3.5 0.8l3.5 0.4l3.5 0.1l3.5 -0.1l3.5 0.1l3.5 0.4l3.5 0.7l3.5 1l3.5 1.1l3.5 1.2l3.5 1.3l3.5 1.4l3.5 2.1l3.5 3.4l3.5 4.7l3.5 4.9l3.5 4.1l3.5 3.1l3.5 2.2l3.5 0.5"/><path d="M179.4 249.1l3.5 2.6l3.5 1.5l3.5 -0l3.5 -1.7l3.5 -3.2l3.5 -4.2l3.5 -4.6l3.5 -4.1l3.5 -3.1l3.5 -1.6l3.5 -0l3.5 1l3.5 1l3.5 0.5l3.5 -0l3.5 -0.5l3.5 -0.6l3.5 -0.8l3.5 -1.3l3.5 -1.7l3.5 -1.7l3.5 -1.4l3.5 -0.9l3.5 -0.3l3.5 0l3.5 0.1l3.5 0.1l3.5 0l3.5 0.2l3.5 0.6l3.5 1l3.5 1.5l3.5 2l3.5 2.5l3.5 3.1l3.5 3.8l3.5 5.2l3.5 6.7l3.5 7.7l3.5 6.9l3.5 4.6l3.5 1.9l3.5 -0.7l3.5 -3.5"/><path d="M179.4 238.6l3.5 -0.4l3.5 0.4l3.5 0.8l3.5 0.7l3.5 0.2l3.5 -0.6l3.5 -1.4l3.5 -1.7l3.5 -1.6l3.5 -0.9l3.5 0.1l3.5 0.8l3.5 0.7l3.5 0.2l3.5 -0.4l3.5 -1l3.5 -1.5l3.5 -2.1l3.5 -2.9l3.5 -3.5l3.5 -3.4l3.5 -2.6l3.5 -1.3l3.5 0.3l3.5 1.6l3.5 2.4l3.5 2.7l3.5 2.5l3.5 2.2l3.5 1.5l3.5 0.8l3.5 0.1l3.5 -0.4l3.5 -0.4l3.5 0l3.5 -0.1l3.5 1.1l3.5 3l3.5 4.7l3.5 5l3.5 4.1l3.5 2.9l3.5 1.9l3.5 0.6"/><path d="M179.4 267.5l3.5 -1l3.5 -3.6l3.5 -4.7l3.5 -4l3.5 -2.1l3.5 0.3l3.5 2.1l3.5 2.8l3.5 2.1l3.5 0.5l3.5 -1.4l3.5 -3l3.5 -4.1l3.5 -4.1l3.5 -2.8l3.5 -1l3.5 0.6l3.5 1.4l3.5 0.8l3.5 -0.7l3.5 -2.2l3.5 -3.1l3.5 -2.8l3.5 -1.7l3.5 -0.1l3.5 1.4l3.5 2.2l3.5 2.1l3.5 1.4l3.5 0.1l3.5 -1.1l3.5 -1.7l3.5 -1.3l3.5 0.1l3.5 2.1l3.5 4.8l3.5 7.2l3.5 8.6l3.5 8.2l3.5 5.3l3.5 1.1l3.5 -1.9l3.5 -2.2l3.5 -0.4"/><path d="M179.4 244.4l3.5 -2.8l3.5 -2.4l3.5 -1.7l3.5 -1l3.5 -0.5l3.5 -0.2l3.5 -0.2l3.5 -0.3l3.5 -0.5l3.5 -0.6l3.5 -0.5l3.5 -0.6l3.5 -1.2l3.5 -1.5l3.5 -1.4l3.5 -0.8l3.5 -0.1l3.5 0.3l3.5 0.1l3.5 -0.6l3.5 -1.2l3.5 -1.7l3.5 -1.9l3.5 -1.8l3.5 -1.4l3.5 -0.6l3.5 0.5l3.5 1.8l3.5 3.2l3.5 4.4l3.5 4.9l3.5 4.7l3.5 3.8l3.5 2.5l3.5 1.1l3.5 0.9l3.5 0.2l3.5 0.1l3.5 0.7l3.5 1.2l3.5 1.6l3.5 2.3l3.5 3.4l3.5 3.5"/><path d="M179.4 242.5l3.5 -5.3l3.5 -3.5l3.5 -1.2l3.5 0.9l3.5 2.4l3.5 3l3.5 2.8l3.5 2.2l3.5 1.3l3.5 0.6l3.5 0.3l3.5 -0l3.5 -0.7l3.5 -1.4l3.5 -1.8l3.5 -2.2l3.5 -2.5l3.5 -2.9l3.5 -3.6l3.5 -4.2l3.5 -4l3.5 -3l3.5 -1.4l3.5 0.6l3.5 2.3l3.5 3.4l3.5 3.9l3.5 3.8l3.5 3.5l3.5 3l3.5 2.4l3.5 1.9l3.5 1.6l3.5 1.4l3.5 1.5l3.5 2.7l3.5 3l3.5 3.1l3.5 2.7l3.5 1.3l3.5 -0.7l3.5 -1.8l3.5 -1.5l3.5 -0.5"/><path d="M179.4 253.4l3.5 -3.6l3.5 -2.7l3.5 -1.7l3.5 -0.9l3.5 -0.7l3.5 -1l3.5 -1.8l3.5 -2.6l3.5 -3l3.5 -2.9l3.5 -2.3l3.5 -1.4l3.5 -1l3.5 -0.6l3.5 -0.2l3.5 0.2l3.5 0.4l3.5 0.3l3.5 -0.3l3.5 -0.9l3.5 -0.9l3.5 -0.4l3.5 0.5l3.5 1.5l3.5 2.3l3.5 2.5l3.5 2.2l3.5 1.5l3.5 0.8l3.5 0.1l3.5 -0.4l3.5 -0.6l3.5 -0.4l3.5 0.1l3.5 0.9l3.5 1.6l3.5 2.8l3.5 4l3.5 4.9l3.5 4.5l3.5 3.2l3.5 2.3l3.5 2.5l3.5 2.8"/><path d="M179.4 238.4l3.5 4.3l3.5 5.8l3.5 5.4l3.5 3.2l3.5 -0.1l3.5 -3.2l3.5 -5.3l3.5 -5.6l3.5 -4.1l3.5 -1.5l3.5 1.5l3.5 3.5l3.5 3.5l3.5 2l3.5 -0.3l3.5 -2.8l3.5 -4.6l3.5 -5.4l3.5 -5.5l3.5 -4.3l3.5 -2l3.5 0.8l3.5 3.3l3.5 4.7l3.5 4.5l3.5 3.1l3.5 0.9l3.5 -1.1l3.5 -2.2l3.5 -2.1l3.5 -1l3.5 0.9l3.5 2.8l3.5 4.2l3.5 4.7l3.5 5.7l3.5 5.2l3.5 3.9l3.5 2.2l3.5 0.2l3.5 -1l3.5 -0.1l3.5 2.9l3.5 6"/><path d="M179.4 245.8l3.5 1.8l3.5 2.1l3.5 1.8l3.5 1.1l3.5 0.3l3.5 -0.3l3.5 -0.6l3.5 -0.4l3.5 -0.1l3.5 0.1l3.5 0l3.5 -0.8l3.5 -2.4l3.5 -4l3.5 -4.7l3.5 -4.5l3.5 -3.3l3.5 -1.7l3.5 -0.4l3.5 0.6l3.5 1.2l3.5 1.4l3.5 1l3.5 0.1l3.5 -0.8l3.5 -1.6l3.5 -1.8l3.5 -1.4l3.5 -0.2l3.5 1.1l3.5 2.1l3.5 2.6l3.5 2.4l3.5 1.9l3.5 1.3l3.5 1.3l3.5 1.7l3.5 3.1l3.5 5.1l3.5 6.3l3.5 6.4l3.5 5.8l3.5 4.4l3.5 1.4"/><path d="M179.4 242.7l3.5 -0.2l3.5 0.5l3.5 0.9l3.5 0.8l3.5 0.1l3.5 -0.8l3.5 -1.7l3.5 -2.2l3.5 -2.2l3.5 -1.6l3.5 -0.6l3.5 0.1l3.5 0.1l3.5 -0.2l3.5 -0.7l3.5 -1.1l3.5 -1.4l3.5 -1.8l3.5 -2.4l3.5 -2.7l3.5 -2.4l3.5 -1.5l3.5 -0.2l3.5 1.1l3.5 2.1l3.5 2.5l3.5 2.3l3.5 1.8l3.5 1.4l3.5 0.9l3.5 0.5l3.5 0.3l3.5 0.3l3.5 0.5l3.5 1l3.5 1.4l3.5 2.3l3.5 3.5l3.5 4.5l3.5 4.3l3.5 3.2l3.5 2.4l3.5 2.2l3.5 1.7"/><path d="M179.4 239.6l3.5 0.2l3.5 0.7l3.5 1.1l3.5 1.3l3.5 1.2l3.5 1.1l3.5 0.9l3.5 0.8l3.5 0.8l3.5 0.8l3.5 0.7l3.5 0.2l3.5 -1l3.5 -2.2l3.5 -3.1l3.5 -3.5l3.5 -3.4l3.5 -3.2l3.5 -3.3l3.5 -3.2l3.5 -2.8l3.5 -2l3.5 -0.8l3.5 0.4l3.5 1.5l3.5 2.2l3.5 2.6l3.5 2.7l3.5 2.6l3.5 2.2l3.5 1.4l3.5 0.5l3.5 -0.4l3.5 -1l3.5 -1l3.5 -0.8l3.5 0.7l3.5 3.4l3.5 6.7l3.5 9.2l3.5 10.2l3.5 10.2l3.5 9l3.5 5.6"/><path d="M179.4 248.5l3.5 2.3l3.5 0.8l3.5 -0.8l3.5 -2.3l3.5 -3.4l3.5 -3.9l3.5 -3.6l3.5 -2.7l3.5 -1.3l3.5 0.2l3.5 1.5l3.5 2.1l3.5 1.4l3.5 0.3l3.5 -0.9l3.5 -2l3.5 -2.6l3.5 -3l3.5 -3.5l3.5 -3.6l3.5 -3l3.5 -1.8l3.5 -0.1l3.5 1.6l3.5 3l3.5 3.8l3.5 3.8l3.5 3.3l3.5 2.5l3.5 1.4l3.5 0.1l3.5 -1.1l3.5 -1.8l3.5 -1.9l3.5 -1.2l3.5 -0.6l3.5 1.3l3.5 4.3l3.5 7.2l3.5 8.5l3.5 7.9l3.5 6l3.5 3.1l3.5 -1"/><path d="M179.4 254.7l3.5 -1.7l3.5 -2.8l3.5 -3.4l3.5 -3.7l3.5 -3.5l3.5 -3.1l3.5 -2.3l3.5 -1.3l3.5 -0.3l3.5 0.6l3.5 1.3l3.5 1.4l3.5 0.7l3.5 -0.2l3.5 -0.8l3.5 -1l3.5 -0.9l3.5 -0.9l3.5 -1.2l3.5 -1.8l3.5 -2.3l3.5 -2.5l3.5 -2.5l3.5 -2.4l3.5 -2.1l3.5 -1.7l3.5 -1.1l3.5 -0.2l3.5 1.1l3.5 2.3l3.5 3.3l3.5 3.9l3.5 4l3.5 3.8l3.5 3.3l3.5 3l3.5 3l3.5 3.3l3.5 3.4l3.5 2.6l3.5 0.9l3.5 -0.6l3.5 -1.6l3.5 -3"/><path d="M179.4 255.0l3.5 -0.7l3.5 -0.8l3.5 -0.6l3.5 -0.2l3.5 0.6l3.5 1.5l3.5 2.2l3.5 2.4l3.5 1.9l3.5 0.8l3.5 -0.7l3.5 -2.5l3.5 -4.4l3.5 -5.4l3.5 -5.1l3.5 -3.8l3.5 -1.8l3.5 0l3.5 0.8l3.5 0.7l3.5 0.1l3.5 -0.8l3.5 -1.4l3.5 -1.6l3.5 -1.3l3.5 -0.6l3.5 0.5l3.5 1.6l3.5 2.5l3.5 2.8l3.5 2.3l3.5 1.4l3.5 0.3l3.5 -0.5l3.5 -0.6l3.5 0.8l3.5 2.2l3.5 4.5l3.5 7l3.5 8.1l3.5 7.7l3.5 6.7l3.5 5.5l3.5 3.6"/><path d="M179.4 248.4l3.5 1.8l3.5 2.2l3.5 2.6l3.5 2.6l3.5 2.4l3.5 2.1l3.5 1.7l3.5 1.4l3.5 1.1l3.5 0.8l3.5 0.6l3.5 -0l3.5 -1.1l3.5 -2.3l3.5 -2.9l3.5 -3.1l3.5 -2.9l3.5 -2.4l3.5 -2.5l3.5 -2.9l3.5 -3.1l3.5 -3l3.5 -2.7l3.5 -2.2l3.5 -1.5l3.5 -0.8l3.5 -0l3.5 0.8l3.5 1.9l3.5 2.7l3.5 3l3.5 2.9l3.5 2.3l3.5 1.4l3.5 0.6l3.5 1.3l3.5 1l3.5 1.3l3.5 2.2l3.5 2.5l3.5 2.4l3.5 2.6l3.5 3l3.5 2.5"/><path d="M179.4 236.9l3.5 -1.5l3.5 -1.2l3.5 -0.7l3.5 -0.1l3.5 0.5l3.5 1l3.5 1.5l3.5 2l3.5 2.3l3.5 2.4l3.5 2.3l3.5 1.7l3.5 0.4l3.5 -0.9l3.5 -1.7l3.5 -2l3.5 -1.8l3.5 -1.4l3.5 -1.5l3.5 -1.7l3.5 -1.8l3.5 -1.8l3.5 -1.7l3.5 -1.5l3.5 -1.4l3.5 -1.3l3.5 -1.1l3.5 -0.8l3.5 -0.2l3.5 0.5l3.5 0.9l3.5 1.1l3.5 1.1l3.5 0.9l3.5 0.8l3.5 0.1l3.5 0.7l3.5 2.1l3.5 3.9l3.5 5.1l3.5 5.6l3.5 6.2l3.5 6.8l3.5 6.5"/><path d="M179.4 244.2l3.5 -2.8l3.5 -1.4l3.5 0.5l3.5 2.4l3.5 3.7l3.5 4.3l3.5 3.9l3.5 2.7l3.5 1l3.5 -0.9l3.5 -2.5l3.5 -3.9l3.5 -5.1l3.5 -5.5l3.5 -4.7l3.5 -3.2l3.5 -1.4l3.5 0.1l3.5 0.5l3.5 0.1l3.5 -0.7l3.5 -1.7l3.5 -2.5l3.5 -2.9l3.5 -2.8l3.5 -1.9l3.5 -0.4l3.5 1.6l3.5 3.8l3.5 5.6l3.5 6.4l3.5 6l3.5 4.7l3.5 2.6l3.5 0.5l3.5 0.1l3.5 -1.1l3.5 -1.2l3.5 0.3l3.5 2.3l3.5 4.4l3.5 6.9l3.5 9l3.5 8.7"/><path d="M179.4 257.8l3.5 1.3l3.5 0.9l3.5 0.6l3.5 0.2l3.5 -0.3l3.5 -0.7l3.5 -1.1l3.5 -1.5l3.5 -1.9l3.5 -2.2l3.5 -2.5l3.5 -3l3.5 -4l3.5 -4.8l3.5 -4.8l3.5 -4.2l3.5 -2.9l3.5 -1.7l3.5 -0.7l3.5 0.1l3.5 0.9l3.5 1.7l3.5 2.5l3.5 2.9l3.5 3.1l3.5 3l3.5 2.6l3.5 2.2l3.5 1.9l3.5 1.4l3.5 0.8l3.5 -0.1l3.5 -1.1l3.5 -2l3.5 -2.6l3.5 -2.7l3.5 -3l3.5 -2.2l3.5 -0.5l3.5 1.1l3.5 2.5l3.5 4.5l3.5 6.9l3.5 8.5"/><path d="M179.4 242.4l3.5 0.8l3.5 0.8l3.5 0.4l3.5 -0.3l3.5 -0.8l3.5 -0.7l3.5 -0.1l3.5 0.9l3.5 2l3.5 2.9l3.5 3l3.5 2l3.5 -0.2l3.5 -2.7l3.5 -4.5l3.5 -5.4l3.5 -5l3.5 -3.9l3.5 -2.8l3.5 -1.5l3.5 -0.2l3.5 0.7l3.5 1.2l3.5 1l3.5 0.3l3.5 -0.5l3.5 -1.1l3.5 -1l3.5 -0.1l3.5 1.2l3.5 2.6l3.5 3.7l3.5 4.1l3.5 3.8l3.5 3.1l3.5 3.1l3.5 2.3l3.5 1.5l3.5 1.1l3.5 0.4l3.5 -0.3l3.5 0l3.5 1.3l3.5 2.3"/><path d="M179.4 250.9l3.5 -6.1l3.5 -6.1l3.5 -4.8l3.5 -2.8l3.5 -0.5l3.5 1.5l3.5 2.8l3.5 3.3l3.5 2.9l3.5 2l3.5 0.7l3.5 -0.8l3.5 -2.5l3.5 -3.5l3.5 -3.5l3.5 -2.6l3.5 -1.2l3.5 -0.1l3.5 0.1l3.5 -0.3l3.5 -1l3.5 -1.9l3.5 -2.5l3.5 -2.8l3.5 -2.5l3.5 -1.5l3.5 0l3.5 2l3.5 4l3.5 5.5l3.5 6l3.5 5.4l3.5 3.7l3.5 1.5l3.5 -0.7l3.5 -1.8l3.5 -3.2l3.5 -3.1l3.5 -1.3l3.5 1l3.5 3.5l3.5 6.3l3.5 8.5l3.5 8.6"/><path d="M179.4 266.7l3.5 0l3.5 0.2l3.5 0.4l3.5 0.3l3.5 0l3.5 -0.4l3.5 -1l3.5 -1.6l3.5 -2.2l3.5 -2.6l3.5 -2.9l3.5 -3.2l3.5 -3.9l3.5 -4.3l3.5 -4l3.5 -3.3l3.5 -2.2l3.5 -1.2l3.5 -0.9l3.5 -1.2l3.5 -1.5l3.5 -1.9l3.5 -2.1l3.5 -2.2l3.5 -2.1l3.5 -1.7l3.5 -0.9l3.5 0.2l3.5 1.7l3.5 3.1l3.5 4l3.5 4.3l3.5 3.8l3.5 2.9l3.5 1.8l3.5 1.5l3.5 1.1l3.5 1.3l3.5 2.5l3.5 3.6l3.5 4.8l3.5 6.9l3.5 9.3l3.5 10.8"/><path d="M179.4 236.8l3.5 -1.8l3.5 -1.1l3.5 -0.2l3.5 0.6l3.5 1.4l3.5 1.9l3.5 2.3l3.5 2.4l3.5 2.2l3.5 1.7l3.5 1l3.5 -0.2l3.5 -2l3.5 -3.6l3.5 -4.4l3.5 -4.6l3.5 -3.9l3.5 -3.1l3.5 -2.6l3.5 -2.1l3.5 -1.4l3.5 -0.7l3.5 0.1l3.5 0.8l3.5 1.2l3.5 1.4l3.5 1.5l3.5 1.6l3.5 1.9l3.5 2.2l3.5 2.2l3.5 2.1l3.5 1.8l3.5 1.4l3.5 1.2l3.5 1.2l3.5 1.7l3.5 2.8l3.5 4l3.5 4.3l3.5 3.7l3.5 2.9l3.5 2l3.5 0.2"/><path d="M179.4 241.9l3.5 -0.6l3.5 -0.7l3.5 -0.7l3.5 -0.7l3.5 -0.6l3.5 -0.6l3.5 -0.5l3.5 -0.4l3.5 -0.4l3.5 -0.3l3.5 -0.4l3.5 -0.7l3.5 -1.6l3.5 -2.3l3.5 -2.6l3.5 -2.2l3.5 -1.3l3.5 -0.6l3.5 -0.2l3.5 -0.1l3.5 -0.1l3.5 -0l3.5 0l3.5 0l3.5 -0.1l3.5 -0.3l3.5 -0.4l3.5 -0.2l3.5 0.3l3.5 0.8l3.5 1.2l3.5 1.4l3.5 1.4l3.5 1.1l3.5 1l3.5 0.2l3.5 0.6l3.5 1.7l3.5 3.2l3.5 4l3.5 4.1l3.5 4.2l3.5 4.5l3.5 3.8"/><path d="M179.4 236.6l3.5 -2.6l3.5 -1.2l3.5 0.2l3.5 0.8l3.5 0.6l3.5 -0.2l3.5 -1.1l3.5 -1.6l3.5 -1.4l3.5 -0.6l3.5 0.5l3.5 1.2l3.5 0.7l3.5 -0.5l3.5 -1.8l3.5 -2.7l3.5 -3l3.5 -2.7l3.5 -2.1l3.5 -0.9l3.5 0.5l3.5 1.7l3.5 2.3l3.5 1.9l3.5 0.6l3.5 -0.9l3.5 -2.1l3.5 -2.2l3.5 -1l3.5 1l3.5 3l3.5 4.4l3.5 4.4l3.5 3.2l3.5 1.1l3.5 -1.4l3.5 -3.4l3.5 -3.8l3.5 -1.9l3.5 1.5l3.5 5.7l3.5 10l3.5 12.6l3.5 11.2"/><path d="M179.4 249.0l3.5 -4.2l3.5 -3l3.5 -0.9l3.5 1.4l3.5 3.1l3.5 4l3.5 3.8l3.5 2.6l3.5 0.8l3.5 -1.2l3.5 -2.7l3.5 -3.8l3.5 -4.6l3.5 -4.6l3.5 -3.5l3.5 -2l3.5 -0.3l3.5 0.8l3.5 0.8l3.5 -0.1l3.5 -1.4l3.5 -2.5l3.5 -3.2l3.5 -3.3l3.5 -2.6l3.5 -1.2l3.5 0.4l3.5 2.2l3.5 3.7l3.5 4.3l3.5 4l3.5 2.8l3.5 1.2l3.5 -0.3l3.5 -1l3.5 -0.6l3.5 0.9l3.5 4.1l3.5 8l3.5 10.7l3.5 11.2l3.5 9.7l3.5 6.2l3.5 0.7"/><path d="M179.4 243.0l3.5 -1.5l3.5 -2.2l3.5 -1.9l3.5 -0.7l3.5 0.8l3.5 2.2l3.5 2.9l3.5 2.6l3.5 1.4l3.5 -0.2l3.5 -1.7l3.5 -2.7l3.5 -3.4l3.5 -3l3.5 -1.8l3.5 -0.2l3.5 1.1l3.5 1.4l3.5 0.4l3.5 -1.3l3.5 -2.7l3.5 -3.3l3.5 -2.6l3.5 -0.9l3.5 1.3l3.5 3.3l3.5 4.5l3.5 4.5l3.5 3.5l3.5 1.8l3.5 -0.1l3.5 -1.4l3.5 -1.7l3.5 -0.8l3.5 1l3.5 3.8l3.5 6.5l3.5 8.6l3.5 8.9l3.5 6.4l3.5 2.1l3.5 -1.8l3.5 -3.6l3.5 -3.5"/><path d="M179.4 246.7l3.5 -0.8l3.5 -2l3.5 -2.5l3.5 -2.5l3.5 -1.9l3.5 -1l3.5 0l3.5 0.9l3.5 1.5l3.5 1.6l3.5 1.2l3.5 0.2l3.5 -1.5l3.5 -3.1l3.5 -3.9l3.5 -3.9l3.5 -3l3.5 -2l3.5 -1.2l3.5 -0.6l3.5 -0l3.5 0.5l3.5 0.8l3.5 0.9l3.5 0.7l3.5 0.6l3.5 0.4l3.5 0.5l3.5 0.9l3.5 1.4l3.5 1.7l3.5 1.6l3.5 1.3l3.5 0.8l3.5 0.4l3.5 -0l3.5 0.4l3.5 1.9l3.5 4l3.5 5.7l3.5 6.8l3.5 7.6l3.5 7.9l3.5 6.5"/><path d="M179.4 243.0l3.5 2.6l3.5 3.1l3.5 2.7l3.5 1.4l3.5 -0.4l3.5 -2.1l3.5 -3.4l3.5 -3.8l3.5 -3.3l3.5 -2.1l3.5 -0.5l3.5 0.7l3.5 0.9l3.5 0.5l3.5 -0.1l3.5 -0.7l3.5 -1.2l3.5 -1.6l3.5 -2.2l3.5 -2.7l3.5 -2.6l3.5 -2.1l3.5 -1.2l3.5 -0.4l3.5 0.1l3.5 0.3l3.5 0.2l3.5 0.1l3.5 0.2l3.5 0.6l3.5 1l3.5 1.4l3.5 1.8l3.5 2.1l3.5 2.4l3.5 2.4l3.5 3.1l3.5 3.9l3.5 4.5l3.5 4l3.5 2.8l3.5 1.9l3.5 1.6l3.5 1"/><path d="M179.4 266.6l3.5 -4.8l3.5 -6.7l3.5 -7l3.5 -5.9l3.5 -3.6l3.5 -0.6l3.5 2.3l3.5 4.5l3.5 5.5l3.5 5.1l3.5 3.5l3.5 0.7l3.5 -2.9l3.5 -6l3.5 -7.7l3.5 -7.6l3.5 -6l3.5 -3.5l3.5 -1.2l3.5 0.9l3.5 2.6l3.5 3.4l3.5 3.4l3.5 2.4l3.5 0.9l3.5 -0.7l3.5 -1.9l3.5 -2.2l3.5 -1.4l3.5 0.1l3.5 1.8l3.5 3.3l3.5 4.1l3.5 4l3.5 3.3l3.5 3.3l3.5 1.9l3.5 0.3l3.5 -1.1l3.5 -2.5l3.5 -3.2l3.5 -1.9l3.5 1.3l3.5 5"/><path d="M179.4 246.9l3.5 -3l3.5 -2.3l3.5 -1.3l3.5 -0.4l3.5 0.3l3.5 0.9l3.5 1.3l3.5 1.5l3.5 1.5l3.5 1.3l3.5 0.9l3.5 0.1l3.5 -1.3l3.5 -2.6l3.5 -3.2l3.5 -3.1l3.5 -2.4l3.5 -1.7l3.5 -1.4l3.5 -1.3l3.5 -1.3l3.5 -1.4l3.5 -1.3l3.5 -1.2l3.5 -1l3.5 -0.6l3.5 0l3.5 1l3.5 2.3l3.5 3.4l3.5 4l3.5 4l3.5 3.3l3.5 2.2l3.5 1l3.5 0.8l3.5 0.3l3.5 0.5l3.5 1.3l3.5 1.9l3.5 2.2l3.5 2.7l3.5 3.3l3.5 2.8"/><path d="M179.4 258.2l3.5 -0.9l3.5 -3.3l3.5 -4.5l3.5 -4.4l3.5 -3l3.5 -1l3.5 1l3.5 2.3l3.5 2.6l3.5 1.9l3.5 0.4l3.5 -1.5l3.5 -3.5l3.5 -4.6l3.5 -4.3l3.5 -2.9l3.5 -0.9l3.5 0.8l3.5 1.5l3.5 1.2l3.5 0.2l3.5 -1l3.5 -2l3.5 -2.6l3.5 -2.5l3.5 -1.7l3.5 -0.5l3.5 1l3.5 2.4l3.5 3.3l3.5 3.5l3.5 2.9l3.5 2l3.5 1l3.5 0.6l3.5 1.1l3.5 2l3.5 3.7l3.5 5.4l3.5 5.8l3.5 4.6l3.5 2.9l3.5 1.2l3.5 -0.9"/><path d="M179.4 252.5l3.5 2.6l3.5 1.1l3.5 -0.6l3.5 -2.2l3.5 -3.3l3.5 -3.4l3.5 -2.6l3.5 -1.1l3.5 0.5l3.5 1.9l3.5 2.6l3.5 2.1l3.5 0.4l3.5 -1.6l3.5 -3.1l3.5 -3.8l3.5 -3.6l3.5 -2.9l3.5 -2.5l3.5 -2.2l3.5 -1.9l3.5 -1.7l3.5 -1.5l3.5 -1.3l3.5 -0.9l3.5 -0.3l3.5 0.5l3.5 1.7l3.5 2.9l3.5 3.8l3.5 3.8l3.5 2.9l3.5 1.4l3.5 -0.2l3.5 -1.5l3.5 -2.1l3.5 -2l3.5 -0.1l3.5 3.2l3.5 6.2l3.5 8.5l3.5 10l3.5 10.3l3.5 8.4"/><path d="M179.4 235.7l3.5 4.3l3.5 3.6l3.5 2.3l3.5 0.5l3.5 -1.1l3.5 -2.1l3.5 -2.2l3.5 -1.3l3.5 0.1l3.5 1.6l3.5 2.7l3.5 2.7l3.5 1.2l3.5 -1l3.5 -3.1l3.5 -4.7l3.5 -5.3l3.5 -5.2l3.5 -4.8l3.5 -3.8l3.5 -2.3l3.5 -0.4l3.5 1.1l3.5 2.1l3.5 2.1l3.5 1.4l3.5 0.3l3.5 -0.8l3.5 -1.3l3.5 -1.1l3.5 -0.5l3.5 0.5l3.5 1.7l3.5 2.6l3.5 3.2l3.5 2.7l3.5 3.1l3.5 3.3l3.5 3.2l3.5 2.1l3.5 0.7l3.5 0.4l3.5 1.6l3.5 3.2"/><path d="M179.4 237.5l3.5 2.7l3.5 3.3l3.5 2.8l3.5 1.3l3.5 -0.6l3.5 -2.1l3.5 -2.7l3.5 -2.2l3.5 -0.7l3.5 1.1l3.5 2.5l3.5 2.7l3.5 1.3l3.5 -1l3.5 -3.1l3.5 -4.6l3.5 -4.9l3.5 -4.2l3.5 -3.2l3.5 -1.8l3.5 -0.2l3.5 1l3.5 1.5l3.5 1.3l3.5 0.3l3.5 -0.7l3.5 -1.4l3.5 -1.3l3.5 -0.3l3.5 1.3l3.5 2.7l3.5 3.5l3.5 3.4l3.5 2.6l3.5 1.3l3.5 0.3l3.5 -0.3l3.5 0.3l3.5 2.1l3.5 4.2l3.5 6.1l3.5 7.6l3.5 8.2l3.5 6.4"/><path d="M179.4 245.2l3.5 -0.7l3.5 -0.8l3.5 -0.7l3.5 -0.5l3.5 -0.3l3.5 0l3.5 0.3l3.5 0.5l3.5 0.6l3.5 0.5l3.5 0.3l3.5 -0.3l3.5 -1.5l3.5 -2.6l3.5 -3.1l3.5 -3l3.5 -2.3l3.5 -1.6l3.5 -1.3l3.5 -1.2l3.5 -1l3.5 -0.9l3.5 -0.6l3.5 -0.4l3.5 -0.3l3.5 -0.2l3.5 -0.1l3.5 0.2l3.5 0.8l3.5 1.5l3.5 1.8l3.5 1.9l3.5 1.7l3.5 1.3l3.5 1l3.5 0.4l3.5 0.6l3.5 1.5l3.5 2.8l3.5 3.4l3.5 3.3l3.5 3.3l3.5 3.4l3.5 2.5"/><path d="M179.4 239.1l3.5 -0l3.5 0.4l3.5 0.9l3.5 1.1l3.5 1.2l3.5 1.2l3.5 1.1l3.5 1l3.5 0.8l3.5 0.6l3.5 0.3l3.5 -0.4l3.5 -1.6l3.5 -2.8l3.5 -3.5l3.5 -3.5l3.5 -2.9l3.5 -2.3l3.5 -2l3.5 -1.8l3.5 -1.4l3.5 -0.8l3.5 -0.1l3.5 0.6l3.5 1.1l3.5 1.5l3.5 1.6l3.5 1.7l3.5 1.9l3.5 1.9l3.5 1.6l3.5 1.1l3.5 0.3l3.5 -0.4l3.5 -0.8l3.5 -1.2l3.5 -0.9l3.5 0.3l3.5 2.2l3.5 3.6l3.5 4.4l3.5 5.2l3.5 5.9l3.5 5.4"/><path d="M179.4 241.3l3.5 -1.4l3.5 -0.3l3.5 0.8l3.5 1.4l3.5 1.4l3.5 0.9l3.5 0l3.5 -0.8l3.5 -1.4l3.5 -1.6l3.5 -1.4l3.5 -1.2l3.5 -1.3l3.5 -1.4l3.5 -1.3l3.5 -1l3.5 -0.6l3.5 -0.5l3.5 -1l3.5 -1.7l3.5 -2.3l3.5 -2.4l3.5 -2.1l3.5 -1.5l3.5 -0.6l3.5 0.4l3.5 1.4l3.5 2.4l3.5 3.4l3.5 3.9l3.5 3.8l3.5 3l3.5 1.6l3.5 0.1l3.5 -1.2l3.5 -2.2l3.5 -2.8l3.5 -2l3.5 0.1l3.5 2.5l3.5 5l3.5 7.6l3.5 9.9l3.5 10"/><path d="M179.4 249.9l3.5 -2.3l3.5 -1.4l3.5 0.1l3.5 1.8l3.5 3.2l3.5 4l3.5 3.8l3.5 2.7l3.5 0.9l3.5 -1.3l3.5 -3.3l3.5 -4.9l3.5 -5.9l3.5 -5.8l3.5 -4.2l3.5 -1.6l3.5 1.2l3.5 3.3l3.5 4l3.5 3.1l3.5 1.1l3.5 -1.5l3.5 -4.1l3.5 -6l3.5 -6.8l3.5 -6.3l3.5 -4.5l3.5 -1.6l3.5 1.7l3.5 4.5l3.5 6.2l3.5 6.5l3.5 5.4l3.5 3.6l3.5 1.7l3.5 1.4l3.5 1l3.5 1.8l3.5 3.8l3.5 5.7l3.5 6.8l3.5 7.2l3.5 6.6l3.5 4.1"/><path d="M179.4 244.8l3.5 -2l3.5 -2.4l3.5 -2.1l3.5 -1.4l3.5 -0.3l3.5 0.9l3.5 1.8l3.5 2.3l3.5 2.3l3.5 1.9l3.5 1.1l3.5 -0.1l3.5 -1.7l3.5 -3.1l3.5 -3.5l3.5 -3.2l3.5 -2.2l3.5 -1.1l3.5 -0.5l3.5 -0.3l3.5 -0.2l3.5 -0.1l3.5 -0.1l3.5 -0.1l3.5 -0.2l3.5 -0.2l3.5 -0.1l3.5 0.2l3.5 0.7l3.5 1.1l3.5 1.3l3.5 1.2l3.5 0.9l3.5 0.5l3.5 0.3l3.5 0.3l3.5 0.9l3.5 2.3l3.5 4.1l3.5 4.9l3.5 4.6l3.5 3.8l3.5 2.7l3.5 0.4"/><path d="M179.4 236.4l3.5 3.5l3.5 3.9l3.5 4.1l3.5 3.8l3.5 3.1l3.5 1.8l3.5 0.2l3.5 -1.6l3.5 -3.2l3.5 -4.2l3.5 -4.6l3.5 -4.4l3.5 -4.2l3.5 -3.6l3.5 -2.6l3.5 -1.4l3.5 -0.3l3.5 0.1l3.5 -0.4l3.5 -1.1l3.5 -1.7l3.5 -1.8l3.5 -1.3l3.5 -0.4l3.5 0.8l3.5 1.8l3.5 2.7l3.5 3.3l3.5 3.7l3.5 3.7l3.5 3.2l3.5 2.4l3.5 1.4l3.5 0.3l3.5 -0.6l3.5 -0.9l3.5 -1.6l3.5 -1.8l3.5 -1.3l3.5 -0.9l3.5 -0.3l3.5 1.5l3.5 4.4l3.5 6.6"/><path d="M179.4 241.1l3.5 -0.3l3.5 2l3.5 3.7l3.5 4.1l3.5 3.2l3.5 1.4l3.5 -0.8l3.5 -2.6l3.5 -3.6l3.5 -3.4l3.5 -2.4l3.5 -1.2l3.5 -0.6l3.5 -0.6l3.5 -0.8l3.5 -1.2l3.5 -1.6l3.5 -1.9l3.5 -2.3l3.5 -2.4l3.5 -1.8l3.5 -0.7l3.5 0.6l3.5 1.4l3.5 1.6l3.5 1.1l3.5 0.1l3.5 -0.7l3.5 -1l3.5 -0.5l3.5 0.5l3.5 1.8l3.5 3l3.5 3.7l3.5 3.8l3.5 4.1l3.5 3.5l3.5 2.4l3.5 1.3l3.5 -0.2l3.5 -0.9l3.5 0.2l3.5 3l3.5 5.9"/><path d="M179.4 241.0l3.5 -0.8l3.5 -0.9l3.5 -0.6l3.5 -0.3l3.5 0.2l3.5 0.7l3.5 1.1l3.5 1.3l3.5 1.3l3.5 1.1l3.5 0.6l3.5 -0.3l3.5 -1.9l3.5 -3.3l3.5 -4.1l3.5 -4l3.5 -3.3l3.5 -2.4l3.5 -1.8l3.5 -1.2l3.5 -0.5l3.5 0.2l3.5 0.9l3.5 1.3l3.5 1.5l3.5 1.5l3.5 1.3l3.5 1.2l3.5 1.4l3.5 1.6l3.5 1.8l3.5 1.8l3.5 1.7l3.5 1.5l3.5 1.5l3.5 2.2l3.5 3l3.5 4.3l3.5 5.7l3.5 6l3.5 5.3l3.5 4.3l3.5 3.2l3.5 1.1"/><path d="M179.4 243.8l3.5 -4l3.5 -5l3.5 -4.3l3.5 -2.4l3.5 0.3l3.5 2.8l3.5 4.3l3.5 4.5l3.5 3.4l3.5 1.4l3.5 -0.8l3.5 -2.6l3.5 -4l3.5 -4.3l3.5 -3.5l3.5 -2l3.5 -0.6l3.5 -0.1l3.5 -0.8l3.5 -2.1l3.5 -3.2l3.5 -3.6l3.5 -3l3.5 -1.4l3.5 0.6l3.5 2.5l3.5 3.7l3.5 4l3.5 3.5l3.5 2.3l3.5 0.8l3.5 -0.5l3.5 -1.1l3.5 -0.8l3.5 0.2l3.5 0.4l3.5 2l3.5 3.5l3.5 4l3.5 2.5l3.5 -0.3l3.5 -2.4l3.5 -2.8l3.5 -1.8"/><path d="M179.4 249.5l3.5 -1.8l3.5 -2l3.5 -1.6l3.5 -0.7l3.5 0.4l3.5 1.5l3.5 2.2l3.5 2.3l3.5 1.8l3.5 0.7l3.5 -0.7l3.5 -2.1l3.5 -3.7l3.5 -4.6l3.5 -4.4l3.5 -3.4l3.5 -1.9l3.5 -0.6l3.5 -0.1l3.5 -0.1l3.5 -0.3l3.5 -0.5l3.5 -0.5l3.5 -0.3l3.5 -0l3.5 0.3l3.5 0.5l3.5 0.7l3.5 0.9l3.5 1l3.5 0.8l3.5 0.6l3.5 0.6l3.5 0.8l3.5 1.3l3.5 2.1l3.5 3.5l3.5 5.1l3.5 6.3l3.5 5.9l3.5 4.2l3.5 2.4l3.5 1.2l3.5 -0.1"/><path d="M179.4 236.4l3.5 0.4l3.5 0.9l3.5 1.3l3.5 1.7l3.5 1.9l3.5 1.9l3.5 1.8l3.5 1.5l3.5 1.1l3.5 0.6l3.5 0l3.5 -0.9l3.5 -2.2l3.5 -3.4l3.5 -3.9l3.5 -3.6l3.5 -2.8l3.5 -1.8l3.5 -1.3l3.5 -1l3.5 -0.7l3.5 -0.3l3.5 -0.1l3.5 0l3.5 -0.1l3.5 -0.2l3.5 -0.4l3.5 -0.4l3.5 -0l3.5 0.4l3.5 0.8l3.5 1.1l3.5 1.2l3.5 1.3l3.5 1.5l3.5 1.3l3.5 2.3l3.5 3.9l3.5 5.7l3.5 6.7l3.5 6.7l3.5 6.5l3.5 6.1l3.5 4.6"/><path d="M179.4 246.8l3.5 -1.1l3.5 -2l3.5 -2.4l3.5 -2.3l3.5 -1.7l3.5 -0.7l3.5 0.5l3.5 1.7l3.5 2.6l3.5 3l3.5 2.8l3.5 1.8l3.5 -0.1l3.5 -2.1l3.5 -3.4l3.5 -4l3.5 -3.6l3.5 -2.8l3.5 -2.2l3.5 -1.5l3.5 -0.7l3.5 0.2l3.5 0.9l3.5 1.2l3.5 1.1l3.5 0.7l3.5 0l3.5 -0.4l3.5 -0.5l3.5 -0.3l3.5 0.1l3.5 0.5l3.5 1l3.5 1.5l3.5 1.9l3.5 2.4l3.5 3.4l3.5 4.6l3.5 5.4l3.5 4.9l3.5 3.2l3.5 1.3l3.5 -0.3l3.5 -2.2"/><path d="M179.4 237.3l3.5 0.8l3.5 1.8l3.5 2.5l3.5 2.6l3.5 2.3l3.5 1.6l3.5 0.8l3.5 -0.1l3.5 -0.7l3.5 -1.1l3.5 -1.2l3.5 -1.3l3.5 -1.8l3.5 -2.1l3.5 -2l3.5 -1.5l3.5 -0.8l3.5 -0.3l3.5 -0.4l3.5 -0.9l3.5 -1.5l3.5 -1.9l3.5 -2.1l3.5 -2.1l3.5 -1.9l3.5 -1.5l3.5 -0.9l3.5 -0.1l3.5 1.1l3.5 2.1l3.5 2.8l3.5 3.2l3.5 3.1l3.5 2.7l3.5 2.2l3.5 2.3l3.5 2.5l3.5 3.2l3.5 4l3.5 4l3.5 3.4l3.5 3l3.5 3l3.5 2.4"/><path d="M179.4 243.6l3.5 3.4l3.5 1.7l3.5 -0.2l3.5 -2.1l3.5 -3.7l3.5 -4.5l3.5 -4.4l3.5 -3.3l3.5 -1.7l3.5 0.3l3.5 2.2l3.5 3.3l3.5 3.1l3.5 2.2l3.5 1l3.5 -0.1l3.5 -1.1l3.5 -2l3.5 -3.1l3.5 -4.1l3.5 -4.5l3.5 -4.3l3.5 -3.5l3.5 -2.5l3.5 -1.5l3.5 -0.5l3.5 0.4l3.5 1.2l3.5 2l3.5 2.7l3.5 3.1l3.5 3.1l3.5 2.8l3.5 2.3l3.5 1.9l3.5 1.1l3.5 1.1l3.5 1.6l3.5 2.3l3.5 2.4l3.5 2l3.5 2.1l3.5 2.9l3.5 3.4"/><path d="M179.4 259.7l3.5 -4.3l3.5 -3.5l3.5 -2l3.5 -0.6l3.5 0l3.5 -0.2l3.5 -1.3l3.5 -2.6l3.5 -3.6l3.5 -3.8l3.5 -3.1l3.5 -2l3.5 -1.1l3.5 -0.4l3.5 0.1l3.5 0.2l3.5 -0.2l3.5 -1l3.5 -2.2l3.5 -3.2l3.5 -3.2l3.5 -2.3l3.5 -0.8l3.5 0.9l3.5 2l3.5 2.4l3.5 1.9l3.5 0.9l3.5 -0l3.5 -0.6l3.5 -0.6l3.5 -0.1l3.5 0.8l3.5 1.8l3.5 2.7l3.5 2.5l3.5 2.8l3.5 2.9l3.5 2.5l3.5 1.5l3.5 0.6l3.5 1.4l3.5 4.1l3.5 7.2"/><path d="M179.4 240.5l3.5 -1.6l3.5 -1l3.5 0.2l3.5 1.5l3.5 2.4l3.5 2.7l3.5 2.5l3.5 1.7l3.5 0.6l3.5 -0.4l3.5 -1.3l3.5 -2l3.5 -2.9l3.5 -3.3l3.5 -3l3.5 -2.3l3.5 -1.3l3.5 -0.6l3.5 -0.7l3.5 -1.2l3.5 -1.6l3.5 -1.8l3.5 -1.6l3.5 -1.1l3.5 -0.3l3.5 0.5l3.5 1.2l3.5 1.8l3.5 2.1l3.5 1.9l3.5 1.1l3.5 -0.1l3.5 -1.4l3.5 -2.4l3.5 -2.7l3.5 -3.8l3.5 -2.9l3.5 -0.2l3.5 3.3l3.5 6.1l3.5 7.4l3.5 7.5l3.5 6.4l3.5 3.1"/><path d="M179.4 263.9l3.5 -6.1l3.5 -4.6l3.5 -2.9l3.5 -1.3l3.5 -0.2l3.5 0.4l3.5 0.5l3.5 0.4l3.5 0.2l3.5 0.1l3.5 0.1l3.5 -0l3.5 -0.7l3.5 -1.3l3.5 -1.6l3.5 -1.8l3.5 -1.7l3.5 -1.6l3.5 -2.1l3.5 -2.7l3.5 -2.9l3.5 -2.5l3.5 -1.5l3.5 -0.2l3.5 1.2l3.5 2.4l3.5 3.3l3.5 3.8l3.5 4l3.5 3.8l3.5 3l3.5 2l3.5 0.9l3.5 0l3.5 -0.3l3.5 1.6l3.5 2.4l3.5 3.6l3.5 4.9l3.5 5l3.5 3.9l3.5 2.3l3.5 0.8l3.5 -1"/><path d="M179.4 250.4l3.5 -0.2l3.5 -0.7l3.5 -1.1l3.5 -1.3l3.5 -1.3l3.5 -0.9l3.5 -0.3l3.5 0.4l3.5 0.9l3.5 1.2l3.5 1.1l3.5 0.3l3.5 -1.3l3.5 -2.9l3.5 -3.8l3.5 -3.9l3.5 -3.1l3.5 -2.1l3.5 -1.4l3.5 -0.8l3.5 -0.2l3.5 0.2l3.5 0.4l3.5 0.4l3.5 0.2l3.5 0l3.5 -0.1l3.5 0.1l3.5 0.8l3.5 1.5l3.5 2l3.5 2.2l3.5 1.9l3.5 1.2l3.5 0.7l3.5 0.6l3.5 0.7l3.5 1.6l3.5 3.2l3.5 4.6l3.5 5.5l3.5 6.4l3.5 7.2l3.5 6.4"/><path d="M179.4 250.3l3.5 -0.6l3.5 -2.5l3.5 -3.1l3.5 -2.7l3.5 -1.4l3.5 0.1l3.5 1.4l3.5 1.9l3.5 1.5l3.5 0.4l3.5 -1.2l3.5 -2.8l3.5 -4.3l3.5 -4.9l3.5 -4.1l3.5 -2.4l3.5 -0.4l3.5 1.1l3.5 1.4l3.5 0.8l3.5 -0.4l3.5 -1.7l3.5 -2.5l3.5 -2.6l3.5 -1.9l3.5 -0.6l3.5 1.1l3.5 2.8l3.5 4.1l3.5 4.6l3.5 4l3.5 2.6l3.5 0.9l3.5 -0.5l3.5 -1.2l3.5 -1.2l3.5 -0.2l3.5 2l3.5 4.3l3.5 5.2l3.5 4.2l3.5 2.1l3.5 -0.6l3.5 -3.8"/><path d="M179.4 251.4l3.5 0.2l3.5 -2.8l3.5 -4.8l3.5 -5.3l3.5 -4.1l3.5 -1.6l3.5 1.2l3.5 3.6l3.5 4.6l3.5 4.1l3.5 2.3l3.5 -0.6l3.5 -3.8l3.5 -6.1l3.5 -6.7l3.5 -5.6l3.5 -3.3l3.5 -1l3.5 0.5l3.5 1.2l3.5 1.2l3.5 0.6l3.5 -0l3.5 -0.4l3.5 -0.4l3.5 0.3l3.5 1.4l3.5 2.6l3.5 3.7l3.5 4.1l3.5 3.6l3.5 2.3l3.5 0.8l3.5 -0.5l3.5 -1.1l3.5 -0.6l3.5 0.3l3.5 2.1l3.5 4.1l3.5 4.7l3.5 3.6l3.5 1.7l3.5 -0.1l3.5 -2.1"/><path d="M179.4 236.9l3.5 -0.7l3.5 -0.7l3.5 -0.5l3.5 -0.3l3.5 -0.1l3.5 0.1l3.5 0.3l3.5 0.5l3.5 0.7l3.5 0.8l3.5 0.7l3.5 0.2l3.5 -1l3.5 -2.2l3.5 -2.8l3.5 -2.9l3.5 -2.4l3.5 -1.9l3.5 -1.8l3.5 -1.6l3.5 -1.2l3.5 -0.7l3.5 -0.1l3.5 0.6l3.5 1.1l3.5 1.4l3.5 1.6l3.5 1.8l3.5 2.1l3.5 2.2l3.5 2l3.5 1.5l3.5 0.8l3.5 0l3.5 -0.5l3.5 -1.3l3.5 -1.4l3.5 -0.4l3.5 1.1l3.5 2.1l3.5 2.7l3.5 3.3l3.5 4l3.5 3.6"/><path d="M179.4 258.0l3.5 -1.8l3.5 -1.1l3.5 -0.5l3.5 -0.1l3.5 0.7l3.5 1.8l3.5 2.4l3.5 2.6l3.5 2.7l3.5 3.8l3.5 3.5l3.5 1.5l3.5 -0.4l3.5 -1l3.5 -3l3.5 -6.5l3.5 -6.6l3.5 -4.3l3.5 -3.9l3.5 -3.4l3.5 -2.6l3.5 -1.6l3.5 -1.2l3.5 -1l3.5 -0.7l3.5 -0.3l3.5 0.2l3.5 0.9l3.5 1.4l3.5 1.6l3.5 1.5l3.5 1.6l3.5 1.8l3.5 2.1l3.5 2.4l3.5 2.9l3.5 3.6l3.5 4.1l3.5 4.5l3.5 4.7l3.5 5.2l3.5 5.8l3.5 6.2l3.5 6.6"/></g>
<clipPath id="c179_306"><rect x="179.4" y="180.2" width="170" height="140"/></clipPath>
<g clip-path="url(#c179_306)"><g fill="none" stroke-width="6.6" stroke-linecap="round" stroke-linejoin="round"><path d="M179.4 246.1l1.6 -0.1l1.6 -0.2l1.6 -0.2l1.6 -0.2" stroke="#ff2a00"/><path d="M185.6 245.4l1.6 -0.2l1.6 -0.2l1.6 -0.1l1.6 -0.1l1.6 -0.1l1.6 -0.1l1.6 -0.1l1.6 -0.1l1.6 -0l1.6 -0l1.6 -0l1.6 0l1.6 0l1.6 0.1l1.6 0.1l1.6 0.1l1.6 0.1l1.6 0.1l1.6 0.1l1.6 0.1l1.6 -0l1.6 -0.1l1.6 -0.3l1.6 -0.5" stroke="#ff1500"/><path d="M222.9 244.0l1.6 -0.7" stroke="#ff0000"/><path d="M224.4 243.3l1.6 -1" stroke="#e90000"/><path d="M226.0 242.3l1.6 -1.1" stroke="#d40000"/><path d="M227.5 241.2l1.6 -1.3" stroke="#bf0000"/><path d="M229.1 239.9l1.6 -1.3l1.6 -1.3l1.6 -1.3l1.6 -1.2l1.6 -1.1l1.6 -0.9l1.6 -0.8l1.6 -0.7l1.6 -0.6l1.6 -0.6l1.6 -0.5l1.6 -0.5l1.6 -0.5l1.6 -0.4l1.6 -0.4l1.6 -0.3l1.6 -0.3l1.6 -0.2l1.6 -0.1l1.6 -0.1l1.6 -0l1.6 0l1.6 0.1l1.6 0.1l1.6 0.1l1.6 0.1l1.6 0.2l1.6 0.2l1.6 0.2l1.6 0.2l1.6 0.3l1.6 0.4l1.6 0.5l1.6 0.6l1.6 0.7l1.6 0.8l1.6 0.8l1.6 0.8l1.6 0.8l1.6 0.8l1.6 0.7l1.6 0.7l1.6 0.6l1.6 0.5l1.6 0.5l1.6 0.4l1.6 0.4l1.6 0.4l1.6 0.4l1.6 0.5" stroke="#a90000"/><path d="M306.7 239.9l1.6 0.6l1.6 0.8" stroke="#bf0000"/><path d="M309.9 241.3l1.6 1.1" stroke="#d40000"/><path d="M311.4 242.4l1.6 1.4" stroke="#e90000"/><path d="M313.0 243.7l1.6 1.6" stroke="#ff1500"/><path d="M314.5 245.4l1.6 1.8" stroke="#ff2a00"/><path d="M316.1 247.2l1.6 1.9" stroke="#ff5500"/><path d="M317.6 249.1l1.6 1.9" stroke="#ff7f00"/><path d="M319.2 251.0l1.6 1.9" stroke="#ffa900"/><path d="M320.7 252.9l1.6 1.9" stroke="#ffbf00"/><path d="M322.3 254.8l1.6 1.9" stroke="#ffe900"/><path d="M323.8 256.6l1.6 1.9" stroke="#e9ff15"/><path d="M325.4 258.5l1.6 1.9" stroke="#bfff3f"/><path d="M326.9 260.4l1.6 1.9" stroke="#a9ff55"/><path d="M328.5 262.3l1.6 1.8" stroke="#7fff7f"/><path d="M330.0 264.1l1.6 1.6" stroke="#54ffaa"/><path d="M331.6 265.7l1.6 1.2" stroke="#3fffbf"/></g></g>
<path d="M179.4 185.2V306.6H333.1" fill="none" stroke="#3a3a3a" stroke-width="1"/><path d="M193.4 306.6v-2M208.9 306.6v-2M224.4 306.6v-2M240 306.6v-2M255.5 306.6v-2M271 306.6v-2M286.6 306.6v-2M302.1 306.6v-2M317.6 306.6v-2M333.1 306.6v-2M179.4 289.2h2M179.4 271.9h2M179.4 254.6h2M179.4 237.2h2M179.4 219.9h2M179.4 202.5h2" stroke="#3a3a3a" stroke-width="0.8"/>
<g font-family="'Liberation Serif', serif" font-size="8.3" fill="#555" text-anchor="middle"><text x="193.4" y="315.3">10</text><text x="208.9" y="315.3">20</text><text x="224.4" y="315.3">30</text><text x="240" y="315.3">40</text><text x="255.5" y="315.3">50</text><text x="271" y="315.3">60</text><text x="286.6" y="315.3">70</text><text x="302.1" y="315.3">80</text><text x="317.6" y="315.3">90</text><text x="333.1" y="315.3">100</text></g>
<g font-family="'Liberation Serif', serif" font-size="8.3" fill="#555" text-anchor="end"><text x="176.8" y="292.1">0.3</text><text x="176.8" y="274.7">0.4</text><text x="176.8" y="257.4">0.5</text><text x="176.8" y="240">0.6</text><text x="176.8" y="222.7">0.7</text><text x="176.8" y="205.3">0.8</text></g>
<text transform="translate(159.9 245.9) rotate(-90)" text-anchor="middle" font-family="'Liberation Serif', serif" font-size="12" fill="#222">Fractional Anisotropy</text>
<text x="240.3" y="197.6" font-family="'Liberation Serif', serif" font-size="14.6" fill="#111" textLength="31.3" lengthAdjust="spacingAndGlyphs">Right</text>
<text x="256.3" y="327.4" text-anchor="middle" font-family="'Liberation Serif', serif" font-size="11.8" fill="#222">Location</text>
<clipPath id="g445_306"><rect x="445.7" y="184.2" width="160" height="121.9"/></clipPath>
<g clip-path="url(#g445_306)" fill="none" stroke="#9d9d9d" stroke-width="1.1" stroke-linejoin="round"><path d="M445.7 281.3l3.5 1.3l3.5 1l3.5 0.6l3.5 -0l3.5 -0.7l3.5 -1.6l3.5 -2.3l3.5 -2.6l3.5 -2.6l3.5 -2.3l3.5 -1.9l3.5 -1.5l3.5 -1l3.5 -0.6l3.5 -0.3l3.5 -0.1l3.5 -0.1l3.5 -0.4l3.5 -0.7l3.5 -1.2l3.5 -1.7l3.5 -2.1l3.5 -2.4l3.5 -2.5l3.5 -2.3l3.5 -2l3.5 -1.7l3.5 -1.4l3.5 -1.6l3.5 -1.8l3.5 -1.5l3.5 -1l3.5 -0.6l3.5 -0.3l3.5 0.1l3.5 0.6l3.5 0.8l3.5 0.5l3.5 0.3l3.5 0.5l3.5 0.7l3.5 1l3.5 1.5l3.5 1.5"/><path d="M445.7 275.7l3.5 0.9l3.5 1.7l3.5 2.3l3.5 2.4l3.5 1.8l3.5 0.7l3.5 -0.6l3.5 -1.7l3.5 -2.6l3.5 -3.1l3.5 -3.1l3.5 -2.7l3.5 -1.8l3.5 -0.7l3.5 0.5l3.5 1.5l3.5 2.1l3.5 2.2l3.5 1.8l3.5 0.9l3.5 -0.3l3.5 -1.6l3.5 -2.7l3.5 -3.4l3.5 -3.6l3.5 -3.4l3.5 -2.7l3.5 -2l3.5 -1.7l3.5 -1.4l3.5 -0.8l3.5 0.1l3.5 0.2l3.5 -0l3.5 -0.3l3.5 -0.4l3.5 -0.7l3.5 -1.1l3.5 -0.8l3.5 0.2l3.5 1.6l3.5 3.1l3.5 4.7l3.5 5.3"/><path d="M445.7 280.7l3.5 -0.9l3.5 -0.1l3.5 0.9l3.5 1.7l3.5 2l3.5 1.5l3.5 0.4l3.5 -0.9l3.5 -2.2l3.5 -3.3l3.5 -3.8l3.5 -3.5l3.5 -2.5l3.5 -0.9l3.5 0.7l3.5 2l3.5 2.5l3.5 2.1l3.5 0.8l3.5 -1l3.5 -2.9l3.5 -4.3l3.5 -4.8l3.5 -4.3l3.5 -2.8l3.5 -0.9l3.5 0.8l3.5 1.7l3.5 1.2l3.5 -0.3l3.5 -1.9l3.5 -3.4l3.5 -5.3l3.5 -6.5l3.5 -6l3.5 -4l3.5 -1l3.5 2.3l3.5 5.5l3.5 7.8l3.5 8.3l3.5 7l3.5 4.4l3.5 0.6"/><path d="M445.7 285.4l3.5 1.6l3.5 1.5l3.5 0.9l3.5 0.2l3.5 -0.7l3.5 -1.7l3.5 -2.3l3.5 -2.4l3.5 -2l3.5 -1.4l3.5 -0.7l3.5 -0.1l3.5 0.3l3.5 0.3l3.5 -0l3.5 -0.6l3.5 -1.4l3.5 -2l3.5 -2.5l3.5 -2.7l3.5 -2.5l3.5 -2l3.5 -1.3l3.5 -0.5l3.5 0.2l3.5 0.5l3.5 0.4l3.5 -0.3l3.5 -1.6l3.5 -3l3.5 -3.6l3.5 -3.5l3.5 -3.5l3.5 -3.1l3.5 -1.8l3.5 0l3.5 1.6l3.5 2.8l3.5 3.6l3.5 4.1l3.5 3.8l3.5 3l3.5 2l3.5 0.3"/><path d="M445.7 295.6l3.5 -0.6l3.5 -0.5l3.5 -0.2l3.5 0l3.5 -0.1l3.5 -0.6l3.5 -1.3l3.5 -2l3.5 -2.5l3.5 -2.6l3.5 -2.4l3.5 -1.7l3.5 -0.6l3.5 0.7l3.5 2l3.5 2.9l3.5 3.1l3.5 2.7l3.5 1.6l3.5 0l3.5 -1.6l3.5 -3.1l3.5 -4.1l3.5 -4.3l3.5 -3.9l3.5 -3.1l3.5 -2.1l3.5 -1.5l3.5 -1.8l3.5 -2.5l3.5 -2.7l3.5 -2.8l3.5 -3.6l3.5 -4.3l3.5 -4l3.5 -2.7l3.5 -1l3.5 1l3.5 3.4l3.5 5.8l3.5 7.6l3.5 8.5l3.5 8.6l3.5 7.2"/><path d="M445.7 284.8l3.5 -0.7l3.5 -0.4l3.5 -0.3l3.5 -0.1l3.5 -0.1l3.5 -0.2l3.5 -0.1l3.5 0.2l3.5 0.7l3.5 1.2l3.5 1.5l3.5 1.4l3.5 1.1l3.5 0.3l3.5 -0.7l3.5 -1.9l3.5 -3.1l3.5 -4.1l3.5 -4.7l3.5 -4.9l3.5 -4.6l3.5 -3.7l3.5 -2.4l3.5 -0.9l3.5 0.6l3.5 1.8l3.5 2.5l3.5 2.4l3.5 1.3l3.5 -0.3l3.5 -1.3l3.5 -1.7l3.5 -2.8l3.5 -3.8l3.5 -4l3.5 -3.4l3.5 -2.6l3.5 -1.6l3.5 -0.2l3.5 1.6l3.5 3l3.5 4l3.5 4.7l3.5 4.2"/><path d="M445.7 292.4l3.5 0.8l3.5 0.7l3.5 0.5l3.5 0.1l3.5 -0.4l3.5 -1.1l3.5 -1.7l3.5 -1.8l3.5 -1.6l3.5 -1.2l3.5 -0.9l3.5 -0.7l3.5 -0.6l3.5 -0.6l3.5 -0.7l3.5 -0.9l3.5 -1l3.5 -1.1l3.5 -1.1l3.5 -1l3.5 -0.9l3.5 -0.8l3.5 -0.8l3.5 -0.9l3.5 -1.1l3.5 -1.4l3.5 -1.8l3.5 -2.4l3.5 -3.2l3.5 -3.8l3.5 -3.5l3.5 -2.6l3.5 -2l3.5 -1.4l3.5 -0.5l3.5 0.6l3.5 1.3l3.5 1.6l3.5 2l3.5 2.6l3.5 3l3.5 3.3l3.5 3.6l3.5 3"/><path d="M445.7 279.3l3.5 -3l3.5 -3.6l3.5 -2.9l3.5 -1.1l3.5 1.4l3.5 3.7l3.5 5.3l3.5 5.7l3.5 4.7l3.5 2.2l3.5 -1.1l3.5 -4.3l3.5 -6.6l3.5 -7.4l3.5 -6.7l3.5 -4.8l3.5 -2.4l3.5 -0.1l3.5 1.4l3.5 1.8l3.5 1.4l3.5 0.4l3.5 -0.4l3.5 -0.9l3.5 -0.6l3.5 0.1l3.5 0.8l3.5 1l3.5 0l3.5 -1.8l3.5 -3.5l3.5 -5.1l3.5 -7.1l3.5 -8.3l3.5 -7.8l3.5 -5.6l3.5 -2.5l3.5 0.8l3.5 4l3.5 6.7l3.5 7.9l3.5 7.9l3.5 7.1l3.5 5.4"/><path d="M445.7 282.6l3.5 1.1l3.5 1.9l3.5 2.5l3.5 2.5l3.5 2l3.5 0.7l3.5 -0.8l3.5 -2.4l3.5 -3.8l3.5 -4.8l3.5 -5.4l3.5 -5.3l3.5 -4.8l3.5 -3.7l3.5 -2.3l3.5 -0.9l3.5 0.3l3.5 1.2l3.5 1.6l3.5 1.6l3.5 1.2l3.5 0.6l3.5 0l3.5 -0.4l3.5 -0.6l3.5 -0.5l3.5 -0.3l3.5 -0.3l3.5 -0.8l3.5 -1.4l3.5 -1.5l3.5 -1.4l3.5 -2l3.5 -3l3.5 -3.6l3.5 -3.8l3.5 -3.8l3.5 -3.6l3.5 -2.6l3.5 -0.6l3.5 1.6l3.5 3.9l3.5 6l3.5 6.9"/><path d="M445.7 275.7l3.5 -2.9l3.5 -1l3.5 1l3.5 2.6l3.5 3l3.5 2l3.5 0.1l3.5 -2.2l3.5 -4l3.5 -5l3.5 -4.9l3.5 -3.6l3.5 -1.5l3.5 0.7l3.5 2.4l3.5 3.1l3.5 2.6l3.5 1l3.5 -1.1l3.5 -3.1l3.5 -4.3l3.5 -4.3l3.5 -3.2l3.5 -1.3l3.5 0.8l3.5 2.3l3.5 2.6l3.5 1.6l3.5 -0.9l3.5 -3.9l3.5 -6l3.5 -7.1l3.5 -7.3l3.5 -5.9l3.5 -2.8l3.5 1l3.5 4.3l3.5 6.1l3.5 6.2l3.5 4.7l3.5 1.9l3.5 -1.2l3.5 -3.3l3.5 -4.3"/><path d="M445.7 288.2l3.5 0.9l3.5 1.9l3.5 2.3l3.5 1.9l3.5 0.5l3.5 -1.4l3.5 -3.3l3.5 -4.5l3.5 -4.7l3.5 -3.9l3.5 -2.3l3.5 -0.3l3.5 1.6l3.5 2.9l3.5 3.3l3.5 2.6l3.5 1l3.5 -0.9l3.5 -2.7l3.5 -3.7l3.5 -3.8l3.5 -2.8l3.5 -1.1l3.5 0.7l3.5 2.2l3.5 2.6l3.5 1.9l3.5 -0.2l3.5 -3.3l3.5 -6.3l3.5 -7.8l3.5 -8l3.5 -7.5l3.5 -5.5l3.5 -1.8l3.5 2.4l3.5 5.9l3.5 7.7l3.5 7.7l3.5 6.2l3.5 3.2l3.5 -0.1l3.5 -2.6l3.5 -4"/><path d="M445.7 285.6l3.5 2.3l3.5 1.1l3.5 -0.2l3.5 -1.4l3.5 -2.5l3.5 -3.3l3.5 -3.6l3.5 -3.4l3.5 -2.7l3.5 -1.9l3.5 -1.2l3.5 -0.7l3.5 -0.3l3.5 -0.2l3.5 -0.2l3.5 -0.2l3.5 -0.1l3.5 0l3.5 0.2l3.5 0.5l3.5 0.6l3.5 0.6l3.5 0.2l3.5 -0.4l3.5 -1.2l3.5 -2.3l3.5 -3.4l3.5 -4.6l3.5 -5.8l3.5 -6.4l3.5 -6l3.5 -5.1l3.5 -3.5l3.5 -1.6l3.5 0.8l3.5 3.2l3.5 4.7l3.5 5.2l3.5 5l3.5 4.4l3.5 3.3l3.5 1.9l3.5 0.9l3.5 -0.4"/><path d="M445.7 284.5l3.5 0.7l3.5 1.1l3.5 1.3l3.5 1.3l3.5 1l3.5 0.5l3.5 -0l3.5 -0.5l3.5 -0.7l3.5 -0.9l3.5 -1.2l3.5 -1.4l3.5 -1.5l3.5 -1.5l3.5 -1.5l3.5 -1.4l3.5 -1.3l3.5 -1.3l3.5 -1.4l3.5 -1.5l3.5 -1.7l3.5 -1.9l3.5 -2l3.5 -1.9l3.5 -1.5l3.5 -0.9l3.5 -0.3l3.5 0.1l3.5 -0.1l3.5 -0.5l3.5 -0.5l3.5 -0.1l3.5 -0.7l3.5 -1.8l3.5 -2.6l3.5 -3.1l3.5 -3.4l3.5 -3.5l3.5 -2.7l3.5 -0.9l3.5 1.3l3.5 3.6l3.5 5.8l3.5 6.8"/><path d="M445.7 295.4l3.5 2.4l3.5 1.6l3.5 0.5l3.5 -0.7l3.5 -1.9l3.5 -2.8l3.5 -3.3l3.5 -3.1l3.5 -2.2l3.5 -1.1l3.5 0.1l3.5 1.1l3.5 1.7l3.5 1.9l3.5 1.6l3.5 0.8l3.5 -0.3l3.5 -1.5l3.5 -2.7l3.5 -3.5l3.5 -3.9l3.5 -3.8l3.5 -3.2l3.5 -2.3l3.5 -1.2l3.5 -0.3l3.5 0.3l3.5 0.3l3.5 -0.6l3.5 -1.9l3.5 -2.6l3.5 -2.7l3.5 -3.6l3.5 -4.2l3.5 -3.9l3.5 -2.8l3.5 -1.3l3.5 0.4l3.5 2.5l3.5 4.8l3.5 6.7l3.5 7.7l3.5 8l3.5 6.7"/><path d="M445.7 294.5l3.5 0.7l3.5 0.3l3.5 -0.1l3.5 -0.5l3.5 -0.8l3.5 -1.3l3.5 -1.6l3.5 -1.7l3.5 -1.7l3.5 -1.6l3.5 -1.6l3.5 -1.6l3.5 -1.6l3.5 -1.4l3.5 -1.2l3.5 -0.8l3.5 -0.3l3.5 0.1l3.5 0.4l3.5 0.6l3.5 0.6l3.5 0.3l3.5 -0.1l3.5 -0.7l3.5 -1.3l3.5 -1.9l3.5 -2.4l3.5 -3.1l3.5 -4l3.5 -4.8l3.5 -4.6l3.5 -3.8l3.5 -3.3l3.5 -2.6l3.5 -1.2l3.5 0.6l3.5 2.2l3.5 3.4l3.5 4.6l3.5 5.6l3.5 6l3.5 5.8l3.5 5.1l3.5 3.3"/><path d="M445.7 280.0l3.5 0.2l3.5 1.4l3.5 2.3l3.5 2.8l3.5 2.6l3.5 1.5l3.5 0l3.5 -1.6l3.5 -3l3.5 -4l3.5 -4.6l3.5 -4.6l3.5 -3.9l3.5 -2.8l3.5 -1.5l3.5 -0.1l3.5 1.2l3.5 2.3l3.5 2.9l3.5 3l3.5 2.6l3.5 1.7l3.5 0.3l3.5 -1.4l3.5 -3.3l3.5 -4.9l3.5 -6.2l3.5 -6.9l3.5 -7.2l3.5 -6.5l3.5 -4.7l3.5 -2.3l3.5 0.6l3.5 3.1l3.5 5.1l3.5 6.2l3.5 5.7l3.5 3.7l3.5 1.2l3.5 -1l3.5 -2.6l3.5 -3.3l3.5 -2.6l3.5 -1.6"/><path d="M445.7 288.5l3.5 1.2l3.5 0.2l3.5 -0.7l3.5 -1.3l3.5 -1.4l3.5 -1.2l3.5 -0.7l3.5 -0.1l3.5 0.3l3.5 0.2l3.5 -0.6l3.5 -1.7l3.5 -2.9l3.5 -3.8l3.5 -4l3.5 -3.4l3.5 -2.2l3.5 -0.6l3.5 0.9l3.5 1.9l3.5 2.2l3.5 1.7l3.5 0.5l3.5 -0.8l3.5 -2l3.5 -2.7l3.5 -2.9l3.5 -2.8l3.5 -2.7l3.5 -2.5l3.5 -1.9l3.5 -1.3l3.5 -1.6l3.5 -2.3l3.5 -2.8l3.5 -2.8l3.5 -2.3l3.5 -1.3l3.5 0.6l3.5 3.2l3.5 5.5l3.5 6.9l3.5 7.3l3.5 5.6"/><path d="M445.7 286.4l3.5 -1.5l3.5 -2l3.5 -2l3.5 -1.8l3.5 -1.5l3.5 -1.2l3.5 -0.9l3.5 -0.4l3.5 0.1l3.5 0.6l3.5 0.8l3.5 1l3.5 1.1l3.5 0.9l3.5 0.6l3.5 0.1l3.5 -0.6l3.5 -1.4l3.5 -2.1l3.5 -2.8l3.5 -3.1l3.5 -3.1l3.5 -2.7l3.5 -2.1l3.5 -1.3l3.5 -0.5l3.5 -0.1l3.5 -0.1l3.5 -0.8l3.5 -1.7l3.5 -2l3.5 -1.8l3.5 -1.9l3.5 -2.1l3.5 -1.8l3.5 -1.3l3.5 -1l3.5 -1.1l3.5 -1l3.5 -0.5l3.5 0.1l3.5 0.9l3.5 2.2l3.5 3"/><path d="M445.7 285.0l3.5 -1.9l3.5 -1.9l3.5 -1.7l3.5 -1.4l3.5 -1.1l3.5 -0.9l3.5 -0.8l3.5 -0.5l3.5 -0.3l3.5 -0.2l3.5 -0.2l3.5 -0.4l3.5 -0.5l3.5 -0.5l3.5 -0.4l3.5 -0.2l3.5 0.2l3.5 0.6l3.5 1l3.5 1.3l3.5 1.3l3.5 1l3.5 0.5l3.5 -0.2l3.5 -1.1l3.5 -2l3.5 -2.8l3.5 -3.6l3.5 -4.6l3.5 -5.2l3.5 -4.8l3.5 -3.8l3.5 -3.1l3.5 -2.4l3.5 -1.4l3.5 -0.4l3.5 0l3.5 -0.2l3.5 -0.4l3.5 -0.4l3.5 -0.4l3.5 -0.1l3.5 0.8l3.5 1.3"/><path d="M445.7 288.2l3.5 -4l3.5 -3.2l3.5 -1.9l3.5 -0.4l3.5 0.8l3.5 1.4l3.5 1.5l3.5 1.1l3.5 0.6l3.5 0.1l3.5 -0.2l3.5 -0.1l3.5 0.2l3.5 0.7l3.5 1l3.5 0.8l3.5 0.1l3.5 -1l3.5 -2.3l3.5 -3.4l3.5 -4.2l3.5 -4.2l3.5 -3.7l3.5 -2.6l3.5 -1.5l3.5 -0.6l3.5 -0.3l3.5 -0.7l3.5 -2l3.5 -3.3l3.5 -3.7l3.5 -3.3l3.5 -2.5l3.5 -1.2l3.5 0.8l3.5 2.9l3.5 4.3l3.5 4.4l3.5 3.8l3.5 2.8l3.5 1.5l3.5 0.5l3.5 0.4l3.5 0.3"/><path d="M445.7 289.6l3.5 0.8l3.5 0.6l3.5 0.3l3.5 0l3.5 -0.4l3.5 -1.1l3.5 -1.6l3.5 -2l3.5 -2.1l3.5 -2.3l3.5 -2.4l3.5 -2.5l3.5 -2.5l3.5 -2.5l3.5 -2.4l3.5 -2.3l3.5 -2.1l3.5 -1.9l3.5 -1.6l3.5 -1.3l3.5 -1.1l3.5 -0.9l3.5 -0.7l3.5 -0.5l3.5 -0.4l3.5 -0.4l3.5 -0.5l3.5 -0.8l3.5 -1.6l3.5 -2.4l3.5 -2.5l3.5 -2.2l3.5 -2l3.5 -1.7l3.5 -0.9l3.5 0.1l3.5 0.8l3.5 1.1l3.5 1.5l3.5 2l3.5 2.3l3.5 2.4l3.5 2.5l3.5 2"/><path d="M445.7 291.4l3.5 0.4l3.5 -0.6l3.5 -1.5l3.5 -2l3.5 -2.2l3.5 -2.1l3.5 -1.5l3.5 -0.6l3.5 0.4l3.5 1.1l3.5 1.2l3.5 0.7l3.5 -0.1l3.5 -1.1l3.5 -2l3.5 -2.5l3.5 -2.5l3.5 -2l3.5 -1.1l3.5 -0.1l3.5 0.8l3.5 1.3l3.5 1.2l3.5 0.6l3.5 -0.4l3.5 -1.7l3.5 -3l3.5 -4l3.5 -4.9l3.5 -5.2l3.5 -4.2l3.5 -2.5l3.5 -1l3.5 0.3l3.5 1.5l3.5 2.1l3.5 1.9l3.5 0.7l3.5 -0.5l3.5 -1.1l3.5 -1.1l3.5 -0.5l3.5 1.2l3.5 2.6"/><path d="M445.7 281.5l3.5 0.8l3.5 1.2l3.5 1.1l3.5 0.9l3.5 0.5l3.5 0l3.5 -0.2l3.5 -0l3.5 0.2l3.5 0.3l3.5 -0.1l3.5 -0.8l3.5 -1.8l3.5 -2.8l3.5 -3.5l3.5 -3.7l3.5 -3.2l3.5 -2.3l3.5 -1.1l3.5 0.1l3.5 0.9l3.5 1.2l3.5 0.9l3.5 0.2l3.5 -0.7l3.5 -1.5l3.5 -2.1l3.5 -2.5l3.5 -3.2l3.5 -3.6l3.5 -3.4l3.5 -3l3.5 -3l3.5 -3.2l3.5 -2.8l3.5 -1.7l3.5 -0.5l3.5 1l3.5 2.9l3.5 5.1l3.5 6.6l3.5 7.1l3.5 6.7l3.5 4.7"/><path d="M445.7 290.7l3.5 0.2l3.5 0.1l3.5 -0.2l3.5 -0.6l3.5 -1.1l3.5 -1.8l3.5 -2.2l3.5 -2.4l3.5 -2.2l3.5 -1.9l3.5 -1.7l3.5 -1.5l3.5 -1.4l3.5 -1.3l3.5 -1.1l3.5 -1l3.5 -0.7l3.5 -0.3l3.5 0.1l3.5 0.4l3.5 0.7l3.5 0.7l3.5 0.6l3.5 0.3l3.5 -0l3.5 -0.4l3.5 -0.8l3.5 -1.3l3.5 -2.1l3.5 -2.8l3.5 -2.7l3.5 -2.1l3.5 -2.2l3.5 -2.5l3.5 -2.3l3.5 -1.9l3.5 -1.6l3.5 -1.3l3.5 -0.6l3.5 0.4l3.5 1.3l3.5 1.9l3.5 2.3l3.5 1.6"/><path d="M445.7 288.8l3.5 -0l3.5 -0.2l3.5 -0.4l3.5 -0.6l3.5 -1l3.5 -1.4l3.5 -1.6l3.5 -1.5l3.5 -1.2l3.5 -0.8l3.5 -0.5l3.5 -0.2l3.5 -0.1l3.5 -0.2l3.5 -0.4l3.5 -0.7l3.5 -1.1l3.5 -1.4l3.5 -1.6l3.5 -1.7l3.5 -1.6l3.5 -1.3l3.5 -0.9l3.5 -0.4l3.5 0l3.5 0.2l3.5 0.1l3.5 -0.5l3.5 -1.8l3.5 -3.2l3.5 -3.8l3.5 -3.9l3.5 -4.3l3.5 -4.5l3.5 -3.8l3.5 -2.5l3.5 -1l3.5 0.5l3.5 2.1l3.5 3.9l3.5 5.2l3.5 6l3.5 6.4l3.5 5.5"/><path d="M445.7 284.2l3.5 3.5l3.5 3.5l3.5 3.2l3.5 2.4l3.5 1.3l3.5 -0.1l3.5 -1.5l3.5 -2.5l3.5 -2.9l3.5 -3l3.5 -2.8l3.5 -2.3l3.5 -1.6l3.5 -0.9l3.5 -0.3l3.5 -0.1l3.5 -0.2l3.5 -0.6l3.5 -1.4l3.5 -2.3l3.5 -3.2l3.5 -3.8l3.5 -4l3.5 -3.8l3.5 -3l3.5 -1.9l3.5 -0.7l3.5 0.3l3.5 0.6l3.5 0.7l3.5 0.9l3.5 1.4l3.5 0.9l3.5 -0.1l3.5 -0.9l3.5 -1.7l3.5 -2.4l3.5 -3l3.5 -2.7l3.5 -1.4l3.5 0.4l3.5 2.6l3.5 5l3.5 6.5"/><path d="M445.7 285.8l3.5 -0.4l3.5 -0.3l3.5 -0.2l3.5 -0.1l3.5 -0.2l3.5 -0.6l3.5 -0.9l3.5 -1.1l3.5 -1.2l3.5 -1.3l3.5 -1.4l3.5 -1.5l3.5 -1.5l3.5 -1.4l3.5 -1.3l3.5 -1.1l3.5 -0.9l3.5 -0.6l3.5 -0.3l3.5 -0.1l3.5 0l3.5 0l3.5 -0.1l3.5 -0.3l3.5 -0.5l3.5 -0.9l3.5 -1.4l3.5 -2.2l3.5 -3.2l3.5 -4.2l3.5 -4.3l3.5 -3.8l3.5 -3.5l3.5 -2.9l3.5 -1.7l3.5 -0.2l3.5 1.2l3.5 2.3l3.5 3.3l3.5 4.4l3.5 5l3.5 5.3l3.5 5.3l3.5 4.4"/><path d="M445.7 283.4l3.5 0.4l3.5 0.3l3.5 0.1l3.5 -0.1l3.5 -0.5l3.5 -0.9l3.5 -1.3l3.5 -1.5l3.5 -1.4l3.5 -1.3l3.5 -1.2l3.5 -1.2l3.5 -1.1l3.5 -1.1l3.5 -1l3.5 -0.9l3.5 -0.8l3.5 -0.7l3.5 -0.6l3.5 -0.6l3.5 -0.5l3.5 -0.5l3.5 -0.6l3.5 -0.7l3.5 -0.8l3.5 -1l3.5 -1.4l3.5 -2l3.5 -3l3.5 -3.9l3.5 -4l3.5 -3.7l3.5 -3.4l3.5 -2.9l3.5 -1.8l3.5 -0.4l3.5 0.8l3.5 1.7l3.5 2.5l3.5 3.4l3.5 3.8l3.5 3.9l3.5 3.9l3.5 2.9"/><path d="M445.7 286.1l3.5 -0.4l3.5 -0.6l3.5 -0.7l3.5 -0.7l3.5 -0.8l3.5 -0.9l3.5 -0.9l3.5 -0.7l3.5 -0.4l3.5 -0.2l3.5 -0.1l3.5 -0.2l3.5 -0.3l3.5 -0.6l3.5 -0.9l3.5 -1.2l3.5 -1.5l3.5 -1.7l3.5 -1.9l3.5 -1.9l3.5 -1.9l3.5 -1.8l3.5 -1.7l3.5 -1.5l3.5 -1.4l3.5 -1.3l3.5 -1.4l3.5 -1.7l3.5 -2.6l3.5 -3.3l3.5 -3.5l3.5 -3.2l3.5 -2.9l3.5 -2.5l3.5 -1.5l3.5 -0.1l3.5 1.1l3.5 2l3.5 2.9l3.5 3.8l3.5 4.5l3.5 4.7l3.5 4.7l3.5 3.8"/><path d="M445.7 283.1l3.5 -1.4l3.5 -1.6l3.5 -1.7l3.5 -1.6l3.5 -1.5l3.5 -1.4l3.5 -1.2l3.5 -0.7l3.5 -0l3.5 0.6l3.5 1l3.5 1.3l3.5 1.3l3.5 1.2l3.5 0.8l3.5 0.3l3.5 -0.2l3.5 -0.9l3.5 -1.5l3.5 -2l3.5 -2.5l3.5 -2.8l3.5 -2.9l3.5 -2.9l3.5 -2.7l3.5 -2.4l3.5 -2.2l3.5 -2.2l3.5 -2.6l3.5 -3l3.5 -2.8l3.5 -2.4l3.5 -2l3.5 -1.5l3.5 -0.7l3.5 0.4l3.5 1.2l3.5 1.7l3.5 2.2l3.5 2.8l3.5 3.3l3.5 3.5l3.5 3.7l3.5 3"/><path d="M445.7 294.1l3.5 -1.9l3.5 -0.3l3.5 1.5l3.5 2.8l3.5 3l3.5 2l3.5 0.2l3.5 -1.7l3.5 -3l3.5 -3.3l3.5 -2.7l3.5 -1.2l3.5 0.6l3.5 1.9l3.5 2.2l3.5 1.5l3.5 -0.2l3.5 -2l3.5 -3.6l3.5 -4.2l3.5 -3.7l3.5 -2.3l3.5 -0.7l3.5 0.6l3.5 0.9l3.5 0.2l3.5 -1.6l3.5 -3.8l3.5 -6l3.5 -7.3l3.5 -6.6l3.5 -4.6l3.5 -2.4l3.5 -0.2l3.5 1.7l3.5 2.6l3.5 2l3.5 0.3l3.5 -1.2l3.5 -1.4l3.5 -0.3l3.5 2.2l3.5 5.4l3.5 7.7"/><path d="M445.7 290.5l3.5 4.8l3.5 3.8l3.5 2l3.5 -0.1l3.5 -2.1l3.5 -3.6l3.5 -4.2l3.5 -3.9l3.5 -3.1l3.5 -2.1l3.5 -1.4l3.5 -1l3.5 -1l3.5 -1.1l3.5 -1.3l3.5 -1.3l3.5 -1.1l3.5 -0.8l3.5 -0.5l3.5 -0.4l3.5 -0.4l3.5 -0.6l3.5 -0.9l3.5 -1l3.5 -0.9l3.5 -0.7l3.5 -0.5l3.5 -0.8l3.5 -1.8l3.5 -3.3l3.5 -4.4l3.5 -5.2l3.5 -6.4l3.5 -6.9l3.5 -5.8l3.5 -3.2l3.5 0.3l3.5 4l3.5 7.5l3.5 9.9l3.5 10.3l3.5 8.6l3.5 5.4l3.5 1.1"/><path d="M445.7 278.4l3.5 -1.1l3.5 0.4l3.5 1.7l3.5 2.5l3.5 2.4l3.5 1.5l3.5 0.2l3.5 -1.2l3.5 -2.2l3.5 -2.9l3.5 -3l3.5 -2.5l3.5 -1.5l3.5 -0.3l3.5 0.8l3.5 1.5l3.5 1.6l3.5 1.1l3.5 0l3.5 -1.3l3.5 -2.5l3.5 -3.3l3.5 -3.6l3.5 -3.2l3.5 -2.3l3.5 -1.2l3.5 -0.3l3.5 0.1l3.5 -0.5l3.5 -1.7l3.5 -2.5l3.5 -3.2l3.5 -4.2l3.5 -4.9l3.5 -4.5l3.5 -3.1l3.5 -1l3.5 1.3l3.5 3.8l3.5 6.1l3.5 7.4l3.5 7.4l3.5 6.3l3.5 3.6"/><path d="M445.7 292.5l3.5 1l3.5 -0.1l3.5 -1.3l3.5 -2.2l3.5 -2.7l3.5 -2.7l3.5 -2.1l3.5 -1l3.5 0.2l3.5 1.1l3.5 1.3l3.5 0.9l3.5 0l3.5 -1.1l3.5 -2.2l3.5 -2.9l3.5 -3l3.5 -2.5l3.5 -1.5l3.5 -0.3l3.5 0.8l3.5 1.5l3.5 1.5l3.5 1l3.5 -0.1l3.5 -1.4l3.5 -2.7l3.5 -3.9l3.5 -4.8l3.5 -5.1l3.5 -4.1l3.5 -2.5l3.5 -1l3.5 0.2l3.5 1.3l3.5 2l3.5 1.9l3.5 1.1l3.5 0.5l3.5 0.4l3.5 0.6l3.5 1.3l3.5 2.4l3.5 2.8"/><path d="M445.7 297.4l3.5 0.8l3.5 0.3l3.5 -0.3l3.5 -0.9l3.5 -1.5l3.5 -2.2l3.5 -2.6l3.5 -2.7l3.5 -2.4l3.5 -2l3.5 -1.4l3.5 -0.8l3.5 -0.3l3.5 0.1l3.5 0.4l3.5 0.3l3.5 0l3.5 -0.5l3.5 -1.2l3.5 -1.9l3.5 -2.5l3.5 -2.9l3.5 -2.9l3.5 -2.5l3.5 -1.8l3.5 -0.8l3.5 0.1l3.5 0.7l3.5 0.6l3.5 0.1l3.5 0.1l3.5 0.5l3.5 -0.2l3.5 -1.3l3.5 -2.1l3.5 -2.6l3.5 -3.1l3.5 -3.5l3.5 -3.1l3.5 -2l3.5 -0.5l3.5 1.1l3.5 2.9l3.5 3.9"/><path d="M445.7 297.9l3.5 3.1l3.5 0.5l3.5 -1.6l3.5 -2.9l3.5 -3.1l3.5 -2.6l3.5 -1.4l3.5 0.1l3.5 1.2l3.5 1.5l3.5 0.9l3.5 -0.3l3.5 -1.8l3.5 -3.1l3.5 -3.7l3.5 -3.6l3.5 -2.9l3.5 -1.8l3.5 -0.7l3.5 0.1l3.5 0.2l3.5 -0.2l3.5 -1l3.5 -1.9l3.5 -2.5l3.5 -2.6l3.5 -2.4l3.5 -2.2l3.5 -2.4l3.5 -2.9l3.5 -3.1l3.5 -3.5l3.5 -4.7l3.5 -5.9l3.5 -6.3l3.5 -5.6l3.5 -3.8l3.5 -1.2l3.5 2.3l3.5 6l3.5 8.8l3.5 9.8l3.5 9.2l3.5 6.3"/><path d="M445.7 278.1l3.5 5.5l3.5 4.3l3.5 1.7l3.5 -1.4l3.5 -3.8l3.5 -4.7l3.5 -3.9l3.5 -1.5l3.5 1.3l3.5 3.2l3.5 3.4l3.5 1.9l3.5 -0.9l3.5 -3.9l3.5 -5.9l3.5 -6.1l3.5 -4.5l3.5 -1.5l3.5 1.7l3.5 3.9l3.5 4.3l3.5 2.9l3.5 0.1l3.5 -3l3.5 -5.2l3.5 -5.7l3.5 -4.6l3.5 -2.4l3.5 -0.4l3.5 0.8l3.5 1l3.5 0.2l3.5 -2.3l3.5 -5.2l3.5 -6.8l3.5 -6.3l3.5 -3.6l3.5 0.6l3.5 5.3l3.5 9.1l3.5 10.1l3.5 8l3.5 3.6l3.5 -2.3"/><path d="M445.7 294.8l3.5 -0.1l3.5 0.1l3.5 0.2l3.5 0.2l3.5 0l3.5 -0.5l3.5 -0.9l3.5 -1.2l3.5 -1.3l3.5 -1.3l3.5 -1.3l3.5 -1.1l3.5 -0.9l3.5 -0.8l3.5 -0.6l3.5 -0.6l3.5 -0.7l3.5 -0.9l3.5 -1.1l3.5 -1.3l3.5 -1.5l3.5 -1.5l3.5 -1.3l3.5 -1l3.5 -0.7l3.5 -0.4l3.5 -0.4l3.5 -0.8l3.5 -1.7l3.5 -2.8l3.5 -3l3.5 -2.5l3.5 -2.6l3.5 -2.3l3.5 -1.3l3.5 0.2l3.5 1.7l3.5 2.8l3.5 3.8l3.5 4.7l3.5 5l3.5 4.7l3.5 4.1l3.5 2.7"/><path d="M445.7 291.2l3.5 0.6l3.5 0.6l3.5 0.5l3.5 0.3l3.5 -0l3.5 -0.6l3.5 -1.1l3.5 -1.5l3.5 -1.7l3.5 -1.8l3.5 -1.8l3.5 -1.8l3.5 -1.7l3.5 -1.4l3.5 -1l3.5 -0.7l3.5 -0.3l3.5 -0l3.5 0.1l3.5 0l3.5 -0.2l3.5 -0.5l3.5 -1l3.5 -1.4l3.5 -1.7l3.5 -2l3.5 -2.2l3.5 -2.5l3.5 -3.1l3.5 -3.5l3.5 -3.1l3.5 -2.2l3.5 -1.7l3.5 -1.2l3.5 -0.4l3.5 0.6l3.5 1.1l3.5 1.3l3.5 1.5l3.5 1.9l3.5 2.2l3.5 2.5l3.5 3l3.5 2.8"/><path d="M445.7 289.0l3.5 1.6l3.5 1.9l3.5 2l3.5 1.7l3.5 1l3.5 -0.1l3.5 -1.3l3.5 -2.4l3.5 -3.2l3.5 -3.8l3.5 -4.2l3.5 -4.2l3.5 -3.9l3.5 -3.3l3.5 -2.5l3.5 -1.5l3.5 -0.6l3.5 0.2l3.5 0.8l3.5 1.1l3.5 1.1l3.5 0.8l3.5 0.4l3.5 -0.2l3.5 -0.7l3.5 -1.1l3.5 -1.5l3.5 -1.8l3.5 -2.3l3.5 -2.4l3.5 -1.6l3.5 -0.1l3.5 1.1l3.5 2.2l3.5 3.6l3.5 4.8l3.5 5.3l3.5 4.9l3.5 4.3l3.5 3.5l3.5 2.4l3.5 1.2l3.5 0.3l3.5 -0.9"/><path d="M445.7 289.8l3.5 -0.5l3.5 -0l3.5 0.4l3.5 0.6l3.5 0.5l3.5 0l3.5 -0.6l3.5 -1.1l3.5 -1.5l3.5 -1.6l3.5 -1.7l3.5 -1.6l3.5 -1.3l3.5 -1l3.5 -0.7l3.5 -0.5l3.5 -0.4l3.5 -0.5l3.5 -0.8l3.5 -1.2l3.5 -1.6l3.5 -1.8l3.5 -1.9l3.5 -1.7l3.5 -1.4l3.5 -1.1l3.5 -0.9l3.5 -1.1l3.5 -2l3.5 -3l3.5 -3.4l3.5 -3.4l3.5 -3.6l3.5 -3.5l3.5 -2.6l3.5 -1.1l3.5 0.6l3.5 2l3.5 3.3l3.5 4.5l3.5 4.8l3.5 4.4l3.5 3.6l3.5 1.9"/><path d="M445.7 286.0l3.5 1.2l3.5 1.6l3.5 1.3l3.5 0.3l3.5 -1.3l3.5 -3.2l3.5 -4.5l3.5 -4.8l3.5 -4l3.5 -2.3l3.5 -0.3l3.5 1.6l3.5 2.8l3.5 3l3.5 2.3l3.5 0.9l3.5 -0.8l3.5 -2.1l3.5 -2.8l3.5 -2.8l3.5 -2.1l3.5 -1.1l3.5 -0.4l3.5 -0.1l3.5 -0.6l3.5 -1.6l3.5 -2.9l3.5 -4.2l3.5 -5.2l3.5 -5.4l3.5 -4.2l3.5 -2.2l3.5 -0l3.5 1.8l3.5 3l3.5 3.4l3.5 2.4l3.5 0.5l3.5 -1.2l3.5 -1.8l3.5 -1.4l3.5 0.1l3.5 2.4l3.5 4"/><path d="M445.7 284.1l3.5 -3.8l3.5 -3.6l3.5 -2.3l3.5 -0.3l3.5 1.7l3.5 2.9l3.5 3l3.5 2.1l3.5 0.3l3.5 -2l3.5 -4.2l3.5 -5.6l3.5 -5.8l3.5 -4.9l3.5 -3.1l3.5 -0.9l3.5 0.9l3.5 2l3.5 2.2l3.5 1.5l3.5 0.4l3.5 -0.8l3.5 -1.7l3.5 -1.9l3.5 -1.5l3.5 -0.7l3.5 -0l3.5 0.2l3.5 -0.4l3.5 -1.5l3.5 -2.3l3.5 -2.6l3.5 -3.2l3.5 -3.5l3.5 -2.9l3.5 -1.6l3.5 -0.3l3.5 0.8l3.5 1.7l3.5 2.4l3.5 2.5l3.5 2.1l3.5 1.6l3.5 0.3"/><path d="M445.7 289.0l3.5 0.3l3.5 1.1l3.5 1.5l3.5 1.2l3.5 0.1l3.5 -1.8l3.5 -3.8l3.5 -5.3l3.5 -5.9l3.5 -5.6l3.5 -4.4l3.5 -2.5l3.5 -0.4l3.5 1.4l3.5 2.6l3.5 2.8l3.5 2.1l3.5 0.8l3.5 -0.6l3.5 -1.8l3.5 -2.5l3.5 -2.5l3.5 -1.9l3.5 -1l3.5 -0.2l3.5 0.1l3.5 -0.2l3.5 -1.2l3.5 -2.8l3.5 -4.3l3.5 -4.5l3.5 -3.8l3.5 -2.4l3.5 -0.2l3.5 2.7l3.5 5.5l3.5 7.2l3.5 7.3l3.5 6l3.5 4l3.5 1.4l3.5 -1l3.5 -2.3l3.5 -2.8"/><path d="M445.7 292.3l3.5 0.6l3.5 -0l3.5 -0.6l3.5 -1l3.5 -1.3l3.5 -1.5l3.5 -1.3l3.5 -0.8l3.5 -0.1l3.5 0.6l3.5 1l3.5 1.2l3.5 1l3.5 0.6l3.5 0l3.5 -0.7l3.5 -1.4l3.5 -2l3.5 -2.4l3.5 -2.5l3.5 -2.3l3.5 -2l3.5 -1.6l3.5 -1.1l3.5 -0.7l3.5 -0.6l3.5 -0.8l3.5 -1.4l3.5 -2.6l3.5 -3.9l3.5 -4.3l3.5 -4l3.5 -4.2l3.5 -4l3.5 -2.9l3.5 -1.3l3.5 0.3l3.5 1.8l3.5 3.2l3.5 4.7l3.5 5.6l3.5 5.9l3.5 5.8l3.5 4.5"/><path d="M445.7 287.0l3.5 2.4l3.5 3.6l3.5 3.7l3.5 2.7l3.5 1.1l3.5 -0.8l3.5 -2.2l3.5 -3l3.5 -3l3.5 -2.7l3.5 -2.3l3.5 -2.1l3.5 -1.9l3.5 -1.6l3.5 -1.2l3.5 -0.5l3.5 0.5l3.5 1.5l3.5 2.1l3.5 2l3.5 1l3.5 -0.7l3.5 -2.9l3.5 -4.7l3.5 -5.8l3.5 -5.6l3.5 -4.1l3.5 -1.8l3.5 0.4l3.5 2l3.5 3.3l3.5 3.8l3.5 2l3.5 -1.4l3.5 -4.9l3.5 -7.4l3.5 -8.2l3.5 -6.7l3.5 -2.6l3.5 3.4l3.5 9.4l3.5 13.7l3.5 15.1l3.5 12.5"/><path d="M445.7 291.9l3.5 0.2l3.5 -0.7l3.5 -1.5l3.5 -2l3.5 -2.2l3.5 -2.1l3.5 -1.6l3.5 -0.7l3.5 0.4l3.5 1.3l3.5 1.7l3.5 1.7l3.5 1.3l3.5 0.6l3.5 -0.2l3.5 -0.9l3.5 -1.3l3.5 -1.4l3.5 -1.2l3.5 -0.8l3.5 -0.4l3.5 -0.1l3.5 -0.2l3.5 -0.5l3.5 -1.2l3.5 -2.1l3.5 -3l3.5 -3.9l3.5 -4.9l3.5 -5.4l3.5 -4.7l3.5 -3.1l3.5 -1.8l3.5 -0.3l3.5 1.3l3.5 2.7l3.5 3.2l3.5 2.8l3.5 2l3.5 1.2l3.5 0.5l3.5 -0.1l3.5 0l3.5 0"/><path d="M445.7 285.6l3.5 1.7l3.5 1.7l3.5 1.4l3.5 0.8l3.5 0l3.5 -0.9l3.5 -1.5l3.5 -1.8l3.5 -1.6l3.5 -1.2l3.5 -0.9l3.5 -0.7l3.5 -0.7l3.5 -0.9l3.5 -1.3l3.5 -1.7l3.5 -2.1l3.5 -2.3l3.5 -2.2l3.5 -1.9l3.5 -1.4l3.5 -0.8l3.5 -0.2l3.5 0.2l3.5 0.5l3.5 0.5l3.5 0.3l3.5 -0.3l3.5 -1.5l3.5 -2.7l3.5 -3.1l3.5 -2.9l3.5 -3.4l3.5 -3.9l3.5 -3.8l3.5 -3.2l3.5 -2.4l3.5 -1.4l3.5 0.2l3.5 2.3l3.5 4.4l3.5 6.1l3.5 7.3l3.5 7.2"/><path d="M445.7 277.9l3.5 1.2l3.5 3l3.5 4l3.5 3.9l3.5 2.6l3.5 0.4l3.5 -1.8l3.5 -3.2l3.5 -3.6l3.5 -2.9l3.5 -1.5l3.5 0.3l3.5 1.8l3.5 2.6l3.5 2.5l3.5 1.4l3.5 -0.2l3.5 -1.9l3.5 -3.2l3.5 -3.8l3.5 -3.6l3.5 -2.7l3.5 -1.6l3.5 -0.6l3.5 -0.1l3.5 -0.4l3.5 -1.3l3.5 -2.8l3.5 -4.6l3.5 -6l3.5 -5.9l3.5 -5l3.5 -3.6l3.5 -1.7l3.5 0.6l3.5 2.7l3.5 3.8l3.5 3.7l3.5 2.9l3.5 2.1l3.5 1.3l3.5 0.9l3.5 1.6l3.5 2.3"/><path d="M445.7 302.1l3.5 -0.7l3.5 -1.4l3.5 -1.9l3.5 -2.2l3.5 -2.4l3.5 -2.5l3.5 -2.5l3.5 -2.2l3.5 -1.9l3.5 -1.6l3.5 -1.5l3.5 -1.6l3.5 -1.7l3.5 -1.9l3.5 -2l3.5 -1.9l3.5 -1.6l3.5 -1.1l3.5 -0.4l3.5 0.4l3.5 1.1l3.5 1.8l3.5 2.2l3.5 2.3l3.5 2.1l3.5 1.5l3.5 0.5l3.5 -0.9l3.5 -2.8l3.5 -4.5l3.5 -5l3.5 -4.7l3.5 -4.8l3.5 -4.5l3.5 -3.3l3.5 -1.6l3.5 0.1l3.5 1.5l3.5 2.8l3.5 4l3.5 4.6l3.5 4.6l3.5 4.3l3.5 3.1"/><path d="M445.7 285.2l3.5 -6.1l3.5 -4.8l3.5 -1.8l3.5 1.8l3.5 4.5l3.5 5.1l3.5 3.5l3.5 0.4l3.5 -3l3.5 -5.6l3.5 -6.3l3.5 -4.9l3.5 -1.9l3.5 1.5l3.5 3.9l3.5 4.5l3.5 2.9l3.5 -0.2l3.5 -3.7l3.5 -6.2l3.5 -6.7l3.5 -5.1l3.5 -1.9l3.5 1.7l3.5 4.3l3.5 4.8l3.5 3l3.5 -0.7l3.5 -5.1l3.5 -8.4l3.5 -9.2l3.5 -7.7l3.5 -4.4l3.5 -0.1l3.5 4.1l3.5 6.4l3.5 5.8l3.5 2.5l3.5 -1.7l3.5 -4.8l3.5 -5.5l3.5 -3.2l3.5 1.7l3.5 6.8"/><path d="M445.7 291.4l3.5 -0.7l3.5 -0.9l3.5 -1l3.5 -1l3.5 -1.1l3.5 -1.2l3.5 -1.1l3.5 -0.9l3.5 -0.4l3.5 -0.1l3.5 0.1l3.5 0.1l3.5 -0.1l3.5 -0.4l3.5 -0.8l3.5 -1.3l3.5 -1.8l3.5 -2.2l3.5 -2.5l3.5 -2.7l3.5 -2.8l3.5 -2.7l3.5 -2.4l3.5 -2l3.5 -1.5l3.5 -1.1l3.5 -0.8l3.5 -0.8l3.5 -1.4l3.5 -2.1l3.5 -2.2l3.5 -2l3.5 -2.1l3.5 -2.2l3.5 -1.9l3.5 -1.3l3.5 -0.9l3.5 -0.8l3.5 -0.4l3.5 0.5l3.5 1.2l3.5 2l3.5 2.8l3.5 3"/><path d="M445.7 282.0l3.5 -1.4l3.5 -1.5l3.5 -1.4l3.5 -1.3l3.5 -1.3l3.5 -1.4l3.5 -1.3l3.5 -1.1l3.5 -0.6l3.5 -0.2l3.5 0.2l3.5 0.5l3.5 0.7l3.5 0.9l3.5 1l3.5 1.1l3.5 1l3.5 0.9l3.5 0.7l3.5 0.4l3.5 0l3.5 -0.4l3.5 -0.9l3.5 -1.3l3.5 -1.7l3.5 -2.1l3.5 -2.5l3.5 -3l3.5 -3.9l3.5 -4.5l3.5 -4.4l3.5 -3.7l3.5 -3.2l3.5 -2.5l3.5 -1.2l3.5 0.3l3.5 1.6l3.5 2.5l3.5 3.3l3.5 4.2l3.5 4.8l3.5 4.9l3.5 5l3.5 4.1"/><path d="M445.7 293.5l3.5 1.2l3.5 0.6l3.5 -0.2l3.5 -1l3.5 -1.6l3.5 -2.1l3.5 -2.2l3.5 -1.8l3.5 -1.2l3.5 -0.7l3.5 -0.4l3.5 -0.4l3.5 -0.6l3.5 -1l3.5 -1.3l3.5 -1.5l3.5 -1.4l3.5 -1.1l3.5 -0.8l3.5 -0.5l3.5 -0.3l3.5 -0.4l3.5 -0.7l3.5 -1.2l3.5 -1.6l3.5 -1.9l3.5 -2l3.5 -2.1l3.5 -2.4l3.5 -2.6l3.5 -2.1l3.5 -1.2l3.5 -0.9l3.5 -1.1l3.5 -1l3.5 -0.7l3.5 -0.4l3.5 -0.1l3.5 0.8l3.5 2.4l3.5 4.1l3.5 5.4l3.5 6.4l3.5 5.9"/><path d="M445.7 287.2l3.5 -1.8l3.5 -1.4l3.5 -0.6l3.5 0.4l3.5 1.4l3.5 2l3.5 2.1l3.5 1.9l3.5 1.3l3.5 0.3l3.5 -0.9l3.5 -2.1l3.5 -3l3.5 -3.3l3.5 -3.1l3.5 -2.4l3.5 -1.3l3.5 -0.2l3.5 0.7l3.5 1.2l3.5 1.1l3.5 0.4l3.5 -0.6l3.5 -1.8l3.5 -2.9l3.5 -3.7l3.5 -4.1l3.5 -4.1l3.5 -4l3.5 -3.6l3.5 -2.3l3.5 -0.6l3.5 0.6l3.5 1.3l3.5 1.8l3.5 1.9l3.5 1.4l3.5 0.3l3.5 -0.4l3.5 -0.4l3.5 0.1l3.5 1.1l3.5 2.8l3.5 3.9"/></g>
<clipPath id="c445_306"><rect x="445.7" y="180.2" width="170" height="140"/></clipPath>
<g clip-path="url(#c445_306)"><g fill="none" stroke-width="6.6" stroke-linecap="round" stroke-linejoin="round"><path d="M445.7 287.3l1.6 -0l1.6 -0l1.6 -0l1.6 -0l1.6 -0l1.6 -0.1l1.6 -0.1l1.6 -0.1l1.6 -0.1l1.6 -0.1l1.6 -0.2" stroke="#0000aa"/><path d="M462.8 286.6l1.6 -0.3l1.6 -0.3l1.6 -0.4" stroke="#0000bf"/><path d="M467.4 285.6l1.6 -0.4l1.6 -0.5l1.6 -0.5" stroke="#0000d4"/><path d="M472.1 284.2l1.6 -0.5l1.6 -0.5" stroke="#0000e9"/><path d="M475.2 283.3l1.6 -0.4l1.6 -0.4l1.6 -0.4" stroke="#0000ff"/><path d="M479.9 282.0l1.6 -0.4l1.6 -0.4" stroke="#0015ff"/><path d="M483.0 281.2l1.6 -0.4l1.6 -0.4l1.6 -0.4" stroke="#002aff"/><path d="M487.6 280.0l1.6 -0.4l1.6 -0.4l1.6 -0.4" stroke="#003fff"/><path d="M492.3 278.7l1.6 -0.4l1.6 -0.4" stroke="#0055ff"/><path d="M495.4 277.9l1.6 -0.4l1.6 -0.4l1.6 -0.4" stroke="#006aff"/><path d="M500.1 276.7l1.6 -0.4l1.6 -0.4l1.6 -0.4" stroke="#007fff"/><path d="M504.7 275.5l1.6 -0.4l1.6 -0.4" stroke="#0094ff"/><path d="M507.8 274.7l1.6 -0.4l1.6 -0.4l1.6 -0.4" stroke="#00aaff"/><path d="M512.5 273.6l1.6 -0.4l1.6 -0.4l1.6 -0.4" stroke="#00bfff"/><path d="M517.1 272.5l1.6 -0.4l1.6 -0.4l1.6 -0.4" stroke="#00d4ff"/><path d="M521.8 271.3l1.6 -0.4l1.6 -0.4" stroke="#00e9ff"/><path d="M524.9 270.4l1.6 -0.5l1.6 -0.5l1.6 -0.5" stroke="#00ffff"/><path d="M529.6 269.0l1.6 -0.5l1.6 -0.5" stroke="#15ffe9"/><path d="M532.7 268.0l1.6 -0.5l1.6 -0.6" stroke="#2affd4"/><path d="M535.8 266.9l1.6 -0.6l1.6 -0.6" stroke="#3fffbf"/><path d="M538.9 265.6l1.6 -0.7" stroke="#54ffaa"/><path d="M540.4 264.9l1.6 -0.8" stroke="#6aff94"/><path d="M542.0 264.1l1.6 -0.9" stroke="#7fff7f"/><path d="M543.5 263.2l1.6 -1.1" stroke="#94ff6a"/><path d="M545.1 262.1l1.6 -1.3" stroke="#a9ff55"/><path d="M546.6 260.8l1.6 -1.4" stroke="#bfff3f"/><path d="M548.2 259.4l1.6 -1.5" stroke="#d4ff2a"/><path d="M549.8 257.8l1.6 -1.6" stroke="#ffff00"/><path d="M551.3 256.3l1.6 -1.5" stroke="#ffe900"/><path d="M552.9 254.8l1.6 -1.4" stroke="#ffd400"/><path d="M554.4 253.3l1.6 -1.3" stroke="#ffa900"/><path d="M556.0 252.1l1.6 -1.2" stroke="#ff9400"/><path d="M557.5 250.9l1.6 -1.1" stroke="#ff7f00"/><path d="M559.1 249.7l1.6 -1.1" stroke="#ff6a00"/><path d="M560.6 248.6l1.6 -1" stroke="#ff5500"/><path d="M562.2 247.6l1.6 -0.9" stroke="#ff3f00"/><path d="M563.7 246.7l1.6 -0.8l1.6 -0.6" stroke="#ff2a00"/><path d="M566.8 245.3l1.6 -0.3l1.6 -0.1l1.6 0.1l1.6 0.3" stroke="#ff1500"/><path d="M573.0 245.4l1.6 0.5l1.6 0.6" stroke="#ff2a00"/><path d="M576.2 246.4l1.6 0.6l1.6 0.7" stroke="#ff3f00"/><path d="M579.3 247.7l1.6 0.8" stroke="#ff5500"/><path d="M580.8 248.6l1.6 1" stroke="#ff6a00"/><path d="M582.4 249.6l1.6 1.1" stroke="#ff7f00"/><path d="M583.9 250.7l1.6 1.2" stroke="#ff9400"/><path d="M585.5 251.9l1.6 1.3" stroke="#ffa900"/><path d="M587.0 253.2l1.6 1.4" stroke="#ffbf00"/><path d="M588.6 254.6l1.6 1.4" stroke="#ffe900"/><path d="M590.1 256.0l1.6 1.4" stroke="#ffff00"/><path d="M591.7 257.4l1.6 1.4" stroke="#e9ff15"/><path d="M593.2 258.8l1.6 1.5" stroke="#bfff3f"/><path d="M594.8 260.3l1.6 1.5" stroke="#a9ff55"/><path d="M596.3 261.7l1.6 1.3" stroke="#94ff6a"/><path d="M597.9 263.0l1.6 1" stroke="#7fff7f"/></g></g>
<path d="M445.7 185.2V306.6H599.4" fill="none" stroke="#3a3a3a" stroke-width="1"/><path d="M459.7 306.6v-2M475.2 306.6v-2M490.7 306.6v-2M506.3 306.6v-2M521.8 306.6v-2M537.3 306.6v-2M552.9 306.6v-2M568.4 306.6v-2M583.9 306.6v-2M599.4 306.6v-2M445.7 289.2h2M445.7 271.9h2M445.7 254.6h2M445.7 237.2h2M445.7 219.9h2M445.7 202.5h2" stroke="#3a3a3a" stroke-width="0.8"/>
<g font-family="'Liberation Serif', serif" font-size="8.3" fill="#555" text-anchor="middle"><text x="459.7" y="315.3">10</text><text x="475.2" y="315.3">20</text><text x="490.7" y="315.3">30</text><text x="506.3" y="315.3">40</text><text x="521.8" y="315.3">50</text><text x="537.3" y="315.3">60</text><text x="552.9" y="315.3">70</text><text x="568.4" y="315.3">80</text><text x="583.9" y="315.3">90</text><text x="599.4" y="315.3">100</text></g>
<g font-family="'Liberation Serif', serif" font-size="8.3" fill="#555" text-anchor="end"><text x="443.1" y="292.1">0.3</text><text x="443.1" y="274.7">0.4</text><text x="443.1" y="257.4">0.5</text><text x="443.1" y="240">0.6</text><text x="443.1" y="222.7">0.7</text><text x="443.1" y="205.3">0.8</text></g>
<text transform="translate(426.2 245.9) rotate(-90)" text-anchor="middle" font-family="'Liberation Serif', serif" font-size="12" fill="#222">Fractional Anisotropy</text>
<text x="505.8" y="195.8" font-family="'Liberation Serif', serif" font-size="14.6" fill="#111" textLength="23.4" lengthAdjust="spacingAndGlyphs">Left</text>
<text x="522.6" y="327.4" text-anchor="middle" font-family="'Liberation Serif', serif" font-size="11.8" fill="#222">Location</text>
<clipPath id="g643_306"><rect x="643.4" y="184.4" width="160" height="121.9"/></clipPath>
<g clip-path="url(#g643_306)" fill="none" stroke="#9d9d9d" stroke-width="1.1" stroke-linejoin="round"><path d="M643.4 282.4l3.5 0.8l3.5 0.4l3.5 0l3.5 -0.2l3.5 -0.4l3.5 -0.4l3.5 -0.3l3.5 -0.1l3.5 -0l3.5 0l3.5 -0l3.5 -0.3l3.5 -0.6l3.5 -1.1l3.5 -1.7l3.5 -2.3l3.5 -2.8l3.5 -3.1l3.5 -3.1l3.5 -2.8l3.5 -2l3.5 -1l3.5 0.2l3.5 1.3l3.5 2.1l3.5 2.5l3.5 2.1l3.5 0.9l3.5 -0.9l3.5 -2.5l3.5 -3.7l3.5 -4.8l3.5 -5.9l3.5 -5.9l3.5 -5l3.5 -3.8l3.5 -2.3l3.5 -0.4l3.5 1.6l3.5 3.3l3.5 4l3.5 3.7l3.5 2.7l3.5 0.9"/><path d="M643.4 300.1l3.5 -1.8l3.5 -2.7l3.5 -3.1l3.5 -2.9l3.5 -2.3l3.5 -1.3l3.5 -0.2l3.5 0.8l3.5 1.4l3.5 1.5l3.5 1.1l3.5 0.3l3.5 -0.9l3.5 -2.1l3.5 -3.3l3.5 -4.1l3.5 -4.5l3.5 -4.4l3.5 -3.7l3.5 -2.6l3.5 -1.4l3.5 -0.1l3.5 0.9l3.5 1.5l3.5 1.6l3.5 1.2l3.5 0.1l3.5 -1.5l3.5 -3.2l3.5 -4.3l3.5 -4.7l3.5 -4.7l3.5 -4.2l3.5 -2.8l3.5 -0.7l3.5 1.2l3.5 2.8l3.5 4l3.5 4.9l3.5 5l3.5 4.1l3.5 2.4l3.5 0.5l3.5 -1.7"/><path d="M643.4 293.0l3.5 -2.6l3.5 -3.2l3.5 -3.2l3.5 -2.4l3.5 -1.1l3.5 0.4l3.5 1.7l3.5 2.6l3.5 2.7l3.5 2l3.5 0.7l3.5 -0.7l3.5 -2.1l3.5 -3.1l3.5 -3.4l3.5 -2.9l3.5 -1.9l3.5 -0.5l3.5 1l3.5 2l3.5 2.5l3.5 2.2l3.5 1.3l3.5 -0.1l3.5 -1.7l3.5 -3.3l3.5 -4.4l3.5 -5.3l3.5 -5.4l3.5 -4.6l3.5 -3.2l3.5 -1.8l3.5 -0.6l3.5 0.4l3.5 0.9l3.5 0.4l3.5 -0.9l3.5 -2.3l3.5 -3.2l3.5 -3.3l3.5 -2.8l3.5 -1.5l3.5 0.6l3.5 2.8"/><path d="M643.4 281.6l3.5 -2.6l3.5 -2.1l3.5 -1l3.5 0.1l3.5 1l3.5 1.3l3.5 0.9l3.5 0.1l3.5 -0.8l3.5 -1.6l3.5 -1.8l3.5 -1.3l3.5 -0.6l3.5 0.2l3.5 0.6l3.5 0.4l3.5 -0.3l3.5 -1.4l3.5 -2.4l3.5 -2.9l3.5 -2.6l3.5 -1.6l3.5 -0.2l3.5 1.2l3.5 2l3.5 1.9l3.5 0.9l3.5 -0.9l3.5 -3l3.5 -4.3l3.5 -4.6l3.5 -4.4l3.5 -3.7l3.5 -2.3l3.5 -0.8l3.5 -0l3.5 0.1l3.5 -0.1l3.5 0.2l3.5 0.9l3.5 1.8l3.5 2.9l3.5 4l3.5 4.1"/><path d="M643.4 285.4l3.5 1.2l3.5 1.1l3.5 0.7l3.5 0.2l3.5 -0.3l3.5 -0.6l3.5 -0.8l3.5 -0.9l3.5 -1l3.5 -1.1l3.5 -1.3l3.5 -1.5l3.5 -1.6l3.5 -1.7l3.5 -1.5l3.5 -1.2l3.5 -0.7l3.5 -0.1l3.5 0.4l3.5 0.7l3.5 0.7l3.5 0.5l3.5 0l3.5 -0.6l3.5 -1.3l3.5 -2l3.5 -2.7l3.5 -3.4l3.5 -4l3.5 -4l3.5 -3.6l3.5 -3.1l3.5 -2.6l3.5 -1.6l3.5 -0.5l3.5 0.3l3.5 0.6l3.5 0.8l3.5 1.1l3.5 1.4l3.5 1.3l3.5 1.1l3.5 1l3.5 0.8"/><path d="M643.4 268.1l3.5 2.5l3.5 2.8l3.5 2.5l3.5 1.8l3.5 0.9l3.5 -0.1l3.5 -0.7l3.5 -1l3.5 -1l3.5 -0.6l3.5 -0.1l3.5 0.4l3.5 0.7l3.5 0.6l3.5 0.2l3.5 -0.6l3.5 -1.5l3.5 -2.3l3.5 -2.8l3.5 -2.8l3.5 -2.2l3.5 -1.3l3.5 -0l3.5 1.2l3.5 2.1l3.5 2.4l3.5 2l3.5 0.6l3.5 -1.3l3.5 -2.9l3.5 -3.9l3.5 -4.7l3.5 -5.2l3.5 -4.7l3.5 -3.3l3.5 -1.9l3.5 -0.7l3.5 0.4l3.5 1.3l3.5 1.7l3.5 1.3l3.5 0.3l3.5 -0.7l3.5 -1.6"/><path d="M643.4 292.7l3.5 0.3l3.5 0.1l3.5 -0.2l3.5 -0.4l3.5 -0.6l3.5 -0.8l3.5 -0.9l3.5 -1l3.5 -1.1l3.5 -1.3l3.5 -1.5l3.5 -1.6l3.5 -1.7l3.5 -1.7l3.5 -1.7l3.5 -1.6l3.5 -1.6l3.5 -1.6l3.5 -1.6l3.5 -1.6l3.5 -1.6l3.5 -1.5l3.5 -1.4l3.5 -1.3l3.5 -1.2l3.5 -1.1l3.5 -1.3l3.5 -1.7l3.5 -2.2l3.5 -2.3l3.5 -2.2l3.5 -2.1l3.5 -2l3.5 -1.4l3.5 -0.5l3.5 -0.1l3.5 0.1l3.5 0.4l3.5 0.8l3.5 1.4l3.5 1.6l3.5 1.6l3.5 1.7l3.5 1.4"/><path d="M643.4 281.4l3.5 1.5l3.5 3.5l3.5 4.4l3.5 4.1l3.5 2.6l3.5 0.2l3.5 -2.3l3.5 -4.3l3.5 -5.2l3.5 -4.9l3.5 -3.3l3.5 -1l3.5 1.3l3.5 3l3.5 3.6l3.5 3.1l3.5 1.5l3.5 -0.7l3.5 -2.8l3.5 -4.2l3.5 -4.7l3.5 -4.2l3.5 -2.9l3.5 -1.1l3.5 0.6l3.5 1.7l3.5 1.8l3.5 0.9l3.5 -0.7l3.5 -2.3l3.5 -3.5l3.5 -4.4l3.5 -5.2l3.5 -5l3.5 -3.9l3.5 -2.5l3.5 -0.8l3.5 1.1l3.5 3.2l3.5 4.9l3.5 5.5l3.5 4.9l3.5 3.4l3.5 1"/><path d="M643.4 283.5l3.5 -0.8l3.5 -0.2l3.5 0.2l3.5 0.4l3.5 0.3l3.5 0.2l3.5 0.2l3.5 0.2l3.5 0.3l3.5 0.4l3.5 0.5l3.5 0.4l3.5 0.1l3.5 -0.5l3.5 -1.3l3.5 -2l3.5 -2.6l3.5 -2.9l3.5 -2.6l3.5 -2l3.5 -1l3.5 -0l3.5 0.8l3.5 1.2l3.5 1.2l3.5 0.6l3.5 -0.5l3.5 -1.9l3.5 -3.3l3.5 -4l3.5 -4l3.5 -3.8l3.5 -3.6l3.5 -2.9l3.5 -2l3.5 -1.7l3.5 -1.6l3.5 -1.5l3.5 -0.8l3.5 0.2l3.5 1.3l3.5 2.5l3.5 3.6l3.5 4.2"/><path d="M643.4 290.4l3.5 -0.8l3.5 -1.2l3.5 -1.6l3.5 -1.8l3.5 -1.7l3.5 -1.2l3.5 -0.5l3.5 0.3l3.5 0.9l3.5 1.1l3.5 1l3.5 0.6l3.5 0.1l3.5 -0.3l3.5 -0.4l3.5 -0.3l3.5 -0l3.5 0.2l3.5 0.2l3.5 -0.1l3.5 -0.7l3.5 -1.6l3.5 -2.4l3.5 -3l3.5 -3.3l3.5 -3.3l3.5 -3.1l3.5 -3l3.5 -3.1l3.5 -2.9l3.5 -2.7l3.5 -2.6l3.5 -2.5l3.5 -1.9l3.5 -0.6l3.5 0.6l3.5 1.8l3.5 3l3.5 4.1l3.5 4.7l3.5 4.4l3.5 3.3l3.5 2l3.5 0.4"/><path d="M643.4 291.6l3.5 1.4l3.5 1.9l3.5 1.8l3.5 1.1l3.5 -0l3.5 -1.2l3.5 -2.2l3.5 -2.6l3.5 -2.5l3.5 -1.9l3.5 -0.9l3.5 0.2l3.5 0.9l3.5 1.1l3.5 0.6l3.5 -0.3l3.5 -1.6l3.5 -2.8l3.5 -3.6l3.5 -3.7l3.5 -3l3.5 -1.8l3.5 -0.2l3.5 1.2l3.5 2.1l3.5 2.1l3.5 1.2l3.5 -0.8l3.5 -3.1l3.5 -4.9l3.5 -5.7l3.5 -5.8l3.5 -5.2l3.5 -3.4l3.5 -0.6l3.5 2l3.5 3.9l3.5 4.9l3.5 5.1l3.5 4.2l3.5 2.3l3.5 0l3.5 -1.8l3.5 -2.8"/><path d="M643.4 281.1l3.5 0.7l3.5 1.4l3.5 1.8l3.5 1.7l3.5 1.2l3.5 0.5l3.5 -0.3l3.5 -0.9l3.5 -1.2l3.5 -1l3.5 -0.4l3.5 0.6l3.5 1.6l3.5 2.3l3.5 2.4l3.5 1.9l3.5 0.6l3.5 -1.1l3.5 -2.9l3.5 -4.5l3.5 -5.5l3.5 -5.6l3.5 -4.9l3.5 -3.5l3.5 -1.8l3.5 -0.2l3.5 0.7l3.5 0.6l3.5 -0.3l3.5 -1.6l3.5 -2.8l3.5 -4l3.5 -5.1l3.5 -5.1l3.5 -3.9l3.5 -2l3.5 0.3l3.5 3.1l3.5 5.8l3.5 7.8l3.5 8.4l3.5 7.5l3.5 5.5l3.5 2.6"/><path d="M643.4 293.0l3.5 -0.6l3.5 -2l3.5 -2.8l3.5 -2.9l3.5 -2.5l3.5 -1.6l3.5 -0.6l3.5 0.3l3.5 0.7l3.5 0.7l3.5 0.4l3.5 -0l3.5 -0.5l3.5 -0.7l3.5 -0.6l3.5 -0.3l3.5 0.1l3.5 0.5l3.5 0.7l3.5 0.6l3.5 0.1l3.5 -0.6l3.5 -1.5l3.5 -2.3l3.5 -2.9l3.5 -3.2l3.5 -3.3l3.5 -3.3l3.5 -3.3l3.5 -3l3.5 -2.5l3.5 -2.4l3.5 -2.6l3.5 -2.5l3.5 -2.2l3.5 -2.1l3.5 -1.7l3.5 -0.8l3.5 0.9l3.5 2.9l3.5 4.5l3.5 5.3l3.5 5.2l3.5 3.7"/><path d="M643.4 285.3l3.5 -2.4l3.5 -2.7l3.5 -2.5l3.5 -2.1l3.5 -1.3l3.5 -0.4l3.5 0.6l3.5 1.4l3.5 1.8l3.5 2l3.5 1.9l3.5 1.5l3.5 1.1l3.5 0.5l3.5 0l3.5 -0.5l3.5 -1l3.5 -1.5l3.5 -2l3.5 -2.5l3.5 -2.9l3.5 -3.2l3.5 -3.2l3.5 -2.9l3.5 -2.4l3.5 -1.8l3.5 -1.1l3.5 -0.6l3.5 -0.3l3.5 0.2l3.5 0.7l3.5 0.9l3.5 0.6l3.5 0.3l3.5 -0.1l3.5 -1l3.5 -2.3l3.5 -3.2l3.5 -3.5l3.5 -3.2l3.5 -2.8l3.5 -2.2l3.5 -1.3l3.5 -0.5"/><path d="M643.4 284.5l3.5 0.2l3.5 0l3.5 -0.2l3.5 -0.1l3.5 0.2l3.5 0.7l3.5 1.1l3.5 1.3l3.5 1l3.5 0.1l3.5 -1.1l3.5 -2.3l3.5 -2.9l3.5 -2.8l3.5 -2l3.5 -0.7l3.5 0.6l3.5 1.4l3.5 1.4l3.5 0.5l3.5 -1l3.5 -2.6l3.5 -3.8l3.5 -4l3.5 -3.1l3.5 -1.7l3.5 -0.1l3.5 0.8l3.5 0.6l3.5 -0.2l3.5 -1.6l3.5 -3.3l3.5 -5.2l3.5 -5.9l3.5 -5.1l3.5 -3.2l3.5 -0.5l3.5 2.4l3.5 4.9l3.5 6l3.5 5.3l3.5 3.2l3.5 0.6l3.5 -1.8"/><path d="M643.4 284.7l3.5 0.6l3.5 0.1l3.5 -0.1l3.5 0.2l3.5 0.7l3.5 1.3l3.5 1.6l3.5 1.6l3.5 1l3.5 -0.1l3.5 -1.2l3.5 -2.2l3.5 -2.8l3.5 -2.8l3.5 -2.3l3.5 -1.5l3.5 -0.6l3.5 -0l3.5 0.1l3.5 -0.3l3.5 -1.1l3.5 -2.1l3.5 -2.9l3.5 -3.3l3.5 -3.2l3.5 -2.8l3.5 -2.2l3.5 -1.9l3.5 -1.8l3.5 -1.8l3.5 -1.8l3.5 -2.3l3.5 -2.7l3.5 -2.5l3.5 -1.6l3.5 -0.5l3.5 0.8l3.5 2.5l3.5 4.2l3.5 5.6l3.5 5.8l3.5 4.9l3.5 3.4l3.5 1.2"/><path d="M643.4 286.2l3.5 -0.9l3.5 -1.4l3.5 -1.6l3.5 -1.4l3.5 -0.8l3.5 0.1l3.5 1l3.5 1.7l3.5 2l3.5 1.7l3.5 1.1l3.5 0.1l3.5 -1.1l3.5 -2.3l3.5 -3.3l3.5 -3.8l3.5 -3.9l3.5 -3.5l3.5 -2.7l3.5 -1.6l3.5 -0.4l3.5 0.6l3.5 1.3l3.5 1.6l3.5 1.3l3.5 0.6l3.5 -0.6l3.5 -2.1l3.5 -3.7l3.5 -4.5l3.5 -4.6l3.5 -4.6l3.5 -4.1l3.5 -3l3.5 -1.4l3.5 -0.2l3.5 0.4l3.5 0.8l3.5 1.1l3.5 1l3.5 0.3l3.5 -0.6l3.5 -1.3l3.5 -2"/><path d="M643.4 279.6l3.5 -0.5l3.5 2.1l3.5 4.2l3.5 4.9l3.5 4.1l3.5 1.8l3.5 -1.3l3.5 -4.1l3.5 -5.9l3.5 -6.2l3.5 -4.9l3.5 -2.4l3.5 0.3l3.5 2.3l3.5 3.1l3.5 2.5l3.5 0.8l3.5 -1.4l3.5 -3.2l3.5 -4l3.5 -3.8l3.5 -2.6l3.5 -1.1l3.5 0.2l3.5 0.7l3.5 0.4l3.5 -0.7l3.5 -2.2l3.5 -3.4l3.5 -3.4l3.5 -2.5l3.5 -1.3l3.5 0l3.5 1.1l3.5 1.3l3.5 0l3.5 -2.1l3.5 -3.9l3.5 -4.3l3.5 -3l3.5 -0.2l3.5 3.4l3.5 6.9l3.5 8.8"/><path d="M643.4 295.6l3.5 1.2l3.5 0.2l3.5 -0.8l3.5 -1.6l3.5 -2.1l3.5 -2.4l3.5 -2.3l3.5 -1.9l3.5 -1.4l3.5 -0.8l3.5 -0.1l3.5 0.5l3.5 0.9l3.5 1.2l3.5 1.2l3.5 1l3.5 0.5l3.5 -0.1l3.5 -0.8l3.5 -1.5l3.5 -2.1l3.5 -2.6l3.5 -3l3.5 -3.1l3.5 -3.2l3.5 -3.2l3.5 -3.2l3.5 -3.4l3.5 -3.6l3.5 -3.3l3.5 -2.7l3.5 -2.2l3.5 -1.5l3.5 -0.6l3.5 0.5l3.5 1l3.5 1l3.5 0.8l3.5 0.5l3.5 0.1l3.5 -0.7l3.5 -1.6l3.5 -2.2l3.5 -2.7"/><path d="M643.4 283.4l3.5 0.4l3.5 0.1l3.5 -0.3l3.5 -0.7l3.5 -1.1l3.5 -1.4l3.5 -1.6l3.5 -1.7l3.5 -1.6l3.5 -1.4l3.5 -1.1l3.5 -0.7l3.5 -0.3l3.5 0.1l3.5 0.3l3.5 0.4l3.5 0.2l3.5 -0.1l3.5 -0.6l3.5 -1.1l3.5 -1.5l3.5 -1.7l3.5 -1.8l3.5 -1.6l3.5 -1.3l3.5 -0.9l3.5 -0.8l3.5 -1l3.5 -1.5l3.5 -1.9l3.5 -2.1l3.5 -2.6l3.5 -3.1l3.5 -3.3l3.5 -3.1l3.5 -3.1l3.5 -3l3.5 -2.5l3.5 -1.3l3.5 0.1l3.5 1.4l3.5 2.5l3.5 3.4l3.5 3.6"/><path d="M643.4 284.4l3.5 2.5l3.5 3.1l3.5 3.1l3.5 2.5l3.5 1.4l3.5 -0l3.5 -1.5l3.5 -2.9l3.5 -3.8l3.5 -4.2l3.5 -3.8l3.5 -2.8l3.5 -1.3l3.5 0.3l3.5 1.7l3.5 2.6l3.5 2.9l3.5 2.3l3.5 1.1l3.5 -0.5l3.5 -2.2l3.5 -3.7l3.5 -4.7l3.5 -4.9l3.5 -4.4l3.5 -3.4l3.5 -2.1l3.5 -1.1l3.5 -0.4l3.5 0.3l3.5 0.6l3.5 0.5l3.5 -0.4l3.5 -1.4l3.5 -2.4l3.5 -3.6l3.5 -4.7l3.5 -4.9l3.5 -4l3.5 -2.2l3.5 -0.1l3.5 2.1l3.5 4.1l3.5 5.4"/><path d="M643.4 282.2l3.5 1.7l3.5 1.7l3.5 1.2l3.5 0.5l3.5 -0l3.5 -0.3l3.5 -0.3l3.5 0.1l3.5 0.6l3.5 1l3.5 1.1l3.5 0.8l3.5 0l3.5 -1.2l3.5 -2.5l3.5 -3.8l3.5 -4.6l3.5 -4.9l3.5 -4.5l3.5 -3.5l3.5 -2.1l3.5 -0.8l3.5 0.4l3.5 1.1l3.5 1.3l3.5 0.9l3.5 -0l3.5 -1.2l3.5 -2.3l3.5 -2.6l3.5 -2.2l3.5 -1.6l3.5 -0.8l3.5 0.2l3.5 1l3.5 0.8l3.5 -0.2l3.5 -1.6l3.5 -2.8l3.5 -3.6l3.5 -4l3.5 -3.6l3.5 -2.2l3.5 -0.4"/><path d="M643.4 278.0l3.5 4.4l3.5 5.7l3.5 5.5l3.5 3.8l3.5 1.3l3.5 -1.5l3.5 -3.8l3.5 -4.9l3.5 -4.7l3.5 -3.4l3.5 -1.6l3.5 0.3l3.5 1.4l3.5 1.6l3.5 0.8l3.5 -0.7l3.5 -2.2l3.5 -3.4l3.5 -3.7l3.5 -3.1l3.5 -1.8l3.5 -0.3l3.5 0.9l3.5 1.6l3.5 1.5l3.5 0.6l3.5 -0.7l3.5 -2.2l3.5 -3.3l3.5 -3.5l3.5 -2.9l3.5 -2l3.5 -1.4l3.5 -0.7l3.5 -0.4l3.5 -0.9l3.5 -1.8l3.5 -2.4l3.5 -2.1l3.5 -1l3.5 0.5l3.5 2l3.5 3.1l3.5 3"/><path d="M643.4 286.3l3.5 0.9l3.5 0.5l3.5 -0.1l3.5 -0.7l3.5 -1.2l3.5 -1.5l3.5 -1.6l3.5 -1.4l3.5 -1.1l3.5 -0.6l3.5 -0.1l3.5 0.3l3.5 0.6l3.5 0.6l3.5 0.4l3.5 -0.1l3.5 -0.8l3.5 -1.5l3.5 -2.1l3.5 -2.5l3.5 -2.5l3.5 -2.3l3.5 -1.8l3.5 -1.1l3.5 -0.4l3.5 0l3.5 0.1l3.5 -0.3l3.5 -1.1l3.5 -1.8l3.5 -2.1l3.5 -2.6l3.5 -3.1l3.5 -3.2l3.5 -2.8l3.5 -2.5l3.5 -2.2l3.5 -1.6l3.5 -0.6l3.5 0.5l3.5 1.3l3.5 1.8l3.5 2.3l3.5 2.3"/><path d="M643.4 286.1l3.5 -1.6l3.5 -1.7l3.5 -1.3l3.5 -0.3l3.5 0.9l3.5 2.1l3.5 2.8l3.5 2.9l3.5 2.2l3.5 0.8l3.5 -0.9l3.5 -2.6l3.5 -3.9l3.5 -4.5l3.5 -4.4l3.5 -3.6l3.5 -2.3l3.5 -0.9l3.5 0.2l3.5 0.9l3.5 1l3.5 0.5l3.5 -0.4l3.5 -1.4l3.5 -2.2l3.5 -2.6l3.5 -2.6l3.5 -2.4l3.5 -1.9l3.5 -0.9l3.5 0.2l3.5 0.9l3.5 1l3.5 0.7l3.5 -0l3.5 -1.5l3.5 -3.3l3.5 -4.5l3.5 -4.7l3.5 -3.8l3.5 -2.4l3.5 -0.5l3.5 1.6l3.5 3.2"/><path d="M643.4 292.0l3.5 -2l3.5 -1.8l3.5 -1.1l3.5 -0.3l3.5 0.3l3.5 0.5l3.5 0.3l3.5 -0.4l3.5 -1.3l3.5 -2.1l3.5 -2.5l3.5 -2.4l3.5 -1.8l3.5 -0.9l3.5 0.1l3.5 0.8l3.5 0.9l3.5 0.6l3.5 -0.1l3.5 -0.9l3.5 -1.5l3.5 -1.7l3.5 -1.3l3.5 -0.6l3.5 0.1l3.5 0.6l3.5 0.6l3.5 -0.3l3.5 -1.7l3.5 -2.9l3.5 -3.5l3.5 -3.8l3.5 -3.8l3.5 -2.9l3.5 -1.3l3.5 0.2l3.5 1.1l3.5 1.6l3.5 1.7l3.5 1.2l3.5 0.2l3.5 -0.8l3.5 -1.3l3.5 -1.3"/><path d="M643.4 290.0l3.5 -1.5l3.5 -1.4l3.5 -1.2l3.5 -0.7l3.5 -0l3.5 0.6l3.5 1.3l3.5 1.7l3.5 1.8l3.5 1.6l3.5 1.1l3.5 0.4l3.5 -0.4l3.5 -1.2l3.5 -2l3.5 -2.6l3.5 -3l3.5 -3.2l3.5 -3.1l3.5 -2.8l3.5 -2.4l3.5 -1.8l3.5 -1.2l3.5 -0.6l3.5 -0.1l3.5 0.2l3.5 0.2l3.5 -0.2l3.5 -0.8l3.5 -1.1l3.5 -1.1l3.5 -0.9l3.5 -1.1l3.5 -1.1l3.5 -0.9l3.5 -1.1l3.5 -1.6l3.5 -2l3.5 -2l3.5 -1.8l3.5 -1.5l3.5 -1.2l3.5 -0.4l3.5 0.3"/><path d="M643.4 293.5l3.5 0.7l3.5 0.9l3.5 1.1l3.5 1.1l3.5 0.9l3.5 0.6l3.5 0.2l3.5 -0.3l3.5 -0.9l3.5 -1.4l3.5 -1.7l3.5 -1.8l3.5 -1.7l3.5 -1.3l3.5 -0.8l3.5 -0.3l3.5 0l3.5 0.1l3.5 -0.1l3.5 -0.5l3.5 -1.1l3.5 -1.7l3.5 -2.1l3.5 -2.3l3.5 -2.1l3.5 -1.7l3.5 -1.2l3.5 -0.9l3.5 -0.8l3.5 -0.6l3.5 -0.3l3.5 -0.1l3.5 -1l3.5 -1.8l3.5 -2.6l3.5 -3.4l3.5 -4.1l3.5 -3.8l3.5 -2.5l3.5 -0.3l3.5 2l3.5 4.1l3.5 5.9l3.5 6.5"/><path d="M643.4 294.5l3.5 1l3.5 -0.6l3.5 -2.1l3.5 -3l3.5 -3.3l3.5 -2.9l3.5 -2l3.5 -0.9l3.5 0.1l3.5 0.6l3.5 0.6l3.5 0.2l3.5 -0.5l3.5 -1.3l3.5 -1.9l3.5 -2.4l3.5 -2.5l3.5 -2.4l3.5 -2.1l3.5 -1.8l3.5 -1.6l3.5 -1.5l3.5 -1.5l3.5 -1.4l3.5 -1.3l3.5 -1.1l3.5 -0.8l3.5 -0.8l3.5 -0.9l3.5 -0.8l3.5 -0.8l3.5 -1.2l3.5 -1.9l3.5 -2.5l3.5 -2.8l3.5 -3.1l3.5 -2.9l3.5 -1.9l3.5 0.1l3.5 2.7l3.5 5l3.5 6.6l3.5 7.3l3.5 6.4"/><path d="M643.4 275.9l3.5 -1.1l3.5 0.5l3.5 2.1l3.5 3.3l3.5 3.8l3.5 3.4l3.5 2.4l3.5 0.8l3.5 -0.9l3.5 -2.4l3.5 -3.4l3.5 -3.7l3.5 -3.3l3.5 -2.5l3.5 -1.5l3.5 -0.6l3.5 -0.1l3.5 -0l3.5 -0.4l3.5 -0.8l3.5 -1.2l3.5 -1.3l3.5 -1l3.5 -0.3l3.5 0.5l3.5 1.1l3.5 1.2l3.5 0.4l3.5 -1l3.5 -2.5l3.5 -3.7l3.5 -4.9l3.5 -5.9l3.5 -5.9l3.5 -4.7l3.5 -3l3.5 -0.9l3.5 1.4l3.5 3.7l3.5 5.3l3.5 5.6l3.5 4.7l3.5 3.1l3.5 0.9"/><path d="M643.4 282.2l3.5 0.4l3.5 -0.2l3.5 -0.8l3.5 -1.3l3.5 -1.5l3.5 -1.4l3.5 -0.8l3.5 0.1l3.5 1l3.5 1.8l3.5 2.3l3.5 2.2l3.5 1.6l3.5 0.4l3.5 -1l3.5 -2.3l3.5 -3.2l3.5 -3.4l3.5 -2.9l3.5 -1.6l3.5 -0.1l3.5 1.4l3.5 2.4l3.5 2.6l3.5 1.8l3.5 0.1l3.5 -2.1l3.5 -4.7l3.5 -6.7l3.5 -7.3l3.5 -6.6l3.5 -5.2l3.5 -3.1l3.5 -0.2l3.5 2.4l3.5 3.7l3.5 3.4l3.5 1.9l3.5 -0.3l3.5 -2.6l3.5 -4.6l3.5 -5.5l3.5 -4.8l3.5 -2.8"/><path d="M643.4 300.6l3.5 -2.9l3.5 -3.8l3.5 -4.2l3.5 -3.9l3.5 -3.2l3.5 -2l3.5 -0.9l3.5 0.2l3.5 0.8l3.5 1l3.5 0.9l3.5 0.6l3.5 0.3l3.5 0.1l3.5 0.2l3.5 0.3l3.5 0.6l3.5 0.7l3.5 0.7l3.5 0.5l3.5 0.2l3.5 -0.4l3.5 -0.9l3.5 -1.3l3.5 -1.6l3.5 -1.8l3.5 -2l3.5 -2.5l3.5 -3.2l3.5 -3.7l3.5 -3.9l3.5 -4.2l3.5 -5l3.5 -5.2l3.5 -4.8l3.5 -4.1l3.5 -3l3.5 -1.2l3.5 1.3l3.5 4l3.5 6l3.5 7.1l3.5 7.3l3.5 6.2"/><path d="M643.4 287.6l3.5 -1l3.5 -2.2l3.5 -2.6l3.5 -2.3l3.5 -1.4l3.5 -0.4l3.5 0.4l3.5 0.7l3.5 0.3l3.5 -0.6l3.5 -1.5l3.5 -2.1l3.5 -2.3l3.5 -1.8l3.5 -1.1l3.5 -0.2l3.5 0.4l3.5 0.5l3.5 0.1l3.5 -0.5l3.5 -1.1l3.5 -1.4l3.5 -1.2l3.5 -0.5l3.5 0.3l3.5 0.9l3.5 0.9l3.5 -0.1l3.5 -1.9l3.5 -3.6l3.5 -4.8l3.5 -5.8l3.5 -6.1l3.5 -4.9l3.5 -2.7l3.5 -0.5l3.5 1.3l3.5 2.2l3.5 2.3l3.5 1.3l3.5 -0.7l3.5 -2.8l3.5 -3.9l3.5 -4"/><path d="M643.4 290.1l3.5 -2.1l3.5 -3.1l3.5 -3.1l3.5 -2l3.5 -0.4l3.5 1.3l3.5 2.5l3.5 2.7l3.5 1.8l3.5 0.1l3.5 -1.7l3.5 -3.2l3.5 -3.7l3.5 -3.2l3.5 -1.8l3.5 -0.1l3.5 1.4l3.5 2.1l3.5 1.8l3.5 0.7l3.5 -1l3.5 -2.5l3.5 -3.5l3.5 -3.5l3.5 -2.6l3.5 -1.3l3.5 -0.1l3.5 0.4l3.5 -0.1l3.5 -1.1l3.5 -2.3l3.5 -3.7l3.5 -5l3.5 -5.1l3.5 -3.9l3.5 -2l3.5 0.1l3.5 2.3l3.5 3.8l3.5 4.3l3.5 3.1l3.5 0.9l3.5 -1.2l3.5 -2.9"/><path d="M643.4 287.4l3.5 1l3.5 1.3l3.5 1.1l3.5 0.4l3.5 -0.7l3.5 -1.8l3.5 -2.7l3.5 -3.1l3.5 -2.9l3.5 -2.2l3.5 -0.8l3.5 0.7l3.5 2.1l3.5 3l3.5 3.3l3.5 2.7l3.5 1.4l3.5 -0.3l3.5 -2.1l3.5 -3.4l3.5 -4.1l3.5 -4.1l3.5 -3.3l3.5 -2.2l3.5 -0.9l3.5 -0.1l3.5 0.1l3.5 -0.6l3.5 -2l3.5 -3.3l3.5 -4.1l3.5 -4.7l3.5 -4.9l3.5 -3.9l3.5 -1.9l3.5 0.3l3.5 2.5l3.5 4.5l3.5 6l3.5 6.6l3.5 5.7l3.5 3.7l3.5 1.1l3.5 -1.9"/><path d="M643.4 299.7l3.5 -1.5l3.5 -1.8l3.5 -1.9l3.5 -1.8l3.5 -1.5l3.5 -1.2l3.5 -1l3.5 -0.9l3.5 -0.9l3.5 -1l3.5 -1.2l3.5 -1.3l3.5 -1.4l3.5 -1.3l3.5 -1l3.5 -0.7l3.5 -0.4l3.5 -0.1l3.5 0.1l3.5 0.3l3.5 0.3l3.5 0.1l3.5 -0l3.5 -0.2l3.5 -0.3l3.5 -0.5l3.5 -0.8l3.5 -1.3l3.5 -2l3.5 -2.3l3.5 -2.1l3.5 -2l3.5 -2.5l3.5 -2.8l3.5 -3l3.5 -3.6l3.5 -4.3l3.5 -4.6l3.5 -4.2l3.5 -3.1l3.5 -1.5l3.5 0.4l3.5 2.7l3.5 4.9"/><path d="M643.4 295.4l3.5 0.7l3.5 0.8l3.5 0.8l3.5 0.6l3.5 0.2l3.5 -0.2l3.5 -0.7l3.5 -1.2l3.5 -1.7l3.5 -2.1l3.5 -2.2l3.5 -2.1l3.5 -1.7l3.5 -1.2l3.5 -0.7l3.5 -0.2l3.5 0.2l3.5 0.3l3.5 0.2l3.5 -0.1l3.5 -0.5l3.5 -0.8l3.5 -1.1l3.5 -1.3l3.5 -1.3l3.5 -1.3l3.5 -1.4l3.5 -1.7l3.5 -2.1l3.5 -2.2l3.5 -1.9l3.5 -1.5l3.5 -1.6l3.5 -1.3l3.5 -0.8l3.5 -0.7l3.5 -0.7l3.5 -0.6l3.5 -0.1l3.5 0.5l3.5 0.9l3.5 0.9l3.5 1l3.5 0.7"/><path d="M643.4 282.4l3.5 1.4l3.5 1.8l3.5 1.7l3.5 1.5l3.5 1l3.5 0.5l3.5 0.2l3.5 -0.1l3.5 -0.4l3.5 -0.6l3.5 -0.9l3.5 -1.3l3.5 -1.7l3.5 -2.1l3.5 -2.4l3.5 -2.5l3.5 -2.4l3.5 -2l3.5 -1.3l3.5 -0.5l3.5 0.2l3.5 0.8l3.5 1.1l3.5 1.1l3.5 0.8l3.5 0l3.5 -1l3.5 -2.2l3.5 -3.4l3.5 -4l3.5 -3.9l3.5 -3.8l3.5 -3.6l3.5 -3l3.5 -2.1l3.5 -1.5l3.5 -1.1l3.5 -0.6l3.5 0.4l3.5 1.6l3.5 2.6l3.5 3.3l3.5 3.9l3.5 3.8"/><path d="M643.4 291.2l3.5 -2.7l3.5 -2.6l3.5 -2.2l3.5 -1.5l3.5 -0.9l3.5 -0.3l3.5 0l3.5 0.2l3.5 0.2l3.5 0.1l3.5 -0.1l3.5 -0.3l3.5 -0.7l3.5 -1.1l3.5 -1.6l3.5 -2l3.5 -2.3l3.5 -2.1l3.5 -1.6l3.5 -0.7l3.5 0.4l3.5 1.3l3.5 1.8l3.5 1.6l3.5 0.6l3.5 -1.1l3.5 -3.2l3.5 -5.3l3.5 -6.7l3.5 -6.8l3.5 -5.7l3.5 -4.1l3.5 -1.7l3.5 0.9l3.5 3.1l3.5 3.7l3.5 2.7l3.5 0.7l3.5 -1.5l3.5 -3.2l3.5 -4l3.5 -3.4l3.5 -1.1l3.5 2.1"/><path d="M643.4 283.2l3.5 2.3l3.5 2.4l3.5 1.7l3.5 0.2l3.5 -1.6l3.5 -3.1l3.5 -3.8l3.5 -3.5l3.5 -2.3l3.5 -0.6l3.5 1.3l3.5 2.8l3.5 3.4l3.5 2.9l3.5 1.6l3.5 -0.3l3.5 -2.1l3.5 -3.4l3.5 -3.8l3.5 -3.3l3.5 -2.2l3.5 -0.8l3.5 0.3l3.5 0.7l3.5 0.3l3.5 -0.9l3.5 -2.6l3.5 -4.4l3.5 -5.6l3.5 -5.6l3.5 -4.6l3.5 -3.2l3.5 -1.2l3.5 1l3.5 2.7l3.5 3.1l3.5 2.4l3.5 1.2l3.5 0.2l3.5 -0.3l3.5 -0.2l3.5 0.6l3.5 2l3.5 3.1"/><path d="M643.4 278.7l3.5 -0.8l3.5 -0.4l3.5 -0.1l3.5 0.1l3.5 0.1l3.5 -0l3.5 -0.2l3.5 -0.3l3.5 -0.3l3.5 -0.2l3.5 -0l3.5 0.1l3.5 0.1l3.5 -0.1l3.5 -0.6l3.5 -1.3l3.5 -2.1l3.5 -2.7l3.5 -2.9l3.5 -2.7l3.5 -2l3.5 -0.9l3.5 0.3l3.5 1.3l3.5 1.7l3.5 1.5l3.5 0.5l3.5 -1.2l3.5 -3.2l3.5 -4.5l3.5 -5.2l3.5 -5.5l3.5 -5.1l3.5 -3.8l3.5 -1.9l3.5 -0.3l3.5 0.7l3.5 1.3l3.5 1.6l3.5 1.7l3.5 1.3l3.5 0.7l3.5 0.6l3.5 0.4"/><path d="M643.4 293.0l3.5 1.1l3.5 1.1l3.5 0.9l3.5 0.5l3.5 0.1l3.5 -0.2l3.5 -0.4l3.5 -0.6l3.5 -0.7l3.5 -0.9l3.5 -1.2l3.5 -1.5l3.5 -1.8l3.5 -2l3.5 -2l3.5 -1.9l3.5 -1.5l3.5 -1l3.5 -0.4l3.5 0.1l3.5 0.3l3.5 0.3l3.5 -0.1l3.5 -0.7l3.5 -1.3l3.5 -2l3.5 -2.5l3.5 -3l3.5 -3.1l3.5 -2.6l3.5 -1.6l3.5 -0.6l3.5 -0.2l3.5 0.1l3.5 0.1l3.5 -0.7l3.5 -1.9l3.5 -2.8l3.5 -2.9l3.5 -2l3.5 -0.6l3.5 1.3l3.5 3.5l3.5 5.1"/><path d="M643.4 280.6l3.5 -3.3l3.5 -3.4l3.5 -2.9l3.5 -2l3.5 -0.7l3.5 0.6l3.5 1.8l3.5 2.6l3.5 2.8l3.5 2.5l3.5 1.6l3.5 0.5l3.5 -0.8l3.5 -1.9l3.5 -2.7l3.5 -3l3.5 -3l3.5 -2.5l3.5 -1.8l3.5 -1l3.5 -0.3l3.5 0.1l3.5 0.2l3.5 -0.1l3.5 -0.6l3.5 -1.4l3.5 -2.3l3.5 -3.2l3.5 -3.9l3.5 -3.7l3.5 -3l3.5 -2.3l3.5 -1.1l3.5 0.3l3.5 1.6l3.5 2l3.5 1.4l3.5 0.2l3.5 -1.1l3.5 -2.5l3.5 -3.9l3.5 -4.9l3.5 -4.8l3.5 -4"/><path d="M643.4 285.6l3.5 5.2l3.5 3.7l3.5 0.8l3.5 -2.6l3.5 -5.4l3.5 -6.7l3.5 -6.2l3.5 -4l3.5 -0.8l3.5 2.3l3.5 4.5l3.5 5l3.5 3.9l3.5 1.4l3.5 -1.5l3.5 -3.9l3.5 -5.1l3.5 -4.8l3.5 -3l3.5 -0.5l3.5 1.8l3.5 3.2l3.5 3.2l3.5 1.7l3.5 -0.8l3.5 -3.5l3.5 -5.8l3.5 -7.1l3.5 -7l3.5 -5.3l3.5 -2.8l3.5 -0.5l3.5 1.6l3.5 2.9l3.5 3.2l3.5 2l3.5 -0.1l3.5 -1.9l3.5 -2.7l3.5 -2.4l3.5 -1.3l3.5 0.3l3.5 1.9l3.5 2.8"/><path d="M643.4 289.1l3.5 -0.2l3.5 -1l3.5 -1.4l3.5 -1.5l3.5 -1.2l3.5 -0.5l3.5 0.3l3.5 1l3.5 1.5l3.5 1.6l3.5 1.5l3.5 1.1l3.5 0.5l3.5 -0.1l3.5 -0.7l3.5 -1.2l3.5 -1.4l3.5 -1.5l3.5 -1.4l3.5 -1.2l3.5 -1l3.5 -0.8l3.5 -0.6l3.5 -0.5l3.5 -0.5l3.5 -0.7l3.5 -1.1l3.5 -1.9l3.5 -2.8l3.5 -3.3l3.5 -3.3l3.5 -3.3l3.5 -3.5l3.5 -3.4l3.5 -2.9l3.5 -2.6l3.5 -2.3l3.5 -1.8l3.5 -0.8l3.5 0.4l3.5 1.3l3.5 2l3.5 2.4l3.5 2.2"/><path d="M643.4 279.0l3.5 -1.9l3.5 -1.1l3.5 0.1l3.5 1.5l3.5 2.6l3.5 3.3l3.5 3.1l3.5 2.2l3.5 0.6l3.5 -1.3l3.5 -3l3.5 -3.9l3.5 -3.9l3.5 -3l3.5 -1.5l3.5 0.1l3.5 1.4l3.5 1.8l3.5 1.4l3.5 0.2l3.5 -1.4l3.5 -2.8l3.5 -3.8l3.5 -3.9l3.5 -3.2l3.5 -2.1l3.5 -0.9l3.5 -0.2l3.5 -0.2l3.5 -0.3l3.5 -0.6l3.5 -1.2l3.5 -1.9l3.5 -1.9l3.5 -1.4l3.5 -0.9l3.5 -0.7l3.5 -0.5l3.5 -0.6l3.5 -1l3.5 -1.9l3.5 -2.8l3.5 -3l3.5 -2.5"/><path d="M643.4 285.7l3.5 0.5l3.5 -0.2l3.5 -1.2l3.5 -2.3l3.5 -2.8l3.5 -2.8l3.5 -2l3.5 -0.6l3.5 0.7l3.5 1.8l3.5 2.3l3.5 2.1l3.5 1.3l3.5 0.2l3.5 -0.8l3.5 -1.4l3.5 -1.5l3.5 -1l3.5 -0.2l3.5 0.6l3.5 0.9l3.5 0.6l3.5 -0.3l3.5 -1.6l3.5 -2.9l3.5 -4.1l3.5 -4.7l3.5 -4.9l3.5 -4.5l3.5 -3.4l3.5 -2.2l3.5 -1.4l3.5 -0.9l3.5 -0.7l3.5 -0.7l3.5 -1.2l3.5 -1.7l3.5 -1.6l3.5 -0.4l3.5 1.4l3.5 3l3.5 4.1l3.5 4.6l3.5 3.7"/><path d="M643.4 288.6l3.5 1.2l3.5 0.9l3.5 0.5l3.5 0l3.5 -0.5l3.5 -0.9l3.5 -1.3l3.5 -1.5l3.5 -1.7l3.5 -1.7l3.5 -1.5l3.5 -1.2l3.5 -0.9l3.5 -0.5l3.5 -0.2l3.5 -0l3.5 -0l3.5 -0.2l3.5 -0.5l3.5 -0.9l3.5 -1.3l3.5 -1.7l3.5 -1.9l3.5 -2.1l3.5 -2l3.5 -2l3.5 -2l3.5 -2.2l3.5 -2.5l3.5 -2.5l3.5 -2.2l3.5 -2.1l3.5 -2l3.5 -1.7l3.5 -1.3l3.5 -1.3l3.5 -1.5l3.5 -1.6l3.5 -1.3l3.5 -0.7l3.5 -0.2l3.5 0.3l3.5 1.1l3.5 1.6"/><path d="M643.4 293.4l3.5 1.2l3.5 1.1l3.5 0.9l3.5 0.6l3.5 0.3l3.5 -0l3.5 -0.3l3.5 -0.7l3.5 -1l3.5 -1.3l3.5 -1.6l3.5 -1.7l3.5 -1.7l3.5 -1.6l3.5 -1.4l3.5 -1.1l3.5 -0.9l3.5 -0.7l3.5 -0.5l3.5 -0.4l3.5 -0.4l3.5 -0.4l3.5 -0.5l3.5 -0.5l3.5 -0.7l3.5 -0.9l3.5 -1.3l3.5 -2l3.5 -2.8l3.5 -3.1l3.5 -2.8l3.5 -2.4l3.5 -2.3l3.5 -1.7l3.5 -0.8l3.5 -0.2l3.5 0.1l3.5 0.5l3.5 1l3.5 1.6l3.5 1.8l3.5 1.7l3.5 1.6l3.5 1.1"/><path d="M643.4 291.9l3.5 0.5l3.5 0.8l3.5 0.9l3.5 0.6l3.5 0.1l3.5 -0.6l3.5 -1.3l3.5 -1.8l3.5 -2.1l3.5 -2.1l3.5 -1.9l3.5 -1.4l3.5 -0.9l3.5 -0.5l3.5 -0.1l3.5 0l3.5 -0l3.5 -0.2l3.5 -0.5l3.5 -0.9l3.5 -1.2l3.5 -1.4l3.5 -1.5l3.5 -1.4l3.5 -1.3l3.5 -1.1l3.5 -1.1l3.5 -1.3l3.5 -1.6l3.5 -1.7l3.5 -1.4l3.5 -1.3l3.5 -1.6l3.5 -1.7l3.5 -1.6l3.5 -1.7l3.5 -1.8l3.5 -1.3l3.5 -0.2l3.5 1.3l3.5 2.6l3.5 3.5l3.5 4.1l3.5 3.7"/><path d="M643.4 288.0l3.5 1.5l3.5 0.3l3.5 -1.1l3.5 -2l3.5 -2.2l3.5 -1.5l3.5 -0.3l3.5 1l3.5 1.9l3.5 1.9l3.5 1.1l3.5 -0.2l3.5 -1.7l3.5 -2.7l3.5 -2.8l3.5 -2.1l3.5 -0.7l3.5 0.7l3.5 1.8l3.5 2.1l3.5 1.6l3.5 0.4l3.5 -1l3.5 -1.9l3.5 -2.2l3.5 -1.8l3.5 -1l3.5 -0.3l3.5 -0.2l3.5 -0.4l3.5 -0.9l3.5 -1.8l3.5 -3.5l3.5 -4.5l3.5 -4.5l3.5 -3.8l3.5 -2.4l3.5 -0.5l3.5 1.4l3.5 2.5l3.5 2.2l3.5 0.7l3.5 -1.1l3.5 -2.7"/><path d="M643.4 290.8l3.5 3.7l3.5 3l3.5 1.5l3.5 -0.2l3.5 -1.8l3.5 -2.6l3.5 -2.8l3.5 -2.2l3.5 -1.5l3.5 -0.9l3.5 -0.7l3.5 -1l3.5 -1.7l3.5 -2.2l3.5 -2.4l3.5 -1.9l3.5 -0.8l3.5 0.6l3.5 1.9l3.5 2.6l3.5 2.5l3.5 1.5l3.5 -0.1l3.5 -1.9l3.5 -3.3l3.5 -4.1l3.5 -4.3l3.5 -4.1l3.5 -3.7l3.5 -3.1l3.5 -2.6l3.5 -2.6l3.5 -3l3.5 -3l3.5 -2.3l3.5 -1.3l3.5 0.3l3.5 2.5l3.5 4.8l3.5 6.3l3.5 6.4l3.5 4.9l3.5 2.4l3.5 -0.6"/><path d="M643.4 290.2l3.5 1.2l3.5 1.1l3.5 0.7l3.5 0.2l3.5 -0.3l3.5 -0.8l3.5 -1.2l3.5 -1.5l3.5 -1.7l3.5 -1.9l3.5 -2l3.5 -2.2l3.5 -2.3l3.5 -2.4l3.5 -2.5l3.5 -2.5l3.5 -2.3l3.5 -2.1l3.5 -1.6l3.5 -1.1l3.5 -0.5l3.5 0.1l3.5 0.5l3.5 0.8l3.5 0.8l3.5 0.5l3.5 -0.1l3.5 -0.9l3.5 -1.9l3.5 -2.3l3.5 -2.2l3.5 -2l3.5 -1.9l3.5 -1.3l3.5 -0.6l3.5 -0.3l3.5 -0.4l3.5 -0.5l3.5 -0.2l3.5 0.2l3.5 0.6l3.5 1l3.5 1.6l3.5 2.1"/><path d="M643.4 283.1l3.5 0.7l3.5 1.2l3.5 1.6l3.5 1.7l3.5 1.7l3.5 1.4l3.5 0.9l3.5 0.2l3.5 -0.7l3.5 -1.6l3.5 -2.5l3.5 -3.1l3.5 -3.4l3.5 -3.4l3.5 -3l3.5 -2.4l3.5 -1.6l3.5 -0.8l3.5 -0.1l3.5 0.5l3.5 0.9l3.5 1.1l3.5 1.1l3.5 0.9l3.5 0.5l3.5 -0.2l3.5 -1.1l3.5 -2.3l3.5 -3.6l3.5 -4.3l3.5 -4.5l3.5 -4.6l3.5 -4.5l3.5 -3.6l3.5 -2.3l3.5 -1l3.5 0.2l3.5 1.5l3.5 2.8l3.5 4l3.5 4.4l3.5 4.3l3.5 3.7l3.5 2.6"/><path d="M643.4 294.5l3.5 -1.7l3.5 -2.7l3.5 -3.3l3.5 -3.2l3.5 -2.6l3.5 -1.7l3.5 -0.7l3.5 0.2l3.5 0.9l3.5 1.1l3.5 1.1l3.5 0.8l3.5 0.4l3.5 -0.2l3.5 -0.6l3.5 -1.1l3.5 -1.4l3.5 -1.7l3.5 -1.9l3.5 -2l3.5 -1.9l3.5 -1.7l3.5 -1.4l3.5 -1l3.5 -0.6l3.5 -0.3l3.5 -0.2l3.5 -0.5l3.5 -1.1l3.5 -1.5l3.5 -1.7l3.5 -2l3.5 -2.6l3.5 -2.9l3.5 -2.9l3.5 -3l3.5 -3.2l3.5 -2.9l3.5 -1.9l3.5 -0.4l3.5 1.1l3.5 2.6l3.5 4l3.5 4.9"/></g>
<clipPath id="c643_306"><rect x="643.4" y="180.4" width="170" height="140"/></clipPath>
<g clip-path="url(#c643_306)"><g fill="none" stroke-width="6.6" stroke-linecap="round" stroke-linejoin="round"><path d="M643.4 285.6l1.6 -0l1.6 -0l1.6 -0l1.6 -0.1l1.6 -0.1l1.6 -0.1l1.6 -0.1l1.6 -0.1l1.6 -0.1l1.6 -0.1l1.6 -0.1" stroke="#0000d4"/><path d="M660.5 284.7l1.6 -0.1l1.6 -0.1l1.6 -0.1l1.6 -0.2l1.6 -0.2l1.6 -0.2l1.6 -0.2" stroke="#0000e9"/><path d="M671.4 283.6l1.6 -0.2l1.6 -0.2l1.6 -0.3l1.6 -0.3l1.6 -0.3" stroke="#0000ff"/><path d="M679.1 282.3l1.6 -0.3l1.6 -0.4l1.6 -0.4" stroke="#0015ff"/><path d="M683.8 281.3l1.6 -0.4l1.6 -0.4" stroke="#002aff"/><path d="M686.9 280.5l1.6 -0.4l1.6 -0.4l1.6 -0.4" stroke="#003fff"/><path d="M691.5 279.3l1.6 -0.4l1.6 -0.4l1.6 -0.4" stroke="#0055ff"/><path d="M696.2 278.1l1.6 -0.4l1.6 -0.3l1.6 -0.3" stroke="#006aff"/><path d="M700.9 277.1l1.6 -0.3l1.6 -0.3l1.6 -0.3" stroke="#007fff"/><path d="M705.5 276.1l1.6 -0.3l1.6 -0.3l1.6 -0.3l1.6 -0.3" stroke="#0094ff"/><path d="M711.7 274.7l1.6 -0.3l1.6 -0.3l1.6 -0.4" stroke="#00aaff"/><path d="M716.4 273.7l1.6 -0.4l1.6 -0.4l1.6 -0.4" stroke="#00bfff"/><path d="M721.0 272.6l1.6 -0.4l1.6 -0.4" stroke="#00d4ff"/><path d="M724.2 271.8l1.6 -0.4l1.6 -0.4l1.6 -0.4" stroke="#00e9ff"/><path d="M728.8 270.6l1.6 -0.4l1.6 -0.5" stroke="#00ffff"/><path d="M731.9 269.7l1.6 -0.5l1.6 -0.5" stroke="#15ffe9"/><path d="M735.0 268.7l1.6 -0.6l1.6 -0.7" stroke="#2affd4"/><path d="M738.1 267.4l1.6 -0.8" stroke="#3fffbf"/><path d="M739.7 266.5l1.6 -1" stroke="#54ffaa"/><path d="M741.2 265.5l1.6 -1.1" stroke="#6aff94"/><path d="M742.8 264.4l1.6 -1.2" stroke="#7fff7f"/><path d="M744.3 263.1l1.6 -1.3" stroke="#94ff6a"/><path d="M745.9 261.8l1.6 -1.3" stroke="#a9ff55"/><path d="M747.5 260.5l1.6 -1.3" stroke="#bfff3f"/><path d="M749.0 259.2l1.6 -1.3" stroke="#e9ff15"/><path d="M750.6 257.9l1.6 -1.2" stroke="#ffff00"/><path d="M752.1 256.7l1.6 -1.2" stroke="#ffe900"/><path d="M753.7 255.4l1.6 -1.2" stroke="#ffd400"/><path d="M755.2 254.2l1.6 -1.2" stroke="#ffbf00"/><path d="M756.8 253.0l1.6 -1.2" stroke="#ffa900"/><path d="M758.3 251.8l1.6 -1.1" stroke="#ff9400"/><path d="M759.9 250.7l1.6 -0.9" stroke="#ff7f00"/><path d="M761.4 249.8l1.6 -0.8" stroke="#ff6a00"/><path d="M763.0 249.0l1.6 -0.6l1.6 -0.5" stroke="#ff5500"/><path d="M766.1 247.9l1.6 -0.4l1.6 -0.3l1.6 -0.3l1.6 -0.2" stroke="#ff3f00"/><path d="M772.3 246.7l1.6 -0.2l1.6 -0.1l1.6 0l1.6 0.1" stroke="#ff2a00"/><path d="M778.5 246.6l1.6 0.3l1.6 0.4l1.6 0.5" stroke="#ff3f00"/><path d="M783.2 247.8l1.6 0.5l1.6 0.6" stroke="#ff5500"/><path d="M786.3 248.9l1.6 0.6l1.6 0.6" stroke="#ff6a00"/><path d="M789.4 250.0l1.6 0.6l1.6 0.6" stroke="#ff7f00"/><path d="M792.5 251.3l1.6 0.6" stroke="#ff9400"/><path d="M794.0 251.9l1.6 0.6l1.6 0.4" stroke="#ffa900"/></g></g>
<path d="M643.4 185.4V306.9H797.1" fill="none" stroke="#3a3a3a" stroke-width="1"/><path d="M657.4 306.9v-2M672.9 306.9v-2M688.4 306.9v-2M704 306.9v-2M719.5 306.9v-2M735 306.9v-2M750.6 306.9v-2M766.1 306.9v-2M781.6 306.9v-2M797.1 306.9v-2M643.4 289.5h2M643.4 272.2h2M643.4 254.8h2M643.4 237.5h2M643.4 220.1h2M643.4 202.8h2" stroke="#3a3a3a" stroke-width="0.8"/>
<g font-family="'Liberation Serif', serif" font-size="8.3" fill="#555" text-anchor="middle"><text x="657.4" y="315.6">10</text><text x="672.9" y="315.6">20</text><text x="688.4" y="315.6">30</text><text x="704" y="315.6">40</text><text x="719.5" y="315.6">50</text><text x="735" y="315.6">60</text><text x="750.6" y="315.6">70</text><text x="766.1" y="315.6">80</text><text x="781.6" y="315.6">90</text><text x="797.1" y="315.6">100</text></g>
<text x="704.4" y="195.5" font-family="'Liberation Serif', serif" font-size="14.6" fill="#111" textLength="31.3" lengthAdjust="spacingAndGlyphs">Right</text>
<text x="720.3" y="327.7" text-anchor="middle" font-family="'Liberation Serif', serif" font-size="11.8" fill="#222">Location</text>
<clipPath id="g53_636"><rect x="53.4" y="514.2" width="160" height="122.0"/></clipPath>
<g clip-path="url(#g53_636)" fill="none" stroke="#9d9d9d" stroke-width="1.1" stroke-linejoin="round"><path d="M53.4 580.6l3.5 -3.2l3.5 -2.3l3.5 -0.4l3.5 2l3.5 4.2l3.5 5.2l3.5 4.6l3.5 2.5l3.5 -0.3l3.5 -2.5l3.5 -3.3l3.5 -2.5l3.5 -0.6l3.5 1.7l3.5 3.5l3.5 4.3l3.5 4.1l3.5 3.1l3.5 1.7l3.5 0.1l3.5 -1.2l3.5 -1.3l3.5 -0.5l3.5 0.4l3.5 0.4l3.5 -0.8l3.5 -1.6l3.5 -0.2l3.5 2.7l3.5 4.6l3.5 4l3.5 1.2l3.5 -2.9l3.5 -5.6l3.5 -4.1l3.5 -0.1l3.5 2.7l3.5 3.3l3.5 1.8l3.5 -0.4l3.5 -0.3l3.5 0.4l3.5 -0.1l3.5 -1.2"/><path d="M53.4 577.6l3.5 2.1l3.5 1.7l3.5 0.9l3.5 0.3l3.5 0.2l3.5 0.7l3.5 1.5l3.5 1.9l3.5 1.9l3.5 1.6l3.5 1.3l3.5 1.2l3.5 1.3l3.5 1.4l3.5 1.2l3.5 0.8l3.5 0.2l3.5 -0.2l3.5 -0.2l3.5 0l3.5 0.6l3.5 1.7l3.5 2.6l3.5 2.3l3.5 0.3l3.5 -3l3.5 -5.1l3.5 -3.7l3.5 0.5l3.5 4.4l3.5 5.6l3.5 3.8l3.5 -0.5l3.5 -4.2l3.5 -4.4l3.5 -1.8l3.5 0l3.5 0.1l3.5 -1.3l3.5 -2.9l3.5 -1.9l3.5 0.2l3.5 1.4l3.5 1.8"/><path d="M53.4 589.2l3.5 -2.6l3.5 -6.4l3.5 -8l3.5 -6.2l3.5 -1.5l3.5 4.1l3.5 8.4l3.5 9.4l3.5 6.8l3.5 2l3.5 -2.7l3.5 -5.3l3.5 -4.6l3.5 -1.2l3.5 3.2l3.5 6.5l3.5 7.1l3.5 4.8l3.5 0.7l3.5 -3.6l3.5 -6.1l3.5 -5l3.5 -1.3l3.5 3.1l3.5 5.6l3.5 4.8l3.5 2.1l3.5 0.2l3.5 -0.3l3.5 -0.6l3.5 -1.5l3.5 -2.8l3.5 -4.4l3.5 -4.6l3.5 -1.7l3.5 2.4l3.5 3.9l3.5 2.6l3.5 -0.4l3.5 -3.1l3.5 -2l3.5 1l3.5 3.1l3.5 3.9"/><path d="M53.4 573.7l3.5 -0.7l3.5 1.3l3.5 1.9l3.5 1.3l3.5 0.3l3.5 -0.1l3.5 0.8l3.5 2.6l3.5 4.4l3.5 5l3.5 4l3.5 1.5l3.5 -1.2l3.5 -2.7l3.5 -2.3l3.5 -0.1l3.5 2.6l3.5 4.3l3.5 4l3.5 1.5l3.5 -1.7l3.5 -3.2l3.5 -2.6l3.5 -0.5l3.5 1.4l3.5 1.2l3.5 0l3.5 -0.2l3.5 0.8l3.5 1.9l3.5 2.1l3.5 1.6l3.5 -0l3.5 -1.4l3.5 -0.6l3.5 1l3.5 0.5l3.5 -1.7l3.5 -4.2l3.5 -5.5l3.5 -3.3l3.5 -0l3.5 1.7l3.5 2.1"/><path d="M53.4 561.6l3.5 4l3.5 4.7l3.5 4l3.5 2.3l3.5 0.2l3.5 -1.7l3.5 -2.9l3.5 -3.1l3.5 -2l3.5 0.2l3.5 3.1l3.5 5.7l3.5 7.1l3.5 6.4l3.5 3.6l3.5 -0.5l3.5 -4.5l3.5 -6.5l3.5 -5.9l3.5 -2.7l3.5 2l3.5 7.1l3.5 10.2l3.5 9.4l3.5 4.5l3.5 -3.4l3.5 -10.1l3.5 -11.5l3.5 -7.4l3.5 -0.9l3.5 4.7l3.5 7.5l3.5 6.4l3.5 3.3l3.5 1.4l3.5 0.5l3.5 -1.6l3.5 -4.3l3.5 -6.5l3.5 -6.9l3.5 -3.3l3.5 1.7l3.5 5l3.5 5.9"/><path d="M53.4 588.5l3.5 0.2l3.5 -0.6l3.5 -1.3l3.5 -1.1l3.5 0l3.5 1.4l3.5 2.3l3.5 1.8l3.5 -0.1l3.5 -2.4l3.5 -4l3.5 -3.8l3.5 -1.6l3.5 2.1l3.5 6l3.5 8.8l3.5 9.5l3.5 8.1l3.5 5l3.5 1l3.5 -2.4l3.5 -4.2l3.5 -4.4l3.5 -4.1l3.5 -4.2l3.5 -5.4l3.5 -5.6l3.5 -2.9l3.5 2.1l3.5 6.3l3.5 7.6l3.5 5.7l3.5 1.3l3.5 -2.8l3.5 -3.3l3.5 -0.8l3.5 1.1l3.5 1.7l3.5 1l3.5 -0.3l3.5 0.4l3.5 1.2l3.5 0.3l3.5 -1.7"/><path d="M53.4 576.7l3.5 6.9l3.5 5.7l3.5 3.5l3.5 1.3l3.5 -0.2l3.5 -1l3.5 -1.6l3.5 -2.4l3.5 -3.3l3.5 -3.6l3.5 -2.8l3.5 -0.7l3.5 2.3l3.5 5l3.5 6.4l3.5 5.7l3.5 3.2l3.5 -0l3.5 -2.8l3.5 -4.2l3.5 -3.4l3.5 -0.4l3.5 3.3l3.5 5.5l3.5 5l3.5 1.6l3.5 -1.9l3.5 -2.6l3.5 -0.4l3.5 2.1l3.5 2.6l3.5 0.7l3.5 -3.4l3.5 -6.8l3.5 -6.2l3.5 -2.5l3.5 1.1l3.5 3.3l3.5 3.8l3.5 3.1l3.5 3.6l3.5 3.6l3.5 1.6l3.5 -1.1"/><path d="M53.4 564.9l3.5 10.2l3.5 9.6l3.5 5.5l3.5 0.5l3.5 -3.3l3.5 -4.5l3.5 -3.3l3.5 -0.8l3.5 1.4l3.5 2.8l3.5 3.2l3.5 3.1l3.5 2.9l3.5 2.7l3.5 2.1l3.5 0.6l3.5 -1.6l3.5 -3.7l3.5 -4.8l3.5 -4l3.5 -1l3.5 3.9l3.5 8.3l3.5 9.6l3.5 6.2l3.5 -1.2l3.5 -8.6l3.5 -11.2l3.5 -7.9l3.5 -1.2l3.5 5.5l3.5 9.5l3.5 8.8l3.5 4.9l3.5 1.1l3.5 -1.6l3.5 -4.5l3.5 -6.5l3.5 -6.7l3.5 -5l3.5 -0.3l3.5 4.1l3.5 5.3l3.5 3.9"/><path d="M53.4 576.6l3.5 -2.6l3.5 -1.9l3.5 -1.3l3.5 -0.3l3.5 0.9l3.5 2l3.5 2.7l3.5 2.7l3.5 2l3.5 1.3l3.5 1.1l3.5 1.5l3.5 2.6l3.5 3.8l3.5 4.4l3.5 4.1l3.5 2.9l3.5 1.2l3.5 -0.4l3.5 -1.7l3.5 -2.1l3.5 -1.1l3.5 0.4l3.5 1.3l3.5 0.7l3.5 -1.5l3.5 -3.2l3.5 -2.1l3.5 1.3l3.5 4.1l3.5 4.5l3.5 2.3l3.5 -1.6l3.5 -4.5l3.5 -3.4l3.5 0.2l3.5 2.6l3.5 2.6l3.5 0.4l3.5 -2.4l3.5 -2.5l3.5 -1l3.5 0.3l3.5 1.6"/><path d="M53.4 582.8l3.5 -0.6l3.5 -1.9l3.5 -1.8l3.5 -0l3.5 2.6l3.5 4.9l3.5 5.5l3.5 3.8l3.5 0.2l3.5 -3.7l3.5 -6.2l3.5 -6.3l3.5 -3.8l3.5 0.5l3.5 4.8l3.5 7.5l3.5 7.5l3.5 5l3.5 0.8l3.5 -3.6l3.5 -6.3l3.5 -6l3.5 -2.8l3.5 1.4l3.5 4.9l3.5 5.9l3.5 5.5l3.5 5.4l3.5 5.3l3.5 3.7l3.5 -0.1l3.5 -4.8l3.5 -9l3.5 -9.9l3.5 -5.7l3.5 1.2l3.5 5.7l3.5 6l3.5 2.4l3.5 -2.8l3.5 -5.3l3.5 -5.3l3.5 -3.9l3.5 -1.2"/><path d="M53.4 587.8l3.5 9.1l3.5 -0.1l3.5 -10.4l3.5 -15.8l3.5 -12.9l3.5 -3.4l3.5 7.2l3.5 13.1l3.5 12l3.5 5.9l3.5 -0.3l3.5 -2.5l3.5 0.3l3.5 4.8l3.5 6.6l3.5 3.1l3.5 -4.6l3.5 -11.6l3.5 -13.2l3.5 -7.5l3.5 3.2l3.5 13.7l3.5 18.1l3.5 13.9l3.5 3.3l3.5 -8.3l3.5 -13.7l3.5 -10l3.5 -0.6l3.5 6.7l3.5 6.8l3.5 0.2l3.5 -8.5l3.5 -12.2l3.5 -6.3l3.5 5.7l3.5 14.9l3.5 15.8l3.5 7.8l3.5 -4.5l3.5 -12.5l3.5 -13l3.5 -7.5l3.5 0.6"/><path d="M53.4 582.5l3.5 2.2l3.5 2l3.5 0.9l3.5 -0.3l3.5 -1.2l3.5 -1.5l3.5 -1.5l3.5 -1.3l3.5 -1.2l3.5 -1l3.5 -0.4l3.5 0.5l3.5 1.6l3.5 2.4l3.5 2.7l3.5 2.4l3.5 1.5l3.5 0.7l3.5 0.1l3.5 -0.1l3.5 0.2l3.5 1.4l3.5 2.6l3.5 2.8l3.5 1.4l3.5 -1.5l3.5 -3.4l3.5 -2.1l3.5 1.7l3.5 5.1l3.5 5.7l3.5 3.4l3.5 -1.3l3.5 -5.2l3.5 -5.2l3.5 -2.4l3.5 -0.2l3.5 0.2l3.5 -0.9l3.5 -2.5l3.5 -1.6l3.5 0.3l3.5 1.3l3.5 1.5"/><path d="M53.4 572.7l3.5 0.1l3.5 0.6l3.5 0.4l3.5 0.1l3.5 0.1l3.5 0.4l3.5 0.8l3.5 0.9l3.5 0.7l3.5 0.5l3.5 0.6l3.5 1l3.5 1.8l3.5 2.6l3.5 2.9l3.5 2.8l3.5 2.1l3.5 1.2l3.5 0.4l3.5 -0.2l3.5 -0.6l3.5 -0.2l3.5 0.3l3.5 -0l3.5 -1.6l3.5 -4.3l3.5 -5.5l3.5 -3.1l3.5 2.1l3.5 6.9l3.5 8.8l3.5 7.4l3.5 3.3l3.5 -0.7l3.5 -1.5l3.5 0.2l3.5 0.9l3.5 -0.2l3.5 -2.7l3.5 -5.3l3.5 -4.9l3.5 -2.8l3.5 -1.2l3.5 0.1"/><path d="M53.4 564.2l3.5 0.9l3.5 2.2l3.5 2.8l3.5 3.2l3.5 3.3l3.5 2.8l3.5 1.9l3.5 0.5l3.5 -0.9l3.5 -1.6l3.5 -1.2l3.5 0l3.5 1.6l3.5 2.8l3.5 3.3l3.5 3l3.5 2.2l3.5 1.5l3.5 0.8l3.5 0.1l3.5 -0.5l3.5 -0.4l3.5 0.1l3.5 0.2l3.5 -0.3l3.5 -1.9l3.5 -2.6l3.5 -0.8l3.5 2.4l3.5 4.4l3.5 3.7l3.5 0.6l3.5 -3.5l3.5 -6l3.5 -4.2l3.5 0.2l3.5 3l3.5 3.1l3.5 1l3.5 -1.5l3.5 -1.4l3.5 0l3.5 0.7l3.5 0.5"/><path d="M53.4 551.9l3.5 7l3.5 7.6l3.5 5.8l3.5 3.2l3.5 1.3l3.5 0.8l3.5 1.6l3.5 2.4l3.5 2.2l3.5 0.6l3.5 -1.9l3.5 -4.2l3.5 -5l3.5 -3.9l3.5 -1.2l3.5 2.2l3.5 4.9l3.5 6.2l3.5 5.7l3.5 4l3.5 2.2l3.5 1.8l3.5 2.4l3.5 2.7l3.5 1.3l3.5 -2.6l3.5 -6.5l3.5 -7.8l3.5 -5.9l3.5 -2.7l3.5 0.1l3.5 1.6l3.5 1.4l3.5 0.9l3.5 2.2l3.5 4.3l3.5 4.3l3.5 2.4l3.5 -0.1l3.5 -1.9l3.5 -0.5l3.5 1.7l3.5 1.9l3.5 0.2"/><path d="M53.4 567.9l3.5 7.3l3.5 8.9l3.5 7.6l3.5 4.3l3.5 0.5l3.5 -2.3l3.5 -3l3.5 -1.9l3.5 -0l3.5 1.4l3.5 1.7l3.5 1.1l3.5 0.4l3.5 0.5l3.5 1.7l3.5 3.7l3.5 5.1l3.5 4.9l3.5 2.6l3.5 -1.2l3.5 -4.9l3.5 -6.1l3.5 -4.8l3.5 -2.2l3.5 -0.3l3.5 -0.7l3.5 -1.9l3.5 -1.5l3.5 0.8l3.5 3.6l3.5 5.3l3.5 5.3l3.5 2.9l3.5 -0.5l3.5 -2.1l3.5 -2.3l3.5 -3.2l3.5 -4l3.5 -3.9l3.5 -2.3l3.5 2.1l3.5 6.2l3.5 7.1l3.5 5.4"/><path d="M53.4 574.6l3.5 2.5l3.5 1.9l3.5 0.8l3.5 -0.2l3.5 -0.7l3.5 -0.4l3.5 0.2l3.5 0.9l3.5 1.3l3.5 1.6l3.5 2.1l3.5 2.5l3.5 3l3.5 3.2l3.5 2.7l3.5 1.6l3.5 0.1l3.5 -1.3l3.5 -2.3l3.5 -2.7l3.5 -2.5l3.5 -1.2l3.5 0.3l3.5 0.9l3.5 0.2l3.5 -2l3.5 -3.1l3.5 -0.9l3.5 3.7l3.5 7.6l3.5 8.6l3.5 6.3l3.5 1.4l3.5 -3.2l3.5 -4.1l3.5 -2.3l3.5 -1.2l3.5 -1.7l3.5 -3.4l3.5 -5.2l3.5 -4l3.5 -1.4l3.5 0.6l3.5 1.9"/><path d="M53.4 570.2l3.5 -4.6l3.5 -3l3.5 -0.3l3.5 2.9l3.5 5.8l3.5 7.2l3.5 6.8l3.5 4.5l3.5 1.3l3.5 -1.8l3.5 -3.5l3.5 -3.6l3.5 -2.5l3.5 -0.8l3.5 0.5l3.5 1.2l3.5 1.4l3.5 1.7l3.5 2.5l3.5 3.6l3.5 4.7l3.5 5.4l3.5 4.7l3.5 1.7l3.5 -3.4l3.5 -9.2l3.5 -12.1l3.5 -9.1l3.5 -1.3l3.5 7.3l3.5 12.6l3.5 12.8l3.5 7.6l3.5 0.2l3.5 -5.1l3.5 -7.4l3.5 -8.3l3.5 -8l3.5 -6.4l3.5 -3.4l3.5 2.1l3.5 6.9l3.5 8.3l3.5 6.6"/><path d="M53.4 586.1l3.5 0.4l3.5 1.1l3.5 1.3l3.5 1.6l3.5 2.2l3.5 2.9l3.5 3.6l3.5 3.7l3.5 3l3.5 1.8l3.5 0.6l3.5 -0.3l3.5 -0.5l3.5 -0l3.5 0.8l3.5 1.7l3.5 2.4l3.5 2.6l3.5 2.1l3.5 0.9l3.5 -0.5l3.5 -1.4l3.5 -1.7l3.5 -1.9l3.5 -2.6l3.5 -3.8l3.5 -3.8l3.5 -1.1l3.5 3.2l3.5 6l3.5 5.5l3.5 2l3.5 -3.1l3.5 -6.4l3.5 -4.9l3.5 -0l3.5 3.9l3.5 5.1l3.5 3.6l3.5 0.5l3.5 -0.8l3.5 -0.9l3.5 -1.2l3.5 -1.2"/><path d="M53.4 554.1l3.5 7.2l3.5 11.4l3.5 9.6l3.5 3.2l3.5 -4.2l3.5 -8.6l3.5 -7.4l3.5 -1.4l3.5 5.9l3.5 10.6l3.5 10.3l3.5 5.4l3.5 -1.1l3.5 -5.6l3.5 -5.9l3.5 -2.3l3.5 2.4l3.5 5.1l3.5 3.9l3.5 -0.4l3.5 -4.7l3.5 -5.3l3.5 -1.4l3.5 4.8l3.5 9.1l3.5 8l3.5 2.4l3.5 -3.7l3.5 -7.4l3.5 -7.5l3.5 -4.3l3.5 0.4l3.5 3.6l3.5 4.1l3.5 3.2l3.5 0.8l3.5 -3.1l3.5 -6l3.5 -5.9l3.5 -2.8l3.5 3l3.5 6.6l3.5 5l3.5 0"/><path d="M53.4 568.0l3.5 0.3l3.5 2.6l3.5 4.1l3.5 4.5l3.5 3.8l3.5 2.3l3.5 0.4l3.5 -1.4l3.5 -2.5l3.5 -2.3l3.5 -1l3.5 1.1l3.5 3l3.5 3.8l3.5 3.1l3.5 1.3l3.5 -0.8l3.5 -2.1l3.5 -2l3.5 -0.5l3.5 1.9l3.5 4.5l3.5 5.9l3.5 4.7l3.5 0.6l3.5 -5.5l3.5 -9.8l3.5 -9.1l3.5 -3.8l3.5 2.8l3.5 7.6l3.5 8.9l3.5 6.2l3.5 1.9l3.5 -0.7l3.5 -1.6l3.5 -3.1l3.5 -4.9l3.5 -6.2l3.5 -5.9l3.5 -1.7l3.5 3.6l3.5 6.9l3.5 7.6"/><path d="M53.4 566.2l3.5 -0.2l3.5 2.9l3.5 5.1l3.5 6.5l3.5 6.8l3.5 5.8l3.5 3.6l3.5 0.3l3.5 -3.3l3.5 -5.9l3.5 -6.5l3.5 -4.8l3.5 -1l3.5 3.6l3.5 7.4l3.5 9.2l3.5 8.4l3.5 5.4l3.5 1.3l3.5 -3l3.5 -5.8l3.5 -6l3.5 -4.1l3.5 -1.5l3.5 0.6l3.5 1l3.5 1.4l3.5 3.2l3.5 5.8l3.5 6.5l3.5 4.1l3.5 -0.8l3.5 -6.7l3.5 -10.1l3.5 -8.1l3.5 -2.3l3.5 2.8l3.5 5.4l3.5 4.9l3.5 2.5l3.5 1.5l3.5 1l3.5 -0.2l3.5 -1.5"/><path d="M53.4 588.2l3.5 -0.1l3.5 0.2l3.5 0.5l3.5 1l3.5 1.5l3.5 1.8l3.5 1.6l3.5 0.8l3.5 -0.1l3.5 -0.7l3.5 -0.4l3.5 0.7l3.5 2.1l3.5 3l3.5 3l3.5 2l3.5 0.3l3.5 -1l3.5 -1.4l3.5 -0.8l3.5 0.9l3.5 3.3l3.5 5.2l3.5 5.1l3.5 2.4l3.5 -2.4l3.5 -6.1l3.5 -6l3.5 -2.4l3.5 1.8l3.5 3.9l3.5 3.2l3.5 -0.3l3.5 -3.7l3.5 -3.9l3.5 -1.4l3.5 0.6l3.5 1.3l3.5 0.8l3.5 0l3.5 1.4l3.5 3.1l3.5 3.1l3.5 1.8"/><path d="M53.4 562.9l3.5 3.5l3.5 6.3l3.5 6.8l3.5 5.3l3.5 3l3.5 1.1l3.5 0.4l3.5 0.6l3.5 1l3.5 0.8l3.5 -0.3l3.5 -2.1l3.5 -3.7l3.5 -4.2l3.5 -3.2l3.5 -0.7l3.5 2.3l3.5 4.8l3.5 6.1l3.5 5.8l3.5 4.9l3.5 4.4l3.5 4.5l3.5 4.3l3.5 2.6l3.5 -1.3l3.5 -5.2l3.5 -6.7l3.5 -5.4l3.5 -3.4l3.5 -2.1l3.5 -1.9l3.5 -2.9l3.5 -3.5l3.5 -1.4l3.5 2.1l3.5 3.9l3.5 3.7l3.5 2.2l3.5 0.9l3.5 2.2l3.5 3.9l3.5 3.6l3.5 1.7"/><path d="M53.4 575.7l3.5 1.5l3.5 0.9l3.5 -0.3l3.5 -1.5l3.5 -2l3.5 -1.9l3.5 -1.3l3.5 -0.5l3.5 0.2l3.5 1l3.5 1.9l3.5 2.8l3.5 3.5l3.5 3.7l3.5 3l3.5 1.6l3.5 -0.3l3.5 -1.9l3.5 -2.7l3.5 -2.6l3.5 -1.4l3.5 1.1l3.5 3.8l3.5 5.3l3.5 4.8l3.5 2l3.5 -0.6l3.5 -0.6l3.5 1.5l3.5 3.1l3.5 2.4l3.5 -0.5l3.5 -4.7l3.5 -7.4l3.5 -5.5l3.5 -0.5l3.5 3.5l3.5 5.1l3.5 4l3.5 1.4l3.5 0.4l3.5 -0.1l3.5 -1.6l3.5 -3.2"/><path d="M53.4 587.0l3.5 3l3.5 2.8l3.5 1.7l3.5 0.5l3.5 -0.5l3.5 -1l3.5 -1.4l3.5 -1.8l3.5 -2.3l3.5 -2.6l3.5 -2.5l3.5 -1.9l3.5 -0.7l3.5 0.7l3.5 1.8l3.5 2.6l3.5 3.1l3.5 3.6l3.5 4.1l3.5 4.6l3.5 5.2l3.5 6.1l3.5 6.4l3.5 5.3l3.5 2.3l3.5 -2.3l3.5 -5.8l3.5 -5.8l3.5 -2.9l3.5 0l3.5 0.7l3.5 -1.3l3.5 -5.2l3.5 -8.2l3.5 -7.3l3.5 -3.5l3.5 -0.5l3.5 0.8l3.5 0.3l3.5 -0.7l3.5 0.7l3.5 3l3.5 4.3l3.5 4.8"/><path d="M53.4 561.6l3.5 -1.5l3.5 0.6l3.5 2.4l3.5 3.9l3.5 4.9l3.5 5.1l3.5 4.3l3.5 2.6l3.5 0.4l3.5 -1.4l3.5 -2l3.5 -1.4l3.5 0.2l3.5 2l3.5 3.1l3.5 3l3.5 1.6l3.5 -0.3l3.5 -2.1l3.5 -3l3.5 -2.6l3.5 -0.2l3.5 3.1l3.5 5.4l3.5 5.7l3.5 3.2l3.5 0.1l3.5 -1.2l3.5 -0.8l3.5 -0.6l3.5 -2l3.5 -4.4l3.5 -7l3.5 -7.1l3.5 -2.5l3.5 4.5l3.5 9.1l3.5 9.8l3.5 6.4l3.5 0.8l3.5 -3.1l3.5 -5.3l3.5 -6.9l3.5 -6.8"/><path d="M53.4 555.1l3.5 1.7l3.5 4.4l3.5 5.8l3.5 6l3.5 5.3l3.5 3.9l3.5 2.1l3.5 0.3l3.5 -1.3l3.5 -2.4l3.5 -2.7l3.5 -2.4l3.5 -1.6l3.5 -0.8l3.5 -0l3.5 0.7l3.5 1.4l3.5 2.4l3.5 3.4l3.5 3.9l3.5 4l3.5 3.8l3.5 3.2l3.5 1.5l3.5 -1.2l3.5 -4.5l3.5 -5.9l3.5 -3.6l3.5 1.1l3.5 5l3.5 5.6l3.5 2.9l3.5 -2.1l3.5 -6l3.5 -5.5l3.5 -1.8l3.5 1.3l3.5 2.5l3.5 1.5l3.5 -0.4l3.5 -0.1l3.5 1.3l3.5 2l3.5 2"/><path d="M53.4 560.3l3.5 -4.8l3.5 0l3.5 4.8l3.5 7.3l3.5 6.4l3.5 3.1l3.5 -0.3l3.5 -1.6l3.5 0.1l3.5 3.4l3.5 6.2l3.5 6.3l3.5 3.5l3.5 -0.8l3.5 -4l3.5 -4.4l3.5 -2l3.5 1.7l3.5 4.2l3.5 4l3.5 1.7l3.5 -0.3l3.5 -0.7l3.5 0.1l3.5 0.8l3.5 -0.7l3.5 -3.2l3.5 -4.5l3.5 -3.6l3.5 -1.4l3.5 1.1l3.5 2.8l3.5 2.4l3.5 0.7l3.5 0l3.5 0.3l3.5 0.1l3.5 0.3l3.5 1.1l3.5 2.2l3.5 4.1l3.5 4l3.5 0.6l3.5 -3.6"/><path d="M53.4 563.6l3.5 2.2l3.5 6.5l3.5 8.7l3.5 8l3.5 4.9l3.5 0.7l3.5 -2.6l3.5 -3.6l3.5 -2.3l3.5 0.4l3.5 3l3.5 4l3.5 3.4l3.5 2.1l3.5 1.3l3.5 1.9l3.5 3.7l3.5 5.4l3.5 5.5l3.5 3.1l3.5 -1l3.5 -4.5l3.5 -6.1l3.5 -5.8l3.5 -4.4l3.5 -3.5l3.5 -2.8l3.5 -0.9l3.5 1.8l3.5 3.7l3.5 4.1l3.5 3.4l3.5 1.4l3.5 -0.5l3.5 -0.6l3.5 -0.3l3.5 -1.9l3.5 -4.3l3.5 -5.9l3.5 -4.9l3.5 0.3l3.5 6.2l3.5 8.9l3.5 8"/><path d="M53.4 563.7l3.5 3.3l3.5 5l3.5 4.9l3.5 3.7l3.5 2.1l3.5 0.8l3.5 -0.1l3.5 -0.6l3.5 -0.9l3.5 -0.9l3.5 -0.6l3.5 0.1l3.5 1.1l3.5 2.2l3.5 2.9l3.5 3.2l3.5 2.7l3.5 1.8l3.5 0.6l3.5 -0.8l3.5 -1.7l3.5 -1.4l3.5 -0.3l3.5 0.8l3.5 1l3.5 -0.2l3.5 -1l3.5 0.3l3.5 2.9l3.5 4.1l3.5 2.6l3.5 -1.2l3.5 -6l3.5 -8.5l3.5 -6.1l3.5 -0.4l3.5 4l3.5 5.8l3.5 4.6l3.5 1.9l3.5 1.1l3.5 1.1l3.5 0.5l3.5 -0.4"/><path d="M53.4 569.2l3.5 -2.7l3.5 -3.7l3.5 -1.9l3.5 2.6l3.5 7.8l3.5 10.9l3.5 9.9l3.5 4.9l3.5 -1.7l3.5 -6.9l3.5 -8.1l3.5 -5.1l3.5 0l3.5 4.3l3.5 5.5l3.5 3.2l3.5 -0.8l3.5 -3.7l3.5 -3.3l3.5 0.2l3.5 5.4l3.5 9.9l3.5 10.9l3.5 7.2l3.5 -0.3l3.5 -8.7l3.5 -13.3l3.5 -11.1l3.5 -3.7l3.5 3.9l3.5 7.5l3.5 5.8l3.5 0.3l3.5 -4.6l3.5 -4.5l3.5 0.1l3.5 4.5l3.5 6.6l3.5 5l3.5 0.8l3.5 -2l3.5 -3.6l3.5 -4.4l3.5 -4"/><path d="M53.4 579.4l3.5 -6.3l3.5 -6l3.5 -5.6l3.5 -4.5l3.5 -2.6l3.5 -0.1l3.5 2.5l3.5 4.5l3.5 5.6l3.5 5.9l3.5 5.7l3.5 5.2l3.5 4.5l3.5 3.5l3.5 2.2l3.5 0.7l3.5 -0.7l3.5 -1.7l3.5 -1.8l3.5 -1.4l3.5 -0.3l3.5 1.6l3.5 3.3l3.5 3.7l3.5 2.3l3.5 -0.8l3.5 -2.9l3.5 -1.8l3.5 2l3.5 5.5l3.5 6.5l3.5 4.4l3.5 0.1l3.5 -3.7l3.5 -3.9l3.5 -1.5l3.5 -0.1l3.5 -0.7l3.5 -2.9l3.5 -5.4l3.5 -5.1l3.5 -3.5l3.5 -2.2l3.5 -1.2"/><path d="M53.4 587.3l3.5 4.1l3.5 2.8l3.5 1.3l3.5 0.5l3.5 0.7l3.5 1.7l3.5 2.7l3.5 2.9l3.5 2l3.5 0.4l3.5 -1.3l3.5 -2.4l3.5 -2.4l3.5 -1.4l3.5 0.3l3.5 2.1l3.5 3.6l3.5 4.5l3.5 4.6l3.5 3.7l3.5 2.4l3.5 1.4l3.5 0.6l3.5 -0.5l3.5 -2l3.5 -4.1l3.5 -4.5l3.5 -1.8l3.5 2.9l3.5 6.2l3.5 5.9l3.5 2l3.5 -4.1l3.5 -8.9l3.5 -8.7l3.5 -4.6l3.5 -0.4l3.5 2.3l3.5 3l3.5 2.3l3.5 2.8l3.5 3.4l3.5 2.5l3.5 0.8"/><path d="M53.4 566.7l3.5 7.5l3.5 5l3.5 1.5l3.5 -0.1l3.5 1.4l3.5 4.6l3.5 6.8l3.5 5.7l3.5 1.4l3.5 -4l3.5 -7.2l3.5 -6.5l3.5 -2.5l3.5 2.2l3.5 4.7l3.5 3.6l3.5 0.2l3.5 -2.9l3.5 -3l3.5 -0.1l3.5 4.5l3.5 8.3l3.5 8.7l3.5 5l3.5 -1.1l3.5 -6.9l3.5 -8.4l3.5 -4.2l3.5 2.6l3.5 6.7l3.5 5.1l3.5 -0.8l3.5 -7.9l3.5 -11.1l3.5 -7.2l3.5 0.7l3.5 6.2l3.5 6.7l3.5 2.8l3.5 -2.1l3.5 -2.7l3.5 0.6l3.5 4.7l3.5 7.3"/><path d="M53.4 581.2l3.5 -0.1l3.5 -0.9l3.5 -0.9l3.5 0.5l3.5 2.3l3.5 3.6l3.5 3.5l3.5 1.9l3.5 -0.3l3.5 -1.8l3.5 -1.7l3.5 0l3.5 2.3l3.5 3.9l3.5 3.8l3.5 2.3l3.5 0.1l3.5 -1.4l3.5 -1.5l3.5 -0.3l3.5 1.4l3.5 3.3l3.5 4l3.5 2.7l3.5 -0.3l3.5 -4.3l3.5 -6.2l3.5 -4.1l3.5 0.9l3.5 5l3.5 5.8l3.5 3.2l3.5 -1.5l3.5 -4.9l3.5 -3.8l3.5 0.2l3.5 2.8l3.5 2.5l3.5 -0.3l3.5 -3.7l3.5 -3.9l3.5 -1.6l3.5 0.9l3.5 3"/><path d="M53.4 577.5l3.5 4.3l3.5 5.2l3.5 3.9l3.5 0.9l3.5 -2.8l3.5 -5.8l3.5 -6.9l3.5 -5.4l3.5 -1.5l3.5 3.5l3.5 8.1l3.5 10.4l3.5 9.6l3.5 5.8l3.5 0.3l3.5 -4.6l3.5 -7.2l3.5 -6.5l3.5 -2.8l3.5 1.8l3.5 5.8l3.5 7.9l3.5 7.1l3.5 3.5l3.5 -2.1l3.5 -7.8l3.5 -10.3l3.5 -7.5l3.5 -0.9l3.5 5.4l3.5 8.3l3.5 7.2l3.5 2.9l3.5 -1.1l3.5 -1.5l3.5 0.6l3.5 1.4l3.5 -0.3l3.5 -4.2l3.5 -8.4l3.5 -8.8l3.5 -5.9l3.5 -1.6l3.5 3.7"/><path d="M53.4 578.4l3.5 2.2l3.5 2.5l3.5 2.1l3.5 1.5l3.5 1.1l3.5 0.9l3.5 0.8l3.5 0.4l3.5 -0.2l3.5 -0.9l3.5 -1.1l3.5 -0.9l3.5 -0.1l3.5 0.9l3.5 1.6l3.5 1.9l3.5 1.7l3.5 1.4l3.5 1.1l3.5 0.8l3.5 0.5l3.5 0.8l3.5 0.9l3.5 0l3.5 -2.1l3.5 -5.3l3.5 -7l3.5 -4.9l3.5 0.1l3.5 4.9l3.5 7l3.5 5.8l3.5 1.8l3.5 -2.1l3.5 -2.6l3.5 -0.7l3.5 0.2l3.5 -0.4l3.5 -2.5l3.5 -4.4l3.5 -3.3l3.5 -0.6l3.5 1.6l3.5 3.1"/><path d="M53.4 582.0l3.5 5.9l3.5 4.6l3.5 0.1l3.5 -4.4l3.5 -5.9l3.5 -3.3l3.5 1.9l3.5 6.3l3.5 7.2l3.5 4.3l3.5 -0.4l3.5 -3.7l3.5 -3.5l3.5 -0.2l3.5 3.6l3.5 5l3.5 2.5l3.5 -2.4l3.5 -6.5l3.5 -7l3.5 -2.8l3.5 4.3l3.5 10l3.5 10.3l3.5 4.5l3.5 -5l3.5 -11.9l3.5 -11.1l3.5 -3.3l3.5 5.8l3.5 10.4l3.5 8.1l3.5 0l3.5 -7.8l3.5 -9.1l3.5 -3.5l3.5 3.9l3.5 8.8l3.5 8.3l3.5 2.8l3.5 -2.7l3.5 -6l3.5 -6.2l3.5 -2.7"/><path d="M53.4 587.4l3.5 3.8l3.5 1.5l3.5 -0.8l3.5 -1.4l3.5 0l3.5 2.6l3.5 4.7l3.5 4.9l3.5 2.6l3.5 -0.8l3.5 -3.4l3.5 -3.6l3.5 -0.9l3.5 3.6l3.5 7.6l3.5 9.1l3.5 7l3.5 2.1l3.5 -3.8l3.5 -8.2l3.5 -9l3.5 -5.5l3.5 0.4l3.5 5.7l3.5 7.6l3.5 4.7l3.5 -0l3.5 -3.2l3.5 -3.5l3.5 -2.4l3.5 -1.5l3.5 -1.5l3.5 -2.8l3.5 -3.4l3.5 -1.1l3.5 3l3.5 5.4l3.5 5.3l3.5 2.8l3.5 -0.8l3.5 -2.3l3.5 -2.6l3.5 -2.8l3.5 -2.2"/><path d="M53.4 571.1l3.5 -2l3.5 -1.7l3.5 -1.6l3.5 -1.2l3.5 -0.5l3.5 0.5l3.5 1.2l3.5 1.3l3.5 0.7l3.5 -0.2l3.5 -0.9l3.5 -1.2l3.5 -0.7l3.5 0.2l3.5 1.4l3.5 2.6l3.5 3.7l3.5 4.8l3.5 5.7l3.5 6l3.5 5.8l3.5 5.3l3.5 4l3.5 1.3l3.5 -2.8l3.5 -7.6l3.5 -10l3.5 -7.9l3.5 -2l3.5 4.2l3.5 7.7l3.5 7.5l3.5 3.9l3.5 -0.4l3.5 -2.2l3.5 -2l3.5 -2.7l3.5 -4.7l3.5 -7.2l3.5 -8.7l3.5 -6.3l3.5 -1.8l3.5 2.2l3.5 5.2"/><path d="M53.4 574.5l3.5 4.2l3.5 2.1l3.5 -1.1l3.5 -3.2l3.5 -3.3l3.5 -1l3.5 2.6l3.5 6.1l3.5 7.9l3.5 7.6l3.5 5.5l3.5 2.6l3.5 0.1l3.5 -1l3.5 -0.4l3.5 1.5l3.5 4l3.5 5.8l3.5 6.2l3.5 4.6l3.5 1.6l3.5 -1.4l3.5 -3.6l3.5 -4.9l3.5 -5.5l3.5 -5.9l3.5 -4.8l3.5 -1.4l3.5 2.8l3.5 4.6l3.5 2.6l3.5 -2.2l3.5 -7.8l3.5 -10.5l3.5 -7.2l3.5 -0.1l3.5 5.6l3.5 7.7l3.5 5.6l3.5 0.8l3.5 -2.3l3.5 -3.6l3.5 -3.6l3.5 -1.8"/><path d="M53.4 561.3l3.5 3.9l3.5 4.8l3.5 4.7l3.5 3.9l3.5 2.3l3.5 0.4l3.5 -1.7l3.5 -3.3l3.5 -3.9l3.5 -3.2l3.5 -1l3.5 1.7l3.5 4.1l3.5 5.4l3.5 4.9l3.5 3.2l3.5 0.9l3.5 -0.9l3.5 -1.6l3.5 -1.5l3.5 -0.8l3.5 0.4l3.5 1l3.5 0.3l3.5 -1.8l3.5 -4.6l3.5 -5.3l3.5 -2l3.5 4l3.5 9l3.5 10.1l3.5 6.8l3.5 0.3l3.5 -5.7l3.5 -7.2l3.5 -4.7l3.5 -1.8l3.5 -0l3.5 0.2l3.5 -0.7l3.5 0.2l3.5 1.6l3.5 2l3.5 2"/><path d="M53.4 580.1l3.5 3.9l3.5 3.6l3.5 2.1l3.5 0.4l3.5 -1l3.5 -1.6l3.5 -1.6l3.5 -1.2l3.5 -0.4l3.5 0.6l3.5 1.9l3.5 3.1l3.5 3.9l3.5 3.9l3.5 2.8l3.5 0.7l3.5 -1.7l3.5 -3.7l3.5 -4.6l3.5 -4.3l3.5 -2.7l3.5 0.3l3.5 3.5l3.5 5.2l3.5 4.6l3.5 1.6l3.5 -1.4l3.5 -1.7l3.5 0.4l3.5 2.4l3.5 2.5l3.5 0.6l3.5 -2.6l3.5 -4.4l3.5 -2.1l3.5 2.6l3.5 5.8l3.5 6.2l3.5 3.7l3.5 -0l3.5 -1.7l3.5 -2.2l3.5 -2.9l3.5 -3.4"/><path d="M53.4 579.7l3.5 1l3.5 1.2l3.5 0.9l3.5 0.7l3.5 1.1l3.5 1.8l3.5 2.5l3.5 2.8l3.5 2.5l3.5 1.9l3.5 1.3l3.5 0.9l3.5 0.8l3.5 0.7l3.5 0.4l3.5 -0l3.5 -0.6l3.5 -0.8l3.5 -0.7l3.5 -0.1l3.5 0.8l3.5 2.4l3.5 3.7l3.5 3.6l3.5 1.7l3.5 -1.9l3.5 -4.6l3.5 -4l3.5 -0.6l3.5 2.7l3.5 3.5l3.5 1.6l3.5 -2.4l3.5 -5.7l3.5 -5.2l3.5 -2l3.5 0.2l3.5 0.6l3.5 -0.7l3.5 -2.4l3.5 -1.5l3.5 0.5l3.5 1.8l3.5 2.4"/><path d="M53.4 572.1l3.5 7.6l3.5 7.3l3.5 5.2l3.5 2.2l3.5 -0.8l3.5 -3.3l3.5 -4.9l3.5 -5.5l3.5 -4.8l3.5 -2.8l3.5 0.2l3.5 3.7l3.5 6.7l3.5 8.3l3.5 8l3.5 6l3.5 2.9l3.5 -0.2l3.5 -2.4l3.5 -3.5l3.5 -3.3l3.5 -1.7l3.5 0.1l3.5 1l3.5 0.3l3.5 -1.8l3.5 -2.5l3.5 0.2l3.5 5.3l3.5 9.3l3.5 9.4l3.5 5.2l3.5 -2.3l3.5 -9.3l3.5 -11.7l3.5 -9.4l3.5 -5.7l3.5 -1.7l3.5 1.6l3.5 3.9l3.5 7l3.5 8.5l3.5 6.6l3.5 2.4"/><path d="M53.4 575.8l3.5 2.2l3.5 1.9l3.5 0.9l3.5 -0l3.5 -0.3l3.5 -0.1l3.5 0.4l3.5 0.6l3.5 0.4l3.5 -0.2l3.5 -0.6l3.5 -0.7l3.5 -0.2l3.5 0.5l3.5 1.3l3.5 1.9l3.5 2.1l3.5 2.2l3.5 2.1l3.5 1.7l3.5 1.4l3.5 1.6l3.5 1.8l3.5 1.2l3.5 -0.6l3.5 -3.4l3.5 -4.9l3.5 -3.1l3.5 1.2l3.5 4.9l3.5 5.8l3.5 3.7l3.5 -0.5l3.5 -3.9l3.5 -3.2l3.5 0.3l3.5 2.9l3.5 3.2l3.5 1.4l3.5 -1.2l3.5 -1.6l3.5 -0.8l3.5 -0.4l3.5 -0.2"/><path d="M53.4 560.3l3.5 12.9l3.5 13l3.5 6.9l3.5 -1.5l3.5 -7.8l3.5 -8.8l3.5 -4.4l3.5 2.4l3.5 7.7l3.5 8.8l3.5 5.8l3.5 0.7l3.5 -3.3l3.5 -4.1l3.5 -2l3.5 1.3l3.5 3.3l3.5 2.7l3.5 0.2l3.5 -2.5l3.5 -3.1l3.5 -0.3l3.5 4l3.5 6.6l3.5 4.9l3.5 -1.3l3.5 -7.8l3.5 -9.7l3.5 -5.5l3.5 2.1l3.5 8.8l3.5 11l3.5 7.2l3.5 0l3.5 -5.2l3.5 -6.2l3.5 -4.3l3.5 -0.4l3.5 3.3l3.5 4.8l3.5 4.8l3.5 2l3.5 -2.9l3.5 -6.1"/><path d="M53.4 590.5l3.5 2.5l3.5 3.1l3.5 2.3l3.5 0.4l3.5 -1.8l3.5 -3.6l3.5 -4.1l3.5 -3.2l3.5 -0.9l3.5 2.2l3.5 5.3l3.5 7.4l3.5 7.8l3.5 6.2l3.5 3l3.5 -0.7l3.5 -3.7l3.5 -5l3.5 -4.2l3.5 -2.1l3.5 0.6l3.5 3.4l3.5 5l3.5 4.2l3.5 1.3l3.5 -3l3.5 -5.6l3.5 -3.9l3.5 1.2l3.5 5.8l3.5 7.2l3.5 4.7l3.5 -1.1l3.5 -6.6l3.5 -7.6l3.5 -4.6l3.5 -1l3.5 1.8l3.5 2.9l3.5 2.4l3.5 2.6l3.5 2.2l3.5 0l3.5 -2.4"/><path d="M53.4 572.8l3.5 6.9l3.5 4.6l3.5 0.7l3.5 -2.1l3.5 -2.1l3.5 0.6l3.5 4.3l3.5 6.6l3.5 6.1l3.5 3.1l3.5 -0.7l3.5 -3.1l3.5 -2.7l3.5 0.2l3.5 3.9l3.5 6.2l3.5 5.6l3.5 2.4l3.5 -1.8l3.5 -5l3.5 -5.4l3.5 -2.3l3.5 2.2l3.5 5.1l3.5 4.2l3.5 -0.9l3.5 -6.3l3.5 -7.9l3.5 -4.7l3.5 0.9l3.5 5.5l3.5 6.7l3.5 3.5l3.5 -1.9l3.5 -5.2l3.5 -5.5l3.5 -4.6l3.5 -2.5l3.5 -0.1l3.5 2.1l3.5 4.9l3.5 6l3.5 4.1l3.5 1.2"/><path d="M53.4 558.9l3.5 5.1l3.5 9.8l3.5 11.1l3.5 7.8l3.5 1.3l3.5 -4.7l3.5 -6.5l3.5 -3l3.5 3.5l3.5 9l3.5 9.5l3.5 4.2l3.5 -4l3.5 -10.6l3.5 -11.7l3.5 -7.1l3.5 0.2l3.5 5.7l3.5 6.2l3.5 2l3.5 -3.4l3.5 -5.4l3.5 -2.6l3.5 2.6l3.5 6.1l3.5 4.6l3.5 -0.3l3.5 -3.9l3.5 -3l3.5 2.2l3.5 8.8l3.5 12.8l3.5 10.7l3.5 3.3l3.5 -4.3l3.5 -8.9l3.5 -9.5l3.5 -5.6l3.5 0.4l3.5 4.7l3.5 6.3l3.5 2.8l3.5 -4.5l3.5 -10.6"/><path d="M53.4 581.6l3.5 -1.2l3.5 -2.1l3.5 -3l3.5 -2.9l3.5 -1.7l3.5 0.3l3.5 2.4l3.5 3.6l3.5 3.7l3.5 2.8l3.5 1.4l3.5 0.1l3.5 -0.6l3.5 -0.7l3.5 -0.3l3.5 0.5l3.5 1.5l3.5 2.6l3.5 3.6l3.5 4.1l3.5 4.2l3.5 4.2l3.5 3.7l3.5 2l3.5 -0.8l3.5 -4.3l3.5 -6.1l3.5 -3.9l3.5 1.3l3.5 6.1l3.5 7.8l3.5 6.1l3.5 1.5l3.5 -3l3.5 -3.8l3.5 -1.8l3.5 -0.3l3.5 -0.3l3.5 -1.6l3.5 -3l3.5 -1.8l3.5 0.3l3.5 1.4l3.5 1.6"/><path d="M53.4 594.1l3.5 -3.7l3.5 -7l3.5 -8.4l3.5 -6.8l3.5 -2.4l3.5 3.2l3.5 8.1l3.5 10.3l3.5 9.3l3.5 5.9l3.5 1.7l3.5 -2l3.5 -4l3.5 -4.3l3.5 -3.5l3.5 -2.1l3.5 -0.6l3.5 0.9l3.5 2.5l3.5 4l3.5 5.1l3.5 5.8l3.5 5.4l3.5 3l3.5 -1.2l3.5 -6.2l3.5 -8.9l3.5 -6.8l3.5 -1.2l3.5 4.2l3.5 6.3l3.5 4.4l3.5 -0.4l3.5 -4.5l3.5 -4.2l3.5 -0.2l3.5 3.5l3.5 5l3.5 3.6l3.5 0.2l3.5 -2.1l3.5 -3.6l3.5 -5l3.5 -5.2"/><path d="M53.4 574.9l3.5 1.4l3.5 0.1l3.5 -1.4l3.5 -2l3.5 -1.4l3.5 0.4l3.5 2.6l3.5 4.1l3.5 4.5l3.5 3.8l3.5 2.4l3.5 0.7l3.5 -0.6l3.5 -1.3l3.5 -1.4l3.5 -0.8l3.5 0.3l3.5 1.6l3.5 2.8l3.5 3.4l3.5 3.2l3.5 2.8l3.5 1.7l3.5 -0.4l3.5 -3.3l3.5 -6.7l3.5 -7.7l3.5 -4.5l3.5 1.8l3.5 7.4l3.5 9.5l3.5 7.6l3.5 2.2l3.5 -3.3l3.5 -5.2l3.5 -3.9l3.5 -2.6l3.5 -2l3.5 -2.3l3.5 -2.6l3.5 -0.4l3.5 2.4l3.5 3.5l3.5 3.3"/><path d="M53.4 587.6l3.5 -0.4l3.5 -1.8l3.5 -2.9l3.5 -2.7l3.5 -0.8l3.5 2.2l3.5 5.4l3.5 7.4l3.5 7.4l3.5 5.5l3.5 2.7l3.5 0.1l3.5 -1.3l3.5 -1.6l3.5 -1.5l3.5 -1.8l3.5 -3.2l3.5 -4.8l3.5 -5.4l3.5 -3.8l3.5 0.7l3.5 7.5l3.5 13.9l3.5 16.1l3.5 11.9l3.5 1.7l3.5 -9.4l3.5 -15.6l3.5 -14.5l3.5 -8l3.5 0.1l3.5 6.3l3.5 7.5l3.5 4.7l3.5 1.4l3.5 -1l3.5 -3l3.5 -3.5l3.5 -2.2l3.5 0.2l3.5 4.3l3.5 6.5l3.5 4.9l3.5 1"/><path d="M53.4 626.3l3.5 -11.8l3.5 -3.8l3.5 2.6l3.5 3.8l3.5 2.3l3.5 0.9l3.5 0.6l3.5 0.1l3.5 -0.2l3.5 -0.4l3.5 -0.4l3.5 -0.4l3.5 -0.2l3.5 0.1l3.5 0.6l3.5 0.9l3.5 1.1l3.5 1.2l3.5 1.1l3.5 1.1l3.5 1.3l3.5 1.4l3.5 1.2l3.5 0.8l3.5 0.2l3.5 -3.7l3.5 -7l3.5 -6.6l3.5 -2.5l3.5 1.9l3.5 2.7l3.5 0.4l3.5 -1.7l3.5 -2.5l3.5 -2.3l3.5 -1.8l3.5 -1.7l3.5 -1.6l3.5 -1.4l3.5 -1.1l3.5 -1l3.5 -0.9l3.5 -0.7l3.5 -0.5"/><path d="M53.4 595.1l3.5 -2l3.5 -1.3l3.5 -0.8l3.5 -0.4l3.5 -0.1l3.5 0.1l3.5 2.2l3.5 4.1l3.5 4.6l3.5 3.8l3.5 1.8l3.5 0.9l3.5 0.7l3.5 0.6l3.5 0.6l3.5 0.6l3.5 0.8l3.5 0.9l3.5 0.9l3.5 0.9l3.5 0.7l3.5 0.7l3.5 0.7l3.5 0.5l3.5 0.1l3.5 -4.2l3.5 -6.8l3.5 -3.5l3.5 2.3l3.5 4.9l3.5 4.1l3.5 0.3l3.5 -3.9l3.5 -4.9l3.5 -2.8l3.5 0.3l3.5 1l3.5 1.1l3.5 0.8l3.5 0.1l3.5 -0.3l3.5 -0.7l3.5 -1l3.5 -1.4"/><path d="M53.4 602.0l3.5 3.5l3.5 2.1l3.5 1.1l3.5 0.3l3.5 -2l3.5 -4.6l3.5 -5.1l3.5 -3.4l3.5 0.4l3.5 4l3.5 3.6l3.5 1.2l3.5 0.8l3.5 0.7l3.5 0.8l3.5 1.1l3.5 1.2l3.5 1.3l3.5 1.2l3.5 1l3.5 1l3.5 1l3.5 0.7l3.5 0.3l3.5 -2.7l3.5 -6.2l3.5 -6.8l3.5 -4.6l3.5 0.5l3.5 6.2l3.5 8.6l3.5 7.4l3.5 2.7l3.5 -1.4l3.5 -2.9l3.5 -3.2l3.5 -2.4l3.5 -1l3.5 -0.8l3.5 -0.7l3.5 -0.6l3.5 -0.4l3.5 -0.3l3.5 -0.1"/></g>
<clipPath id="c53_636"><rect x="53.4" y="510.2" width="170" height="140"/></clipPath>
<g clip-path="url(#c53_636)"><g fill="none" stroke-width="6.6" stroke-linecap="round" stroke-linejoin="round"><path d="M53.4 573.2l1.6 0.7l1.6 0.9" stroke="#ff0000"/><path d="M56.5 574.8l1.6 0.9" stroke="#ff1500"/><path d="M58.1 575.7l1.6 0.9" stroke="#ff2a00"/><path d="M59.6 576.6l1.6 0.8" stroke="#ff3f00"/><path d="M61.2 577.4l1.6 0.7l1.6 0.6" stroke="#ff5500"/><path d="M64.3 578.6l1.6 0.4l1.6 0.4l1.6 0.3" stroke="#ff6a00"/><path d="M68.9 579.7l1.6 0.3l1.6 0.3l1.6 0.4" stroke="#ff7f00"/><path d="M73.6 580.7l1.6 0.4l1.6 0.5" stroke="#ff9400"/><path d="M76.7 581.7l1.6 0.5l1.6 0.6" stroke="#ffa900"/><path d="M79.8 582.8l1.6 0.5l1.6 0.5l1.6 0.4" stroke="#ffbf00"/><path d="M84.5 584.2l1.6 0.3l1.6 0.3l1.6 0.3" stroke="#ffd400"/><path d="M89.1 585.1l1.6 0.3l1.6 0.3l1.6 0.3l1.6 0.4" stroke="#ffe900"/><path d="M95.3 586.3l1.6 0.5l1.6 0.6" stroke="#ffff00"/><path d="M98.4 587.4l1.6 0.7" stroke="#e9ff15"/><path d="M100.0 588.1l1.6 0.8l1.6 0.8" stroke="#d4ff2a"/><path d="M103.1 589.6l1.6 0.8" stroke="#bfff3f"/><path d="M104.6 590.4l1.6 0.8l1.6 0.7" stroke="#a9ff55"/><path d="M107.8 591.9l1.6 0.6l1.6 0.5" stroke="#94ff6a"/><path d="M110.9 593.0l1.6 0.4l1.6 0.3l1.6 0.2" stroke="#7fff7f"/><path d="M115.5 593.8l1.6 0.1l1.6 0.1l1.6 0.1l1.6 0.1l1.6 0.2l1.6 0.2l1.6 0.4" stroke="#6aff94"/><path d="M126.4 595.1l1.6 0.6" stroke="#54ffaa"/><path d="M127.9 595.7l1.6 0.8l1.6 1" stroke="#3fffbf"/><path d="M131.0 597.6l1.6 1.2" stroke="#2affd4"/><path d="M132.6 598.7l1.6 1.2" stroke="#00ffff"/><path d="M134.2 599.9l1.6 1.1l1.6 0.9" stroke="#00e9ff"/><path d="M137.3 601.9l1.6 0.5l1.6 -0l1.6 -0.7" stroke="#00d4ff"/><path d="M141.9 601.6l1.6 -1.5" stroke="#00e9ff"/><path d="M143.5 600.2l1.6 -2" stroke="#15ffe9"/><path d="M145.0 598.1l1.6 -2.4" stroke="#3fffbf"/><path d="M146.6 595.8l1.6 -2.4" stroke="#6aff94"/><path d="M148.1 593.4l1.6 -2" stroke="#94ff6a"/><path d="M149.7 591.4l1.6 -1.4" stroke="#a9ff55"/><path d="M151.2 590.0l1.6 -0.5l1.6 0.4l1.6 1.2" stroke="#bfff3f"/><path d="M155.9 591.0l1.6 1.8" stroke="#94ff6a"/><path d="M157.5 592.8l1.6 2.2" stroke="#6aff94"/><path d="M159.0 595.0l1.6 2.3" stroke="#3fffbf"/><path d="M160.6 597.4l1.6 2.2" stroke="#15ffe9"/><path d="M162.1 599.6l1.6 1.8" stroke="#00e9ff"/><path d="M163.7 601.4l1.6 1.2" stroke="#00d4ff"/><path d="M165.2 602.6l1.6 0.4l1.6 -0.5" stroke="#00bfff"/><path d="M168.3 602.5l1.6 -1.3" stroke="#00d4ff"/><path d="M169.9 601.2l1.6 -1.8" stroke="#00ffff"/><path d="M171.4 599.4l1.6 -1.9" stroke="#15ffe9"/><path d="M173.0 597.5l1.6 -1.7" stroke="#3fffbf"/><path d="M174.5 595.8l1.6 -1.1" stroke="#54ffaa"/><path d="M176.1 594.7l1.6 -0.5l1.6 0.1l1.6 0.5" stroke="#6aff94"/><path d="M180.7 594.7l1.6 0.7l1.6 0.7" stroke="#54ffaa"/><path d="M183.9 596.1l1.6 0.6l1.6 0.3l1.6 -0.1l1.6 -0.6" stroke="#3fffbf"/><path d="M190.1 596.4l1.6 -1" stroke="#54ffaa"/><path d="M191.6 595.4l1.6 -1.2" stroke="#6aff94"/><path d="M193.2 594.2l1.6 -1l1.6 -0.7" stroke="#7fff7f"/><path d="M196.3 592.5l1.6 -0.3l1.6 -0l1.6 0.2l1.6 0.4" stroke="#94ff6a"/><path d="M202.5 592.7l1.6 0.5l1.6 0.6" stroke="#7fff7f"/><path d="M205.6 593.8l1.6 0.5" stroke="#6aff94"/></g></g>
<path d="M53.4 515.2V636.7H207.1" fill="none" stroke="#3a3a3a" stroke-width="1"/><path d="M67.4 636.7v-2M82.9 636.7v-2M98.4 636.7v-2M114 636.7v-2M129.5 636.7v-2M145 636.7v-2M160.6 636.7v-2M176.1 636.7v-2M191.6 636.7v-2M207.1 636.7v-2M53.4 619.4h2M53.4 602h2M53.4 584.7h2M53.4 567.3h2M53.4 550h2M53.4 532.6h2" stroke="#3a3a3a" stroke-width="0.8"/>
<g font-family="'Liberation Serif', serif" font-size="8.3" fill="#555" text-anchor="middle"><text x="67.4" y="645.4">10</text><text x="82.9" y="645.4">20</text><text x="98.4" y="645.4">30</text><text x="114" y="645.4">40</text><text x="129.5" y="645.4">50</text><text x="145" y="645.4">60</text><text x="160.6" y="645.4">70</text><text x="176.1" y="645.4">80</text><text x="191.6" y="645.4">90</text><text x="207.1" y="645.4">100</text></g>
<g font-family="'Liberation Serif', serif" font-size="8.3" fill="#555" text-anchor="end"><text x="50.8" y="622.1">0.3</text><text x="50.8" y="604.8">0.4</text><text x="50.8" y="587.5">0.5</text><text x="50.8" y="570.1">0.6</text><text x="50.8" y="552.8">0.7</text><text x="50.8" y="535.4">0.8</text></g>
<text transform="translate(33.9 576) rotate(-90)" text-anchor="middle" font-family="'Liberation Serif', serif" font-size="12" fill="#222">Fractional Anisotropy</text>
<text x="119.5" y="524.7" font-family="'Liberation Serif', serif" font-size="14.6" fill="#111" textLength="21.9" lengthAdjust="spacingAndGlyphs">Left</text>
<text x="130.3" y="657.5" text-anchor="middle" font-family="'Liberation Serif', serif" font-size="11.8" fill="#222">Location</text>
<clipPath id="g236_636"><rect x="236.5" y="513.8" width="160" height="122.0"/></clipPath>
<g clip-path="url(#g236_636)" fill="none" stroke="#9d9d9d" stroke-width="1.1" stroke-linejoin="round"><path d="M236.5 568.3l3.5 -0.6l3.5 -0l3.5 -1.9l3.5 -4.4l3.5 -5.7l3.5 -4.5l3.5 -0.9l3.5 3.6l3.5 6.9l3.5 7.5l3.5 6.1l3.5 4.9l3.5 3.7l3.5 2.7l3.5 3.2l3.5 4.2l3.5 3.4l3.5 0.2l3.5 -4.2l3.5 -7.7l3.5 -8.4l3.5 -5.8l3.5 -1.3l3.5 2.4l3.5 3.1l3.5 0.4l3.5 -0.9l3.5 1.8l3.5 6.2l3.5 9.9l3.5 11.1l3.5 8.6l3.5 3.5l3.5 -1l3.5 -3.6l3.5 -4.5l3.5 -4.4l3.5 -4.6l3.5 -5.2l3.5 -4.3l3.5 -3.6l3.5 -4.6l3.5 -4.9l3.5 -2.8"/><path d="M236.5 572.4l3.5 5.3l3.5 7.4l3.5 7.8l3.5 6.8l3.5 4.6l3.5 1.5l3.5 -1.9l3.5 -4.8l3.5 -6.5l3.5 -6.6l3.5 -4.8l3.5 -0.9l3.5 2.5l3.5 3.7l3.5 4l3.5 3.7l3.5 2.4l3.5 0.2l3.5 -2.1l3.5 -4l3.5 -4.6l3.5 -3.9l3.5 -2l3.5 0.1l3.5 1.1l3.5 0.4l3.5 1l3.5 3.9l3.5 6l3.5 6.1l3.5 4.5l3.5 1.9l3.5 0.3l3.5 1.5l3.5 4.4l3.5 6.2l3.5 5.4l3.5 1.5l3.5 -3.4l3.5 -5.5l3.5 -5.7l3.5 -6.2l3.5 -6.2l3.5 -4.8"/><path d="M236.5 582.4l3.5 4l3.5 1.2l3.5 -3.3l3.5 -6.5l3.5 -6.6l3.5 -3.7l3.5 0.5l3.5 3.9l3.5 4.5l3.5 2.2l3.5 -0.7l3.5 -1.7l3.5 -1l3.5 0.6l3.5 3.3l3.5 5.5l3.5 5l3.5 1.7l3.5 -2.7l3.5 -6l3.5 -6.2l3.5 -3.3l3.5 1l3.5 4.3l3.5 4.3l3.5 0.6l3.5 -2l3.5 -0.7l3.5 2.4l3.5 5.5l3.5 7.2l3.5 6.3l3.5 3.6l3.5 1.4l3.5 -0l3.5 -1.2l3.5 -2.1l3.5 -3.1l3.5 -3.3l3.5 -0.9l3.5 1.9l3.5 1.9l3.5 0.4l3.5 -0.9"/><path d="M236.5 579.1l3.5 3.7l3.5 4.2l3.5 3.1l3.5 1l3.5 -1.7l3.5 -4.2l3.5 -5.6l3.5 -5.2l3.5 -3.2l3.5 -0.2l3.5 3.2l3.5 6.2l3.5 6.4l3.5 3.3l3.5 -0.4l3.5 -2.9l3.5 -3.7l3.5 -2.6l3.5 -0.1l3.5 2.8l3.5 5.1l3.5 6.2l3.5 5.7l3.5 3.9l3.5 0.7l3.5 -2.9l3.5 -3.4l3.5 0.2l3.5 3.9l3.5 5.1l3.5 3.3l3.5 -1l3.5 -5.1l3.5 -6.1l3.5 -4.2l3.5 -1.4l3.5 0.7l3.5 0.7l3.5 -0.5l3.5 -0.2l3.5 0.3l3.5 -1l3.5 -2.5l3.5 -2.7"/><path d="M236.5 564.0l3.5 -2.6l3.5 -0.3l3.5 2.6l3.5 5.4l3.5 6.9l3.5 6.2l3.5 3.2l3.5 -0.8l3.5 -4.2l3.5 -5.9l3.5 -4.9l3.5 -1.2l3.5 2.2l3.5 3.6l3.5 4.3l3.5 5.1l3.5 5.6l3.5 5.6l3.5 4.6l3.5 2.3l3.5 -0.9l3.5 -4.3l3.5 -6.5l3.5 -7l3.5 -5.9l3.5 -4l3.5 0.5l3.5 7l3.5 10.9l3.5 10.7l3.5 6.9l3.5 1.3l3.5 -3.2l3.5 -4.5l3.5 -3.4l3.5 -2.4l3.5 -2.6l3.5 -4.1l3.5 -4.8l3.5 -1.5l3.5 3.5l3.5 6l3.5 5.6l3.5 3"/><path d="M236.5 575.3l3.5 2.2l3.5 -1.6l3.5 -4.7l3.5 -4.2l3.5 -0.3l3.5 4.4l3.5 7.1l3.5 5.9l3.5 2l3.5 -2.1l3.5 -3.1l3.5 0.2l3.5 4.4l3.5 5.8l3.5 4.2l3.5 0.6l3.5 -3.2l3.5 -4.5l3.5 -2l3.5 3.1l3.5 7.8l3.5 8.9l3.5 5.5l3.5 -1.1l3.5 -7.9l3.5 -11.7l3.5 -8.5l3.5 0.7l3.5 8.8l3.5 11.4l3.5 7.8l3.5 0.9l3.5 -4.4l3.5 -4.1l3.5 0.6l3.5 4.9l3.5 5.1l3.5 -0.1l3.5 -7.3l3.5 -10.4l3.5 -8.4l3.5 -4.2l3.5 0.6l3.5 3.8"/><path d="M236.5 585.7l3.5 4.3l3.5 2.9l3.5 1.2l3.5 0.3l3.5 0.3l3.5 0.8l3.5 1.4l3.5 1.6l3.5 1l3.5 -0.5l3.5 -1.7l3.5 -1.7l3.5 -1.5l3.5 -1.6l3.5 -0.6l3.5 1.6l3.5 3.4l3.5 3.7l3.5 2.5l3.5 0.2l3.5 -2.1l3.5 -3.2l3.5 -2.8l3.5 -1.3l3.5 -0.3l3.5 -0.7l3.5 0.1l3.5 2.7l3.5 4.2l3.5 3.4l3.5 0.9l3.5 -2.4l3.5 -4.2l3.5 -2.9l3.5 0.6l3.5 3.5l3.5 4.3l3.5 2.4l3.5 -0.3l3.5 -0.5l3.5 0.8l3.5 0.9l3.5 0.8l3.5 1.4"/><path d="M236.5 560.5l3.5 0.2l3.5 7l3.5 9.2l3.5 5.9l3.5 -0.9l3.5 -7.1l3.5 -8.6l3.5 -4.1l3.5 3.7l3.5 10.1l3.5 11.7l3.5 8.3l3.5 1.1l3.5 -5.6l3.5 -6.4l3.5 -0.4l3.5 7.7l3.5 12.6l3.5 10.5l3.5 2.4l3.5 -7l3.5 -11.9l3.5 -9.2l3.5 -0.7l3.5 7.7l3.5 10l3.5 6.5l3.5 0.2l3.5 -6.7l3.5 -10l3.5 -7.1l3.5 0l3.5 7.3l3.5 10.8l3.5 7.5l3.5 -1.7l3.5 -11.7l3.5 -16.9l3.5 -13.4l3.5 -1.3l3.5 11.4l3.5 15.9l3.5 11l3.5 0.7"/><path d="M236.5 577.5l3.5 2.3l3.5 -0.2l3.5 -3.1l3.5 -4.9l3.5 -5.4l3.5 -4.7l3.5 -3.3l3.5 -1.4l3.5 0.4l3.5 2l3.5 3.8l3.5 5.9l3.5 6.2l3.5 3.9l3.5 1.1l3.5 -0.9l3.5 -1.8l3.5 -1.7l3.5 -0.6l3.5 0.9l3.5 2.1l3.5 2.8l3.5 2.7l3.5 2l3.5 0.6l3.5 -1.3l3.5 -0.6l3.5 3.1l3.5 5.6l3.5 5.2l3.5 2.2l3.5 -2l3.5 -4.3l3.5 -2.4l3.5 2.4l3.5 6.5l3.5 7.3l3.5 3.7l3.5 -2.1l3.5 -5.5l3.5 -6.3l3.5 -6.3l3.5 -4.7l3.5 -1.7"/><path d="M236.5 571.1l3.5 0.4l3.5 -1.4l3.5 -2.2l3.5 -1.4l3.5 0.4l3.5 2.1l3.5 2.8l3.5 2.1l3.5 0.2l3.5 -1.9l3.5 -2.7l3.5 -1l3.5 1.6l3.5 3.5l3.5 5.4l3.5 6.9l3.5 6.7l3.5 4.6l3.5 1.1l3.5 -2.3l3.5 -4.4l3.5 -4.4l3.5 -2.5l3.5 0l3.5 1.3l3.5 0.3l3.5 -0.2l3.5 1.2l3.5 1.9l3.5 1.3l3.5 0l3.5 -1.4l3.5 -1.4l3.5 1l3.5 4l3.5 4.8l3.5 2.5l3.5 -2.7l3.5 -7.7l3.5 -8.3l3.5 -5.4l3.5 -2.3l3.5 0.9l3.5 3.5"/><path d="M236.5 559.3l3.5 1l3.5 0.9l3.5 -0.1l3.5 -1.1l3.5 -1.3l3.5 -0.7l3.5 0.5l3.5 1.6l3.5 2.1l3.5 1.6l3.5 1l3.5 1.3l3.5 1.2l3.5 0.3l3.5 0.1l3.5 1.1l3.5 2.2l3.5 2.7l3.5 2.5l3.5 1.8l3.5 1.2l3.5 0.8l3.5 0.7l3.5 0.3l3.5 -1l3.5 -3.5l3.5 -3.7l3.5 -0.4l3.5 3l3.5 4.6l3.5 4.2l3.5 2l3.5 -0.2l3.5 -0.2l3.5 1.2l3.5 2l3.5 1.1l3.5 -2.1l3.5 -5.3l3.5 -5.3l3.5 -3.2l3.5 -1.8l3.5 -0.4l3.5 1.1"/><path d="M236.5 560.2l3.5 1.9l3.5 1.4l3.5 0.3l3.5 -0.4l3.5 -0.2l3.5 0.9l3.5 2.7l3.5 4.9l3.5 6.8l3.5 7.8l3.5 8.2l3.5 8.3l3.5 6.5l3.5 2.5l3.5 -1.3l3.5 -3.6l3.5 -4.8l3.5 -4.9l3.5 -4.2l3.5 -3.2l3.5 -2.1l3.5 -1.3l3.5 -1.1l3.5 -1.7l3.5 -3.4l3.5 -6l3.5 -5.6l3.5 -0.9l3.5 4.5l3.5 8.4l3.5 10.2l3.5 9.4l3.5 7.6l3.5 6.6l3.5 6l3.5 4.1l3.5 0.6l3.5 -4.2l3.5 -7.9l3.5 -7.2l3.5 -3.9l3.5 -1.5l3.5 -0.2l3.5 0.2"/><path d="M236.5 597.4l3.5 -2.6l3.5 -5.5l3.5 -6.3l3.5 -4.6l3.5 -1.3l3.5 1.6l3.5 2.9l3.5 2.2l3.5 0.3l3.5 -1.5l3.5 -1.6l3.5 0.8l3.5 3.2l3.5 3.5l3.5 2.7l3.5 1.1l3.5 -1.1l3.5 -2.9l3.5 -3.3l3.5 -2l3.5 0.7l3.5 3.3l3.5 4.4l3.5 3.1l3.5 -0.8l3.5 -6l3.5 -7.6l3.5 -3.6l3.5 2.4l3.5 7.3l3.5 9.3l3.5 7.5l3.5 3.6l3.5 0.5l3.5 -1l3.5 -1.6l3.5 -2.1l3.5 -3.1l3.5 -3.9l3.5 -2.4l3.5 -0.5l3.5 -0.7l3.5 -1.4l3.5 -1.1"/><path d="M236.5 583.7l3.5 2.9l3.5 -0.1l3.5 -4.2l3.5 -6.5l3.5 -5.7l3.5 -2.7l3.5 0.7l3.5 2.5l3.5 2.2l3.5 0.8l3.5 0.5l3.5 2.9l3.5 5.5l3.5 5.7l3.5 3.8l3.5 0.4l3.5 -3.4l3.5 -5.1l3.5 -2.8l3.5 3l3.5 9.4l3.5 12.7l3.5 10.3l3.5 2.6l3.5 -7.5l3.5 -15.6l3.5 -15.2l3.5 -5.8l3.5 5.8l3.5 13.2l3.5 13l3.5 5.8l3.5 -3.4l3.5 -8.5l3.5 -7.5l3.5 -3l3.5 1.4l3.5 1.9l3.5 -1.2l3.5 -3.7l3.5 -4.5l3.5 -4.1l3.5 -1.1l3.5 3.8"/><path d="M236.5 584.7l3.5 -1.5l3.5 -3.2l3.5 -3.7l3.5 -2.8l3.5 -1.1l3.5 0.4l3.5 1l3.5 0.7l3.5 0.2l3.5 0.1l3.5 1.4l3.5 4.5l3.5 7l3.5 7l3.5 5.5l3.5 2.9l3.5 -0.7l3.5 -4.4l3.5 -6.8l3.5 -6.8l3.5 -3.9l3.5 1.1l3.5 6.6l3.5 10.2l3.5 10.1l3.5 5.7l3.5 0.9l3.5 -1.6l3.5 -3.4l3.5 -4.8l3.5 -5.4l3.5 -5.2l3.5 -3.6l3.5 0.1l3.5 4.1l3.5 5.8l3.5 4.5l3.5 0.6l3.5 -3.1l3.5 -3l3.5 -0.6l3.5 0.6l3.5 0.4l3.5 -0.6"/><path d="M236.5 575.0l3.5 -1l3.5 2.3l3.5 4l3.5 3.5l3.5 1.1l3.5 -1.9l3.5 -3.4l3.5 -2.6l3.5 0.2l3.5 3.3l3.5 5.6l3.5 6.3l3.5 4.2l3.5 0.1l3.5 -2.4l3.5 -1.9l3.5 0.6l3.5 2.9l3.5 3.4l3.5 1.6l3.5 -1.5l3.5 -3.9l3.5 -4l3.5 -1.8l3.5 0.8l3.5 1.9l3.5 3l3.5 4.7l3.5 4.9l3.5 3.5l3.5 2.1l3.5 1.3l3.5 1.8l3.5 3.9l3.5 5.4l3.5 4l3.5 0.1l3.5 -4.9l3.5 -7.6l3.5 -5.1l3.5 -0.2l3.5 2.3l3.5 1.7l3.5 -0.9"/><path d="M236.5 563.9l3.5 1.6l3.5 2.5l3.5 2.2l3.5 1.4l3.5 0.2l3.5 -1.3l3.5 -2.5l3.5 -3l3.5 -2.7l3.5 -1.5l3.5 0.7l3.5 4l3.5 5.8l3.5 5.1l3.5 3.4l3.5 1.8l3.5 0.2l3.5 -1.2l3.5 -2l3.5 -2l3.5 -1.2l3.5 0.2l3.5 1.5l3.5 2.1l3.5 1.2l3.5 -1.4l3.5 -2l3.5 0.8l3.5 3.8l3.5 5.2l3.5 4.7l3.5 2.4l3.5 0.1l3.5 -0.4l3.5 0.5l3.5 0.8l3.5 -0.2l3.5 -2.6l3.5 -4.3l3.5 -2.5l3.5 1l3.5 2.7l3.5 2.7l3.5 1.8"/><path d="M236.5 579.0l3.5 2.5l3.5 -1.7l3.5 -5.5l3.5 -7l3.5 -5.8l3.5 -3.1l3.5 -0.3l3.5 1.1l3.5 0.9l3.5 0l3.5 0.5l3.5 3.7l3.5 7.5l3.5 9.6l3.5 10l3.5 8.1l3.5 3.4l3.5 -2.6l3.5 -7.7l3.5 -9.7l3.5 -8l3.5 -3.6l3.5 1.1l3.5 3.8l3.5 2.8l3.5 -1.2l3.5 -3.1l3.5 -0.1l3.5 5.1l3.5 9.8l3.5 11.7l3.5 9.2l3.5 3.6l3.5 -2.2l3.5 -6.5l3.5 -9l3.5 -9.3l3.5 -8l3.5 -5.1l3.5 0.1l3.5 4.4l3.5 4.4l3.5 2l3.5 -0.1"/><path d="M236.5 584.7l3.5 -3.5l3.5 -2.3l3.5 -0.8l3.5 0.8l3.5 2.1l3.5 2.3l3.5 1.5l3.5 -0l3.5 -1.7l3.5 -2.9l3.5 -2.4l3.5 0.3l3.5 3.1l3.5 4.4l3.5 5.2l3.5 5.6l3.5 4.7l3.5 2.4l3.5 -0.8l3.5 -3.9l3.5 -5.9l3.5 -6.3l3.5 -4.9l3.5 -2.6l3.5 -0.8l3.5 -0.5l3.5 1.1l3.5 4.6l3.5 6.7l3.5 6.2l3.5 3.6l3.5 -0.1l3.5 -2.5l3.5 -1.5l3.5 1.8l3.5 4.7l3.5 5.4l3.5 3.2l3.5 -0.1l3.5 -1.1l3.5 -0.8l3.5 -1.5l3.5 -2.3l3.5 -2.4"/><path d="M236.5 571.9l3.5 -0.5l3.5 -0.8l3.5 -0.7l3.5 0.4l3.5 2.1l3.5 3.2l3.5 3.1l3.5 1.6l3.5 -0.8l3.5 -3.1l3.5 -3.4l3.5 -0.8l3.5 2.8l3.5 5.4l3.5 7.2l3.5 7.8l3.5 5.9l3.5 2.1l3.5 -2.3l3.5 -5.5l3.5 -6.1l3.5 -3.9l3.5 -0l3.5 3.5l3.5 4.4l3.5 1.9l3.5 -0.5l3.5 -0.4l3.5 0.3l3.5 0.9l3.5 1.3l3.5 1.2l3.5 1l3.5 1.6l3.5 2l3.5 0.6l3.5 -2.2l3.5 -5.7l3.5 -7.1l3.5 -3.8l3.5 1.5l3.5 4.2l3.5 3.9l3.5 1.2"/><path d="M236.5 588.5l3.5 2.7l3.5 0.3l3.5 -2.5l3.5 -4.2l3.5 -4.3l3.5 -3l3.5 -1.2l3.5 0.3l3.5 0.7l3.5 -0.1l3.5 -1l3.5 -0.6l3.5 0.1l3.5 0.6l3.5 2.4l3.5 5.1l3.5 7.1l3.5 7.1l3.5 5.2l3.5 2l3.5 -0.9l3.5 -2.3l3.5 -1.8l3.5 0l3.5 1.3l3.5 0.7l3.5 0.5l3.5 1.8l3.5 1.7l3.5 -0.2l3.5 -2.8l3.5 -4.9l3.5 -4.9l3.5 -1.8l3.5 2.5l3.5 4.7l3.5 3.6l3.5 -0.6l3.5 -5l3.5 -5.1l3.5 -1.9l3.5 1.3l3.5 4.1l3.5 6"/><path d="M236.5 580.2l3.5 -1.8l3.5 -0.7l3.5 0.2l3.5 1.4l3.5 2.5l3.5 3.1l3.5 3.1l3.5 2.4l3.5 1l3.5 -0.6l3.5 -1.5l3.5 -0.8l3.5 -0.1l3.5 -0.2l3.5 0.6l3.5 2.5l3.5 4.3l3.5 5.3l3.5 5l3.5 3.5l3.5 1.2l3.5 -1.2l3.5 -3.1l3.5 -4.4l3.5 -5.5l3.5 -6.3l3.5 -4l3.5 1.8l3.5 7.2l3.5 9.7l3.5 8.9l3.5 5.2l3.5 0.9l3.5 -1.5l3.5 -2l3.5 -2.3l3.5 -3.2l3.5 -5l3.5 -6.2l3.5 -3.8l3.5 0.2l3.5 2.4l3.5 3.2l3.5 3.2"/><path d="M236.5 564.5l3.5 -3.2l3.5 2.8l3.5 6.7l3.5 7l3.5 3.4l3.5 -2.3l3.5 -7l3.5 -8.3l3.5 -5.3l3.5 0.7l3.5 7.4l3.5 12.4l3.5 12.3l3.5 6.7l3.5 -0.3l3.5 -5l3.5 -6.3l3.5 -4l3.5 -0l3.5 3.4l3.5 4.6l3.5 3l3.5 -0.3l3.5 -3.7l3.5 -5.8l3.5 -6.2l3.5 -2.3l3.5 5.1l3.5 10.5l3.5 11.2l3.5 7.3l3.5 0.6l3.5 -4.9l3.5 -6.1l3.5 -3.5l3.5 -0l3.5 1.7l3.5 0.3l3.5 -2.8l3.5 -3.6l3.5 -2.5l3.5 -1.8l3.5 -0.7l3.5 1"/><path d="M236.5 566.4l3.5 -2.5l3.5 0l3.5 1.3l3.5 1.1l3.5 -0.1l3.5 -1.5l3.5 -2l3.5 -0.9l3.5 1.2l3.5 3.2l3.5 4.4l3.5 4.8l3.5 2.8l3.5 -1l3.5 -3.4l3.5 -2.6l3.5 0.5l3.5 4.4l3.5 7.1l3.5 7.3l3.5 4.9l3.5 1l3.5 -2.8l3.5 -5.2l3.5 -5.9l3.5 -5.4l3.5 -1.9l3.5 4.2l3.5 8.2l3.5 8.4l3.5 5.4l3.5 0.9l3.5 -2.3l3.5 -1.9l3.5 0.7l3.5 2.3l3.5 1.3l3.5 -2.8l3.5 -7l3.5 -7.2l3.5 -3.9l3.5 -0.3l3.5 3.2l3.5 5.7"/><path d="M236.5 597.9l3.5 3.6l3.5 1.4l3.5 -0.9l3.5 -2.3l3.5 -2.3l3.5 -1.3l3.5 0l3.5 1.1l3.5 1.4l3.5 0.8l3.5 0.1l3.5 0.3l3.5 0l3.5 -1l3.5 -1.2l3.5 -0.1l3.5 1l3.5 1.3l3.5 0.6l3.5 -1.2l3.5 -3.1l3.5 -4.5l3.5 -4.6l3.5 -3.6l3.5 -2.4l3.5 -1.9l3.5 0.6l3.5 5.2l3.5 8.1l3.5 8l3.5 5.1l3.5 0.9l3.5 -1.9l3.5 -1.3l3.5 1.9l3.5 4.8l3.5 5.5l3.5 3l3.5 -0.8l3.5 -2.2l3.5 -1.8l3.5 -1.9l3.5 -1.4l3.5 0.1"/><path d="M236.5 580.7l3.5 -6.8l3.5 -0.6l3.5 5.8l3.5 9.2l3.5 7.3l3.5 0.9l3.5 -6.2l3.5 -10.1l3.5 -8.4l3.5 -1.9l3.5 6.4l3.5 12.8l3.5 13l3.5 6.7l3.5 -1.2l3.5 -5.9l3.5 -5.7l3.5 -1l3.5 5l3.5 8.5l3.5 7.4l3.5 2.3l3.5 -4.1l3.5 -8.4l3.5 -8.8l3.5 -5.9l3.5 0.9l3.5 9l3.5 12.3l3.5 9.3l3.5 2.1l3.5 -5.3l3.5 -8.3l3.5 -5l3.5 2l3.5 7.2l3.5 7.2l3.5 1.3l3.5 -6.6l3.5 -10.3l3.5 -8.9l3.5 -5.1l3.5 0.1l3.5 4.5"/><path d="M236.5 584.3l3.5 3.8l3.5 1.4l3.5 -1.1l3.5 -2.6l3.5 -2.9l3.5 -2.5l3.5 -1.8l3.5 -1.2l3.5 -0.4l3.5 0.5l3.5 2.4l3.5 5.4l3.5 7.2l3.5 6.3l3.5 4.2l3.5 1.6l3.5 -1.2l3.5 -3.7l3.5 -4.7l3.5 -3.9l3.5 -1.3l3.5 2.2l3.5 5.2l3.5 6.1l3.5 3.8l3.5 -1.3l3.5 -4.8l3.5 -4l3.5 -1.5l3.5 1.3l3.5 3.4l3.5 4l3.5 3.7l3.5 3.6l3.5 3.2l3.5 1.3l3.5 -1.8l3.5 -5.4l3.5 -7.2l3.5 -4.4l3.5 0.3l3.5 2.7l3.5 2.6l3.5 0.8"/><path d="M236.5 587.1l3.5 4.5l3.5 2.3l3.5 -0.8l3.5 -3l3.5 -3.3l3.5 -1.7l3.5 1l3.5 3.4l3.5 4.4l3.5 3.5l3.5 1.6l3.5 0.4l3.5 -0.7l3.5 -1.6l3.5 -0.5l3.5 2.4l3.5 5.1l3.5 6.1l3.5 4.7l3.5 1.6l3.5 -1.9l3.5 -4.1l3.5 -4.2l3.5 -2.4l3.5 -0.3l3.5 0.5l3.5 1.9l3.5 4.4l3.5 4.9l3.5 2.9l3.5 -0.4l3.5 -3.4l3.5 -4.1l3.5 -1.2l3.5 3.3l3.5 6l3.5 5l3.5 0.3l3.5 -5.1l3.5 -6.8l3.5 -5.2l3.5 -3.2l3.5 -0.9l3.5 1.4"/><path d="M236.5 574.4l3.5 -8.1l3.5 -2.6l3.5 2.9l3.5 6.7l3.5 7.5l3.5 5.6l3.5 2.3l3.5 -0.7l3.5 -2.5l3.5 -2.8l3.5 -1.4l3.5 1.4l3.5 3.3l3.5 3.5l3.5 3.4l3.5 3.5l3.5 2.6l3.5 0.6l3.5 -2l3.5 -4l3.5 -4l3.5 -1.2l3.5 3.3l3.5 7.2l3.5 7.7l3.5 3.4l3.5 -2l3.5 -5.1l3.5 -6.4l3.5 -5.5l3.5 -2.2l3.5 1.9l3.5 5.9l3.5 9l3.5 9.4l3.5 6l3.5 0.1l3.5 -6.1l3.5 -9.6l3.5 -7.4l3.5 -2.5l3.5 0.4l3.5 1l3.5 0.2"/><path d="M236.5 577.3l3.5 -6.5l3.5 -5.6l3.5 -3.2l3.5 0.2l3.5 2.9l3.5 3.8l3.5 2.8l3.5 1l3.5 -0.6l3.5 -0.9l3.5 0.8l3.5 4.1l3.5 6.1l3.5 4.9l3.5 2.2l3.5 -0.5l3.5 -2.6l3.5 -3.3l3.5 -2.3l3.5 -0.2l3.5 1.9l3.5 2.9l3.5 2.3l3.5 0.1l3.5 -3l3.5 -5.9l3.5 -4.6l3.5 1.7l3.5 8.2l3.5 11.5l3.5 10.3l3.5 5.1l3.5 -1.3l3.5 -5l3.5 -5.3l3.5 -3.8l3.5 -2l3.5 -1.6l3.5 -2l3.5 -0.9l3.5 0.5l3.5 0.1l3.5 -0.4l3.5 0.3"/><path d="M236.5 558.5l3.5 4.1l3.5 4.5l3.5 3.7l3.5 2.5l3.5 1.1l3.5 -0.4l3.5 -1.6l3.5 -2.4l3.5 -2.6l3.5 -2.2l3.5 -0.8l3.5 2l3.5 3.9l3.5 3.8l3.5 3.3l3.5 3l3.5 2.4l3.5 1.4l3.5 0.2l3.5 -0.9l3.5 -1.3l3.5 -0.9l3.5 0.1l3.5 1.1l3.5 1.1l3.5 -0.2l3.5 0.1l3.5 3l3.5 5l3.5 4.7l3.5 2.1l3.5 -1.8l3.5 -5l3.5 -5.1l3.5 -2.8l3.5 -0.3l3.5 0.9l3.5 0.3l3.5 -0.8l3.5 0.7l3.5 3.1l3.5 3.4l3.5 2.4l3.5 1"/><path d="M236.5 572.5l3.5 4.4l3.5 5.1l3.5 3.8l3.5 1.4l3.5 -1.1l3.5 -3.1l3.5 -4l3.5 -3.6l3.5 -2.5l3.5 -0.8l3.5 1.5l3.5 4.8l3.5 7l3.5 6.9l3.5 5.9l3.5 4.4l3.5 1.8l3.5 -1.4l3.5 -4.3l3.5 -5.8l3.5 -5.1l3.5 -2.4l3.5 1.3l3.5 4.2l3.5 4.7l3.5 2.3l3.5 0.6l3.5 1.5l3.5 2.4l3.5 2l3.5 0.4l3.5 -2.1l3.5 -3.5l3.5 -2.1l3.5 1.4l3.5 4.3l3.5 5.1l3.5 2.7l3.5 -1.1l3.5 -3l3.5 -3.5l3.5 -4.6l3.5 -4.9l3.5 -3.6"/><path d="M236.5 576.2l3.5 -2.8l3.5 -5.3l3.5 -6.2l3.5 -4.5l3.5 -0.8l3.5 3.2l3.5 5.8l3.5 6.2l3.5 4.5l3.5 1.8l3.5 0.1l3.5 0.9l3.5 2.5l3.5 3.3l3.5 3.9l3.5 4.1l3.5 3l3.5 0.5l3.5 -2.3l3.5 -4.5l3.5 -5.3l3.5 -4.5l3.5 -2.5l3.5 -0.4l3.5 0.7l3.5 0.2l3.5 1.3l3.5 5l3.5 7.6l3.5 7.7l3.5 5.2l3.5 1l3.5 -2.3l3.5 -2.4l3.5 -0l3.5 2.2l3.5 2.3l3.5 -0.7l3.5 -5l3.5 -6.9l3.5 -6.6l3.5 -6.1l3.5 -4.2l3.5 -0.8"/><path d="M236.5 576.3l3.5 1l3.5 -2.1l3.5 -4.3l3.5 -4.2l3.5 -1.9l3.5 1.2l3.5 3.3l3.5 3.6l3.5 1.8l3.5 -0.9l3.5 -2.4l3.5 -1l3.5 1.7l3.5 4.3l3.5 6.8l3.5 8.4l3.5 7.6l3.5 4.6l3.5 0.6l3.5 -2.6l3.5 -3.6l3.5 -2.1l3.5 1l3.5 3.5l3.5 3.4l3.5 0l3.5 -2.7l3.5 -2.5l3.5 -1.1l3.5 0.6l3.5 2.1l3.5 2.7l3.5 2.8l3.5 3.2l3.5 3l3.5 1l3.5 -2.5l3.5 -6.3l3.5 -8l3.5 -4.8l3.5 0.3l3.5 2.8l3.5 2.6l3.5 0.5"/><path d="M236.5 604.1l3.5 2.2l3.5 -0.4l3.5 -3.2l3.5 -5.3l3.5 -6.2l3.5 -6.1l3.5 -5.3l3.5 -4.1l3.5 -2.6l3.5 -1.1l3.5 1.1l3.5 4.5l3.5 7l3.5 7.6l3.5 7.8l3.5 7.8l3.5 6.8l3.5 4.6l3.5 1.8l3.5 -1.2l3.5 -3.5l3.5 -4.4l3.5 -4.2l3.5 -3.6l3.5 -3.6l3.5 -4.9l3.5 -4.2l3.5 -0.4l3.5 3.5l3.5 5.9l3.5 6.4l3.5 5.2l3.5 3.5l3.5 3.2l3.5 3.5l3.5 2.6l3.5 0.2l3.5 -3.5l3.5 -6.4l3.5 -5.6l3.5 -2.9l3.5 -1.9l3.5 -2.1l3.5 -2.6"/><path d="M236.5 563.8l3.5 0.2l3.5 1l3.5 1.4l3.5 1.7l3.5 1.9l3.5 1.8l3.5 1.5l3.5 0.9l3.5 0.3l3.5 -0.1l3.5 0.3l3.5 2.2l3.5 3.5l3.5 3.3l3.5 3l3.5 3.3l3.5 3.2l3.5 2.6l3.5 1.4l3.5 -0.1l3.5 -1.3l3.5 -2l3.5 -2l3.5 -1.8l3.5 -2.1l3.5 -3.2l3.5 -2l3.5 2.1l3.5 5.7l3.5 6.8l3.5 5.4l3.5 2l3.5 -1.2l3.5 -2l3.5 -0.9l3.5 0.1l3.5 -0.1l3.5 -1.9l3.5 -3.8l3.5 -2.5l3.5 0.1l3.5 1.2l3.5 1.1l3.5 0.5"/><path d="M236.5 571.7l3.5 4.4l3.5 4.4l3.5 2.4l3.5 -0.3l3.5 -2.7l3.5 -3.8l3.5 -3.3l3.5 -1.2l3.5 1.4l3.5 3.5l3.5 4.6l3.5 5l3.5 3.4l3.5 -0.1l3.5 -2.4l3.5 -2.2l3.5 -0.2l3.5 2.5l3.5 4.5l3.5 4.9l3.5 3.5l3.5 0.9l3.5 -1.7l3.5 -3.6l3.5 -4.7l3.5 -5.1l3.5 -2.4l3.5 3.2l3.5 7.3l3.5 7.7l3.5 4.6l3.5 -0.3l3.5 -4l3.5 -3.8l3.5 -0.4l3.5 3.1l3.5 4.4l3.5 2.3l3.5 -1.8l3.5 -3.9l3.5 -4.4l3.5 -5l3.5 -4.4l3.5 -2.1"/><path d="M236.5 575.1l3.5 -0.7l3.5 1.5l3.5 2.9l3.5 3.1l3.5 1.9l3.5 -0.3l3.5 -2.2l3.5 -2.9l3.5 -1.8l3.5 0.4l3.5 3.2l3.5 5.8l3.5 5.8l3.5 2.8l3.5 -0.2l3.5 -1.4l3.5 -0.9l3.5 0.8l3.5 2.6l3.5 3.3l3.5 2.6l3.5 0.8l3.5 -1.2l3.5 -2.7l3.5 -3.8l3.5 -4.7l3.5 -2.8l3.5 2.2l3.5 6.3l3.5 7.5l3.5 6l3.5 2.5l3.5 -0.7l3.5 -1.6l3.5 -0.9l3.5 -0.6l3.5 -1.4l3.5 -3.3l3.5 -4.5l3.5 -2.2l3.5 1.4l3.5 2.6l3.5 1.7l3.5 -0.2"/><path d="M236.5 584.3l3.5 3.5l3.5 0.3l3.5 -3.2l3.5 -4.9l3.5 -4.1l3.5 -1.6l3.5 1l3.5 2.4l3.5 2.1l3.5 0.9l3.5 0.5l3.5 2.5l3.5 5l3.5 6.1l3.5 6.1l3.5 4.7l3.5 1.5l3.5 -2.3l3.5 -5l3.5 -5.6l3.5 -4l3.5 -1.2l3.5 1.2l3.5 1.8l3.5 0.2l3.5 -2.8l3.5 -2.7l3.5 2l3.5 7.1l3.5 9.7l3.5 8.4l3.5 3.4l3.5 -2.2l3.5 -5l3.5 -4.2l3.5 -1.9l3.5 0l3.5 -0.3l3.5 -2l3.5 -2.1l3.5 -1.2l3.5 -1.1l3.5 -0.4l3.5 1.4"/><path d="M236.5 579.9l3.5 -6.2l3.5 -7.7l3.5 -6.6l3.5 -2.6l3.5 2.7l3.5 7.3l3.5 9.2l3.5 7.8l3.5 3.5l3.5 -1.9l3.5 -5.7l3.5 -5.4l3.5 -2.5l3.5 1.6l3.5 6.5l3.5 10.7l3.5 11.6l3.5 8.6l3.5 2.6l3.5 -4.2l3.5 -9.1l3.5 -10.2l3.5 -7.2l3.5 -1.7l3.5 3.3l3.5 5.3l3.5 6l3.5 6.3l3.5 3.9l3.5 -0.5l3.5 -5.1l3.5 -7.9l3.5 -7l3.5 -1.7l3.5 5.2l3.5 9.4l3.5 8.8l3.5 3.2l3.5 -4.3l3.5 -8.3l3.5 -8.6l3.5 -7.1l3.5 -3.6l3.5 1.3"/><path d="M236.5 577.5l3.5 -0.6l3.5 -0.7l3.5 -1.2l3.5 -1.4l3.5 -1.6l3.5 -1.8l3.5 -2.1l3.5 -2.2l3.5 -2l3.5 -1.5l3.5 -0.1l3.5 2.5l3.5 4.2l3.5 3.8l3.5 3.2l3.5 2.9l3.5 2.7l3.5 2.4l3.5 2.1l3.5 1.8l3.5 1.7l3.5 2l3.5 2.3l3.5 2.2l3.5 1.1l3.5 -1.1l3.5 -1.2l3.5 1.7l3.5 4.4l3.5 4.8l3.5 3.1l3.5 -0.3l3.5 -3.2l3.5 -3.6l3.5 -2.2l3.5 -1.1l3.5 -1.6l3.5 -4.1l3.5 -6.6l3.5 -5.8l3.5 -3.2l3.5 -1.7l3.5 -0.8l3.5 0.1"/><path d="M236.5 574.4l3.5 -4.7l3.5 -5.1l3.5 -4l3.5 -1.5l3.5 1.1l3.5 2.4l3.5 1.9l3.5 0.1l3.5 -1.8l3.5 -2.5l3.5 -0.9l3.5 3.1l3.5 6.6l3.5 7.5l3.5 6.6l3.5 4.8l3.5 2.2l3.5 0.1l3.5 -0.7l3.5 0.2l3.5 2.3l3.5 4.4l3.5 5.2l3.5 4l3.5 0.5l3.5 -4.1l3.5 -5.3l3.5 -1.4l3.5 4l3.5 7.8l3.5 8.5l3.5 5.2l3.5 0.1l3.5 -3.8l3.5 -5.5l3.5 -5.6l3.5 -4.7l3.5 -3.7l3.5 -2.6l3.5 0.2l3.5 2l3.5 0l3.5 -3.9l3.5 -7"/><path d="M236.5 564.3l3.5 2.4l3.5 4.6l3.5 5.3l3.5 4.4l3.5 2.1l3.5 -1.1l3.5 -3.9l3.5 -5.1l3.5 -4.2l3.5 -1.8l3.5 1.6l3.5 5.2l3.5 6.4l3.5 4.7l3.5 2.5l3.5 1.4l3.5 1.2l3.5 1.7l3.5 2l3.5 1.4l3.5 0.1l3.5 -1.5l3.5 -2.7l3.5 -3.1l3.5 -3l3.5 -3.1l3.5 -0.9l3.5 3.6l3.5 6.8l3.5 7.1l3.5 4.9l3.5 1.4l3.5 -1.3l3.5 -1.4l3.5 0l3.5 0.4l3.5 -1.2l3.5 -4.5l3.5 -6.8l3.5 -4.6l3.5 0.2l3.5 3.7l3.5 5.1l3.5 4.4"/><path d="M236.5 576.2l3.5 3l3.5 1.4l3.5 -1.1l3.5 -2.9l3.5 -3.3l3.5 -2.5l3.5 -0.7l3.5 1.3l3.5 2.7l3.5 2.9l3.5 2.5l3.5 2.5l3.5 1.7l3.5 -0.1l3.5 -0.5l3.5 0.9l3.5 3l3.5 4.8l3.5 5.5l3.5 4.7l3.5 2.9l3.5 0.8l3.5 -1l3.5 -1.9l3.5 -2.5l3.5 -3.1l3.5 -1.3l3.5 3.3l3.5 6.5l3.5 6.3l3.5 3l3.5 -2.2l3.5 -6.3l3.5 -6.5l3.5 -3.4l3.5 0.3l3.5 2.6l3.5 2l3.5 -0.2l3.5 -0.9l3.5 -0.9l3.5 -2.2l3.5 -3.4l3.5 -3.2"/><path d="M236.5 579.6l3.5 -0.6l3.5 -0.5l3.5 -0.7l3.5 -0.6l3.5 -0.3l3.5 0.1l3.5 0.4l3.5 0.7l3.5 1l3.5 1.2l3.5 2.1l3.5 4l3.5 4.9l3.5 4.1l3.5 3l3.5 2.4l3.5 1.7l3.5 0.6l3.5 -0.7l3.5 -1.9l3.5 -2.7l3.5 -2.8l3.5 -2.3l3.5 -1.5l3.5 -1.3l3.5 -2.1l3.5 -0.8l3.5 3.4l3.5 7l3.5 7.9l3.5 6.3l3.5 2.5l3.5 -1.2l3.5 -2.4l3.5 -1.8l3.5 -1.2l3.5 -1.7l3.5 -3.6l3.5 -5.2l3.5 -3.3l3.5 0.2l3.5 2.2l3.5 3l3.5 3.2"/><path d="M236.5 569.1l3.5 4.3l3.5 4.6l3.5 3.8l3.5 2.4l3.5 0.8l3.5 -0.8l3.5 -2.2l3.5 -3.1l3.5 -3.3l3.5 -2.9l3.5 -1.3l3.5 1.7l3.5 3.8l3.5 4l3.5 3.7l3.5 3.5l3.5 3l3.5 2l3.5 0.8l3.5 -0.2l3.5 -0.6l3.5 -0.4l3.5 0.5l3.5 1.2l3.5 0.9l3.5 -0.9l3.5 -1.1l3.5 1.3l3.5 3.1l3.5 2.9l3.5 0.7l3.5 -2.6l3.5 -4.8l3.5 -3.9l3.5 -0.6l3.5 2.6l3.5 4l3.5 3.1l3.5 1.3l3.5 1.6l3.5 2.7l3.5 1.8l3.5 -0.3l3.5 -2.3"/><path d="M236.5 576.2l3.5 3l3.5 1.5l3.5 -1l3.5 -3.1l3.5 -4.2l3.5 -3.9l3.5 -2.4l3.5 -0.2l3.5 2.1l3.5 3.7l3.5 4.8l3.5 5.7l3.5 4.9l3.5 1.9l3.5 -0.7l3.5 -1.9l3.5 -2.1l3.5 -1.4l3.5 -0.3l3.5 0.9l3.5 2l3.5 2.7l3.5 3l3.5 2.5l3.5 0.8l3.5 -1.9l3.5 -2.2l3.5 0.8l3.5 3.5l3.5 4.2l3.5 2.7l3.5 -0.4l3.5 -2.6l3.5 -1.9l3.5 1.1l3.5 3.7l3.5 4l3.5 1.2l3.5 -3l3.5 -4.9l3.5 -5.3l3.5 -5.9l3.5 -5.6l3.5 -3.5"/><path d="M236.5 569.6l3.5 0.3l3.5 0.4l3.5 -0.7l3.5 -1.8l3.5 -2.6l3.5 -2.7l3.5 -2.1l3.5 -0.9l3.5 0.3l3.5 1.2l3.5 2l3.5 3.3l3.5 3.8l3.5 2.8l3.5 2.5l3.5 3.1l3.5 3.8l3.5 3.8l3.5 2.9l3.5 1.4l3.5 0.1l3.5 -0.4l3.5 0.1l3.5 0.9l3.5 0.9l3.5 -0.6l3.5 -0.8l3.5 1.5l3.5 3.3l3.5 3.4l3.5 2.1l3.5 -0.3l3.5 -2l3.5 -1.6l3.5 -0.2l3.5 0.2l3.5 -1.2l3.5 -4.2l3.5 -6.5l3.5 -5.1l3.5 -1.6l3.5 0.3l3.5 0.8l3.5 0.6"/><path d="M236.5 562.7l3.5 1.7l3.5 4.3l3.5 5.9l3.5 6.3l3.5 5.5l3.5 3.5l3.5 1.1l3.5 -1.1l3.5 -2.3l3.5 -2.5l3.5 -1.3l3.5 1.1l3.5 2.3l3.5 1.1l3.5 -0.6l3.5 -1.5l3.5 -1.8l3.5 -1.1l3.5 0.5l3.5 2.5l3.5 4.5l3.5 5.9l3.5 6l3.5 4.7l3.5 1.6l3.5 -2.7l3.5 -4.2l3.5 -1.5l3.5 1.6l3.5 3.1l3.5 2.3l3.5 -0.8l3.5 -4l3.5 -4.8l3.5 -3.4l3.5 -1.4l3.5 0.1l3.5 0.2l3.5 0.3l3.5 2.5l3.5 5l3.5 4.7l3.5 2.6l3.5 0.2"/><path d="M236.5 572.9l3.5 -5.4l3.5 -7.5l3.5 -6.7l3.5 -2.4l3.5 3.5l3.5 8.7l3.5 11l3.5 9.8l3.5 5.7l3.5 0.7l3.5 -2.7l3.5 -2.8l3.5 -1.4l3.5 -0.7l3.5 -0.3l3.5 -0.4l3.5 -1.5l3.5 -2.8l3.5 -3l3.5 -1l3.5 2.8l3.5 7.3l3.5 10.1l3.5 9.6l3.5 4.6l3.5 -3.7l3.5 -9.7l3.5 -10.1l3.5 -7.1l3.5 -2.7l3.5 1.4l3.5 3.4l3.5 3.6l3.5 3.6l3.5 3.4l3.5 2.5l3.5 1.1l3.5 -0.5l3.5 -1.2l3.5 0.9l3.5 3.1l3.5 1.9l3.5 -1.4l3.5 -4.5"/><path d="M236.5 585.9l3.5 -0.6l3.5 -0.8l3.5 -1.2l3.5 -1l3.5 -0.3l3.5 0.7l3.5 1.5l3.5 2l3.5 1.9l3.5 1.3l3.5 0.9l3.5 1.4l3.5 1.2l3.5 -0.3l3.5 -1l3.5 -0.4l3.5 0.7l3.5 1.8l3.5 2.4l3.5 2.4l3.5 1.8l3.5 0.9l3.5 -0.1l3.5 -1.3l3.5 -3l3.5 -5.2l3.5 -4.5l3.5 0l3.5 4.6l3.5 7.1l3.5 7l3.5 4.6l3.5 1.8l3.5 0.8l3.5 1.3l3.5 1.2l3.5 -0.2l3.5 -3.1l3.5 -5.7l3.5 -4.7l3.5 -1.9l3.5 -0.3l3.5 0.5l3.5 1.1"/><path d="M236.5 575.7l3.5 1.6l3.5 1l3.5 0.3l3.5 0.7l3.5 2.2l3.5 3.8l3.5 4.6l3.5 3.9l3.5 1.6l3.5 -1.4l3.5 -3.4l3.5 -2.7l3.5 -0.8l3.5 1.2l3.5 3.9l3.5 6.5l3.5 7.3l3.5 5.8l3.5 2.6l3.5 -0.9l3.5 -3.3l3.5 -3.6l3.5 -1.9l3.5 0.4l3.5 1.4l3.5 -0.1l3.5 -1l3.5 0.1l3.5 0.9l3.5 0.6l3.5 -0.3l3.5 -1.6l3.5 -1.9l3.5 -0.2l3.5 2l3.5 2.5l3.5 0.8l3.5 -2.4l3.5 -4.5l3.5 -2.2l3.5 2.5l3.5 5.6l3.5 6.4l3.5 4.9"/><path d="M236.5 586.9l3.5 0.8l3.5 0.3l3.5 -0.5l3.5 -0.6l3.5 -0.3l3.5 -0l3.5 -0.4l3.5 -1.4l3.5 -2.7l3.5 -3.5l3.5 -2.4l3.5 1.3l3.5 5.1l3.5 7.2l3.5 8l3.5 7.6l3.5 5.2l3.5 1.6l3.5 -2l3.5 -4.4l3.5 -4.9l3.5 -3.8l3.5 -1.9l3.5 -0.7l3.5 -1l3.5 -3.1l3.5 -2.9l3.5 1l3.5 5.5l3.5 8.4l3.5 8.9l3.5 6.8l3.5 3.8l3.5 2.2l3.5 1.8l3.5 1l3.5 -1.2l3.5 -5.2l3.5 -9.2l3.5 -9.9l3.5 -8.6l3.5 -7.5l3.5 -5.6l3.5 -2.1"/><path d="M236.5 582.6l3.5 -5.9l3.5 -3l3.5 -0.1l3.5 2.5l3.5 4.1l3.5 4.2l3.5 2.9l3.5 0.7l3.5 -1.5l3.5 -2.8l3.5 -2.2l3.5 0.8l3.5 4.1l3.5 5.8l3.5 7l3.5 7.4l3.5 6.1l3.5 3.1l3.5 -0.9l3.5 -4.9l3.5 -7.6l3.5 -8.2l3.5 -6.4l3.5 -3l3.5 0.4l3.5 2.5l3.5 5.5l3.5 9.7l3.5 11.4l3.5 9.3l3.5 4.2l3.5 -2.4l3.5 -7.5l3.5 -8.5l3.5 -5.8l3.5 -2.2l3.5 0.5l3.5 0.9l3.5 0.1l3.5 0.8l3.5 1.8l3.5 0.4l3.5 -1.7l3.5 -3.2"/><path d="M236.5 576.6l3.5 -2.8l3.5 -1.7l3.5 -0.1l3.5 1.2l3.5 1.5l3.5 0.7l3.5 -0.2l3.5 -0.3l3.5 0.8l3.5 2.6l3.5 4.4l3.5 5.7l3.5 4.5l3.5 0.9l3.5 -2.1l3.5 -2.5l3.5 -0.9l3.5 1.3l3.5 2.7l3.5 2.3l3.5 0.4l3.5 -1.7l3.5 -2.7l3.5 -2l3.5 -0.7l3.5 -0.1l3.5 1.5l3.5 4.5l3.5 5.6l3.5 4.5l3.5 2.1l3.5 -0.6l3.5 -1.9l3.5 -1l3.5 0.5l3.5 0.6l3.5 -1.2l3.5 -4l3.5 -5.2l3.5 -2.1l3.5 2.6l3.5 4.5l3.5 3.4l3.5 0.5"/><path d="M236.5 592.9l3.5 13.6l3.5 10.5l3.5 8l3.5 2.4l3.5 -1.8l3.5 -5.1l3.5 -13l3.5 -14.7l3.5 -4.9l3.5 -3.1l3.5 -0.5l3.5 1.4l3.5 2.4l3.5 2.6l3.5 1.9l3.5 1.1l3.5 0.9l3.5 0.8l3.5 0.7l3.5 0.7l3.5 0.6l3.5 0.6l3.5 0.5l3.5 0.5l3.5 0.4l3.5 0.5l3.5 0.5l3.5 0.6l3.5 0.8l3.5 1.4l3.5 1.7l3.5 1.8l3.5 1.6l3.5 1.2l3.5 0.5l3.5 -0.1l3.5 -0.2l3.5 -0.4l3.5 -0.6l3.5 -0.9l3.5 -1.1l3.5 -1.4l3.5 -1.8l3.5 -2.1"/><path d="M236.5 584.2l3.5 0.1l3.5 0.2l3.5 0.3l3.5 0.4l3.5 0.5l3.5 0.5l3.5 0.6l3.5 0.6l3.5 0.7l3.5 0.9l3.5 1.2l3.5 1.3l3.5 1.4l3.5 1.4l3.5 1.3l3.5 1.2l3.5 1l3.5 0.7l3.5 0.5l3.5 0.4l3.5 0.3l3.5 0.4l3.5 0.6l3.5 0.9l3.5 2.4l3.5 4.3l3.5 4.9l3.5 6.8l3.5 4l3.5 -6.2l3.5 -5.2l3.5 -2.9l3.5 -2.4l3.5 -1.7l3.5 -0.7l3.5 -0l3.5 0l3.5 0.1l3.5 0.2l3.5 0.3l3.5 0.4l3.5 0.6l3.5 0.8l3.5 1"/><path d="M236.5 575.6l3.5 0.7l3.5 0.7l3.5 0.7l3.5 0.7l3.5 0.7l3.5 0.7l3.5 0.7l3.5 0.7l3.5 0.7l3.5 0.7l3.5 0.7l3.5 0.7l3.5 0.7l3.5 0.7l3.5 0.7l3.5 0.7l3.5 0.7l3.5 0.7l3.5 0.7l3.5 0.7l3.5 0.7l3.5 0.7l3.5 0.6l3.5 0.6l3.5 0.6l3.5 0.6l3.5 0.5l3.5 0.5l3.5 0.4l3.5 0.4l3.5 0.4l3.5 0.4l3.5 0.4l3.5 0.4l3.5 0.5l3.5 0.6l3.5 0.7l3.5 0.8l3.5 1l3.5 1.4l3.5 2l3.5 2.9l3.5 8.9l3.5 12.8"/></g>
<clipPath id="c236_636"><rect x="236.5" y="509.8" width="170" height="140"/></clipPath>
<g clip-path="url(#c236_636)"><g fill="none" stroke-width="6.6" stroke-linecap="round" stroke-linejoin="round"><path d="M236.5 574.9l1.6 0.3l1.6 0.4l1.6 0.4" stroke="#ff2a00"/><path d="M241.2 576.1l1.6 0.4l1.6 0.3l1.6 0.1l1.6 0l1.6 -0l1.6 -0.1l1.6 -0.1l1.6 -0.1l1.6 -0.1l1.6 -0.1l1.6 -0.1" stroke="#ff3f00"/><path d="M258.2 576.1l1.6 -0.1l1.6 -0.1l1.6 -0.1l1.6 -0l1.6 0l1.6 0.1l1.6 0.1l1.6 0.2" stroke="#ff2a00"/><path d="M270.7 576.1l1.6 0.3l1.6 0.5" stroke="#ff3f00"/><path d="M273.8 576.9l1.6 0.8" stroke="#ff5500"/><path d="M275.3 577.7l1.6 1.2" stroke="#ff6a00"/><path d="M276.9 578.9l1.6 1.6" stroke="#ff7f00"/><path d="M278.4 580.5l1.6 1.8" stroke="#ff9400"/><path d="M280.0 582.3l1.6 1.8" stroke="#ffbf00"/><path d="M281.5 584.1l1.6 1.6" stroke="#ffe900"/><path d="M283.1 585.7l1.6 1.4" stroke="#ffff00"/><path d="M284.6 587.1l1.6 1.1" stroke="#e9ff15"/><path d="M286.2 588.2l1.6 1" stroke="#d4ff2a"/><path d="M287.7 589.2l1.6 0.9" stroke="#bfff3f"/><path d="M289.3 590.1l1.6 0.8" stroke="#a9ff55"/><path d="M290.9 590.9l1.6 0.8l1.6 0.7" stroke="#94ff6a"/><path d="M294.0 592.4l1.6 0.6l1.6 0.5" stroke="#7fff7f"/><path d="M297.1 593.6l1.6 0.4l1.6 0.3l1.6 0.2l1.6 0l1.6 -0.1l1.6 -0.2l1.6 -0.3l1.6 -0.3" stroke="#6aff94"/><path d="M309.5 593.6l1.6 -0.3l1.6 -0.3l1.6 -0.2l1.6 -0.1l1.6 -0l1.6 0l1.6 0l1.6 -0.1l1.6 -0.3" stroke="#7fff7f"/><path d="M323.5 592.4l1.6 -0.7" stroke="#94ff6a"/><path d="M325.0 591.6l1.6 -1.1" stroke="#a9ff55"/><path d="M326.6 590.5l1.6 -1.2" stroke="#bfff3f"/><path d="M328.1 589.3l1.6 -1l1.6 -0.4" stroke="#d4ff2a"/><path d="M331.2 587.9l1.6 0.3" stroke="#e9ff15"/><path d="M332.8 588.2l1.6 1.1" stroke="#d4ff2a"/><path d="M334.3 589.3l1.6 1.7" stroke="#bfff3f"/><path d="M335.9 591.0l1.6 2.1" stroke="#94ff6a"/><path d="M337.4 593.1l1.6 2.4" stroke="#6aff94"/><path d="M339.0 595.5l1.6 2.4" stroke="#2affd4"/><path d="M340.6 598.0l1.6 2.3" stroke="#00ffff"/><path d="M342.1 600.2l1.6 2" stroke="#00d4ff"/><path d="M343.7 602.2l1.6 1.5" stroke="#00bfff"/><path d="M345.2 603.7l1.6 0.8" stroke="#00aaff"/><path d="M346.8 604.5l1.6 0.2l1.6 -0.3" stroke="#0094ff"/><path d="M349.9 604.4l1.6 -0.7l1.6 -0.7" stroke="#00aaff"/><path d="M353.0 603.0l1.6 -0.6l1.6 -0.3" stroke="#00bfff"/><path d="M356.1 602.1l1.6 0.1" stroke="#00d4ff"/><path d="M357.6 602.2l1.6 0.4l1.6 0.6" stroke="#00bfff"/><path d="M360.7 603.2l1.6 0.7l1.6 0.6" stroke="#00aaff"/><path d="M363.8 604.4l1.6 0.3l1.6 -0.1" stroke="#0094ff"/><path d="M367.0 604.6l1.6 -0.7" stroke="#00aaff"/><path d="M368.5 603.9l1.6 -1.4" stroke="#00bfff"/><path d="M370.1 602.5l1.6 -1.8" stroke="#00d4ff"/><path d="M371.6 600.7l1.6 -2" stroke="#00ffff"/><path d="M373.2 598.7l1.6 -1.7" stroke="#15ffe9"/><path d="M374.7 597.0l1.6 -1.3" stroke="#3fffbf"/><path d="M376.3 595.7l1.6 -0.8l1.6 -0.4" stroke="#54ffaa"/><path d="M379.4 594.5l1.6 -0.2l1.6 -0.1l1.6 -0.1l1.6 -0.1l1.6 -0.1l1.6 -0l1.6 -0" stroke="#6aff94"/></g></g>
<path d="M236.5 514.8V636.3H390.2" fill="none" stroke="#3a3a3a" stroke-width="1"/><path d="M250.5 636.3v-2M266 636.3v-2M281.5 636.3v-2M297.1 636.3v-2M312.6 636.3v-2M328.1 636.3v-2M343.7 636.3v-2M359.2 636.3v-2M374.7 636.3v-2M390.2 636.3v-2M236.5 618.9h2M236.5 601.6h2M236.5 584.2h2M236.5 566.9h2M236.5 549.5h2M236.5 532.2h2" stroke="#3a3a3a" stroke-width="0.8"/>
<g font-family="'Liberation Serif', serif" font-size="8.3" fill="#555" text-anchor="middle"><text x="250.5" y="645">10</text><text x="266" y="645">20</text><text x="281.5" y="645">30</text><text x="297.1" y="645">40</text><text x="312.6" y="645">50</text><text x="328.1" y="645">60</text><text x="343.7" y="645">70</text><text x="359.2" y="645">80</text><text x="374.7" y="645">90</text><text x="390.2" y="645">100</text></g>
<text x="310.4" y="524.9" font-family="'Liberation Serif', serif" font-size="14.6" fill="#111" textLength="30.8" lengthAdjust="spacingAndGlyphs">Right</text>
<text x="313.4" y="657.1" text-anchor="middle" font-family="'Liberation Serif', serif" font-size="11.8" fill="#222">Location</text>
<clipPath id="g453_636"><rect x="453.6" y="513.8" width="160" height="122.0"/></clipPath>
<g clip-path="url(#g453_636)" fill="none" stroke="#9d9d9d" stroke-width="1.1" stroke-linejoin="round"><path d="M453.6 592.3l3.5 -0.7l3.5 -0.3l3.5 1l3.5 2.1l3.5 1.9l3.5 0.5l3.5 -1.1l3.5 -2.3l3.5 -3.1l3.5 -3.8l3.5 -5.1l3.5 -7.7l3.5 -10.3l3.5 -9.3l3.5 -6.9l3.5 -5l3.5 -2.4l3.5 0.4l3.5 2.1l3.5 2.1l3.5 0.9l3.5 -1l3.5 -2.3l3.5 -2l3.5 -0.3l3.5 2.9l3.5 6.4l3.5 8.2l3.5 8l3.5 7.3l3.5 5.3l3.5 1.7l3.5 -0.2l3.5 -0.2l3.5 0.8l3.5 2.3l3.5 3.1l3.5 2.5l3.5 0.6l3.5 -1.2l3.5 -2l3.5 -1.8l3.5 -0.8l3.5 0.2"/><path d="M453.6 603.1l3.5 1.9l3.5 0.3l3.5 -1.1l3.5 -2.6l3.5 -4.3l3.5 -5.5l3.5 -5.2l3.5 -3l3.5 -0l3.5 2.4l3.5 2.8l3.5 -0.2l3.5 -5.1l3.5 -7.6l3.5 -8.9l3.5 -9.7l3.5 -8.3l3.5 -4.7l3.5 -0.8l3.5 2.1l3.5 3.3l3.5 2.8l3.5 1.2l3.5 -0.3l3.5 -0.9l3.5 -0l3.5 2.3l3.5 4.4l3.5 5.8l3.5 7.5l3.5 7.9l3.5 5.6l3.5 3.6l3.5 2l3.5 0.5l3.5 -0.7l3.5 -1.6l3.5 -2.4l3.5 -2.7l3.5 -1.5l3.5 1.1l3.5 4.1l3.5 6.5l3.5 7"/><path d="M453.6 587.6l3.5 -2.8l3.5 -0.6l3.5 2.3l3.5 4.5l3.5 4.6l3.5 2.9l3.5 0.4l3.5 -1.9l3.5 -3.8l3.5 -5.4l3.5 -7.2l3.5 -9.8l3.5 -12l3.5 -10.4l3.5 -7.2l3.5 -4.4l3.5 -1.1l3.5 2.2l3.5 4l3.5 3.8l3.5 2l3.5 -0.7l3.5 -2.8l3.5 -3.3l3.5 -1.8l3.5 1.5l3.5 5.5l3.5 8.1l3.5 8.5l3.5 8.1l3.5 6l3.5 1.8l3.5 -0.9l3.5 -1.4l3.5 -0.5l3.5 1.6l3.5 3.6l3.5 4.5l3.5 4l3.5 3.1l3.5 2l3.5 0.7l3.5 -0.7l3.5 -2.4"/><path d="M453.6 600.9l3.5 2.5l3.5 -2.4l3.5 -5.7l3.5 -6.6l3.5 -5.5l3.5 -2.7l3.5 0.9l3.5 4l3.5 5.1l3.5 3.1l3.5 -1.7l3.5 -8.5l3.5 -14.3l3.5 -14.4l3.5 -10.6l3.5 -5.6l3.5 0l3.5 4.8l3.5 6.3l3.5 4.4l3.5 0.3l3.5 -4.3l3.5 -7l3.5 -6.5l3.5 -3.1l3.5 2.3l3.5 7.6l3.5 10.1l3.5 9.4l3.5 7.4l3.5 4.1l3.5 -0.3l3.5 -2.1l3.5 -1.1l3.5 1.2l3.5 3.9l3.5 5.6l3.5 5.1l3.5 3l3.5 0.8l3.5 -0.6l3.5 -0.9l3.5 -0.7l3.5 -0.5"/><path d="M453.6 590.0l3.5 -1l3.5 1.1l3.5 2.9l3.5 3.1l3.5 1.3l3.5 -1.6l3.5 -3.6l3.5 -3.9l3.5 -2.5l3.5 -0.7l3.5 -0l3.5 -2.2l3.5 -6.1l3.5 -7.8l3.5 -8.4l3.5 -8.6l3.5 -6.6l3.5 -2.7l3.5 1.2l3.5 3.5l3.5 3.5l3.5 1.3l3.5 -1.9l3.5 -4.1l3.5 -4.2l3.5 -1.5l3.5 3.3l3.5 7.9l3.5 10.7l3.5 12.3l3.5 11l3.5 6.3l3.5 2.2l3.5 -0.2l3.5 -0.7l3.5 0.6l3.5 2.5l3.5 3.5l3.5 2.8l3.5 1.1l3.5 -1.1l3.5 -3.2l3.5 -4.6l3.5 -5.2"/><path d="M453.6 590.5l3.5 -1.5l3.5 -1.9l3.5 -1.4l3.5 -0.9l3.5 -1.2l3.5 -2.1l3.5 -2.7l3.5 -2.6l3.5 -2l3.5 -1.5l3.5 -2l3.5 -4.3l3.5 -7.3l3.5 -7.2l3.5 -5.9l3.5 -5.1l3.5 -3.4l3.5 -1.1l3.5 0.5l3.5 0.8l3.5 0.1l3.5 -1.2l3.5 -2.1l3.5 -1.9l3.5 -0.3l3.5 2.4l3.5 5.5l3.5 7.1l3.5 7l3.5 6.6l3.5 5.2l3.5 2l3.5 0.4l3.5 0.5l3.5 1.4l3.5 2.5l3.5 3.2l3.5 2.7l3.5 1.2l3.5 0.2l3.5 0.2l3.5 0.8l3.5 1.6l3.5 1.7"/><path d="M453.6 582.2l3.5 1.9l3.5 3.1l3.5 4.4l3.5 4.8l3.5 3.2l3.5 0.1l3.5 -3l3.5 -5.2l3.5 -6.3l3.5 -6.5l3.5 -6.8l3.5 -8l3.5 -9.4l3.5 -7.6l3.5 -4.8l3.5 -2.8l3.5 -0.4l3.5 2.4l3.5 4l3.5 4l3.5 2.4l3.5 -0.3l3.5 -3l3.5 -4.6l3.5 -4.6l3.5 -2.6l3.5 0.8l3.5 3.9l3.5 6l3.5 8.2l3.5 9.1l3.5 7.3l3.5 5.8l3.5 4.9l3.5 3.9l3.5 3l3.5 1.8l3.5 -0.1l3.5 -2.3l3.5 -3.6l3.5 -3.5l3.5 -2.6l3.5 -1.3l3.5 -0.3"/><path d="M453.6 588.5l3.5 0.6l3.5 0.8l3.5 1.3l3.5 1.3l3.5 0.1l3.5 -1.7l3.5 -3l3.5 -3.2l3.5 -2.5l3.5 -1.8l3.5 -2.2l3.5 -4.7l3.5 -8l3.5 -8.4l3.5 -7.4l3.5 -6.6l3.5 -4.4l3.5 -1.2l3.5 1.5l3.5 2.7l3.5 2.3l3.5 0.5l3.5 -1.4l3.5 -2.5l3.5 -2.1l3.5 -0l3.5 3.2l3.5 5.7l3.5 6.8l3.5 7.7l3.5 7.3l3.5 4.5l3.5 2.5l3.5 1.8l3.5 1.6l3.5 2l3.5 2.2l3.5 1.6l3.5 0.4l3.5 -0.4l3.5 -0.3l3.5 0.4l3.5 1l3.5 1"/><path d="M453.6 589.3l3.5 2.5l3.5 2.4l3.5 2.5l3.5 2l3.5 0l3.5 -2.7l3.5 -5l3.5 -6.1l3.5 -6l3.5 -5.5l3.5 -5.5l3.5 -6.9l3.5 -8.7l3.5 -7.4l3.5 -4.9l3.5 -2.9l3.5 -0.2l3.5 2.7l3.5 4.5l3.5 4.5l3.5 2.8l3.5 -0.1l3.5 -2.9l3.5 -4.3l3.5 -4l3.5 -1.8l3.5 1.6l3.5 4.3l3.5 5.7l3.5 6.8l3.5 6.6l3.5 4.2l3.5 2.8l3.5 2.6l3.5 2.9l3.5 3.5l3.5 3.7l3.5 2.7l3.5 1l3.5 -0.3l3.5 -0.7l3.5 -0.5l3.5 0l3.5 0.2"/><path d="M453.6 590.6l3.5 0.7l3.5 2.7l3.5 5.1l3.5 6.3l3.5 4.8l3.5 1l3.5 -3.6l3.5 -7.5l3.5 -9.7l3.5 -10.2l3.5 -9.4l3.5 -8.8l3.5 -7.9l3.5 -4.3l3.5 -0.8l3.5 0.5l3.5 1.3l3.5 1.8l3.5 1.5l3.5 0.7l3.5 -0.4l3.5 -1.4l3.5 -1.9l3.5 -1.5l3.5 -0.6l3.5 0.9l3.5 2.7l3.5 3.4l3.5 3.4l3.5 4.2l3.5 4.8l3.5 3.8l3.5 3.8l3.5 4.4l3.5 4.5l3.5 4l3.5 2.8l3.5 0.8l3.5 -1l3.5 -1.3l3.5 0.1l3.5 2.2l3.5 3.8l3.5 3.6"/><path d="M453.6 589.9l3.5 2.6l3.5 0.3l3.5 -1.4l3.5 -2.5l3.5 -3.6l3.5 -4.3l3.5 -3.9l3.5 -2.6l3.5 -1l3.5 -0.1l3.5 -0.9l3.5 -3.9l3.5 -7.6l3.5 -7.8l3.5 -6.4l3.5 -5.2l3.5 -3.1l3.5 -0.7l3.5 0.5l3.5 0l3.5 -1.6l3.5 -3.5l3.5 -4.3l3.5 -3.1l3.5 0.1l3.5 4.6l3.5 8.9l3.5 10.8l3.5 9.7l3.5 7.3l3.5 3.6l3.5 -1.3l3.5 -3.7l3.5 -3l3.5 -0.4l3.5 3.2l3.5 6l3.5 6.6l3.5 5.1l3.5 2.8l3.5 0.8l3.5 -0.6l3.5 -1.1l3.5 -1.2"/><path d="M453.6 599.4l3.5 0.7l3.5 -0.6l3.5 -1.1l3.5 -1.1l3.5 -1.7l3.5 -2.5l3.5 -2.7l3.5 -2.3l3.5 -1.5l3.5 -1.4l3.5 -2.7l3.5 -6l3.5 -9.7l3.5 -10l3.5 -8.4l3.5 -6.6l3.5 -3.4l3.5 0.5l3.5 3.3l3.5 4.2l3.5 3l3.5 0.4l3.5 -2.4l3.5 -3.8l3.5 -3.4l3.5 -0.8l3.5 3.2l3.5 6.6l3.5 8.5l3.5 9.8l3.5 9.2l3.5 5.8l3.5 2.8l3.5 0.9l3.5 -0.3l3.5 -0.6l3.5 -0.5l3.5 -0.6l3.5 -0.9l3.5 -0.5l3.5 0.6l3.5 1.8l3.5 2.4l3.5 1.9"/><path d="M453.6 599.7l3.5 -1.8l3.5 -1.8l3.5 -1.1l3.5 -0.5l3.5 -0.9l3.5 -2.1l3.5 -2.9l3.5 -2.9l3.5 -2.3l3.5 -1.8l3.5 -2.4l3.5 -4.9l3.5 -8.1l3.5 -8.2l3.5 -7l3.5 -6.1l3.5 -4l3.5 -1l3.5 1.2l3.5 2l3.5 1.4l3.5 -0.3l3.5 -1.9l3.5 -2.4l3.5 -1.4l3.5 1.2l3.5 4.7l3.5 7l3.5 7.8l3.5 8.3l3.5 7.3l3.5 4.1l3.5 1.9l3.5 1.2l3.5 1.2l3.5 1.7l3.5 2.1l3.5 1.6l3.5 0.4l3.5 -0.2l3.5 0.1l3.5 1l3.5 2.1l3.5 2.5"/><path d="M453.6 578.6l3.5 -0.1l3.5 0.8l3.5 2.1l3.5 2.9l3.5 2.4l3.5 0.8l3.5 -0.6l3.5 -1.4l3.5 -1.5l3.5 -1.6l3.5 -2.7l3.5 -5.7l3.5 -9.2l3.5 -9.4l3.5 -8.3l3.5 -7.4l3.5 -5.3l3.5 -2.3l3.5 -0l3.5 0.9l3.5 0.5l3.5 -1l3.5 -2.4l3.5 -2.7l3.5 -1.5l3.5 1.1l3.5 4.7l3.5 7.1l3.5 7.8l3.5 8.2l3.5 7.2l3.5 4l3.5 1.9l3.5 1.1l3.5 1.1l3.5 1.6l3.5 1.9l3.5 1.3l3.5 -0l3.5 -0.9l3.5 -0.8l3.5 0.1l3.5 1.2l3.5 1.8"/><path d="M453.6 599.3l3.5 0.7l3.5 0.6l3.5 1.3l3.5 1.8l3.5 1.2l3.5 -0.3l3.5 -1.8l3.5 -2.6l3.5 -2.9l3.5 -3.3l3.5 -4.4l3.5 -7l3.5 -9.8l3.5 -9.2l3.5 -7.3l3.5 -5.8l3.5 -3.6l3.5 -1l3.5 0.5l3.5 0.5l3.5 -0.7l3.5 -2.5l3.5 -3.5l3.5 -3l3.5 -0.8l3.5 2.8l3.5 6.7l3.5 9l3.5 8.9l3.5 8.1l3.5 6l3.5 2.2l3.5 0.2l3.5 0.5l3.5 2.1l3.5 4.3l3.5 5.9l3.5 5.7l3.5 3.7l3.5 1.2l3.5 -0.9l3.5 -2.4l3.5 -3.1l3.5 -3.2"/><path d="M453.6 589.1l3.5 0.5l3.5 0.9l3.5 1.5l3.5 1.3l3.5 -0.1l3.5 -2.4l3.5 -4l3.5 -4.4l3.5 -3.6l3.5 -2.4l3.5 -1.8l3.5 -3.1l3.5 -5.3l3.5 -4.7l3.5 -3.4l3.5 -2.9l3.5 -1.8l3.5 -0.2l3.5 0.7l3.5 0.3l3.5 -1.1l3.5 -3l3.5 -4.5l3.5 -4.5l3.5 -2.9l3.5 0.2l3.5 3.9l3.5 6.3l3.5 6.9l3.5 6.9l3.5 5.7l3.5 2.4l3.5 0.6l3.5 0.6l3.5 1.6l3.5 3.4l3.5 4.9l3.5 5.2l3.5 4.3l3.5 3.3l3.5 2.5l3.5 1.8l3.5 1.1l3.5 -0.1"/><path d="M453.6 590.4l3.5 -1.9l3.5 -2.8l3.5 -2.3l3.5 -1.3l3.5 -0.7l3.5 -0.6l3.5 -0.3l3.5 0.3l3.5 0.5l3.5 -0.2l3.5 -2.5l3.5 -6.8l3.5 -11.3l3.5 -11.7l3.5 -9.8l3.5 -7l3.5 -2.8l3.5 2.1l3.5 5.5l3.5 6.2l3.5 4.4l3.5 0.6l3.5 -3.3l3.5 -5.7l3.5 -5.5l3.5 -2.5l3.5 2.4l3.5 6.8l3.5 9.4l3.5 11l3.5 10l3.5 5.8l3.5 1.9l3.5 -0.5l3.5 -1.8l3.5 -1.4l3.5 -0.3l3.5 0.8l3.5 1.3l3.5 2l3.5 2.6l3.5 2.8l3.5 2.3l3.5 0.9"/><path d="M453.6 602.1l3.5 0l3.5 0.3l3.5 0.8l3.5 0.8l3.5 -0.5l3.5 -2.4l3.5 -3.8l3.5 -4.1l3.5 -3.4l3.5 -2.7l3.5 -2.9l3.5 -5.1l3.5 -8.2l3.5 -8.4l3.5 -7.3l3.5 -6.5l3.5 -4.4l3.5 -1.3l3.5 1.3l3.5 2.5l3.5 2.2l3.5 0.7l3.5 -1l3.5 -1.9l3.5 -1.5l3.5 0.4l3.5 3.4l3.5 5.7l3.5 6.6l3.5 7.5l3.5 7.2l3.5 4.6l3.5 2.9l3.5 2.3l3.5 2.2l3.5 2.5l3.5 2.5l3.5 1.7l3.5 0.4l3.5 -0.3l3.5 -0l3.5 0.8l3.5 1.8l3.5 1.9"/><path d="M453.6 586.8l3.5 -2.3l3.5 -1.6l3.5 0.3l3.5 2.3l3.5 2.6l3.5 1.1l3.5 -1.2l3.5 -3.2l3.5 -4.4l3.5 -4.8l3.5 -5l3.5 -5.9l3.5 -7.1l3.5 -5.7l3.5 -4l3.5 -3.9l3.5 -3.5l3.5 -2.3l3.5 -1.1l3.5 -0.1l3.5 0.6l3.5 0.7l3.5 0.5l3.5 0.2l3.5 0.2l3.5 0.8l3.5 2.3l3.5 3.4l3.5 4.2l3.5 5.9l3.5 6.8l3.5 5.4l3.5 4l3.5 3.1l3.5 2l3.5 1.2l3.5 0.7l3.5 0.2l3.5 -0.2l3.5 0.1l3.5 1.1l3.5 1.8l3.5 1.9l3.5 0.9"/><path d="M453.6 585.7l3.5 -0.8l3.5 -0.3l3.5 0.7l3.5 1.5l3.5 1l3.5 -0.4l3.5 -1.5l3.5 -1.9l3.5 -1.5l3.5 -1.3l3.5 -2l3.5 -4.6l3.5 -7.9l3.5 -8.1l3.5 -6.9l3.5 -6.1l3.5 -4.1l3.5 -1.3l3.5 0.7l3.5 1.4l3.5 0.7l3.5 -1l3.5 -2.6l3.5 -3.1l3.5 -2l3.5 0.6l3.5 4.1l3.5 6.5l3.5 7.3l3.5 7.7l3.5 6.8l3.5 3.6l3.5 1.5l3.5 0.8l3.5 0.8l3.5 1.3l3.5 1.5l3.5 0.8l3.5 -0.6l3.5 -1.5l3.5 -1.6l3.5 -0.9l3.5 0.1l3.5 0.6"/><path d="M453.6 604.5l3.5 -4l3.5 -4.4l3.5 -2.3l3.5 0.9l3.5 3.2l3.5 3.8l3.5 2.8l3.5 0.7l3.5 -2l3.5 -4.8l3.5 -7.4l3.5 -9.9l3.5 -11.1l3.5 -8l3.5 -3.8l3.5 -1.1l3.5 0.7l3.5 1.4l3.5 0.5l3.5 -1.6l3.5 -3.6l3.5 -4.8l3.5 -4.2l3.5 -1.8l3.5 1.5l3.5 4.8l3.5 7l3.5 6.7l3.5 4.5l3.5 2.8l3.5 1.6l3.5 0.1l3.5 1.1l3.5 3.7l3.5 6l3.5 7l3.5 5.8l3.5 2.4l3.5 -1.7l3.5 -4.3l3.5 -4.1l3.5 -1.6l3.5 2l3.5 4.9"/><path d="M453.6 591.7l3.5 4l3.5 3.6l3.5 2.2l3.5 -0.2l3.5 -3.3l3.5 -5.8l3.5 -6.3l3.5 -4.6l3.5 -1.8l3.5 0.3l3.5 -0l3.5 -3.8l3.5 -9.2l3.5 -11.5l3.5 -11.4l3.5 -9.8l3.5 -5.4l3.5 0.6l3.5 5.7l3.5 8l3.5 7l3.5 3.1l3.5 -1.5l3.5 -4.9l3.5 -5.5l3.5 -2.7l3.5 2.5l3.5 7.2l3.5 9.9l3.5 10.9l3.5 8.9l3.5 3.4l3.5 -1.2l3.5 -3.5l3.5 -3.4l3.5 -1.1l3.5 2.2l3.5 4.6l3.5 5.2l3.5 4.6l3.5 3l3.5 1.1l3.5 -0.7l3.5 -1.7"/><path d="M453.6 577.7l3.5 0.1l3.5 2.3l3.5 4.2l3.5 4.5l3.5 2.5l3.5 -1.2l3.5 -4.7l3.5 -6.7l3.5 -6.9l3.5 -5.7l3.5 -4.4l3.5 -4.4l3.5 -5.1l3.5 -3.5l3.5 -1.9l3.5 -1.9l3.5 -1.7l3.5 -1.1l3.5 -0.9l3.5 -1.1l3.5 -1.5l3.5 -2l3.5 -1.8l3.5 -0.5l3.5 1.5l3.5 4l3.5 6.3l3.5 6.8l3.5 5.5l3.5 4.3l3.5 2.8l3.5 0.2l3.5 -0.3l3.5 1.1l3.5 3l3.5 4.7l3.5 5.1l3.5 3.5l3.5 0.4l3.5 -2.3l3.5 -3.7l3.5 -3.4l3.5 -1.8l3.5 0.2"/><path d="M453.6 589.1l3.5 1.5l3.5 1.9l3.5 2.5l3.5 2.5l3.5 0.9l3.5 -1.5l3.5 -3.6l3.5 -4.6l3.5 -4.7l3.5 -4.4l3.5 -4.6l3.5 -6.4l3.5 -8.6l3.5 -7.6l3.5 -5.4l3.5 -3.7l3.5 -1.2l3.5 1.6l3.5 3.4l3.5 3.4l3.5 1.7l3.5 -1l3.5 -3.7l3.5 -4.9l3.5 -4.4l3.5 -1.9l3.5 1.9l3.5 4.9l3.5 6.6l3.5 8.1l3.5 8.2l3.5 5.9l3.5 4.5l3.5 4.1l3.5 4l3.5 4.1l3.5 3.7l3.5 2.1l3.5 -0.1l3.5 -1.8l3.5 -2.4l3.5 -2l3.5 -1.1l3.5 -0.4"/><path d="M453.6 592.7l3.5 3.7l3.5 3l3.5 2.1l3.5 0.4l3.5 -2.2l3.5 -5.1l3.5 -6.6l3.5 -6.3l3.5 -4.4l3.5 -2.1l3.5 -0.8l3.5 -2l3.5 -4.7l3.5 -5.1l3.5 -5.1l3.5 -5.7l3.5 -5.1l3.5 -3.1l3.5 -1.1l3.5 0.2l3.5 0.7l3.5 0.3l3.5 -0.3l3.5 -0.4l3.5 0.3l3.5 1.9l3.5 4l3.5 5.2l3.5 5.3l3.5 5.7l3.5 5.4l3.5 3.5l3.5 2.8l3.5 3.1l3.5 3.5l3.5 3.6l3.5 2.8l3.5 0.7l3.5 -1.9l3.5 -3.6l3.5 -3.4l3.5 -1.7l3.5 0.9l3.5 3.2"/><path d="M453.6 601.5l3.5 -6.3l3.5 -6.8l3.5 -4.8l3.5 -1.6l3.5 1l3.5 2.4l3.5 2.9l3.5 2.8l3.5 2l3.5 0.3l3.5 -2.7l3.5 -7.2l3.5 -11.7l3.5 -12.3l3.5 -10.9l3.5 -9l3.5 -5.5l3.5 -0.8l3.5 3.3l3.5 5.8l3.5 6.1l3.5 4.4l3.5 1.5l3.5 -1.2l3.5 -3.1l3.5 -3.1l3.5 -1.1l3.5 1.5l3.5 4l3.5 7.3l3.5 9.4l3.5 8.4l3.5 6.7l3.5 4.6l3.5 2l3.5 -0.5l3.5 -2.4l3.5 -3.6l3.5 -3.5l3.5 -1.6l3.5 1.6l3.5 4.7l3.5 6.4l3.5 5.7"/><path d="M453.6 587.5l3.5 -2.1l3.5 -1l3.5 0.9l3.5 2.3l3.5 2l3.5 0.1l3.5 -2.2l3.5 -3.9l3.5 -4.6l3.5 -4.7l3.5 -4.8l3.5 -6l3.5 -7.7l3.5 -6.4l3.5 -4.7l3.5 -4l3.5 -3l3.5 -1.3l3.5 0.1l3.5 0.6l3.5 0.5l3.5 -0.2l3.5 -0.9l3.5 -0.8l3.5 -0l3.5 1.9l3.5 4.3l3.5 5.9l3.5 6.4l3.5 7.1l3.5 6.9l3.5 4.7l3.5 3.2l3.5 2.7l3.5 2.5l3.5 2.6l3.5 2.5l3.5 1.9l3.5 1l3.5 0.7l3.5 1.2l3.5 1.8l3.5 2l3.5 1.2"/><path d="M453.6 583.2l3.5 1.1l3.5 2.6l3.5 4.2l3.5 4.8l3.5 3.6l3.5 1.3l3.5 -0.9l3.5 -2.2l3.5 -2.5l3.5 -2.5l3.5 -3l3.5 -5.2l3.5 -8l3.5 -7.8l3.5 -6.5l3.5 -5.7l3.5 -4l3.5 -1.7l3.5 0l3.5 0.5l3.5 -0.2l3.5 -1.7l3.5 -2.9l3.5 -3l3.5 -1.7l3.5 0.9l3.5 4.1l3.5 6.1l3.5 6.3l3.5 6.4l3.5 5.4l3.5 2.7l3.5 1.5l3.5 2.1l3.5 3.5l3.5 5.3l3.5 6.4l3.5 6l3.5 4.1l3.5 2l3.5 0.4l3.5 -0.7l3.5 -1.3l3.5 -1.9"/><path d="M453.6 591.2l3.5 -1.6l3.5 -0.2l3.5 1.7l3.5 3l3.5 2.6l3.5 0.8l3.5 -1.1l3.5 -2.5l3.5 -3.3l3.5 -4l3.5 -5.1l3.5 -7.6l3.5 -10.2l3.5 -9.2l3.5 -6.6l3.5 -4.2l3.5 -1.1l3.5 2.4l3.5 4.5l3.5 4.6l3.5 2.8l3.5 -0.3l3.5 -3.3l3.5 -4.9l3.5 -4.6l3.5 -2.2l3.5 1.7l3.5 5l3.5 6.8l3.5 8.4l3.5 8.3l3.5 5.6l3.5 3.6l3.5 2.6l3.5 2l3.5 1.8l3.5 1.5l3.5 0.6l3.5 -0.7l3.5 -1.2l3.5 -0.5l3.5 0.8l3.5 2.3l3.5 2.9"/><path d="M453.6 591.2l3.5 0.8l3.5 2.9l3.5 4.6l3.5 5l3.5 3.3l3.5 0.1l3.5 -3l3.5 -4.9l3.5 -5.3l3.5 -4.9l3.5 -4.7l3.5 -5.8l3.5 -7.5l3.5 -6.5l3.5 -4.8l3.5 -4l3.5 -2.6l3.5 -0.6l3.5 0.7l3.5 1l3.5 0.4l3.5 -0.8l3.5 -1.8l3.5 -1.9l3.5 -0.9l3.5 1.2l3.5 3.8l3.5 5.1l3.5 5l3.5 5.1l3.5 4.6l3.5 2.6l3.5 2.1l3.5 3l3.5 4.3l3.5 5.4l3.5 5.3l3.5 3.5l3.5 0.5l3.5 -2.1l3.5 -3.4l3.5 -3.2l3.5 -1.8l3.5 -0.2"/><path d="M453.6 601.5l3.5 -6.8l3.5 -7l3.5 -4.4l3.5 -0.7l3.5 1.8l3.5 2.4l3.5 1.5l3.5 -0.1l3.5 -1.6l3.5 -2.9l3.5 -4.1l3.5 -6.1l3.5 -8.1l3.5 -6.9l3.5 -5.1l3.5 -4.3l3.5 -3.1l3.5 -1.2l3.5 0.1l3.5 0.4l3.5 -0.5l3.5 -2.4l3.5 -4.3l3.5 -5.1l3.5 -4.3l3.5 -1.2l3.5 3.5l3.5 7.7l3.5 10.3l3.5 11.7l3.5 10.5l3.5 5.9l3.5 1.7l3.5 -0.6l3.5 -1l3.5 0.7l3.5 3.3l3.5 5l3.5 4.8l3.5 3l3.5 0.1l3.5 -3.2l3.5 -5.6l3.5 -6.4"/><path d="M453.6 588.8l3.5 2.1l3.5 2l3.5 1.7l3.5 0.6l3.5 -1.9l3.5 -4.7l3.5 -6.4l3.5 -6.1l3.5 -4.1l3.5 -1.4l3.5 0.4l3.5 -0.3l3.5 -2.9l3.5 -3.8l3.5 -4.7l3.5 -6.7l3.5 -7.5l3.5 -6.7l3.5 -5l3.5 -3l3.5 -0.8l3.5 1l3.5 2.8l3.5 4.5l3.5 5.7l3.5 6.5l3.5 6.6l3.5 4.9l3.5 2l3.5 0.3l3.5 -0.7l3.5 -1.8l3.5 -0.3l3.5 3.1l3.5 6.5l3.5 8.7l3.5 8.6l3.5 5.7l3.5 0.9l3.5 -3.4l3.5 -5.8l3.5 -5.8l3.5 -3.7l3.5 -0.6"/><path d="M453.6 582.3l3.5 -0.5l3.5 1.7l3.5 4.1l3.5 5.5l3.5 4.8l3.5 2.5l3.5 -0.2l3.5 -2.4l3.5 -3.7l3.5 -4.5l3.5 -5.5l3.5 -7.5l3.5 -9.4l3.5 -7.8l3.5 -5.1l3.5 -3l3.5 -0.6l3.5 1.7l3.5 2.6l3.5 1.6l3.5 -0.9l3.5 -4l3.5 -6.3l3.5 -6.7l3.5 -4.8l3.5 -0.8l3.5 4.3l3.5 8l3.5 9.7l3.5 10.3l3.5 8.8l3.5 4.7l3.5 1.4l3.5 -0.3l3.5 -0.7l3.5 0.2l3.5 1.4l3.5 2.2l3.5 2.5l3.5 2.9l3.5 3.7l3.5 4.2l3.5 4.1l3.5 2.8"/><path d="M453.6 598.0l3.5 -1.2l3.5 -1.5l3.5 -0.9l3.5 -0.1l3.5 0l3.5 -0.4l3.5 -0.7l3.5 -0.4l3.5 -0.2l3.5 -0.6l3.5 -2.5l3.5 -6.4l3.5 -10.9l3.5 -11.6l3.5 -10.3l3.5 -8.4l3.5 -4.8l3.5 -0.1l3.5 3.6l3.5 5.4l3.5 5l3.5 2.7l3.5 -0.1l3.5 -2.1l3.5 -2.5l3.5 -0.9l3.5 2.1l3.5 4.7l3.5 6.1l3.5 7.2l3.5 7l3.5 4.2l3.5 2.1l3.5 1.2l3.5 1l3.5 1.4l3.5 2l3.5 1.8l3.5 1.2l3.5 1l3.5 1.4l3.5 2l3.5 2.2l3.5 1.3"/><path d="M453.6 590.3l3.5 -0.1l3.5 0.3l3.5 1.1l3.5 1.6l3.5 0.8l3.5 -0.9l3.5 -2.3l3.5 -2.8l3.5 -2.6l3.5 -2.3l3.5 -2.9l3.5 -5.3l3.5 -8.2l3.5 -7.9l3.5 -6.3l3.5 -5l3.5 -2.6l3.5 0.5l3.5 2.8l3.5 3.6l3.5 2.8l3.5 1l3.5 -0.9l3.5 -1.7l3.5 -1.1l3.5 1.1l3.5 4.1l3.5 6.1l3.5 6.5l3.5 6.7l3.5 5.5l3.5 2.3l3.5 0.2l3.5 -0.5l3.5 -0.3l3.5 0.4l3.5 0.9l3.5 0.4l3.5 -0.8l3.5 -1.5l3.5 -1.4l3.5 -0.6l3.5 0.5l3.5 1.1"/><path d="M453.6 596.0l3.5 -3.5l3.5 -2.2l3.5 -0l3.5 1.7l3.5 1.8l3.5 0.3l3.5 -1.4l3.5 -2.8l3.5 -3.5l3.5 -4l3.5 -5l3.5 -7.2l3.5 -9.5l3.5 -8.4l3.5 -5.9l3.5 -3.8l3.5 -1.1l3.5 1.9l3.5 3.7l3.5 3.8l3.5 2.2l3.5 -0.3l3.5 -2.5l3.5 -3.1l3.5 -1.9l3.5 1.2l3.5 5.2l3.5 8l3.5 8.8l3.5 8.6l3.5 6.7l3.5 2.3l3.5 -1l3.5 -2.3l3.5 -2.2l3.5 -0.9l3.5 0.8l3.5 1.7l3.5 1.7l3.5 1.4l3.5 1.2l3.5 0.8l3.5 0.3l3.5 -0.7"/><path d="M453.6 588.6l3.5 -1.3l3.5 -0.3l3.5 1.2l3.5 2.1l3.5 1.5l3.5 -0.3l3.5 -2.2l3.5 -3.4l3.5 -3.8l3.5 -3.9l3.5 -4.5l3.5 -6.5l3.5 -8.7l3.5 -7.6l3.5 -5.4l3.5 -3.8l3.5 -1.5l3.5 1.2l3.5 2.7l3.5 2.8l3.5 1.5l3.5 -0.7l3.5 -2.4l3.5 -2.8l3.5 -1.6l3.5 1.2l3.5 4.7l3.5 7l3.5 7.6l3.5 7.8l3.5 6.7l3.5 3.5l3.5 1.4l3.5 0.9l3.5 1.1l3.5 1.8l3.5 2l3.5 1.2l3.5 -0.4l3.5 -1.5l3.5 -1.6l3.5 -0.8l3.5 0.4l3.5 1.2"/><path d="M453.6 591.3l3.5 0.4l3.5 1.9l3.5 3.1l3.5 3.3l3.5 1.8l3.5 -0.6l3.5 -2.5l3.5 -3.2l3.5 -2.7l3.5 -2.2l3.5 -2.7l3.5 -5.3l3.5 -8.7l3.5 -9l3.5 -7.8l3.5 -6.4l3.5 -3.5l3.5 0.3l3.5 3.3l3.5 4.4l3.5 3.4l3.5 0.6l3.5 -2.4l3.5 -4.3l3.5 -4.1l3.5 -1.5l3.5 2.7l3.5 6.2l3.5 8.1l3.5 9.1l3.5 7.9l3.5 3.7l3.5 0.3l3.5 -1.4l3.5 -1.7l3.5 -0.3l3.5 1.6l3.5 3l3.5 3.4l3.5 3.3l3.5 2.8l3.5 1.8l3.5 0.5l3.5 -1.2"/><path d="M453.6 584.3l3.5 -4.4l3.5 -1.5l3.5 2.5l3.5 5.7l3.5 6.1l3.5 3.9l3.5 0.3l3.5 -3.4l3.5 -6.2l3.5 -7.9l3.5 -8.6l3.5 -9.2l3.5 -9.2l3.5 -5.8l3.5 -1.9l3.5 0.1l3.5 1.2l3.5 1.7l3.5 0.7l3.5 -1.3l3.5 -3.3l3.5 -4.6l3.5 -4.2l3.5 -1.7l3.5 2l3.5 6.2l3.5 9.4l3.5 9.9l3.5 7.6l3.5 4.7l3.5 1.4l3.5 -2.4l3.5 -3.2l3.5 -1.1l3.5 2.4l3.5 5.8l3.5 7.6l3.5 6.5l3.5 3l3.5 -1.1l3.5 -4.1l3.5 -5.4l3.5 -4.7l3.5 -2.6"/><path d="M453.6 583.5l3.5 0.5l3.5 1.9l3.5 3.4l3.5 3.8l3.5 2.5l3.5 -0.1l3.5 -2.4l3.5 -3.8l3.5 -4.2l3.5 -4.2l3.5 -4.7l3.5 -6.7l3.5 -9.2l3.5 -8.6l3.5 -6.7l3.5 -5.3l3.5 -2.9l3.5 0.2l3.5 2.4l3.5 3.2l3.5 2.5l3.5 0.7l3.5 -1.2l3.5 -2l3.5 -1.4l3.5 0.7l3.5 3.7l3.5 5.7l3.5 6.2l3.5 6.5l3.5 5.6l3.5 2.6l3.5 0.9l3.5 0.7l3.5 1.3l3.5 2.5l3.5 3.4l3.5 3.2l3.5 2.1l3.5 1.1l3.5 0.6l3.5 0.4l3.5 0.2l3.5 -0.5"/><path d="M453.6 580.2l3.5 2.9l3.5 4.6l3.5 4.9l3.5 3.1l3.5 -0.9l3.5 -5.5l3.5 -8.3l3.5 -8.1l3.5 -5.3l3.5 -1.5l3.5 0.9l3.5 0l3.5 -3.7l3.5 -5.9l3.5 -7.8l3.5 -9.3l3.5 -8.2l3.5 -4.3l3.5 0.4l3.5 4.2l3.5 5.8l3.5 4.8l3.5 2l3.5 -1l3.5 -3l3.5 -2.7l3.5 -0l3.5 3.1l3.5 5.6l3.5 8.1l3.5 8.5l3.5 5.7l3.5 2.9l3.5 1.1l3.5 0l3.5 0.2l3.5 1.1l3.5 1.6l3.5 1.5l3.5 1.3l3.5 1.3l3.5 1.1l3.5 0.8l3.5 0.2"/><path d="M453.6 598.3l3.5 -1.8l3.5 -1.4l3.5 -0.5l3.5 0.1l3.5 -0.5l3.5 -2l3.5 -3.2l3.5 -3.5l3.5 -3.1l3.5 -2.6l3.5 -3.1l3.5 -5.4l3.5 -8.4l3.5 -8.2l3.5 -6.7l3.5 -5.6l3.5 -3.4l3.5 -0.5l3.5 1.6l3.5 2.3l3.5 1.5l3.5 -0.4l3.5 -2.3l3.5 -2.9l3.5 -2.1l3.5 0.4l3.5 3.8l3.5 6.2l3.5 7.1l3.5 7.8l3.5 7.1l3.5 4.3l3.5 2.6l3.5 2.3l3.5 2.7l3.5 3.5l3.5 3.9l3.5 3.3l3.5 1.9l3.5 0.7l3.5 0.4l3.5 0.7l3.5 1.1l3.5 1.1"/><path d="M453.6 583.6l3.5 -4.2l3.5 -2.9l3.5 -0.3l3.5 2.2l3.5 2.9l3.5 1.7l3.5 -0l3.5 -1.6l3.5 -2.6l3.5 -3.3l3.5 -4.4l3.5 -6.7l3.5 -9.3l3.5 -8.6l3.5 -6.8l3.5 -5.4l3.5 -3l3.5 0.1l3.5 2.5l3.5 3.3l3.5 2.5l3.5 0.3l3.5 -2.1l3.5 -3.5l3.5 -3.2l3.5 -0.8l3.5 3.1l3.5 6.4l3.5 8.4l3.5 9.6l3.5 8.9l3.5 5.1l3.5 1.8l3.5 -0.2l3.5 -1.1l3.5 -0.6l3.5 0.5l3.5 1.4l3.5 1.7l3.5 1.8l3.5 1.9l3.5 1.6l3.5 0.9l3.5 -0.3"/><path d="M453.6 601.8l3.5 -3l3.5 -1.7l3.5 -0.2l3.5 0.2l3.5 -1.4l3.5 -4.2l3.5 -6.4l3.5 -7l3.5 -6l3.5 -4.2l3.5 -3l3.5 -4l3.5 -6.3l3.5 -6.3l3.5 -5.5l3.5 -4.9l3.5 -2.8l3.5 0.8l3.5 4.3l3.5 6.3l3.5 6.5l3.5 4.5l3.5 1.6l3.5 -1l3.5 -2.3l3.5 -1.5l3.5 1.3l3.5 4l3.5 5.8l3.5 7.4l3.5 7.3l3.5 4.1l3.5 1.4l3.5 -0.3l3.5 -0.9l3.5 -0.4l3.5 0.6l3.5 1.2l3.5 1.1l3.5 0.8l3.5 0.5l3.5 0.1l3.5 -0.4l3.5 -1.3"/><path d="M453.6 589.3l3.5 3.8l3.5 4.3l3.5 4.6l3.5 4l3.5 1.7l3.5 -1.8l3.5 -4.8l3.5 -6.5l3.5 -6.8l3.5 -6.3l3.5 -5.9l3.5 -6.9l3.5 -8.4l3.5 -7l3.5 -4.8l3.5 -3.6l3.5 -1.8l3.5 0.3l3.5 1.6l3.5 1.5l3.5 0.4l3.5 -1.4l3.5 -2.9l3.5 -3l3.5 -1.8l3.5 1l3.5 4.6l3.5 7l3.5 7.9l3.5 8.6l3.5 8.2l3.5 5.6l3.5 4l3.5 3.5l3.5 3.2l3.5 2.8l3.5 1.7l3.5 -0.6l3.5 -3.5l3.5 -5.4l3.5 -5.5l3.5 -4.1l3.5 -1.6l3.5 0.9"/><path d="M453.6 592.7l3.5 -2.1l3.5 -0.9l3.5 0.7l3.5 1.6l3.5 0.7l3.5 -1.6l3.5 -3.7l3.5 -4.9l3.5 -5.1l3.5 -4.6l3.5 -4.3l3.5 -5.3l3.5 -6.7l3.5 -5l3.5 -2.6l3.5 -1.2l3.5 0.5l3.5 2.3l3.5 3l3.5 2.3l3.5 0.4l3.5 -1.9l3.5 -3.6l3.5 -3.7l3.5 -2.1l3.5 0.9l3.5 4.5l3.5 6.5l3.5 6.5l3.5 6l3.5 4.3l3.5 0.9l3.5 -0.8l3.5 -0.4l3.5 1.3l3.5 3.6l3.5 5.5l3.5 5.8l3.5 4.6l3.5 2.9l3.5 1.4l3.5 0.1l3.5 -0.9l3.5 -2"/><path d="M453.6 608.1l3.5 2.2l3.5 3.1l3.5 3.6l3.5 3l3.5 0.7l3.5 -2.5l3.5 -5l3.5 -5.8l3.5 -5.1l3.5 -3.7l3.5 -3l3.5 -4.2l3.5 -6.6l3.5 -6.7l3.5 -6.2l3.5 -6.3l3.5 -5.4l3.5 -3.2l3.5 -1.2l3.5 0.2l3.5 0.5l3.5 -0.1l3.5 -1l3.5 -1.5l3.5 -1.3l3.5 -0l3.5 1.9l3.5 3.1l3.5 3.3l3.5 4.2l3.5 4.4l3.5 3l3.5 2.5l3.5 3.1l3.5 3.6l3.5 3.7l3.5 2.9l3.5 0.9l3.5 -1.6l3.5 -3l3.5 -2.8l3.5 -1.3l3.5 0.8l3.5 2.4"/><path d="M453.6 574.9l3.5 0.9l3.5 2.1l3.5 3.6l3.5 4.5l3.5 3.9l3.5 2.2l3.5 0.5l3.5 -0.6l3.5 -1.1l3.5 -1.8l3.5 -3.4l3.5 -6.8l3.5 -10.7l3.5 -11.3l3.5 -10.3l3.5 -9.4l3.5 -7.2l3.5 -4l3.5 -1.3l3.5 0.1l3.5 0.2l3.5 -0.8l3.5 -1.7l3.5 -1.5l3.5 0l3.5 2.9l3.5 6.6l3.5 9l3.5 9.6l3.5 9.7l3.5 8.4l3.5 4.8l3.5 2.2l3.5 1l3.5 0.5l3.5 0.6l3.5 0.6l3.5 -0.3l3.5 -1.8l3.5 -2.7l3.5 -2.5l3.5 -1.6l3.5 -0.4l3.5 0.5"/><path d="M453.6 599.3l3.5 -0.1l3.5 0.1l3.5 0.9l3.5 1.4l3.5 0.7l3.5 -0.9l3.5 -2.2l3.5 -2.6l3.5 -2.4l3.5 -2.3l3.5 -3.1l3.5 -5.8l3.5 -9.1l3.5 -9.3l3.5 -8.2l3.5 -7.4l3.5 -5.4l3.5 -2.5l3.5 -0.3l3.5 0.5l3.5 -0l3.5 -1.5l3.5 -2.9l3.5 -3.1l3.5 -1.8l3.5 1l3.5 4.7l3.5 7.2l3.5 8.1l3.5 8.6l3.5 7.8l3.5 4.7l3.5 2.6l3.5 2l3.5 2.1l3.5 2.7l3.5 3.1l3.5 2.5l3.5 1.2l3.5 0.3l3.5 0.3l3.5 0.9l3.5 1.7l3.5 2"/><path d="M453.6 588.1l3.5 -2.1l3.5 -0.1l3.5 2.1l3.5 3.2l3.5 1.8l3.5 -1.4l3.5 -4.6l3.5 -6.3l3.5 -6.2l3.5 -4.7l3.5 -3.3l3.5 -3.5l3.5 -5.1l3.5 -4.8l3.5 -4.6l3.5 -5.5l3.5 -5.4l3.5 -3.6l3.5 -1.1l3.5 1.3l3.5 3.1l3.5 3.8l3.5 3.4l3.5 2.5l3.5 1.5l3.5 1.2l3.5 1.8l3.5 2.3l3.5 2.8l3.5 4.6l3.5 6l3.5 5.3l3.5 4.8l3.5 4.4l3.5 3.5l3.5 2.2l3.5 0.6l3.5 -1.2l3.5 -2.7l3.5 -2.9l3.5 -1.6l3.5 0l3.5 1.3l3.5 1.3"/><path d="M453.6 594.3l3.5 0.7l3.5 1l3.5 1.6l3.5 1.8l3.5 0.6l3.5 -1.5l3.5 -3.2l3.5 -4l3.5 -4l3.5 -3.9l3.5 -4.5l3.5 -6.7l3.5 -9.4l3.5 -8.9l3.5 -7l3.5 -5.4l3.5 -2.8l3.5 0.4l3.5 2.8l3.5 3.6l3.5 2.7l3.5 0.7l3.5 -1.3l3.5 -2.3l3.5 -1.8l3.5 0.4l3.5 3.5l3.5 5.7l3.5 6.4l3.5 7l3.5 6.3l3.5 3.6l3.5 1.9l3.5 1.7l3.5 2.1l3.5 2.9l3.5 3.3l3.5 2.7l3.5 1.2l3.5 -0.1l3.5 -0.5l3.5 -0.3l3.5 0.2l3.5 0.2"/><path d="M453.6 592.5l3.5 -1.6l3.5 -2.4l3.5 -2l3.5 -1.2l3.5 -1l3.5 -1.4l3.5 -1.6l3.5 -1.3l3.5 -0.9l3.5 -1l3.5 -2.4l3.5 -5.6l3.5 -9.3l3.5 -9.4l3.5 -7.8l3.5 -6l3.5 -3.1l3.5 0.4l3.5 2.8l3.5 3.3l3.5 2.1l3.5 -0.4l3.5 -2.7l3.5 -3.6l3.5 -2.6l3.5 0.5l3.5 4.6l3.5 7.6l3.5 8.7l3.5 8.9l3.5 7.3l3.5 3.1l3.5 -0l3.5 -1.4l3.5 -1.4l3.5 -0.2l3.5 1.4l3.5 2.5l3.5 2.7l3.5 2.9l3.5 3l3.5 2.8l3.5 1.9l3.5 0.2"/><path d="M453.6 597.5l3.5 1.2l3.5 1.6l3.5 2.3l3.5 2.5l3.5 1.3l3.5 -1l3.5 -2.9l3.5 -4.1l3.5 -4.5l3.5 -4.7l3.5 -5.5l3.5 -8l3.5 -10.8l3.5 -10.3l3.5 -8.4l3.5 -6.7l3.5 -3.9l3.5 -0.5l3.5 2l3.5 2.9l3.5 2.2l3.5 0.3l3.5 -1.5l3.5 -2.2l3.5 -1.4l3.5 1.1l3.5 4.5l3.5 7l3.5 7.9l3.5 8.4l3.5 7.6l3.5 4.4l3.5 2.2l3.5 1.4l3.5 1.1l3.5 1.3l3.5 1.3l3.5 0.4l3.5 -1.2l3.5 -2.1l3.5 -2l3.5 -1.1l3.5 0.1l3.5 0.9"/><path d="M453.6 593.8l3.5 2.5l3.5 2.7l3.5 2.6l3.5 1.6l3.5 -0.8l3.5 -4l3.5 -6.4l3.5 -7.2l3.5 -6.5l3.5 -5l3.5 -3.9l3.5 -4.5l3.5 -6l3.5 -5.1l3.5 -3.6l3.5 -3.2l3.5 -2.3l3.5 -1l3.5 -0.3l3.5 -0.7l3.5 -1.7l3.5 -3l3.5 -3.7l3.5 -2.7l3.5 -0.3l3.5 3.5l3.5 7.6l3.5 9.9l3.5 10l3.5 9.2l3.5 6.9l3.5 2.6l3.5 -0.2l3.5 -1l3.5 -0.5l3.5 1.1l3.5 2.7l3.5 3.4l3.5 3l3.5 2.6l3.5 2.5l3.5 2.5l3.5 2.3l3.5 1.4"/><path d="M453.6 585.7l3.5 0.7l3.5 1.1l3.5 1.9l3.5 2.2l3.5 1.1l3.5 -0.8l3.5 -2.4l3.5 -3l3.5 -2.8l3.5 -2.5l3.5 -2.9l3.5 -5.1l3.5 -7.8l3.5 -7.4l3.5 -5.9l3.5 -4.7l3.5 -2.6l3.5 0.1l3.5 2l3.5 2.4l3.5 1.3l3.5 -0.7l3.5 -2.6l3.5 -3.3l3.5 -2.4l3.5 0.1l3.5 3.5l3.5 5.8l3.5 6.5l3.5 6.9l3.5 5.8l3.5 2.6l3.5 0.4l3.5 -0.2l3.5 0l3.5 0.8l3.5 1.4l3.5 1.1l3.5 0l3.5 -0.7l3.5 -0.6l3.5 -0l3.5 0.7l3.5 0.8"/></g>
<clipPath id="c453_636"><rect x="453.6" y="509.8" width="170" height="140"/></clipPath>
<g clip-path="url(#c453_636)"><g fill="none" stroke-width="6.6" stroke-linecap="round" stroke-linejoin="round"><path d="M453.6 592.2l1.6 -0.2l1.6 -0.2l1.6 -0.1l1.6 -0l1.6 0.1l1.6 0.3" stroke="#94ff6a"/><path d="M462.9 592.2l1.6 0.5l1.6 0.6" stroke="#7fff7f"/><path d="M466.0 593.2l1.6 0.5l1.6 0.4l1.6 0.1l1.6 -0.2l1.6 -0.6" stroke="#6aff94"/><path d="M473.8 593.5l1.6 -0.9" stroke="#7fff7f"/><path d="M475.3 592.6l1.6 -1.1" stroke="#94ff6a"/><path d="M476.9 591.5l1.6 -1.2" stroke="#a9ff55"/><path d="M478.4 590.3l1.6 -1.3" stroke="#bfff3f"/><path d="M480.0 588.9l1.6 -1.3" stroke="#d4ff2a"/><path d="M481.6 587.6l1.6 -1.3" stroke="#e9ff15"/><path d="M483.1 586.4l1.6 -1.2" stroke="#ffe900"/><path d="M484.7 585.2l1.6 -1.1" stroke="#ffd400"/><path d="M486.2 584.1l1.6 -1.1" stroke="#ffbf00"/><path d="M487.8 583.0l1.6 -1.1" stroke="#ffa900"/><path d="M489.3 581.9l1.6 -1.3" stroke="#ff9400"/><path d="M490.9 580.6l1.6 -1.6" stroke="#ff7f00"/><path d="M492.4 579.0l1.6 -2.1" stroke="#ff5500"/><path d="M494.0 576.9l1.6 -2.8" stroke="#ff2a00"/><path d="M495.5 574.0l1.6 -3.5" stroke="#e90000"/><path d="M497.1 570.5l1.6 -3.9l1.6 -3.9l1.6 -3.6l1.6 -3.3l1.6 -3l1.6 -2.8l1.6 -2.6l1.6 -2.3l1.6 -1.8l1.6 -1.3l1.6 -0.7l1.6 -0.1l1.6 0.4l1.6 0.8l1.6 1l1.6 1.2l1.6 1.1l1.6 1l1.6 0.7l1.6 0.3l1.6 -0.1l1.6 -0.5l1.6 -0.8l1.6 -1l1.6 -1.1l1.6 -1.1l1.6 -1l1.6 -0.7l1.6 -0.3l1.6 0.3l1.6 1l1.6 1.7l1.6 2.2l1.6 2.7l1.6 2.9l1.6 3l1.6 3.1l1.6 3.2l1.6 3.3l1.6 3.3l1.6 3" stroke="#a90000"/><path d="M560.8 570.8l1.6 2.4" stroke="#e90000"/><path d="M562.3 573.3l1.6 1.8" stroke="#ff1500"/><path d="M563.9 575.0l1.6 1.2" stroke="#ff2a00"/><path d="M565.4 576.2l1.6 0.8" stroke="#ff3f00"/><path d="M567.0 577.1l1.6 0.6l1.6 0.5" stroke="#ff5500"/><path d="M570.1 578.2l1.6 0.5l1.6 0.5" stroke="#ff6a00"/><path d="M573.2 579.3l1.6 0.6l1.6 0.7" stroke="#ff7f00"/><path d="M576.3 580.6l1.6 0.9" stroke="#ff9400"/><path d="M577.8 581.5l1.6 1.1" stroke="#ffa900"/><path d="M579.4 582.6l1.6 1.1" stroke="#ffbf00"/><path d="M580.9 583.7l1.6 1.2" stroke="#ffd400"/><path d="M582.5 584.9l1.6 1.1" stroke="#ffe900"/><path d="M584.1 586.0l1.6 0.9" stroke="#ffff00"/><path d="M585.6 586.8l1.6 0.6l1.6 0.3l1.6 0.1l1.6 -0.1l1.6 -0.2l1.6 -0.2l1.6 -0.2" stroke="#e9ff15"/><path d="M596.5 587.0l1.6 -0.1l1.6 -0l1.6 0.1" stroke="#ffff00"/><path d="M601.1 587.0l1.6 0.3l1.6 0.4l1.6 0.4" stroke="#e9ff15"/><path d="M605.8 588.1l1.6 0.3" stroke="#d4ff2a"/></g></g>
<path d="M453.6 514.8V636.3H607.3" fill="none" stroke="#3a3a3a" stroke-width="1"/><path d="M467.6 636.3v-2M483.1 636.3v-2M498.6 636.3v-2M514.2 636.3v-2M529.7 636.3v-2M545.2 636.3v-2M560.8 636.3v-2M576.3 636.3v-2M591.8 636.3v-2M607.3 636.3v-2M453.6 618.9h2M453.6 601.6h2M453.6 584.2h2M453.6 566.9h2M453.6 549.5h2M453.6 532.2h2" stroke="#3a3a3a" stroke-width="0.8"/>
<g font-family="'Liberation Serif', serif" font-size="8.3" fill="#555" text-anchor="middle"><text x="467.6" y="645">10</text><text x="483.1" y="645">20</text><text x="498.6" y="645">30</text><text x="514.2" y="645">40</text><text x="529.7" y="645">50</text><text x="545.2" y="645">60</text><text x="560.8" y="645">70</text><text x="576.3" y="645">80</text><text x="591.8" y="645">90</text><text x="607.3" y="645">100</text></g>
<g font-family="'Liberation Serif', serif" font-size="8.3" fill="#555" text-anchor="end"><text x="451" y="621.7">0.3</text><text x="451" y="604.4">0.4</text><text x="451" y="587">0.5</text><text x="451" y="569.7">0.6</text><text x="451" y="552.3">0.7</text><text x="451" y="535">0.8</text></g>
<text transform="translate(434.1 575.6) rotate(-90)" text-anchor="middle" font-family="'Liberation Serif', serif" font-size="12" fill="#222">Fractional Anisotropy</text>
<text x="530.5" y="657.1" text-anchor="middle" font-family="'Liberation Serif', serif" font-size="11.8" fill="#222">Location</text>
<clipPath id="g642_636"><rect x="642.7" y="514.2" width="160" height="121.9"/></clipPath>
<g clip-path="url(#g642_636)" fill="none" stroke="#9d9d9d" stroke-width="1.1" stroke-linejoin="round"><path d="M642.7 609.7l3.5 0.1l3.5 -1.4l3.5 -4.6l3.5 -7.6l3.5 -8.9l3.5 -9.1l3.5 -6.6l3.5 -3.7l3.5 -0.7l3.5 2l3.5 3.5l3.5 2.5l3.5 -2l3.5 -9.2l3.5 -12.8l3.5 -9l3.5 -0.7l3.5 5.7l3.5 7.8l3.5 7l3.5 5l3.5 1.8l3.5 -2.7l3.5 -5.9l3.5 -4.1l3.5 3.5l3.5 10.1l3.5 9.2l3.5 4.8l3.5 1.7l3.5 -1.2l3.5 -3.2l3.5 -4.4l3.5 -5.4l3.5 -4.6l3.5 1l3.5 8.6l3.5 12.6l3.5 11.9l3.5 8.7l3.5 4.2l3.5 0.7l3.5 -0l3.5 1.9"/><path d="M642.7 600.8l3.5 -4.4l3.5 -6.5l3.5 -8.1l3.5 -8l3.5 -6.1l3.5 -4.4l3.5 -2.4l3.5 -1.1l3.5 -0.6l3.5 -0.1l3.5 0.5l3.5 0.5l3.5 -1.7l3.5 -6.3l3.5 -8.3l3.5 -4.8l3.5 1.5l3.5 5l3.5 4.5l3.5 2.4l3.5 0.9l3.5 -0.8l3.5 -3.5l3.5 -5.9l3.5 -4.6l3.5 1.5l3.5 6.6l3.5 5.2l3.5 2.5l3.5 2.7l3.5 4l3.5 5.4l3.5 5.3l3.5 2.6l3.5 -0.6l3.5 -0l3.5 3.6l3.5 5.3l3.5 4.5l3.5 3.5l3.5 2.5l3.5 1.5l3.5 1.2l3.5 1"/><path d="M642.7 605.3l3.5 -8.4l3.5 -9l3.5 -7l3.5 -3.2l3.5 0.4l3.5 1.2l3.5 0.7l3.5 -2.2l3.5 -5.8l3.5 -7.7l3.5 -6.7l3.5 -3.9l3.5 -2.2l3.5 -3.5l3.5 -4.4l3.5 -2l3.5 1.5l3.5 2.2l3.5 0.4l3.5 -0.8l3.5 0.6l3.5 2.4l3.5 2.3l3.5 0.1l3.5 -1.1l3.5 0.8l3.5 1.5l3.5 -2.7l3.5 -5.8l3.5 -3.3l3.5 1.7l3.5 6.6l3.5 8.7l3.5 6.2l3.5 1.7l3.5 0.9l3.5 3.9l3.5 6.3l3.5 7.9l3.5 10.2l3.5 11.3l3.5 9.6l3.5 5.3l3.5 -1.6"/><path d="M642.7 614.8l3.5 -6.9l3.5 -10.9l3.5 -13.3l3.5 -12.6l3.5 -9.4l3.5 -5.7l3.5 -1.9l3.5 1.3l3.5 3.7l3.5 5.6l3.5 6.9l3.5 6.8l3.5 3.6l3.5 -2.8l3.5 -7.2l3.5 -6.3l3.5 -2.6l3.5 -0.8l3.5 -2l3.5 -3.4l3.5 -3l3.5 -1.9l3.5 -1.5l3.5 -1.4l3.5 1.3l3.5 7.2l3.5 10.7l3.5 6.6l3.5 0.5l3.5 -2.2l3.5 -3l3.5 -2.4l3.5 -1.8l3.5 -2.6l3.5 -3.1l3.5 0.4l3.5 6.8l3.5 10.5l3.5 11.6l3.5 12l3.5 11l3.5 8.8l3.5 5.8l3.5 1.8"/><path d="M642.7 579.1l3.5 -2.5l3.5 -4.5l3.5 -5.8l3.5 -5.4l3.5 -3.4l3.5 -2l3.5 -0.8l3.5 -0.2l3.5 -0.4l3.5 -0.4l3.5 -0.2l3.5 -0.2l3.5 -2.3l3.5 -6.8l3.5 -8.9l3.5 -5.8l3.5 -0.2l3.5 2.7l3.5 1.7l3.5 -0.4l3.5 -1.3l3.5 -1.8l3.5 -3l3.5 -4l3.5 -1.8l3.5 4.5l3.5 9.1l3.5 6.6l3.5 2.3l3.5 1.1l3.5 1.4l3.5 2.4l3.5 2.5l3.5 0.5l3.5 -1.7l3.5 0.1l3.5 4.8l3.5 6.6l3.5 6.5l3.5 6.8l3.5 6.7l3.5 6.2l3.5 5.5l3.5 4"/><path d="M642.7 573.3l3.5 -10.1l3.5 -7.7l3.5 -4.4l3.5 -0.8l3.5 1.9l3.5 1.9l3.5 0.2l3.5 -2.5l3.5 -5.5l3.5 -6.9l3.5 -6.1l3.5 -3.8l3.5 -2.6l3.5 -3.8l3.5 -3.4l3.5 0.9l3.5 6.2l3.5 7.7l3.5 4.8l3.5 1l3.5 -1.2l3.5 -2.2l3.5 -3.4l3.5 -4.1l3.5 -2l3.5 3.7l3.5 7.2l3.5 3.5l3.5 -1.7l3.5 -2.9l3.5 -1.6l3.5 1.4l3.5 4l3.5 4.1l3.5 2.9l3.5 4l3.5 6.6l3.5 5.5l3.5 2.2l3.5 -0l3.5 -0.4l3.5 1.6l3.5 5.7l3.5 9.7"/><path d="M642.7 609.8l3.5 2.8l3.5 -5.9l3.5 -13.8l3.5 -18l3.5 -17.2l3.5 -13.4l3.5 -7.7l3.5 -1.1l3.5 5l3.5 9.6l3.5 11.5l3.5 9.6l3.5 2.7l3.5 -8.2l3.5 -16.2l3.5 -16.7l3.5 -11.4l3.5 -5.4l3.5 -0.7l3.5 3.7l3.5 8.1l3.5 10.3l3.5 8.5l3.5 3.8l3.5 0.4l3.5 1.1l3.5 1.4l3.5 -2.5l3.5 -5.3l3.5 -2.7l3.5 2.4l3.5 7.8l3.5 10.5l3.5 8.6l3.5 4.3l3.5 2.3l3.5 3l3.5 2.7l3.5 0.8l3.5 0.4l3.5 1.7l3.5 4l3.5 6.5l3.5 7.4"/><path d="M642.7 600.2l3.5 -7.4l3.5 -10.9l3.5 -12.2l3.5 -10.3l3.5 -6.2l3.5 -2.3l3.5 0.8l3.5 2.7l3.5 3l3.5 2.6l3.5 1.9l3.5 0.7l3.5 -2.4l3.5 -7.5l3.5 -9.9l3.5 -6.6l3.5 -0.6l3.5 2.5l3.5 1.6l3.5 -0.5l3.5 -1.5l3.5 -1.8l3.5 -2.6l3.5 -2.9l3.5 0.2l3.5 7.2l3.5 12.1l3.5 9.3l3.5 4.1l3.5 1.5l3.5 0.2l3.5 -0.1l3.5 -0.5l3.5 -2.1l3.5 -3.2l3.5 0.2l3.5 6.5l3.5 9.9l3.5 10.5l3.5 9.8l3.5 7.5l3.5 3.9l3.5 0.1l3.5 -3.8"/><path d="M642.7 595.4l3.5 -4.6l3.5 -7.6l3.5 -9.3l3.5 -8.4l3.5 -5.5l3.5 -2.6l3.5 0.1l3.5 1.8l3.5 2.3l3.5 2l3.5 1.4l3.5 -0.2l3.5 -3.9l3.5 -9.7l3.5 -12.4l3.5 -8.8l3.5 -1.9l3.5 2.8l3.5 3.8l3.5 3.3l3.5 3.2l3.5 2.4l3.5 0.2l3.5 -2.4l3.5 -1.8l3.5 3.2l3.5 7l3.5 4.5l3.5 0.8l3.5 0.4l3.5 1.5l3.5 3l3.5 3.3l3.5 0.9l3.5 -1.9l3.5 -0.9l3.5 3.1l3.5 4.9l3.5 4.6l3.5 5l3.5 5.5l3.5 6l3.5 6.7l3.5 6.3"/><path d="M642.7 592.5l3.5 -0.5l3.5 -1.9l3.5 -4.5l3.5 -6.5l3.5 -7.1l3.5 -7.3l3.5 -6.2l3.5 -4.9l3.5 -3.2l3.5 -0.8l3.5 1.9l3.5 3.7l3.5 2.6l3.5 -1.7l3.5 -4.2l3.5 -1.5l3.5 3.6l3.5 6l3.5 4.5l3.5 1.5l3.5 -0.5l3.5 -2.2l3.5 -4.4l3.5 -5.8l3.5 -3.3l3.5 3.7l3.5 9.3l3.5 7.4l3.5 3.2l3.5 1.4l3.5 0.6l3.5 0.5l3.5 0.2l3.5 -1.4l3.5 -2.3l3.5 1.1l3.5 7.2l3.5 10.9l3.5 11l3.5 9.2l3.5 5.7l3.5 1.2l3.5 -2.9l3.5 -6.4"/><path d="M642.7 560.1l3.5 -2.5l3.5 -2.8l3.5 -2.5l3.5 -1l3.5 1.3l3.5 2.3l3.5 2.5l3.5 1.9l3.5 0.3l3.5 -1.1l3.5 -1.7l3.5 -2.1l3.5 -4l3.5 -7.9l3.5 -9.2l3.5 -5.2l3.5 0.9l3.5 3.7l3.5 2.2l3.5 -0.8l3.5 -2.8l3.5 -4.2l3.5 -6l3.5 -6.9l3.5 -4l3.5 3.4l3.5 9.5l3.5 8.4l3.5 5.2l3.5 4.6l3.5 4.9l3.5 5.3l3.5 4.4l3.5 1.3l3.5 -1.8l3.5 -0.6l3.5 4.1l3.5 6.5l3.5 7.2l3.5 8.3l3.5 8.9l3.5 8.6l3.5 7.3l3.5 4.3"/><path d="M642.7 594.2l3.5 -11.1l3.5 -9.9l3.5 -7l3.5 -2.8l3.5 1.2l3.5 2.5l3.5 2.3l3.5 0.1l3.5 -3.1l3.5 -5.2l3.5 -5.3l3.5 -3.7l3.5 -2.8l3.5 -3.9l3.5 -3.5l3.5 0.5l3.5 4.8l3.5 4.8l3.5 0.4l3.5 -4.6l3.5 -6.7l3.5 -6.3l3.5 -4.7l3.5 -2l3.5 3.6l3.5 11.6l3.5 15.7l3.5 10.5l3.5 2.2l3.5 -3l3.5 -5.5l3.5 -5l3.5 -2.9l3.5 -1.2l3.5 0.9l3.5 6l3.5 11.9l3.5 13.5l3.5 10.7l3.5 5.6l3.5 -0.3l3.5 -5.1l3.5 -6.7l3.5 -5.2"/><path d="M642.7 568.8l3.5 -6.2l3.5 -4.7l3.5 -2.8l3.5 -0.6l3.5 1.1l3.5 0.6l3.5 -0.9l3.5 -3.2l3.5 -5.4l3.5 -6l3.5 -4.4l3.5 -1.8l3.5 -0.7l3.5 -2.7l3.5 -3.6l3.5 -0.9l3.5 2.8l3.5 3.2l3.5 0l3.5 -2.9l3.5 -3.2l3.5 -1.6l3.5 -0.1l3.5 1.2l3.5 4.3l3.5 9.8l3.5 11.8l3.5 5.8l3.5 -1.7l3.5 -4.9l3.5 -4.6l3.5 -1.8l3.5 1.6l3.5 3l3.5 3.4l3.5 5.9l3.5 9.3l3.5 8.9l3.5 5.4l3.5 1.7l3.5 -1l3.5 -1.9l3.5 -0.4l3.5 2.2"/><path d="M642.7 582.4l3.5 0.4l3.5 -1.6l3.5 -3.8l3.5 -4.7l3.5 -4.1l3.5 -3.6l3.5 -2.6l3.5 -1.9l3.5 -1.7l3.5 -1l3.5 0.2l3.5 0.8l3.5 -1l3.5 -5.7l3.5 -8.5l3.5 -6.1l3.5 -1.2l3.5 1.2l3.5 0.4l3.5 -1l3.5 -0.7l3.5 0.2l3.5 0.4l3.5 0.3l3.5 2.8l3.5 8.5l3.5 11.7l3.5 7.3l3.5 0.9l3.5 -2.3l3.5 -3.4l3.5 -3l3.5 -2.5l3.5 -3.2l3.5 -3.5l3.5 0.3l3.5 6.9l3.5 10.4l3.5 11.6l3.5 12.1l3.5 11.2l3.5 8.9l3.5 5.8l3.5 1.5"/><path d="M642.7 600.9l3.5 -6.5l3.5 -8.5l3.5 -9.1l3.5 -7.7l3.5 -4.6l3.5 -2l3.5 0.3l3.5 1.4l3.5 1.3l3.5 0.9l3.5 0.5l3.5 -0.3l3.5 -3.1l3.5 -8.1l3.5 -10.4l3.5 -7l3.5 -0.9l3.5 2.7l3.5 2.4l3.5 0.9l3.5 0.4l3.5 -0.1l3.5 -1.4l3.5 -2.8l3.5 -0.9l3.5 5l3.5 9.2l3.5 6.4l3.5 2l3.5 0.6l3.5 0.7l3.5 1.4l3.5 1.2l3.5 -1.1l3.5 -3.6l3.5 -2l3.5 2.8l3.5 4.9l3.5 5l3.5 5.4l3.5 5.6l3.5 5.2l3.5 4.6l3.5 2.9"/><path d="M642.7 578.8l3.5 -4l3.5 -3l3.5 -3.1l3.5 -3.6l3.5 -4l3.5 -5.2l3.5 -6.1l3.5 -6.4l3.5 -5.6l3.5 -3l3.5 0.8l3.5 4.3l3.5 4.6l3.5 0.8l3.5 -2.2l3.5 -1.2l3.5 1.9l3.5 2.6l3.5 0.3l3.5 -2l3.5 -2.4l3.5 -1.9l3.5 -2.2l3.5 -2.4l3.5 0.1l3.5 6.4l3.5 10.6l3.5 7.6l3.5 2.7l3.5 0.7l3.5 0.2l3.5 0.4l3.5 0.4l3.5 -1.2l3.5 -2l3.5 1.6l3.5 8.4l3.5 12.8l3.5 14.2l3.5 13.8l3.5 11l3.5 6l3.5 0.5l3.5 -4.9"/><path d="M642.7 595.1l3.5 -4.1l3.5 -5.4l3.5 -6.4l3.5 -6.3l3.5 -5.1l3.5 -4.2l3.5 -2.9l3.5 -1.8l3.5 -0.8l3.5 0.7l3.5 2.4l3.5 3.2l3.5 0.9l3.5 -4.8l3.5 -8.8l3.5 -7.4l3.5 -2.7l3.5 0.4l3.5 1.2l3.5 1.7l3.5 3.5l3.5 4.8l3.5 3.8l3.5 1.1l3.5 0l3.5 2.3l3.5 3.3l3.5 -1.3l3.5 -5.5l3.5 -4.6l3.5 -0.7l3.5 4.2l3.5 7.3l3.5 6.4l3.5 3.1l3.5 1.9l3.5 2.9l3.5 2.1l3.5 -0.5l3.5 -1.2l3.5 0.2l3.5 3.5l3.5 7.7l3.5 10.4"/><path d="M642.7 600.3l3.5 -4.4l3.5 -5.5l3.5 -6.4l3.5 -6l3.5 -4.6l3.5 -3.8l3.5 -2.6l3.5 -2.3l3.5 -2.5l3.5 -2l3.5 -0.5l3.5 1.2l3.5 1l3.5 -1.9l3.5 -2.8l3.5 0.6l3.5 5.6l3.5 6.8l3.5 3.4l3.5 -1.4l3.5 -5l3.5 -7.6l3.5 -9.9l3.5 -10.8l3.5 -7.4l3.5 1l3.5 8.2l3.5 8.3l3.5 6.3l3.5 6.5l3.5 7.1l3.5 7.3l3.5 5.9l3.5 2l3.5 -2.2l3.5 -2.1l3.5 1.7l3.5 4.6l3.5 5.3l3.5 6.5l3.5 7.7l3.5 8.5l3.5 8.7l3.5 7.2"/><path d="M642.7 600.1l3.5 -1.3l3.5 -5.1l3.5 -8l3.5 -8.9l3.5 -7.8l3.5 -6.6l3.5 -5l3.5 -4l3.5 -3.2l3.5 -2l3.5 -0.3l3.5 1.2l3.5 0.3l3.5 -3.4l3.5 -5.4l3.5 -2.7l3.5 1.9l3.5 3.5l3.5 1.1l3.5 -2.1l3.5 -3.6l3.5 -4.1l3.5 -4.6l3.5 -4.3l3.5 -0.4l3.5 7.5l3.5 13.3l3.5 11.3l3.5 6.9l3.5 4.6l3.5 3.3l3.5 2.2l3.5 0.2l3.5 -3.5l3.5 -6.8l3.5 -5.4l3.5 -0.2l3.5 2.6l3.5 3.7l3.5 5.5l3.5 7.1l3.5 8.1l3.5 8.4l3.5 7.3"/><path d="M642.7 579.2l3.5 -7.6l3.5 -9.4l3.5 -9.8l3.5 -7.8l3.5 -4.1l3.5 -1.1l3.5 0.6l3.5 1.6l3.5 1.4l3.5 0.8l3.5 0.2l3.5 -0.5l3.5 -3l3.5 -7.3l3.5 -8.7l3.5 -4.4l3.5 2.5l3.5 6.5l3.5 6.3l3.5 4.6l3.5 3.6l3.5 2.7l3.5 1l3.5 -0.3l3.5 1.6l3.5 7.6l3.5 11.8l3.5 8.7l3.5 3.4l3.5 0.8l3.5 -0.5l3.5 -1.2l3.5 -2.4l3.5 -5.2l3.5 -7.7l3.5 -5.6l3.5 -0.1l3.5 2.7l3.5 3l3.5 3.6l3.5 3.6l3.5 2.9l3.5 2.2l3.5 1.1"/><path d="M642.7 579.2l3.5 11.8l3.5 8.8l3.5 3.3l3.5 -2.3l3.5 -6.5l3.5 -9.6l3.5 -9.6l3.5 -8.7l3.5 -6.3l3.5 -1.8l3.5 3.7l3.5 8.1l3.5 8.3l3.5 3.2l3.5 -2.2l3.5 -4.4l3.5 -4.9l3.5 -7.2l3.5 -11.1l3.5 -13.1l3.5 -10.8l3.5 -5.9l3.5 -0.7l3.5 4l3.5 9.8l3.5 16.6l3.5 18.6l3.5 11.2l3.5 1.1l3.5 -5.4l3.5 -8.3l3.5 -7.7l3.5 -4.8l3.5 -1.8l3.5 2l3.5 8.9l3.5 16.7l3.5 20.4l3.5 19.1l3.5 13.8l3.5 5.5l3.5 -3.8l3.5 -11.4l3.5 -16"/><path d="M642.7 622.8l3.5 -5.4l3.5 -10.1l3.5 -13.1l3.5 -12.9l3.5 -10l3.5 -6.6l3.5 -2.8l3.5 -0.1l3.5 1.3l3.5 2.1l3.5 2.4l3.5 1.7l3.5 -1.2l3.5 -6.5l3.5 -8.9l3.5 -5.5l3.5 0.9l3.5 4.7l3.5 4.5l3.5 2.6l3.5 1.2l3.5 -0.6l3.5 -3.5l3.5 -6.2l3.5 -5.2l3.5 0.7l3.5 5.8l3.5 4.8l3.5 2.5l3.5 3.3l3.5 4.9l3.5 6.1l3.5 5.4l3.5 1.5l3.5 -3l3.5 -3.4l3.5 -0l3.5 2.5l3.5 3.6l3.5 6.2l3.5 9.7l3.5 13l3.5 15.3l3.5 14.7"/><path d="M642.7 592.5l3.5 -7.8l3.5 -4.9l3.5 -2.7l3.5 -1.2l3.5 -0.9l3.5 -2.7l3.5 -4.4l3.5 -6.2l3.5 -7l3.5 -5.2l3.5 -1.2l3.5 3l3.5 4.1l3.5 0.6l3.5 -3.3l3.5 -3.8l3.5 -2.6l3.5 -3.1l3.5 -5.1l3.5 -5.4l3.5 -2.5l3.5 1.6l3.5 4.1l3.5 4.4l3.5 5.1l3.5 7.6l3.5 7.6l3.5 1.3l3.5 -4.6l3.5 -4.5l3.5 -0.7l3.5 4.8l3.5 8.8l3.5 8.5l3.5 5.4l3.5 3.8l3.5 4.2l3.5 3.6l3.5 1.4l3.5 1.2l3.5 3.4l3.5 7.1l3.5 10.8l3.5 11.9"/><path d="M642.7 599.7l3.5 -6.8l3.5 -9.8l3.5 -11.2l3.5 -10.1l3.5 -7.1l3.5 -4.3l3.5 -2.1l3.5 -0.5l3.5 0.3l3.5 1l3.5 2l3.5 2.4l3.5 0.7l3.5 -3.8l3.5 -6.2l3.5 -3.6l3.5 1.1l3.5 2.8l3.5 0.6l3.5 -2.6l3.5 -4.3l3.5 -5l3.5 -5.7l3.5 -5.4l3.5 -1.5l3.5 6.6l3.5 12.9l3.5 11.5l3.5 7.4l3.5 5.5l3.5 4.2l3.5 3l3.5 0.6l3.5 -3.6l3.5 -7.3l3.5 -6.1l3.5 -0.9l3.5 2.2l3.5 3.8l3.5 6.6l3.5 9.2l3.5 10.9l3.5 11.6l3.5 10"/><path d="M642.7 573.9l3.5 -6.7l3.5 -10.2l3.5 -11.9l3.5 -10.5l3.5 -6.3l3.5 -1.9l3.5 1.2l3.5 4.1l3.5 5.7l3.5 6.3l3.5 6l3.5 4.5l3.5 0.6l3.5 -5.6l3.5 -8.9l3.5 -6.3l3.5 -0.8l3.5 2.2l3.5 1.3l3.5 -0.8l3.5 -1.8l3.5 -2.4l3.5 -3.4l3.5 -3.9l3.5 -0.8l3.5 6.3l3.5 11.3l3.5 8.7l3.5 3.4l3.5 0.5l3.5 -1.3l3.5 -2.2l3.5 -3.4l3.5 -5.6l3.5 -7l3.5 -3.6l3.5 3.3l3.5 6.1l3.5 7.2l3.5 8.7l3.5 9.1l3.5 8.6l3.5 7.6l3.5 5.9"/><path d="M642.7 623.8l3.5 -3.7l3.5 -6.9l3.5 -8.8l3.5 -8.7l3.5 -6.9l3.5 -5.6l3.5 -3.5l3.5 -3.1l3.5 -3.7l3.5 -4l3.5 -3.5l3.5 -2.9l3.5 -3.8l3.5 -6.9l3.5 -7.5l3.5 -3l3.5 3.5l3.5 6.7l3.5 5.5l3.5 2.7l3.5 0.8l3.5 -0.8l3.5 -2.9l3.5 -4.6l3.5 -2.7l3.5 3.4l3.5 7.8l3.5 5.2l3.5 0.7l3.5 -0.8l3.5 -0.7l3.5 0.2l3.5 0.5l3.5 -0.8l3.5 -2l3.5 1l3.5 6.9l3.5 10.6l3.5 11.9l3.5 12.5l3.5 12l3.5 10.2l3.5 7.8l3.5 4.3"/><path d="M642.7 596.6l3.5 -5.6l3.5 -6.9l3.5 -7.8l3.5 -7.3l3.5 -5.6l3.5 -4.3l3.5 -3l3.5 -2.4l3.5 -2.3l3.5 -1.7l3.5 -0.5l3.5 0.5l3.5 -0.5l3.5 -4l3.5 -5.5l3.5 -2l3.5 3.6l3.5 6l3.5 4.3l3.5 1.3l3.5 -0.6l3.5 -2l3.5 -3.8l3.5 -5.1l3.5 -2.8l3.5 3.9l3.5 9l3.5 7.3l3.5 3.8l3.5 3.2l3.5 4l3.5 5l3.5 5l3.5 2.5l3.5 -0.4l3.5 0.4l3.5 4.3l3.5 6.8l3.5 6.5l3.5 6l3.5 5.3l3.5 4.5l3.5 3.7l3.5 2.2"/><path d="M642.7 609.7l3.5 -7l3.5 -9l3.5 -10.1l3.5 -9.3l3.5 -6.9l3.5 -4.9l3.5 -3l3.5 -2l3.5 -1.9l3.5 -1.8l3.5 -1.4l3.5 -1.4l3.5 -3.4l3.5 -7.8l3.5 -9.7l3.5 -6.1l3.5 0l3.5 3.6l3.5 3.3l3.5 2l3.5 1.6l3.5 1.4l3.5 0.3l3.5 -0.8l3.5 1l3.5 6.9l3.5 11l3.5 8.1l3.5 3.5l3.5 2.3l3.5 2.6l3.5 3.7l3.5 3.9l3.5 1.9l3.5 -0.4l3.5 0.9l3.5 5.1l3.5 7.6l3.5 7.4l3.5 6.5l3.5 5.4l3.5 4.1l3.5 3.1l3.5 1.6"/><path d="M642.7 598.4l3.5 6l3.5 0.6l3.5 -5.9l3.5 -10.4l3.5 -11.6l3.5 -10.7l3.5 -7.7l3.5 -4.6l3.5 -2.1l3.5 -0.2l3.5 1l3.5 0.8l3.5 -1.8l3.5 -6.4l3.5 -7.8l3.5 -3.3l3.5 3.6l3.5 7l3.5 5l3.5 0.4l3.5 -3.8l3.5 -7.1l3.5 -9.5l3.5 -9.1l3.5 -3.1l3.5 8.3l3.5 17.5l3.5 17.5l3.5 12.5l3.5 7.5l3.5 2l3.5 -2.9l3.5 -6.7l3.5 -9.4l3.5 -8.7l3.5 -1.7l3.5 8.8l3.5 15.5l3.5 18l3.5 16.9l3.5 11.7l3.5 4l3.5 -3.3l3.5 -8.4"/><path d="M642.7 611.0l3.5 -14.8l3.5 -18.8l3.5 -17.7l3.5 -11.5l3.5 -2.8l3.5 4.2l3.5 8.1l3.5 8.7l3.5 5.6l3.5 0.9l3.5 -3.3l3.5 -5.9l3.5 -7.8l3.5 -9.5l3.5 -7.4l3.5 -0.5l3.5 7l3.5 8.7l3.5 4.1l3.5 -2.8l3.5 -8l3.5 -10.5l3.5 -10.5l3.5 -7.5l3.5 0.1l3.5 11.4l3.5 18.7l3.5 15.8l3.5 8.3l3.5 2.2l3.5 -2.2l3.5 -3.8l3.5 -3.5l3.5 -2.6l3.5 -0.5l3.5 5.1l3.5 11.4l3.5 13.2l3.5 9.6l3.5 3.2l3.5 -4.1l3.5 -9.7l3.5 -11l3.5 -8"/><path d="M642.7 605.6l3.5 -7.5l3.5 -8.1l3.5 -8l3.5 -6.7l3.5 -4.8l3.5 -4.1l3.5 -3.4l3.5 -3.5l3.5 -3.6l3.5 -2.7l3.5 -0.6l3.5 1.2l3.5 0.5l3.5 -3.5l3.5 -6.3l3.5 -4.4l3.5 -0.1l3.5 2.2l3.5 1.6l3.5 0.9l3.5 1.6l3.5 2.5l3.5 1.8l3.5 0.1l3.5 0.7l3.5 5.1l3.5 8.1l3.5 5.1l3.5 1.4l3.5 1.5l3.5 3.2l3.5 4.9l3.5 4.7l3.5 1.4l3.5 -2.8l3.5 -2.9l3.5 0.6l3.5 3.2l3.5 3.7l3.5 4.5l3.5 4.9l3.5 4.3l3.5 2.6l3.5 -0.6"/><path d="M642.7 587.2l3.5 -3.7l3.5 -5.8l3.5 -6.9l3.5 -5.9l3.5 -3.5l3.5 -1.8l3.5 -0.3l3.5 0l3.5 -0.7l3.5 -1.4l3.5 -1.9l3.5 -2.4l3.5 -4.7l3.5 -8.9l3.5 -10.2l3.5 -5.8l3.5 1.2l3.5 5.4l3.5 5.4l3.5 3.8l3.5 2.6l3.5 1.2l3.5 -1.4l3.5 -4.1l3.5 -3.5l3.5 1.5l3.5 5.4l3.5 3l3.5 -0.3l3.5 -0.1l3.5 1.9l3.5 4.5l3.5 5.8l3.5 4.2l3.5 1.6l3.5 2.2l3.5 5.1l3.5 5.5l3.5 3.3l3.5 1.4l3.5 -0.2l3.5 -1l3.5 -0.6l3.5 0.2"/><path d="M642.7 617.8l3.5 -3l3.5 -6.8l3.5 -9.7l3.5 -10.4l3.5 -8.9l3.5 -7.2l3.5 -4.7l3.5 -3.1l3.5 -2l3.5 -0.7l3.5 1l3.5 2.2l3.5 1.1l3.5 -2.9l3.5 -4.9l3.5 -2l3.5 3.1l3.5 5.2l3.5 3.4l3.5 0.6l3.5 -1.1l3.5 -2.2l3.5 -3.9l3.5 -5.2l3.5 -3.1l3.5 3.2l3.5 8l3.5 5.7l3.5 1.8l3.5 1l3.5 1.7l3.5 2.9l3.5 3.1l3.5 0.9l3.5 -1.6l3.5 -0.4l3.5 3.8l3.5 6.2l3.5 5.9l3.5 5.4l3.5 4.6l3.5 3.8l3.5 3.2l3.5 2.2"/><path d="M642.7 592.4l3.5 2.4l3.5 -2.8l3.5 -6.9l3.5 -7.5l3.5 -5l3.5 -1.7l3.5 2.2l3.5 4.3l3.5 3.9l3.5 2.2l3.5 -0.2l3.5 -2.6l3.5 -6l3.5 -10l3.5 -10.3l3.5 -4.7l3.5 3l3.5 6.7l3.5 5.1l3.5 1.6l3.5 -0.7l3.5 -1.8l3.5 -2.4l3.5 -1.9l3.5 1.9l3.5 8.8l3.5 12.3l3.5 7.3l3.5 -0.2l3.5 -4.3l3.5 -5.5l3.5 -4.2l3.5 -2.3l3.5 -2l3.5 -2.5l3.5 -0.4l3.5 3.3l3.5 3.8l3.5 1.7l3.5 0.6l3.5 1.1l3.5 3.2l3.5 6.4l3.5 8.4"/><path d="M642.7 612.8l3.5 -3.7l3.5 -7l3.5 -9.1l3.5 -9l3.5 -6.9l3.5 -5l3.5 -2.5l3.5 -1.2l3.5 -0.8l3.5 -0.6l3.5 -0.3l3.5 -0.5l3.5 -2.8l3.5 -7.4l3.5 -9.4l3.5 -5.7l3.5 0.8l3.5 4.7l3.5 4.7l3.5 3.4l3.5 2.7l3.5 1.7l3.5 -0.6l3.5 -3.2l3.5 -2.6l3.5 2.3l3.5 6l3.5 3.5l3.5 -0.2l3.5 -0.2l3.5 1.4l3.5 3.4l3.5 4.2l3.5 2.3l3.5 -0.4l3.5 0.6l3.5 4.5l3.5 6.8l3.5 6.8l3.5 6.8l3.5 6.7l3.5 6.1l3.5 5.2l3.5 3"/><path d="M642.7 592.8l3.5 -5.1l3.5 -6.5l3.5 -7l3.5 -5.8l3.5 -3.1l3.5 -0.9l3.5 1.3l3.5 2.4l3.5 2.2l3.5 1.8l3.5 1.2l3.5 0.1l3.5 -3.1l3.5 -8.5l3.5 -11.2l3.5 -8.2l3.5 -2.1l3.5 1.6l3.5 1.7l3.5 0.7l3.5 0.6l3.5 0.5l3.5 -0.8l3.5 -2.2l3.5 -0.6l3.5 5l3.5 9.1l3.5 6.5l3.5 2.5l3.5 1.9l3.5 2.9l3.5 4.3l3.5 4.5l3.5 1.9l3.5 -1.5l3.5 -1.4l3.5 1.5l3.5 2.5l3.5 1.1l3.5 0.3l3.5 0.3l3.5 1.5l3.5 4l3.5 6.5"/><path d="M642.7 597.1l3.5 -5.3l3.5 -8l3.5 -9.7l3.5 -9.4l3.5 -7.3l3.5 -5.4l3.5 -3.7l3.5 -2.7l3.5 -2.2l3.5 -1.6l3.5 -0.7l3.5 -0.2l3.5 -1.7l3.5 -5.7l3.5 -7.3l3.5 -3.7l3.5 2.5l3.5 5.8l3.5 5.2l3.5 3.4l3.5 2.5l3.5 1.7l3.5 0l3.5 -1.7l3.5 -0.4l3.5 5l3.5 8.7l3.5 5.5l3.5 0.9l3.5 -0.4l3.5 0.2l3.5 1.6l3.5 2.3l3.5 0.9l3.5 -0.9l3.5 1.1l3.5 5.7l3.5 8.1l3.5 7.9l3.5 7.5l3.5 6.5l3.5 5.1l3.5 3.8l3.5 1.8"/><path d="M642.7 626.1l3.5 0.6l3.5 -4.8l3.5 -9.1l3.5 -10.6l3.5 -9.6l3.5 -8.2l3.5 -5.3l3.5 -3.8l3.5 -3.2l3.5 -2.5l3.5 -1.3l3.5 -0.4l3.5 -1.4l3.5 -4.8l3.5 -6l3.5 -2.3l3.5 3.3l3.5 5.4l3.5 3.1l3.5 -0.6l3.5 -3l3.5 -4.5l3.5 -5.7l3.5 -5.7l3.5 -1.6l3.5 7l3.5 13.7l3.5 12.6l3.5 8.5l3.5 6.1l3.5 4l3.5 1.8l3.5 -1.3l3.5 -5.8l3.5 -9.3l3.5 -7.5l3.5 -1.4l3.5 3.3l3.5 6l3.5 8.9l3.5 11l3.5 11.7l3.5 11.3l3.5 9"/><path d="M642.7 602.3l3.5 -3.7l3.5 -6.1l3.5 -7.6l3.5 -7l3.5 -4.9l3.5 -3.2l3.5 -1.3l3.5 -0.5l3.5 -0.6l3.5 -0.8l3.5 -0.7l3.5 -0.8l3.5 -2.8l3.5 -7.1l3.5 -8.8l3.5 -5l3.5 1.3l3.5 4.8l3.5 4.3l3.5 2.4l3.5 1.4l3.5 0.4l3.5 -1.5l3.5 -3.4l3.5 -2.2l3.5 3.3l3.5 7.1l3.5 4.3l3.5 -0.1l3.5 -1l3.5 -0.3l3.5 1.3l3.5 2.1l3.5 0.7l3.5 -0.9l3.5 1.2l3.5 6.1l3.5 8.9l3.5 9.2l3.5 9.2l3.5 8.6l3.5 7.3l3.5 5.7l3.5 3.2"/><path d="M642.7 622.4l3.5 -1.9l3.5 -6l3.5 -9.1l3.5 -9.7l3.5 -8.1l3.5 -6.3l3.5 -3.5l3.5 -2.2l3.5 -2.2l3.5 -2.3l3.5 -2.2l3.5 -2.3l3.5 -4l3.5 -7.7l3.5 -8.4l3.5 -3.5l3.5 3.8l3.5 7.8l3.5 7.3l3.5 4.7l3.5 2.6l3.5 0.4l3.5 -2.5l3.5 -4.8l3.5 -3.3l3.5 2.8l3.5 7.4l3.5 5.1l3.5 0.8l3.5 -0.5l3.5 -0.5l3.5 0.4l3.5 1l3.5 0.1l3.5 -0.6l3.5 3l3.5 9.2l3.5 13.5l3.5 14.4l3.5 13.3l3.5 10.5l3.5 6.4l3.5 2.1l3.5 -1.9"/><path d="M642.7 592.9l3.5 -10.6l3.5 -11.3l3.5 -9.2l3.5 -4.9l3.5 -0.4l3.5 1.7l3.5 1.9l3.5 0.6l3.5 -1.3l3.5 -1.8l3.5 -0.5l3.5 1.7l3.5 1.9l3.5 -1.5l3.5 -4.2l3.5 -3.3l3.5 -0.5l3.5 0.2l3.5 -1.4l3.5 -2.2l3.5 -0.8l3.5 0.9l3.5 0.5l3.5 -1.5l3.5 -2l3.5 1.2l3.5 3.4l3.5 0.5l3.5 -2.2l3.5 -0.6l3.5 2.4l3.5 4.7l3.5 4.3l3.5 0.3l3.5 -4.2l3.5 -3.8l3.5 1.4l3.5 5.2l3.5 8.2l3.5 11.5l3.5 12.8l3.5 10.9l3.5 6.7l3.5 1"/><path d="M642.7 596.9l3.5 -2.7l3.5 -6.6l3.5 -9.3l3.5 -9.2l3.5 -6.6l3.5 -3.5l3.5 -0.1l3.5 2.5l3.5 3.7l3.5 4l3.5 3.4l3.5 1.7l3.5 -2.3l3.5 -8.4l3.5 -11.4l3.5 -8l3.5 -1.2l3.5 3.3l3.5 3.9l3.5 2.8l3.5 1.9l3.5 0.5l3.5 -2.2l3.5 -4.6l3.5 -3.4l3.5 2.6l3.5 7.7l3.5 6.3l3.5 3.3l3.5 2.9l3.5 3.3l3.5 3.5l3.5 2.3l3.5 -1.2l3.5 -4.6l3.5 -3.3l3.5 1.7l3.5 5l3.5 6.2l3.5 7.4l3.5 7.7l3.5 6.7l3.5 4.7l3.5 1.6"/><path d="M642.7 619.4l3.5 -1.8l3.5 -5.2l3.5 -7.8l3.5 -8.5l3.5 -7.3l3.5 -6.2l3.5 -4.1l3.5 -3.3l3.5 -3.3l3.5 -3.1l3.5 -2.4l3.5 -1.9l3.5 -3.4l3.5 -7.2l3.5 -8.5l3.5 -4.6l3.5 1.9l3.5 5.5l3.5 5.3l3.5 3.7l3.5 2.9l3.5 2.2l3.5 0.5l3.5 -1.3l3.5 -0.2l3.5 4.8l3.5 8.1l3.5 4.5l3.5 -0.5l3.5 -2.2l3.5 -2l3.5 -0.8l3.5 -0.2l3.5 -1.5l3.5 -3l3.5 -0.6l3.5 4.7l3.5 7.7l3.5 8.3l3.5 8.7l3.5 8.6l3.5 8l3.5 7.3l3.5 5.6"/><path d="M642.7 572.9l3.5 -6.7l3.5 -7.4l3.5 -7.4l3.5 -5.9l3.5 -3.4l3.5 -1.7l3.5 -1l3.5 -0.5l3.5 -0.2l3.5 0.5l3.5 1.9l3.5 3.2l3.5 2.2l3.5 -1.5l3.5 -3.5l3.5 -0.9l3.5 3.7l3.5 5.2l3.5 3.1l3.5 0.3l3.5 -0.8l3.5 -1l3.5 -1.5l3.5 -1.8l3.5 0.8l3.5 7l3.5 10.9l3.5 7.4l3.5 2.1l3.5 0.1l3.5 0.2l3.5 1.6l3.5 2.7l3.5 2l3.5 0.8l3.5 3l3.5 7.4l3.5 10l3.5 9l3.5 6.7l3.5 3.8l3.5 1l3.5 -1l3.5 -2.7"/><path d="M642.7 581.0l3.5 -4.6l3.5 -2.9l3.5 -1.7l3.5 -0.5l3.5 0.6l3.5 0.1l3.5 -0.5l3.5 -2l3.5 -3.8l3.5 -4.6l3.5 -3.7l3.5 -2.3l3.5 -2.3l3.5 -4.9l3.5 -5.7l3.5 -2.2l3.5 2.7l3.5 4.1l3.5 1.5l3.5 -1.9l3.5 -3.3l3.5 -3.2l3.5 -3l3.5 -2.1l3.5 1.9l3.5 9.2l3.5 13.6l3.5 9.7l3.5 2.9l3.5 -1.2l3.5 -3.4l3.5 -4l3.5 -3.8l3.5 -4.2l3.5 -3.5l3.5 1.6l3.5 9.3l3.5 13.6l3.5 14.6l3.5 13.6l3.5 10l3.5 4.5l3.5 -1.5l3.5 -7.1"/><path d="M642.7 611.2l3.5 -2.6l3.5 -8.9l3.5 -14l3.5 -15.4l3.5 -13l3.5 -8.8l3.5 -4.1l3.5 0.3l3.5 3.6l3.5 5.5l3.5 5.9l3.5 4.3l3.5 -0.2l3.5 -7.2l3.5 -11.1l3.5 -8.4l3.5 -1.9l3.5 2.7l3.5 3.8l3.5 3.4l3.5 3.3l3.5 2.6l3.5 0.4l3.5 -2.1l3.5 -1.6l3.5 3.3l3.5 6.7l3.5 3.6l3.5 -0.9l3.5 -1.7l3.5 -0.7l3.5 1.3l3.5 2.7l3.5 1.9l3.5 0.6l3.5 2.6l3.5 6.7l3.5 8.1l3.5 6.5l3.5 4.4l3.5 2.5l3.5 1.4l3.5 1.9l3.5 3.4"/><path d="M642.7 601.5l3.5 -1.8l3.5 -0.7l3.5 -1.3l3.5 -2.5l3.5 -3.8l3.5 -5.9l3.5 -6.3l3.5 -6.9l3.5 -6.4l3.5 -3.9l3.5 0.2l3.5 4.1l3.5 4.7l3.5 0.9l3.5 -2.9l3.5 -3.1l3.5 -1.5l3.5 -2l3.5 -4.5l3.5 -5.9l3.5 -4.1l3.5 -0.7l3.5 1.8l3.5 3.1l3.5 5.4l3.5 9.4l3.5 10.1l3.5 3.4l3.5 -4.1l3.5 -6.4l3.5 -4.7l3.5 -0.3l3.5 4.2l3.5 6.1l3.5 6l3.5 7.2l3.5 9l3.5 8.3l3.5 3.8l3.5 -0.9l3.5 -3.6l3.5 -3.3l3.5 0.6l3.5 6"/><path d="M642.7 569.8l3.5 -9.4l3.5 -7.6l3.5 -4.9l3.5 -1.6l3.5 1.4l3.5 2.1l3.5 1.1l3.5 -0.6l3.5 -2.4l3.5 -3l3.5 -1.7l3.5 0.5l3.5 1.1l3.5 -1.2l3.5 -2.6l3.5 -0.4l3.5 2.8l3.5 2.6l3.5 -1l3.5 -4.5l3.5 -5.1l3.5 -3.8l3.5 -2.4l3.5 -0.9l3.5 2.5l3.5 8.3l3.5 10.8l3.5 5.2l3.5 -2l3.5 -5l3.5 -4.7l3.5 -1.9l3.5 1.4l3.5 2.8l3.5 3l3.5 5.4l3.5 8.8l3.5 8.3l3.5 4.8l3.5 1.5l3.5 -0.8l3.5 -1.2l3.5 0.8l3.5 3.6"/><path d="M642.7 606.2l3.5 -8.5l3.5 -12.8l3.5 -14.5l3.5 -12l3.5 -6l3.5 0.4l3.5 5.9l3.5 9.3l3.5 9.2l3.5 6.2l3.5 1.3l3.5 -4.4l3.5 -10.8l3.5 -17.1l3.5 -18.1l3.5 -11.5l3.5 -1.6l3.5 5.1l3.5 6.5l3.5 5l3.5 3.5l3.5 1.7l3.5 -0.7l3.5 -2.7l3.5 -1.4l3.5 3.8l3.5 6.7l3.5 2.5l3.5 -3.1l3.5 -4.2l3.5 -2l3.5 2.6l3.5 7.2l3.5 9.1l3.5 8.6l3.5 9.2l3.5 10l3.5 7.9l3.5 2.6l3.5 -2.3l3.5 -4.8l3.5 -4l3.5 -0.1l3.5 4.3"/><path d="M642.7 578.5l3.5 -7.9l3.5 -10.2l3.5 -10.9l3.5 -8.8l3.5 -4.6l3.5 -0.6l3.5 2.1l3.5 4.4l3.5 5.4l3.5 5.6l3.5 5.1l3.5 3.6l3.5 -0.3l3.5 -6.6l3.5 -10.3l3.5 -8.2l3.5 -3.2l3.5 -0.6l3.5 -1.6l3.5 -3.5l3.5 -4.3l3.5 -4.6l3.5 -5.3l3.5 -5.5l3.5 -2.1l3.5 5.8l3.5 12.1l3.5 11.3l3.5 8.3l3.5 7.8l3.5 7.9l3.5 7.8l3.5 6.3l3.5 2.2l3.5 -2.2l3.5 -2.4l3.5 0.6l3.5 1.6l3.5 0.1l3.5 -1.3l3.5 -2.6l3.5 -4l3.5 -4.8l3.5 -5.4"/><path d="M642.7 582.9l3.5 -4l3.5 -6l3.5 -7.1l3.5 -6.3l3.5 -3.9l3.5 -2.1l3.5 -0.6l3.5 0.2l3.5 0.1l3.5 0l3.5 0.2l3.5 0l3.5 -2.1l3.5 -6.6l3.5 -8.6l3.5 -5.2l3.5 0.7l3.5 3.9l3.5 3.1l3.5 1.2l3.5 0.1l3.5 -0.7l3.5 -2.4l3.5 -3.9l3.5 -2.3l3.5 3.6l3.5 7.8l3.5 5.2l3.5 1.1l3.5 0.3l3.5 1.1l3.5 2.6l3.5 3.2l3.5 1.5l3.5 -0.7l3.5 0.8l3.5 5.2l3.5 6.9l3.5 6.4l3.5 6l3.5 5.4l3.5 4.5l3.5 3.6l3.5 2.1"/><path d="M642.7 597.7l3.5 -1.2l3.5 -2.6l3.5 -3.8l3.5 -3.7l3.5 -2.5l3.5 -2l3.5 -0.9l3.5 -1.4l3.5 -3l3.5 -4.3l3.5 -4.8l3.5 -4.9l3.5 -5.9l3.5 -8.5l3.5 -8.1l3.5 -2.3l3.5 5.6l3.5 9.8l3.5 8.9l3.5 5.5l3.5 2.2l3.5 -1.3l3.5 -5.3l3.5 -8.3l3.5 -7.1l3.5 -0.5l3.5 5.5l3.5 5.1l3.5 3.2l3.5 4.1l3.5 5.8l3.5 7.3l3.5 7.1l3.5 4.1l3.5 0.4l3.5 0.4l3.5 3.2l3.5 5.1l3.5 3.9l3.5 2.5l3.5 1.5l3.5 1.1l3.5 1.9l3.5 3.2"/><path d="M642.7 605.4l3.5 -8.1l3.5 -8.1l3.5 -6.6l3.5 -3.7l3.5 -0.5l3.5 0.6l3.5 0.9l3.5 -1.2l3.5 -4.5l3.5 -6.9l3.5 -7.2l3.5 -5.6l3.5 -4.1l3.5 -4.1l3.5 -1.9l3.5 4l3.5 10l3.5 10.8l3.5 5.9l3.5 -0.9l3.5 -6l3.5 -9.2l3.5 -11.1l3.5 -10.8l3.5 -5.9l3.5 3.7l3.5 11.3l3.5 11l3.5 8l3.5 7l3.5 6.8l3.5 6.5l3.5 4.9l3.5 0.7l3.5 -4.1l3.5 -4.9l3.5 -2.3l3.5 -0.9l3.5 -1.2l3.5 0.4l3.5 3.9l3.5 8.8l3.5 14l3.5 17.1"/><path d="M642.7 602.1l3.5 -1.2l3.5 -2.3l3.5 -3.7l3.5 -4.1l3.5 -3.7l3.5 -3.9l3.5 -3.1l3.5 -3.4l3.5 -4.2l3.5 -4.2l3.5 -3.1l3.5 -1.8l3.5 -2.3l3.5 -5.3l3.5 -6.4l3.5 -2.9l3.5 2.4l3.5 4.4l3.5 2.1l3.5 -1.4l3.5 -3.5l3.5 -4.6l3.5 -5.9l3.5 -6.2l3.5 -2.8l3.5 4.9l3.5 10.9l3.5 9.4l3.5 5.6l3.5 4.3l3.5 3.9l3.5 3.7l3.5 2.6l3.5 -0.6l3.5 -3.6l3.5 -2.2l3.5 2.8l3.5 6.1l3.5 7.4l3.5 8.9l3.5 10.1l3.5 10.5l3.5 10.2l3.5 8.3"/><path d="M642.7 590.5l3.5 -3.2l3.5 -1.6l3.5 -1.1l3.5 -1.4l3.5 -2.1l3.5 -4.2l3.5 -5.3l3.5 -6.4l3.5 -6.4l3.5 -4.1l3.5 -0.1l3.5 3.7l3.5 4.2l3.5 0l3.5 -4.2l3.5 -4.8l3.5 -3.2l3.5 -3.3l3.5 -4.8l3.5 -4.9l3.5 -1.9l3.5 2.1l3.5 4.3l3.5 4.5l3.5 5.1l3.5 7.6l3.5 7.5l3.5 1.1l3.5 -5l3.5 -5.3l3.5 -1.8l3.5 3.5l3.5 7.4l3.5 7.3l3.5 4.4l3.5 3.1l3.5 3.6l3.5 2.7l3.5 0.1l3.5 -0.6l3.5 1.3l3.5 4.9l3.5 9l3.5 10.9"/></g>
<clipPath id="c642_636"><rect x="642.7" y="510.2" width="170" height="140"/></clipPath>
<g clip-path="url(#c642_636)"><g fill="none" stroke-width="6.6" stroke-linecap="round" stroke-linejoin="round"><path d="M642.7 598.6l1.6 -1.7" stroke="#2affd4"/><path d="M644.3 596.9l1.6 -2.4" stroke="#54ffaa"/><path d="M645.8 594.6l1.6 -2.8" stroke="#7fff7f"/><path d="M647.4 591.7l1.6 -3.2" stroke="#bfff3f"/><path d="M648.9 588.6l1.6 -3.5" stroke="#ffff00"/><path d="M650.5 585.1l1.6 -3.7" stroke="#ffbf00"/><path d="M652.0 581.4l1.6 -3.8" stroke="#ff6a00"/><path d="M653.6 577.7l1.6 -3.6" stroke="#ff2a00"/><path d="M655.1 574.1l1.6 -3.1" stroke="#e90000"/><path d="M656.7 571.0l1.6 -2.6l1.6 -2.2l1.6 -1.8l1.6 -1.4l1.6 -1l1.6 -0.6l1.6 -0.2l1.6 -0l1.6 0l1.6 0.1l1.6 0.1l1.6 0.1l1.6 0.2l1.6 0.2l1.6 0.3l1.6 0.4l1.6 0.3l1.6 0.2l1.6 -0.3l1.6 -1l1.6 -2l1.6 -3l1.6 -3.7l1.6 -4l1.6 -3.7l1.6 -3l1.6 -1.9l1.6 -0.7l1.6 0.4l1.6 1.1l1.6 1.4l1.6 1.3l1.6 1.1l1.6 0.7l1.6 0.3l1.6 0.1l1.6 -0l1.6 -0.1l1.6 -0.1l1.6 -0.2l1.6 -0.4l1.6 -0.7l1.6 -1l1.6 -1.3l1.6 -1.3l1.6 -0.9l1.6 -0.1l1.6 1l1.6 2.4l1.6 3.6l1.6 4.1l1.6 4l1.6 3.2l1.6 2.1l1.6 1.1l1.6 0.5l1.6 0.2l1.6 0.2l1.6 0.2l1.6 0.3l1.6 0.5l1.6 0.8l1.6 1l1.6 1.1l1.6 1l1.6 0.7l1.6 0.2l1.6 -0.4l1.6 -0.8l1.6 -0.8l1.6 -0.3l1.6 0.6l1.6 1.5l1.6 2.4" stroke="#a90000"/><path d="M771.6 570.4l1.6 2.9" stroke="#d40000"/><path d="M773.2 573.3l1.6 3.1" stroke="#ff1500"/><path d="M774.7 576.4l1.6 3.1" stroke="#ff5500"/><path d="M776.3 579.5l1.6 3" stroke="#ff9400"/><path d="M777.8 582.4l1.6 2.9" stroke="#ffbf00"/><path d="M779.4 585.3l1.6 2.8" stroke="#ffff00"/><path d="M780.9 588.1l1.6 2.8" stroke="#bfff3f"/><path d="M782.5 590.9l1.6 2.6" stroke="#94ff6a"/><path d="M784.0 593.5l1.6 2.5" stroke="#6aff94"/><path d="M785.6 596.0l1.6 2.3" stroke="#2affd4"/><path d="M787.1 598.2l1.6 2.1" stroke="#00ffff"/><path d="M788.7 600.3l1.6 1.9" stroke="#00e9ff"/><path d="M790.2 602.3l1.6 1.8" stroke="#00bfff"/><path d="M791.8 604.1l1.6 1.6" stroke="#0094ff"/><path d="M793.3 605.7l1.6 1.3" stroke="#007fff"/><path d="M794.9 607.0l1.6 1" stroke="#006aff"/></g></g>
<path d="M642.7 515.2V636.6H796.4" fill="none" stroke="#3a3a3a" stroke-width="1"/><path d="M656.7 636.6v-2M672.2 636.6v-2M687.7 636.6v-2M703.3 636.6v-2M718.8 636.6v-2M734.3 636.6v-2M749.9 636.6v-2M765.4 636.6v-2M780.9 636.6v-2M796.4 636.6v-2M642.7 619.2h2M642.7 601.9h2M642.7 584.6h2M642.7 567.2h2M642.7 549.9h2M642.7 532.5h2" stroke="#3a3a3a" stroke-width="0.8"/>
<g font-family="'Liberation Serif', serif" font-size="8.3" fill="#555" text-anchor="middle"><text x="656.7" y="645.3">10</text><text x="672.2" y="645.3">20</text><text x="687.7" y="645.3">30</text><text x="703.3" y="645.3">40</text><text x="718.8" y="645.3">50</text><text x="734.3" y="645.3">60</text><text x="749.9" y="645.3">70</text><text x="765.4" y="645.3">80</text><text x="780.9" y="645.3">90</text><text x="796.4" y="645.3">100</text></g>
<text x="719.6" y="657.4" text-anchor="middle" font-family="'Liberation Serif', serif" font-size="11.8" fill="#222">Location</text>
</svg></body></html>
